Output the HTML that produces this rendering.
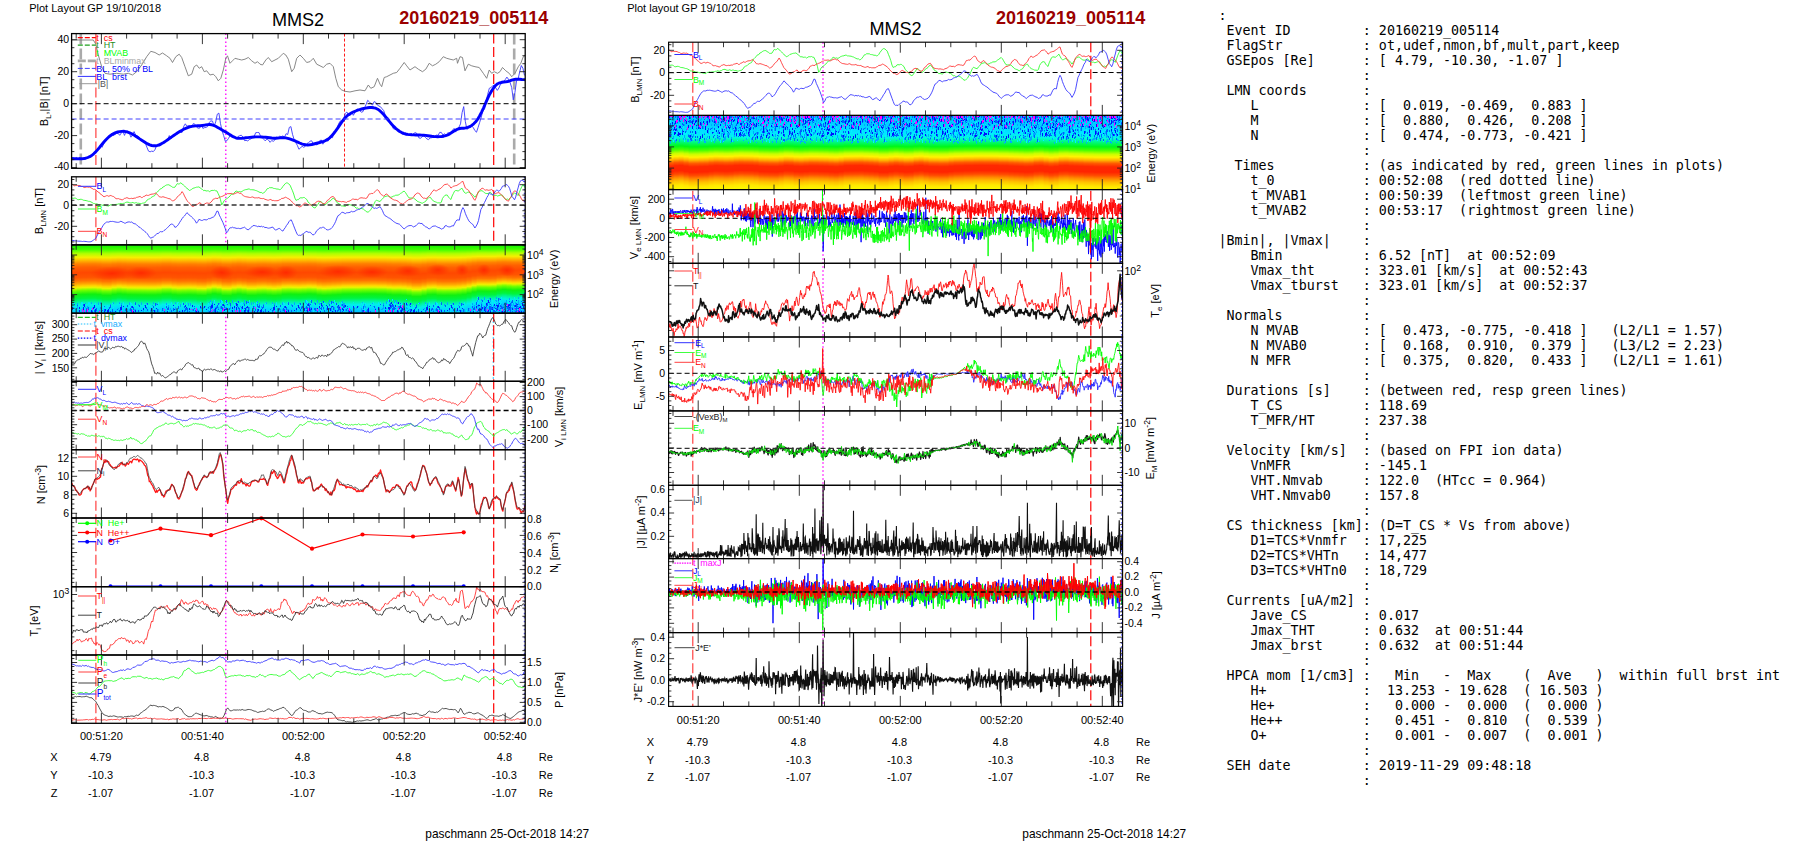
<!DOCTYPE html>
<html lang="en"><head><meta charset="utf-8"><title>MMS2 20160219_005114</title>
<style>
html,body{margin:0;padding:0;background:#fff}
body{width:1804px;height:841px;position:relative;overflow:hidden}
pre{position:absolute;left:1218.4px;top:8px;margin:0;font-family:"DejaVu Sans Mono","Liberation Mono",monospace;font-size:13.333px;line-height:15px;color:#000;white-space:pre}
</style></head><body>
<svg width="1804" height="841" viewBox="0 0 1804 841" font-family="'Liberation Sans', Arial, sans-serif" style="position:absolute;left:0;top:0">
<rect width="1804" height="841" fill="#fff"/>
<defs>
<clipPath id="cl0"><rect x="71.6" y="33.6" width="453.6" height="134.7"/></clipPath>
<clipPath id="cl1"><rect x="71.6" y="176.8" width="453.6" height="68.1"/></clipPath>
<clipPath id="cl2"><rect x="71.6" y="244.8" width="453.6" height="68.4"/></clipPath>
<clipPath id="cl3"><rect x="71.6" y="313.2" width="453.6" height="68.1"/></clipPath>
<clipPath id="cl4"><rect x="71.6" y="381.3" width="453.6" height="68.4"/></clipPath>
<clipPath id="cl5"><rect x="71.6" y="449.7" width="453.6" height="68.3"/></clipPath>
<clipPath id="cl6"><rect x="71.6" y="518" width="453.6" height="68.7"/></clipPath>
<clipPath id="cl7"><rect x="71.6" y="586.7" width="453.6" height="68.3"/></clipPath>
<clipPath id="cl8"><rect x="71.6" y="655" width="453.6" height="68.3"/></clipPath>
<clipPath id="cr0"><rect x="668.6" y="42.2" width="454" height="73.2"/></clipPath>
<clipPath id="cr1"><rect x="668.6" y="115.4" width="454" height="74.2"/></clipPath>
<clipPath id="cr2"><rect x="668.6" y="189.6" width="454" height="73.7"/></clipPath>
<clipPath id="cr3"><rect x="668.6" y="263.3" width="454" height="73.7"/></clipPath>
<clipPath id="cr4"><rect x="668.6" y="337" width="454" height="73.9"/></clipPath>
<clipPath id="cr5"><rect x="668.6" y="410.9" width="454" height="74.4"/></clipPath>
<clipPath id="cr6"><rect x="668.6" y="485.3" width="454" height="73.3"/></clipPath>
<clipPath id="cr7"><rect x="668.6" y="558.6" width="454" height="74"/></clipPath>
<clipPath id="cr8"><rect x="668.6" y="632.6" width="454" height="73.8"/></clipPath>
</defs>
<text x="29.2" y="12" font-size="11">Plot Layout GP 19/10/2018</text>
<text x="271.9" y="26" font-size="18.1">MMS2</text>
<text x="399.2" y="24" font-size="18.0" font-weight="bold" fill="#9b0000">20160219_005114</text>
<text x="627.2" y="12" font-size="11">Plot layout GP 19/10/2018</text>
<text x="869.4" y="34.5" font-size="18.1">MMS2</text>
<text x="996" y="24.2" font-size="18.0" font-weight="bold" fill="#9b0000">20160219_005114</text>
<text x="425.3" y="838" font-size="11.9">paschmann 25-Oct-2018 14:27</text>
<text x="1022.3" y="838" font-size="11.9">paschmann 25-Oct-2018 14:27</text>
<line x1="80.8" y1="33.6" x2="80.8" y2="168.2" stroke="#aaa" stroke-width="2.6" stroke-dasharray="11 4"/>
<line x1="514.2" y1="33.6" x2="514.2" y2="168.2" stroke="#aaa" stroke-width="2.6" stroke-dasharray="11 4"/>
<line x1="344.5" y1="33.6" x2="344.5" y2="168.2" stroke="#ff0000" stroke-width="0.9" stroke-dasharray="3 2"/>
<line x1="493.3" y1="313.2" x2="493.3" y2="381.3" stroke="#00c0ff" stroke-width="1.2" stroke-dasharray="1.5 2.5"/>
<line x1="95.9" y1="33.6" x2="95.9" y2="168.2" stroke="#ff3030" stroke-width="1.1" stroke-dasharray="10 3.5"/>
<line x1="493.7" y1="33.6" x2="493.7" y2="168.2" stroke="#ff0000" stroke-width="1.2" stroke-dasharray="10 3.5"/>
<line x1="225.8" y1="33.6" x2="225.8" y2="168.2" stroke="#ff00ff" stroke-width="1.3" stroke-dasharray="1.5 2.5"/>
<line x1="95.9" y1="176.8" x2="95.9" y2="723.3" stroke="#ff3030" stroke-width="1.1" stroke-dasharray="10 3.5"/>
<line x1="493.7" y1="176.8" x2="493.7" y2="723.3" stroke="#ff0000" stroke-width="1.2" stroke-dasharray="10 3.5"/>
<line x1="225.8" y1="176.8" x2="225.8" y2="723.3" stroke="#ff00ff" stroke-width="1.3" stroke-dasharray="1.5 2.5"/>
<line x1="692.8" y1="42.2" x2="692.8" y2="706.4" stroke="#ff3030" stroke-width="1.1" stroke-dasharray="10 3.5"/>
<line x1="1090.8" y1="42.2" x2="1090.8" y2="706.4" stroke="#ff0000" stroke-width="1.2" stroke-dasharray="10 3.5"/>
<line x1="823" y1="42.2" x2="823" y2="706.4" stroke="#ff00ff" stroke-width="1.3" stroke-dasharray="1.5 2.5"/>
<linearGradient id="sgl" x1="0" y1="0" x2="0" y2="1">
<stop offset="0.0" stop-color="#10ee00"/>
<stop offset="0.07" stop-color="#40ff00"/>
<stop offset="0.13" stop-color="#b0ff00"/>
<stop offset="0.185" stop-color="#f4f000"/>
<stop offset="0.235" stop-color="#ffb400"/>
<stop offset="0.28" stop-color="#ff8000"/>
<stop offset="0.33" stop-color="#ff6000"/>
<stop offset="0.41" stop-color="#ff4800"/>
<stop offset="0.48" stop-color="#ff5400"/>
<stop offset="0.53" stop-color="#ff7400"/>
<stop offset="0.575" stop-color="#ffa800"/>
<stop offset="0.605" stop-color="#ffd400"/>
<stop offset="0.63" stop-color="#e8f400"/>
<stop offset="0.67" stop-color="#70ff00"/>
<stop offset="0.73" stop-color="#10f010"/>
<stop offset="0.79" stop-color="#00f440"/>
<stop offset="0.84" stop-color="#00f4a0"/>
<stop offset="0.885" stop-color="#00f0e8"/>
<stop offset="0.94" stop-color="#00d8ff"/>
<stop offset="1.0" stop-color="#00c0ff"/>
</linearGradient>
<rect x="71.6" y="244.8" width="453.6" height="68.4" fill="#00c0ff"/>
<g clip-path="url(#cl2)">
<rect x="71.6" y="244.8" width="5.6" height="69.1" fill="url(#sgl)"/>
<rect x="76.6" y="244.8" width="5.6" height="68.2" fill="url(#sgl)"/>
<rect x="81.6" y="244.8" width="5.6" height="67.9" fill="url(#sgl)"/>
<rect x="86.6" y="244.8" width="5.6" height="67.7" fill="url(#sgl)"/>
<rect x="91.6" y="244.8" width="5.6" height="67.6" fill="url(#sgl)"/>
<rect x="96.6" y="244.8" width="5.6" height="68.1" fill="url(#sgl)"/>
<rect x="101.6" y="244.8" width="5.6" height="69.1" fill="url(#sgl)"/>
<rect x="106.6" y="244.8" width="5.6" height="69.2" fill="url(#sgl)"/>
<rect x="111.6" y="244.8" width="5.6" height="68" fill="url(#sgl)"/>
<rect x="116.6" y="244.8" width="5.6" height="67.2" fill="url(#sgl)"/>
<rect x="121.6" y="244.8" width="5.6" height="67.7" fill="url(#sgl)"/>
<rect x="126.6" y="244.8" width="5.6" height="68.3" fill="url(#sgl)"/>
<rect x="131.6" y="244.8" width="5.6" height="68.4" fill="url(#sgl)"/>
<rect x="136.6" y="244.8" width="5.6" height="68.5" fill="url(#sgl)"/>
<rect x="141.6" y="244.8" width="5.6" height="68.6" fill="url(#sgl)"/>
<rect x="146.6" y="244.8" width="5.6" height="68.7" fill="url(#sgl)"/>
<rect x="151.6" y="244.8" width="5.6" height="68.7" fill="url(#sgl)"/>
<rect x="156.6" y="244.8" width="5.6" height="68.4" fill="url(#sgl)"/>
<rect x="161.6" y="244.8" width="5.6" height="67.5" fill="url(#sgl)"/>
<rect x="166.6" y="244.8" width="5.6" height="67.4" fill="url(#sgl)"/>
<rect x="171.6" y="244.8" width="5.6" height="68.3" fill="url(#sgl)"/>
<rect x="176.6" y="244.8" width="5.6" height="68.8" fill="url(#sgl)"/>
<rect x="181.6" y="244.8" width="5.6" height="68.6" fill="url(#sgl)"/>
<rect x="186.6" y="244.8" width="5.6" height="68.4" fill="url(#sgl)"/>
<rect x="191.6" y="244.8" width="5.6" height="68.6" fill="url(#sgl)"/>
<rect x="196.6" y="244.8" width="5.6" height="69.2" fill="url(#sgl)"/>
<rect x="201.6" y="244.8" width="5.6" height="69.4" fill="url(#sgl)"/>
<rect x="206.6" y="244.8" width="5.6" height="68.2" fill="url(#sgl)"/>
<rect x="211.6" y="244.8" width="5.6" height="67" fill="url(#sgl)"/>
<rect x="216.6" y="244.8" width="5.6" height="67.7" fill="url(#sgl)"/>
<rect x="221.6" y="244.8" width="5.6" height="69.4" fill="url(#sgl)"/>
<rect x="226.6" y="244.8" width="5.6" height="69.6" fill="url(#sgl)"/>
<rect x="231.6" y="244.8" width="5.6" height="68.3" fill="url(#sgl)"/>
<rect x="236.6" y="244.8" width="5.6" height="67.4" fill="url(#sgl)"/>
<rect x="241.6" y="244.8" width="5.6" height="68.2" fill="url(#sgl)"/>
<rect x="246.6" y="244.8" width="5.6" height="69.2" fill="url(#sgl)"/>
<rect x="251.6" y="244.8" width="5.6" height="69.2" fill="url(#sgl)"/>
<rect x="256.6" y="244.8" width="5.6" height="68.6" fill="url(#sgl)"/>
<rect x="261.6" y="244.8" width="5.6" height="68.4" fill="url(#sgl)"/>
<rect x="266.6" y="244.8" width="5.6" height="68.9" fill="url(#sgl)"/>
<rect x="271.6" y="244.8" width="5.6" height="69.4" fill="url(#sgl)"/>
<rect x="276.6" y="244.8" width="5.6" height="68.9" fill="url(#sgl)"/>
<rect x="281.6" y="244.8" width="5.6" height="67.7" fill="url(#sgl)"/>
<rect x="286.6" y="244.8" width="5.6" height="67.5" fill="url(#sgl)"/>
<rect x="291.6" y="244.8" width="5.6" height="67.7" fill="url(#sgl)"/>
<rect x="296.6" y="244.8" width="5.6" height="67.9" fill="url(#sgl)"/>
<rect x="301.6" y="244.8" width="5.6" height="67.6" fill="url(#sgl)"/>
<rect x="306.6" y="244.8" width="5.6" height="67.2" fill="url(#sgl)"/>
<rect x="311.6" y="244.8" width="5.6" height="67.5" fill="url(#sgl)"/>
<rect x="316.6" y="244.8" width="5.6" height="68.7" fill="url(#sgl)"/>
<rect x="321.6" y="244.8" width="5.6" height="69.2" fill="url(#sgl)"/>
<rect x="326.6" y="244.8" width="5.6" height="68.9" fill="url(#sgl)"/>
<rect x="331.6" y="244.8" width="5.6" height="68.5" fill="url(#sgl)"/>
<rect x="336.6" y="244.8" width="5.6" height="68.2" fill="url(#sgl)"/>
<rect x="341.6" y="244.8" width="5.6" height="67.6" fill="url(#sgl)"/>
<rect x="346.6" y="244.8" width="5.6" height="67.5" fill="url(#sgl)"/>
<rect x="351.6" y="244.8" width="5.6" height="67.5" fill="url(#sgl)"/>
<rect x="356.6" y="244.8" width="5.6" height="67.5" fill="url(#sgl)"/>
<rect x="361.6" y="244.8" width="5.6" height="67.3" fill="url(#sgl)"/>
<rect x="366.6" y="244.8" width="5.6" height="67.2" fill="url(#sgl)"/>
<rect x="371.6" y="244.8" width="5.6" height="67.2" fill="url(#sgl)"/>
<rect x="376.6" y="244.8" width="5.6" height="67.4" fill="url(#sgl)"/>
<rect x="381.6" y="244.8" width="5.6" height="67.5" fill="url(#sgl)"/>
<rect x="386.6" y="244.8" width="5.6" height="68.1" fill="url(#sgl)"/>
<rect x="391.6" y="244.8" width="5.6" height="68.6" fill="url(#sgl)"/>
<rect x="396.6" y="244.8" width="5.6" height="68.5" fill="url(#sgl)"/>
<rect x="401.6" y="244.8" width="5.6" height="68.9" fill="url(#sgl)"/>
<rect x="406.6" y="244.8" width="5.6" height="69.7" fill="url(#sgl)"/>
<rect x="411.6" y="244.8" width="5.6" height="71" fill="url(#sgl)"/>
<rect x="416.6" y="244.8" width="5.6" height="71" fill="url(#sgl)"/>
<rect x="421.6" y="244.8" width="5.6" height="69.8" fill="url(#sgl)"/>
<rect x="426.6" y="244.8" width="5.6" height="68.3" fill="url(#sgl)"/>
<rect x="431.6" y="244.8" width="5.6" height="68" fill="url(#sgl)"/>
<rect x="436.6" y="244.8" width="5.6" height="69" fill="url(#sgl)"/>
<rect x="441.6" y="244.8" width="5.6" height="69.2" fill="url(#sgl)"/>
<rect x="446.6" y="244.8" width="5.6" height="69.1" fill="url(#sgl)"/>
<rect x="451.6" y="244.8" width="5.6" height="69.1" fill="url(#sgl)"/>
<rect x="456.6" y="244.8" width="5.6" height="68.6" fill="url(#sgl)"/>
<rect x="461.6" y="244.8" width="5.6" height="67.9" fill="url(#sgl)"/>
<rect x="466.6" y="244.8" width="5.6" height="66.4" fill="url(#sgl)"/>
<rect x="471.6" y="244.8" width="5.6" height="64.6" fill="url(#sgl)"/>
<rect x="476.6" y="244.8" width="5.6" height="63.3" fill="url(#sgl)"/>
<rect x="481.6" y="244.8" width="5.6" height="63.4" fill="url(#sgl)"/>
<rect x="486.6" y="244.8" width="5.6" height="63.5" fill="url(#sgl)"/>
<rect x="491.6" y="244.8" width="5.6" height="63.2" fill="url(#sgl)"/>
<rect x="496.6" y="244.8" width="5.6" height="61.8" fill="url(#sgl)"/>
<rect x="501.6" y="244.8" width="5.6" height="61.2" fill="url(#sgl)"/>
<rect x="506.6" y="244.8" width="5.6" height="61.7" fill="url(#sgl)"/>
<rect x="511.6" y="244.8" width="5.6" height="62.2" fill="url(#sgl)"/>
<rect x="516.6" y="244.8" width="5.6" height="61.9" fill="url(#sgl)"/>
<rect x="521.6" y="244.8" width="3.6" height="61.1" fill="url(#sgl)"/>
</g>
<pattern id="sgln" x="71" y="302" width="153" height="12" patternUnits="userSpaceOnUse">
<path d="M85.5 3v3M130.5 4v2M78.5 7v2M46.5 9v1M136.5 4v1M60.5 1v3M94.5 2v2M127.5 3v1M29.5 9v2M119.5 2v2M128.5 4v2M76.5 3v1M42.5 5v1M48.5 1v2M4.5 4v1M129.5 4v3M2.5 10v1M141.5 8v1M149.5 3v3M86.5 4v2M41.5 1v1M2.5 5v3M18.5 0v2M1.5 0v3M27.5 0v2M29.5 4v2M58.5 3v3M32.5 4v2M149.5 0v2M3.5 0v2M130.5 6v1M22.5 8v3M118.5 6v2M59.5 1v1M89.5 8v2M56.5 8v3M89.5 8v2M27.5 0v2M34.5 6v2M24.5 1v2M59.5 0v3M64.5 3v1M78.5 8v2M107.5 7v2M138.5 3v3M26.5 7v1M73.5 9v1M140.5 6v2M10.5 0v3M9.5 4v2M81.5 6v2M21.5 7v3M100.5 0v2M141.5 1v3M107.5 0v1M97.5 8v3M47.5 9v2M11.5 0v2M137.5 1v2M139.5 0v2M72.5 9v1M63.5 0v1M87.5 0v3M1.5 6v1M97.5 9v2M111.5 0v3M106.5 0v3M128.5 5v1M78.5 3v2M73.5 2v2M17.5 0v3M1.5 6v2M93.5 8v2M52.5 0v3M36.5 3v3M30.5 1v3M115.5 0v2M58.5 0v2M20.5 7v2M129.5 0v1" stroke="#00e8ff" stroke-width="1" fill="none"/>
<path d="M42.5 0v2M72.5 9v2M58.5 0v3M109.5 2v3M126.5 7v2M6.5 1v2M47.5 6v1M61.5 4v2M126.5 9v2M121.5 3v1M96.5 6v2M104.5 0v2M39.5 2v1M81.5 3v1M41.5 9v2M144.5 5v2M121.5 7v2M142.5 8v3M69.5 10v1M87.5 7v2M99.5 6v2M132.5 10v1M137.5 9v1M82.5 0v2M109.5 9v1M12.5 6v3M64.5 7v2M4.5 7v1M5.5 6v2M140.5 2v3M79.5 8v3M75.5 1v1M67.5 2v2M85.5 1v2M129.5 5v2M58.5 7v2M21.5 7v2M30.5 6v1M92.5 6v1M6.5 4v3M151.5 6v1M105.5 7v1M70.5 0v3M72.5 8v2M137.5 6v3M16.5 4v3M141.5 4v2M149.5 4v1M34.5 8v2M54.5 6v3M111.5 10v1M95.5 1v2M134.5 4v1M63.5 7v2M132.5 5v2M130.5 5v2M113.5 8v2M48.5 0v2M29.5 0v2M20.5 0v2M13.5 8v3M127.5 8v3M107.5 5v2M104.5 7v1M87.5 9v2M148.5 1v1M97.5 3v2M104.5 5v2M73.5 3v1M84.5 8v3M28.5 9v2M24.5 9v2M14.5 1v1M104.5 10v1M50.5 1v3M54.5 6v2M2.5 5v1M27.5 0v3M56.5 7v2M14.5 5v1M12.5 6v3M29.5 5v2M39.5 3v1M119.5 1v3M50.5 9v2M117.5 1v3M28.5 8v2M15.5 7v2M138.5 0v1M144.5 8v2" stroke="#00a8ff" stroke-width="1" fill="none"/>
<path d="M100.5 8v2M59.5 6v3M107.5 4v3M3.5 2v1M39.5 3v3M116.5 6v3M39.5 9v2M84.5 1v3M86.5 2v1M123.5 6v1M102.5 7v1M143.5 7v3M25.5 6v3M91.5 6v3M64.5 0v3M55.5 6v2M41.5 7v2M114.5 6v1M37.5 10v1M62.5 5v3M48.5 8v3M151.5 9v2M138.5 8v3M38.5 5v2M15.5 8v3M146.5 9v2M17.5 5v3M31.5 8v1M23.5 8v2M102.5 6v3M97.5 5v3M113.5 8v2M112.5 1v2M76.5 7v2M95.5 4v2M93.5 9v2M115.5 6v2M76.5 1v2M6.5 3v1M39.5 10v1M15.5 6v2M13.5 9v2M96.5 6v2M54.5 7v2M113.5 9v1M68.5 3v2M114.5 6v3M56.5 3v2M116.5 9v2M56.5 9v1M49.5 8v1M86.5 7v3M118.5 9v1M139.5 9v1M75.5 5v2M21.5 9v2M50.5 6v1M67.5 8v2M122.5 7v2M33.5 7v2M126.5 10v1M60.5 7v3M113.5 4v2M82.5 4v2M116.5 9v2M33.5 4v1M86.5 7v1M123.5 6v1M46.5 7v1M41.5 9v1M12.5 2v2M124.5 8v3M33.5 9v2M60.5 4v2M50.5 3v2M82.5 8v1M139.5 4v3M150.5 4v2M123.5 4v1M146.5 3v1" stroke="#0060ff" stroke-width="1" fill="none"/>
<path d="M108.5 9v1M64.5 8v2M24.5 8v3M49.5 5v3M44.5 9v1M111.5 8v2M118.5 6v2M115.5 5v1M139.5 8v1M30.5 9v2M36.5 8v3M34.5 7v2M61.5 4v2M144.5 6v3M74.5 3v3M52.5 4v1M33.5 9v1M20.5 8v3M121.5 3v2M8.5 5v2M133.5 4v2M37.5 7v3M24.5 7v2M22.5 5v2M151.5 7v2M8.5 8v2M125.5 9v2M12.5 5v2M80.5 6v3M12.5 6v2M28.5 9v2M13.5 2v3M83.5 8v3M127.5 9v2M62.5 9v2M102.5 3v1M105.5 10v1M103.5 7v1M1.5 5v3M72.5 6v2M70.5 8v1M129.5 4v2M23.5 3v3M114.5 3v2M85.5 6v1M30.5 10v1M144.5 8v3M50.5 5v3M21.5 10v1M96.5 9v2" stroke="#0020ff" stroke-width="1" fill="none"/>
<path d="M61.5 8v3M13.5 8v2M151.5 8v3M11.5 7v3M21.5 6v2M125.5 6v3M140.5 9v1M93.5 7v2M120.5 7v1M28.5 9v2M16.5 7v3M50.5 9v2" stroke="#ff00ff" stroke-width="1" fill="none"/>
</pattern>
<rect x="71.6" y="302.3" width="453.6" height="10.9" fill="url(#sgln)"/>
<radialGradient id="rb"><stop offset="0" stop-color="#ff2000" stop-opacity="0.75"/><stop offset="0.55" stop-color="#ff2800" stop-opacity="0.4"/><stop offset="1" stop-color="#ff3000" stop-opacity="0"/></radialGradient>
<ellipse cx="112" cy="273.5" rx="22" ry="7" fill="url(#rb)" clip-path="url(#cl2)"/>
<ellipse cx="141" cy="273" rx="16" ry="6.5" fill="url(#rb)" clip-path="url(#cl2)"/>
<ellipse cx="222" cy="272.5" rx="12" ry="7" fill="url(#rb)" clip-path="url(#cl2)"/>
<ellipse cx="262" cy="272" rx="18" ry="6" fill="url(#rb)" clip-path="url(#cl2)"/>
<ellipse cx="286" cy="272.5" rx="12" ry="7" fill="url(#rb)" clip-path="url(#cl2)"/>
<ellipse cx="338" cy="271.5" rx="20" ry="6.5" fill="url(#rb)" clip-path="url(#cl2)"/>
<ellipse cx="372" cy="272" rx="16" ry="6" fill="url(#rb)" clip-path="url(#cl2)"/>
<ellipse cx="408" cy="271" rx="14" ry="6" fill="url(#rb)" clip-path="url(#cl2)"/>
<ellipse cx="438" cy="270" rx="12" ry="6" fill="url(#rb)" clip-path="url(#cl2)"/>
<ellipse cx="462" cy="270" rx="7" ry="6" fill="url(#rb)" clip-path="url(#cl2)"/>
<ellipse cx="484" cy="270" rx="7" ry="6" fill="url(#rb)" clip-path="url(#cl2)"/>
<ellipse cx="507" cy="270.5" rx="9" ry="6" fill="url(#rb)" clip-path="url(#cl2)"/>
<g clip-path="url(#cl2)"><g transform="translate(37 -5)"><rect x="439" y="302" width="49.2" height="12" fill="url(#sgln)"/></g></g>
<g clip-path="url(#cl2)"><g transform="translate(71 -2)"><rect x="405" y="302" width="49.2" height="12" fill="url(#sgln)"/></g></g>
<g clip-path="url(#cl2)"><g transform="translate(17 0)"><rect x="467" y="302" width="41.2" height="12" fill="url(#sgln)"/></g></g>
<g clip-path="url(#cl2)"><g transform="translate(53 -3)"><rect x="333" y="302" width="26" height="12" fill="url(#sgln)"/></g></g>
<g clip-path="url(#cl2)"><g transform="translate(23 -2)"><rect x="277" y="302" width="45" height="12" fill="url(#sgln)"/></g></g>
<g clip-path="url(#cl2)"><g transform="translate(91 -2)"><rect x="114" y="302" width="57" height="12" fill="url(#sgln)"/></g></g>
<linearGradient id="sgr" x1="0" y1="0" x2="0" y2="1">
<stop offset="0.0" stop-color="#00c0ff"/>
<stop offset="0.12" stop-color="#00d0ff"/>
<stop offset="0.24" stop-color="#00e8ff"/>
<stop offset="0.3" stop-color="#00f8d8"/>
<stop offset="0.35" stop-color="#00f880"/>
<stop offset="0.41" stop-color="#00f818"/>
<stop offset="0.46" stop-color="#50ff00"/>
<stop offset="0.505" stop-color="#c8ff00"/>
<stop offset="0.545" stop-color="#fff400"/>
<stop offset="0.585" stop-color="#ffb400"/>
<stop offset="0.625" stop-color="#ff5c00"/>
<stop offset="0.67" stop-color="#ff2800"/>
<stop offset="0.74" stop-color="#ff2400"/>
<stop offset="0.785" stop-color="#ff4c00"/>
<stop offset="0.83" stop-color="#ff8c00"/>
<stop offset="0.875" stop-color="#ffc000"/>
<stop offset="0.93" stop-color="#ffe800"/>
<stop offset="1.0" stop-color="#f8ff00"/>
</linearGradient>
<rect x="668.6" y="115.4" width="454" height="74.2" fill="#f8ff00"/>
<g clip-path="url(#cr1)">
<rect x="668.6" y="115.4" width="5.6" height="76.2" fill="url(#sgr)"/>
<rect x="673.6" y="115.4" width="5.6" height="75.1" fill="url(#sgr)"/>
<rect x="678.6" y="115.4" width="5.6" height="74.7" fill="url(#sgr)"/>
<rect x="683.6" y="115.4" width="5.6" height="75.7" fill="url(#sgr)"/>
<rect x="688.6" y="115.4" width="5.6" height="76.8" fill="url(#sgr)"/>
<rect x="693.6" y="115.4" width="5.6" height="76.7" fill="url(#sgr)"/>
<rect x="698.6" y="115.4" width="5.6" height="76.4" fill="url(#sgr)"/>
<rect x="703.6" y="115.4" width="5.6" height="76.2" fill="url(#sgr)"/>
<rect x="708.6" y="115.4" width="5.6" height="75.5" fill="url(#sgr)"/>
<rect x="713.6" y="115.4" width="5.6" height="75" fill="url(#sgr)"/>
<rect x="718.6" y="115.4" width="5.6" height="75.2" fill="url(#sgr)"/>
<rect x="723.6" y="115.4" width="5.6" height="75.5" fill="url(#sgr)"/>
<rect x="728.6" y="115.4" width="5.6" height="75.3" fill="url(#sgr)"/>
<rect x="733.6" y="115.4" width="5.6" height="74.7" fill="url(#sgr)"/>
<rect x="738.6" y="115.4" width="5.6" height="74.4" fill="url(#sgr)"/>
<rect x="743.6" y="115.4" width="5.6" height="74.6" fill="url(#sgr)"/>
<rect x="748.6" y="115.4" width="5.6" height="74.7" fill="url(#sgr)"/>
<rect x="753.6" y="115.4" width="5.6" height="75.1" fill="url(#sgr)"/>
<rect x="758.6" y="115.4" width="5.6" height="75.9" fill="url(#sgr)"/>
<rect x="763.6" y="115.4" width="5.6" height="76.1" fill="url(#sgr)"/>
<rect x="768.6" y="115.4" width="5.6" height="76.3" fill="url(#sgr)"/>
<rect x="773.6" y="115.4" width="5.6" height="76.4" fill="url(#sgr)"/>
<rect x="778.6" y="115.4" width="5.6" height="75.8" fill="url(#sgr)"/>
<rect x="783.6" y="115.4" width="5.6" height="74.9" fill="url(#sgr)"/>
<rect x="788.6" y="115.4" width="5.6" height="75.1" fill="url(#sgr)"/>
<rect x="793.6" y="115.4" width="5.6" height="75.9" fill="url(#sgr)"/>
<rect x="798.6" y="115.4" width="5.6" height="76.2" fill="url(#sgr)"/>
<rect x="803.6" y="115.4" width="5.6" height="75.8" fill="url(#sgr)"/>
<rect x="808.6" y="115.4" width="5.6" height="75.4" fill="url(#sgr)"/>
<rect x="813.6" y="115.4" width="5.6" height="75.5" fill="url(#sgr)"/>
<rect x="818.6" y="115.4" width="5.6" height="75.7" fill="url(#sgr)"/>
<rect x="823.6" y="115.4" width="5.6" height="75.9" fill="url(#sgr)"/>
<rect x="828.6" y="115.4" width="5.6" height="76.3" fill="url(#sgr)"/>
<rect x="833.6" y="115.4" width="5.6" height="76.6" fill="url(#sgr)"/>
<rect x="838.6" y="115.4" width="5.6" height="76" fill="url(#sgr)"/>
<rect x="843.6" y="115.4" width="5.6" height="75.1" fill="url(#sgr)"/>
<rect x="848.6" y="115.4" width="5.6" height="75" fill="url(#sgr)"/>
<rect x="853.6" y="115.4" width="5.6" height="74.9" fill="url(#sgr)"/>
<rect x="858.6" y="115.4" width="5.6" height="74.8" fill="url(#sgr)"/>
<rect x="863.6" y="115.4" width="5.6" height="75.2" fill="url(#sgr)"/>
<rect x="868.6" y="115.4" width="5.6" height="75.5" fill="url(#sgr)"/>
<rect x="873.6" y="115.4" width="5.6" height="75.9" fill="url(#sgr)"/>
<rect x="878.6" y="115.4" width="5.6" height="76.8" fill="url(#sgr)"/>
<rect x="883.6" y="115.4" width="5.6" height="76.8" fill="url(#sgr)"/>
<rect x="888.6" y="115.4" width="5.6" height="76" fill="url(#sgr)"/>
<rect x="893.6" y="115.4" width="5.6" height="75.4" fill="url(#sgr)"/>
<rect x="898.6" y="115.4" width="5.6" height="75.9" fill="url(#sgr)"/>
<rect x="903.6" y="115.4" width="5.6" height="76.5" fill="url(#sgr)"/>
<rect x="908.6" y="115.4" width="5.6" height="76.3" fill="url(#sgr)"/>
<rect x="913.6" y="115.4" width="5.6" height="75.2" fill="url(#sgr)"/>
<rect x="918.6" y="115.4" width="5.6" height="74.8" fill="url(#sgr)"/>
<rect x="923.6" y="115.4" width="5.6" height="75.6" fill="url(#sgr)"/>
<rect x="928.6" y="115.4" width="5.6" height="76.3" fill="url(#sgr)"/>
<rect x="933.6" y="115.4" width="5.6" height="76.4" fill="url(#sgr)"/>
<rect x="938.6" y="115.4" width="5.6" height="76.6" fill="url(#sgr)"/>
<rect x="943.6" y="115.4" width="5.6" height="76.5" fill="url(#sgr)"/>
<rect x="948.6" y="115.4" width="5.6" height="75.8" fill="url(#sgr)"/>
<rect x="953.6" y="115.4" width="5.6" height="75.3" fill="url(#sgr)"/>
<rect x="958.6" y="115.4" width="5.6" height="75.2" fill="url(#sgr)"/>
<rect x="963.6" y="115.4" width="5.6" height="74.9" fill="url(#sgr)"/>
<rect x="968.6" y="115.4" width="5.6" height="74.9" fill="url(#sgr)"/>
<rect x="973.6" y="115.4" width="5.6" height="74.7" fill="url(#sgr)"/>
<rect x="978.6" y="115.4" width="5.6" height="74.6" fill="url(#sgr)"/>
<rect x="983.6" y="115.4" width="5.6" height="74.7" fill="url(#sgr)"/>
<rect x="988.6" y="115.4" width="5.6" height="74.7" fill="url(#sgr)"/>
<rect x="993.6" y="115.4" width="5.6" height="74.8" fill="url(#sgr)"/>
<rect x="998.6" y="115.4" width="5.6" height="75.1" fill="url(#sgr)"/>
<rect x="1003.6" y="115.4" width="5.6" height="75.2" fill="url(#sgr)"/>
<rect x="1008.6" y="115.4" width="5.6" height="75.6" fill="url(#sgr)"/>
<rect x="1013.6" y="115.4" width="5.6" height="75.9" fill="url(#sgr)"/>
<rect x="1018.6" y="115.4" width="5.6" height="76.2" fill="url(#sgr)"/>
<rect x="1023.6" y="115.4" width="5.6" height="76.6" fill="url(#sgr)"/>
<rect x="1028.6" y="115.4" width="5.6" height="76.4" fill="url(#sgr)"/>
<rect x="1033.6" y="115.4" width="5.6" height="75.4" fill="url(#sgr)"/>
<rect x="1038.6" y="115.4" width="5.6" height="75.1" fill="url(#sgr)"/>
<rect x="1043.6" y="115.4" width="5.6" height="76" fill="url(#sgr)"/>
<rect x="1048.6" y="115.4" width="5.6" height="76.8" fill="url(#sgr)"/>
<rect x="1053.6" y="115.4" width="5.6" height="76.3" fill="url(#sgr)"/>
<rect x="1058.6" y="115.4" width="5.6" height="75.1" fill="url(#sgr)"/>
<rect x="1063.6" y="115.4" width="5.6" height="74.9" fill="url(#sgr)"/>
<rect x="1068.6" y="115.4" width="5.6" height="75.4" fill="url(#sgr)"/>
<rect x="1073.6" y="115.4" width="5.6" height="75.7" fill="url(#sgr)"/>
<rect x="1078.6" y="115.4" width="5.6" height="75.9" fill="url(#sgr)"/>
<rect x="1083.6" y="115.4" width="5.6" height="76.3" fill="url(#sgr)"/>
<rect x="1088.6" y="115.4" width="5.6" height="76.4" fill="url(#sgr)"/>
<rect x="1093.6" y="115.4" width="5.6" height="76.7" fill="url(#sgr)"/>
<rect x="1098.6" y="115.4" width="5.6" height="76.8" fill="url(#sgr)"/>
<rect x="1103.6" y="115.4" width="5.6" height="76.8" fill="url(#sgr)"/>
<rect x="1108.6" y="115.4" width="5.6" height="76.8" fill="url(#sgr)"/>
<rect x="1113.6" y="115.4" width="5.6" height="76.8" fill="url(#sgr)"/>
<rect x="1118.6" y="115.4" width="4" height="76.9" fill="url(#sgr)"/>
</g>
<pattern id="sgrn" x="668" y="115" width="153" height="29" patternUnits="userSpaceOnUse">
<path d="M145.5 24v1M46.5 1v3M19.5 15v2M2.5 9v3M16.5 24v3M78.5 13v3M8.5 11v1M100.5 17v2M55.5 25v2M43.5 25v2M124.5 16v2M90.5 20v3M25.5 19v2M103.5 15v2M12.5 16v3M42.5 1v2M50.5 22v2M82.5 23v3M39.5 16v1M18.5 17v3M83.5 8v1M25.5 24v1M63.5 2v1M34.5 6v1M123.5 25v1M151.5 15v1M149.5 11v3M5.5 14v2M30.5 14v3M33.5 25v1M99.5 16v2M64.5 8v1M52.5 13v3M136.5 22v3M146.5 3v2M65.5 16v2M85.5 21v1M16.5 22v2M85.5 10v3M145.5 8v1M105.5 10v1M85.5 8v3M151.5 21v2M57.5 0v2M61.5 20v1M68.5 6v3M64.5 25v2M105.5 14v2M45.5 15v1M9.5 7v3M2.5 11v3M44.5 17v2M123.5 12v2M52.5 25v3M135.5 2v3M135.5 20v2M58.5 19v2M22.5 25v2M70.5 4v1M117.5 9v1M39.5 23v1M150.5 8v3M123.5 2v2M86.5 7v1M77.5 6v2M11.5 9v2M18.5 2v2M20.5 25v2M45.5 24v2M117.5 16v1M90.5 17v2M53.5 1v2M31.5 23v3M115.5 25v2M131.5 15v3M81.5 18v2M141.5 20v2M100.5 13v2M150.5 11v2M6.5 22v3M32.5 11v2M62.5 7v1M112.5 2v3M90.5 22v3M146.5 11v1M68.5 18v2M56.5 12v3M82.5 25v3M27.5 22v3M101.5 25v3M69.5 25v1M58.5 12v1M64.5 20v2M113.5 25v2M21.5 20v1M124.5 20v3M18.5 16v1M105.5 13v2M2.5 4v2M30.5 15v2M47.5 21v2M139.5 13v2M113.5 10v2M87.5 21v2M119.5 2v2M17.5 18v2M16.5 25v1M147.5 22v1M146.5 20v1M41.5 15v3M98.5 25v2M100.5 24v1M20.5 18v2M112.5 14v2M141.5 8v3M87.5 20v3M97.5 21v2M2.5 5v3M75.5 0v3M102.5 10v1M31.5 22v1M21.5 5v1M65.5 17v2M79.5 22v2M40.5 22v1M109.5 22v2M65.5 4v1M76.5 7v2M15.5 21v2M96.5 5v3M24.5 14v2M86.5 10v1M112.5 21v2M57.5 3v1M68.5 20v1M136.5 6v2M71.5 20v2M122.5 9v3M15.5 21v3M112.5 11v2M99.5 16v1M131.5 1v2M16.5 19v2M96.5 24v2M19.5 12v2M145.5 15v3M27.5 19v2M51.5 12v2M136.5 22v2M134.5 16v3M141.5 11v3M129.5 18v2M2.5 6v2M55.5 24v2M124.5 17v2M141.5 8v2M150.5 19v2M49.5 14v3M83.5 10v3M7.5 22v3M90.5 23v1M19.5 2v2M66.5 4v2M15.5 11v2M87.5 10v3M152.5 24v2M116.5 22v2M5.5 25v2M128.5 20v3M97.5 15v1M2.5 4v2M129.5 24v3M83.5 21v2M29.5 18v1M122.5 9v2M151.5 4v1M39.5 21v3M93.5 6v3M30.5 13v2M148.5 24v3M112.5 4v2M127.5 6v2M1.5 7v2M63.5 15v2M30.5 12v1M137.5 21v1M0.5 20v2M87.5 1v3M88.5 19v1M34.5 23v1M20.5 21v1M16.5 2v2M129.5 24v3M75.5 15v1M84.5 23v2M77.5 0v3M0.5 22v3M93.5 8v1M142.5 10v2M13.5 14v2" stroke="#00f0ff" stroke-width="1" fill="none"/>
<path d="M107.5 23v2M101.5 17v2M115.5 8v3M138.5 6v1M50.5 2v3M138.5 19v2M137.5 15v2M64.5 6v1M68.5 14v1M11.5 13v1M132.5 14v2M123.5 0v2M58.5 14v2M31.5 26v2M119.5 23v2M57.5 22v3M111.5 4v1M136.5 1v3M33.5 6v2M141.5 4v1M85.5 16v3M122.5 5v3M68.5 21v1M98.5 12v3M115.5 9v2M104.5 26v2M29.5 24v2M70.5 15v2M25.5 5v1M7.5 26v2M10.5 2v1M80.5 5v2M92.5 6v1M50.5 6v2M22.5 25v2M16.5 20v3M36.5 25v3M40.5 14v2M27.5 16v3M60.5 17v3M132.5 8v3M18.5 0v1M124.5 16v1M95.5 8v1M19.5 24v3M59.5 20v2M39.5 21v2M105.5 20v2M145.5 17v3M17.5 6v3M54.5 3v1M62.5 10v1M108.5 26v2M3.5 19v2M86.5 2v2M90.5 17v2M87.5 3v3M17.5 7v2M63.5 22v3M132.5 20v3M147.5 9v1M105.5 6v2M54.5 18v1M110.5 20v2M108.5 26v1M78.5 23v2M54.5 25v3M49.5 17v2M33.5 3v2M1.5 23v2M67.5 10v2M99.5 4v3M81.5 18v2M61.5 13v3M103.5 8v1M89.5 9v1M18.5 14v3M21.5 5v2M44.5 12v2M150.5 7v1M126.5 2v2M96.5 24v2M93.5 10v2M128.5 22v1M115.5 18v3M105.5 12v1M94.5 25v3M12.5 1v3M86.5 8v2M71.5 19v1M45.5 0v1M54.5 13v1M0.5 20v2M119.5 24v1M142.5 1v2M100.5 6v2M130.5 18v3M69.5 7v1M143.5 1v1M50.5 21v2M130.5 9v2M136.5 8v1M20.5 24v3M110.5 16v2M62.5 3v2M120.5 22v3M46.5 2v3M42.5 13v1M49.5 9v3M43.5 9v2M142.5 7v1M133.5 24v3M5.5 21v3M105.5 3v2M141.5 0v3M56.5 23v3M116.5 11v3M47.5 23v3M8.5 1v1M57.5 9v1M23.5 19v3M111.5 12v2M144.5 7v2M115.5 19v2M43.5 4v2M90.5 4v2M138.5 23v3M112.5 10v2M83.5 23v2M124.5 1v1M147.5 1v2M70.5 4v1M99.5 14v1M132.5 4v2M2.5 3v1M78.5 16v2M88.5 27v1M75.5 25v1M134.5 26v1M17.5 23v2M89.5 5v2M53.5 15v2M1.5 2v2M40.5 16v3M37.5 0v2M51.5 23v3M95.5 17v2M50.5 8v2M20.5 19v2M29.5 14v1M31.5 11v1M95.5 4v2M98.5 14v3M16.5 9v2M131.5 8v1M25.5 19v3M98.5 9v1M22.5 22v3M82.5 0v2M104.5 11v2M70.5 13v1M66.5 2v2M142.5 12v3M138.5 6v2M94.5 7v1M108.5 2v2M131.5 16v3M142.5 18v2M93.5 22v2M36.5 6v1M129.5 1v2M104.5 15v3M147.5 16v2M27.5 18v1M10.5 12v1M30.5 0v1M21.5 1v2M123.5 20v3M138.5 24v2M4.5 7v2M50.5 21v2M72.5 13v1M32.5 9v3M132.5 26v3M22.5 21v3M50.5 17v2M89.5 9v1M109.5 22v3M116.5 24v3M64.5 11v2M0.5 0v1M106.5 23v1M113.5 0v3M56.5 16v2M83.5 12v2M0.5 13v2M15.5 2v2M4.5 2v2M2.5 26v3M80.5 8v2M38.5 10v1M6.5 3v2M152.5 23v2M127.5 21v3M96.5 13v2M15.5 23v2M74.5 6v3M101.5 21v1M143.5 24v2M30.5 3v2M61.5 18v2M106.5 13v3M66.5 20v2M148.5 22v3M53.5 19v3M146.5 5v2M51.5 3v3M70.5 0v3M106.5 9v3M144.5 25v1M110.5 16v3M80.5 11v3M55.5 16v3M68.5 12v3M9.5 8v1M97.5 12v2M148.5 10v3M11.5 24v3M146.5 17v2M0.5 2v2M79.5 6v2M80.5 27v2M4.5 13v1M14.5 11v1M129.5 10v2M64.5 12v3M30.5 27v2M73.5 10v1M16.5 4v1M9.5 15v2M38.5 6v2M125.5 21v3M117.5 9v2M1.5 23v3M136.5 19v3M121.5 23v1M134.5 5v2M49.5 22v2M76.5 0v2M146.5 6v1M146.5 0v2M62.5 27v1M96.5 15v2M103.5 8v1M142.5 20v2M139.5 6v2M22.5 0v2M75.5 10v3M137.5 27v3M1.5 14v3M94.5 3v2M64.5 9v3M89.5 6v2M14.5 14v3M118.5 7v2M142.5 27v1M77.5 14v2M146.5 12v1M36.5 18v2M147.5 8v2M88.5 20v3M136.5 11v1M130.5 7v1M11.5 11v2M64.5 0v1M11.5 11v3M136.5 26v2M127.5 13v1M117.5 12v1M89.5 5v3M104.5 14v1M38.5 23v2M35.5 11v3M116.5 13v2M50.5 15v3M80.5 14v3M116.5 19v2M24.5 25v1M141.5 8v1M52.5 1v2M57.5 21v2M59.5 18v3M97.5 12v1M114.5 5v2M103.5 2v1M56.5 7v2M147.5 9v2M97.5 2v3M11.5 10v1M124.5 7v2M69.5 8v1M23.5 4v1M56.5 14v2M85.5 3v2M28.5 12v2M104.5 4v1M73.5 6v2M68.5 8v3M48.5 9v2M46.5 26v2M66.5 11v2M85.5 14v1M79.5 7v1M150.5 17v2M115.5 11v3M56.5 4v2M100.5 0v3M70.5 7v2M88.5 17v2M55.5 24v2M135.5 11v2M7.5 25v3M42.5 4v3M56.5 22v1M104.5 6v2M87.5 11v2M16.5 5v3M137.5 16v3M93.5 13v2M28.5 17v2M85.5 21v2M36.5 0v2M11.5 24v1M78.5 16v3M45.5 6v2M64.5 0v3M145.5 2v3M111.5 11v3M91.5 0v3M1.5 0v1M53.5 13v3M28.5 10v3M39.5 4v2M49.5 20v1M32.5 4v2M69.5 5v1M110.5 6v1M108.5 24v3M118.5 24v2M148.5 24v2M107.5 19v3M99.5 1v1M50.5 22v2M112.5 27v2M97.5 3v2M123.5 7v2M52.5 23v1M65.5 26v1M65.5 15v1M30.5 1v2M124.5 7v1M93.5 9v1M148.5 4v3M49.5 21v3M86.5 0v1M87.5 22v2M134.5 3v2M25.5 14v1M83.5 6v2M37.5 26v2M53.5 18v2M92.5 14v2M62.5 16v2M26.5 0v2M85.5 25v2M55.5 11v2M138.5 21v2M113.5 10v3M133.5 20v2M9.5 3v1" stroke="#00a8ff" stroke-width="1" fill="none"/>
<path d="M85.5 12v1M22.5 2v2M46.5 4v2M82.5 5v2M41.5 5v3M138.5 0v2M133.5 14v3M28.5 13v1M78.5 0v1M111.5 16v2M120.5 6v1M108.5 3v2M40.5 1v3M105.5 0v3M24.5 5v1M75.5 6v2M21.5 0v1M56.5 14v1M116.5 20v2M107.5 11v2M83.5 2v2M51.5 21v1M23.5 23v3M99.5 18v3M56.5 18v2M115.5 15v3M119.5 5v2M107.5 13v3M55.5 22v1M127.5 13v1M79.5 8v1M50.5 7v1M79.5 5v1M77.5 20v1M0.5 9v3M151.5 11v2M25.5 4v3M3.5 0v2M89.5 22v2M122.5 16v2M103.5 14v2M104.5 8v1M4.5 9v3M143.5 14v3M118.5 11v1M146.5 0v2M151.5 18v3M87.5 22v3M27.5 5v3M11.5 21v1M27.5 24v2M49.5 2v1M129.5 24v2M46.5 1v2M81.5 9v3M49.5 20v1M136.5 8v2M112.5 1v3M135.5 7v3M84.5 22v3M58.5 0v3M67.5 14v3M145.5 2v2M66.5 4v1M13.5 13v1M107.5 6v2M25.5 1v2M33.5 1v2M47.5 3v1M69.5 3v2M140.5 19v2M51.5 2v1M15.5 9v2M93.5 8v1M107.5 2v2M105.5 1v1M75.5 16v1M101.5 1v3M131.5 1v2M131.5 1v2M62.5 1v2M38.5 6v1M4.5 23v1M149.5 0v1M110.5 0v2M79.5 1v3M95.5 1v3M116.5 19v3M147.5 8v2M22.5 16v2M0.5 3v2M24.5 16v2M63.5 0v3M73.5 19v2M101.5 18v2M44.5 18v1M127.5 19v3M27.5 1v2M6.5 8v2M76.5 18v3M86.5 20v1M100.5 17v2M138.5 6v2M90.5 10v1M36.5 8v1M126.5 4v1M121.5 14v2M132.5 18v2M8.5 10v2M81.5 0v2M1.5 13v1M2.5 8v2M60.5 20v3M14.5 9v1M21.5 0v3M1.5 18v2M45.5 21v2M28.5 2v2M4.5 4v1M151.5 2v2M108.5 1v3M36.5 4v1M96.5 0v2M86.5 10v2M13.5 2v2M74.5 0v3M85.5 12v2M9.5 0v2M113.5 17v2M71.5 12v1M61.5 4v3M81.5 0v2M5.5 14v2M107.5 8v1M145.5 0v3M34.5 19v2M150.5 3v1M35.5 0v3M84.5 1v2M95.5 19v2M74.5 20v1M72.5 12v2M47.5 6v3M54.5 4v3M144.5 3v2M152.5 16v3M141.5 7v3M33.5 8v3M103.5 15v1M107.5 5v2M46.5 20v1M78.5 0v2M50.5 15v2M127.5 7v2M87.5 18v1M122.5 10v1M152.5 0v3M152.5 3v2M60.5 17v1M116.5 24v2M66.5 18v2M116.5 3v1M31.5 11v3M9.5 6v2M68.5 13v3M80.5 18v3M57.5 7v2M22.5 6v2M66.5 17v3M87.5 19v1M36.5 19v1M134.5 21v2M112.5 4v2M94.5 16v2M94.5 0v2M135.5 23v2M70.5 5v1M99.5 3v3M125.5 20v2M86.5 9v2M115.5 2v2M7.5 17v2M40.5 1v3M127.5 5v2M139.5 5v3M70.5 21v1M89.5 17v3M7.5 1v2M2.5 10v2M98.5 9v3M106.5 1v1M73.5 10v2M100.5 7v2M61.5 10v1M27.5 21v2M96.5 6v2M92.5 9v2M63.5 5v2M135.5 15v2M85.5 1v1M0.5 20v3M45.5 17v1M2.5 16v3M46.5 9v2M81.5 6v2M8.5 24v2M22.5 22v3M76.5 2v1M76.5 11v2M132.5 15v3M38.5 7v1M30.5 10v1M137.5 1v2M33.5 0v2M9.5 2v1M53.5 3v2M135.5 4v3M65.5 2v1M114.5 11v2M145.5 7v1M72.5 19v3M30.5 10v2M109.5 23v1M35.5 7v1M36.5 23v2M113.5 3v3M115.5 24v2M30.5 10v1M96.5 16v2M21.5 20v3M122.5 17v2M119.5 12v3M12.5 0v2M62.5 0v1M61.5 4v3M15.5 0v2M98.5 14v1M47.5 6v1M41.5 22v2M78.5 14v2M149.5 18v2M69.5 4v3M67.5 1v2M41.5 21v2M115.5 14v3M31.5 23v3M87.5 10v2M31.5 10v2M129.5 10v3M9.5 2v2M126.5 2v2M0.5 13v2M134.5 9v2M65.5 13v1M105.5 2v1M112.5 3v2M120.5 20v2M149.5 0v1M126.5 23v3M124.5 14v1M12.5 6v1M44.5 5v1M78.5 3v1M142.5 23v2M23.5 6v2M44.5 5v2M101.5 14v2M93.5 19v2M24.5 21v2M68.5 9v2M88.5 0v2M78.5 7v1M122.5 22v3M58.5 5v1M29.5 21v2M85.5 10v1M27.5 16v2M56.5 2v3M26.5 0v1M21.5 5v3M47.5 5v2M66.5 16v3M115.5 0v1M140.5 13v3M16.5 4v1M20.5 20v2M69.5 1v2M66.5 15v2M62.5 10v3M9.5 19v2M66.5 5v1M109.5 6v1M79.5 0v1M51.5 0v2M132.5 5v1M43.5 13v1M136.5 22v1M109.5 20v1M114.5 3v2M152.5 3v2M34.5 11v3M123.5 4v3M123.5 18v3M141.5 3v3M91.5 0v3M63.5 24v3M149.5 1v1M8.5 13v3M142.5 18v2M2.5 21v1M151.5 19v2M125.5 20v1M30.5 9v2M81.5 19v3M103.5 0v1M72.5 14v2M70.5 15v1M27.5 0v2M79.5 1v3M92.5 22v3M137.5 15v2M2.5 17v2M52.5 2v3M76.5 0v2M14.5 15v3M3.5 11v2M70.5 6v2M85.5 8v2M25.5 0v1M75.5 19v3M139.5 0v1M59.5 10v1M15.5 4v2M144.5 5v2M135.5 7v2M100.5 22v2M126.5 6v2M88.5 2v3M68.5 18v1M63.5 4v3M11.5 5v2M140.5 8v2M81.5 15v3M133.5 2v2M21.5 1v3M86.5 19v2M152.5 24v2M10.5 1v2M40.5 13v2M149.5 1v2M90.5 4v2M92.5 21v2M49.5 22v1M77.5 4v2M22.5 5v2M147.5 15v2M85.5 7v2M101.5 21v2M114.5 0v2M57.5 8v3M63.5 7v3M138.5 17v3M74.5 17v2M58.5 12v2M150.5 3v2M111.5 4v2M14.5 8v2M152.5 8v3M84.5 2v2M10.5 0v3M94.5 22v2M40.5 3v1M76.5 8v3M100.5 1v2M46.5 13v2M18.5 0v1M17.5 16v2M117.5 0v2M113.5 22v3M42.5 14v1" stroke="#0060ff" stroke-width="1" fill="none"/>
<path d="M48.5 15v2M39.5 6v3M7.5 14v2M11.5 11v2M50.5 11v2M143.5 1v2M80.5 17v2M28.5 5v2M43.5 0v2M139.5 19v2M24.5 0v2M14.5 18v2M151.5 10v2M21.5 2v2M113.5 2v3M32.5 7v3M101.5 1v1M96.5 5v2M115.5 15v3M25.5 0v2M93.5 21v1M101.5 18v1M150.5 0v1M16.5 0v1M143.5 4v1M141.5 13v1M129.5 18v1M129.5 12v1M116.5 8v2M115.5 19v2M25.5 10v1M4.5 0v3M77.5 3v3M110.5 1v2M117.5 12v2M37.5 13v2M115.5 11v2M51.5 17v2M137.5 8v1M55.5 19v3M122.5 0v3M138.5 2v2M81.5 13v3M141.5 15v1M71.5 18v3M46.5 6v1M135.5 4v3M130.5 11v1M109.5 11v1M30.5 0v3M11.5 18v2M73.5 1v1M82.5 8v1M46.5 7v1M27.5 16v3M8.5 14v1M10.5 19v2M86.5 9v1M41.5 4v3M11.5 3v3M7.5 17v2M95.5 11v3M82.5 4v3M44.5 2v2M28.5 10v1M6.5 17v3M17.5 5v1M98.5 20v3M121.5 0v1M12.5 11v2M56.5 3v3M12.5 0v2M7.5 6v3M108.5 9v3M118.5 3v3M23.5 0v1M60.5 5v2M55.5 6v1M124.5 17v2M137.5 5v3M80.5 0v2M0.5 4v2M74.5 12v2M3.5 0v1M95.5 0v1M122.5 9v2M76.5 12v2M119.5 12v1M78.5 11v2M126.5 15v3M16.5 0v2M120.5 4v3M2.5 20v1M50.5 2v2M6.5 12v3M52.5 9v2M117.5 13v2M34.5 20v2M27.5 6v2M55.5 0v3M140.5 1v3M39.5 7v3M127.5 6v3M109.5 4v2M59.5 1v1M20.5 6v1M130.5 0v2M73.5 8v2M54.5 14v3M72.5 17v3M93.5 1v2M95.5 11v2M86.5 3v1M1.5 0v3M19.5 0v1M111.5 1v3M93.5 0v2M20.5 10v2M70.5 2v3M88.5 8v2M79.5 1v1M10.5 17v3M121.5 16v2M137.5 2v2M128.5 0v2M19.5 0v2M95.5 14v3M22.5 20v2M66.5 4v2M95.5 15v3M110.5 17v2M12.5 18v2M145.5 4v2M34.5 21v2M140.5 5v2M89.5 21v2M13.5 1v3M149.5 18v2M95.5 3v2M3.5 14v1M39.5 15v3M1.5 20v2M21.5 0v2M100.5 4v1M79.5 8v3M26.5 8v2M59.5 16v1M111.5 1v3M9.5 4v2M68.5 18v3M60.5 11v2M67.5 12v2M121.5 18v2M18.5 6v3M141.5 16v1M39.5 1v2M30.5 4v3M144.5 0v1M73.5 15v1M6.5 17v3M103.5 10v1M103.5 10v2M137.5 14v2M4.5 7v2M44.5 17v1M60.5 0v3M82.5 12v3M65.5 5v2M83.5 9v1M111.5 0v1M120.5 0v1M64.5 4v1M40.5 0v2M124.5 19v1M110.5 16v1M99.5 15v2M37.5 11v3M146.5 11v2M119.5 0v3M35.5 6v2M61.5 12v2M72.5 8v2M88.5 10v2M85.5 2v2M141.5 7v2M20.5 11v2M90.5 8v1M142.5 4v2M141.5 17v1M6.5 12v1M128.5 10v2M5.5 0v2M53.5 6v2M124.5 13v2M61.5 1v3M24.5 6v3M139.5 1v2M48.5 1v2M79.5 12v1M151.5 1v1M69.5 6v3M143.5 19v2M114.5 4v2M137.5 11v2M71.5 0v2M124.5 1v1M88.5 9v3M30.5 12v2M32.5 21v3M61.5 1v3M24.5 11v3M122.5 10v2M12.5 0v2M110.5 0v3M100.5 5v1M15.5 16v1M32.5 12v2M131.5 9v2M63.5 5v1M104.5 19v2" stroke="#0010ff" stroke-width="1" fill="none"/>
<path d="M100.5 1v2M48.5 5v3M131.5 10v2M15.5 0v3M31.5 0v2M134.5 7v1M32.5 11v2M29.5 0v1M100.5 6v1M9.5 5v2M116.5 7v2M108.5 0v1M95.5 7v2M90.5 5v2M150.5 9v2M116.5 0v3M115.5 9v2M122.5 0v1M2.5 0v2M100.5 0v2M74.5 11v2M113.5 0v2M83.5 10v2M29.5 0v1M57.5 11v2M108.5 0v2M52.5 0v3M38.5 0v2M4.5 0v2M17.5 0v2M116.5 0v1M44.5 2v2M95.5 6v3M70.5 4v3M107.5 5v2M38.5 9v2M84.5 8v2M133.5 5v2M31.5 10v2M52.5 0v2M135.5 0v2M59.5 2v3M105.5 2v3M82.5 0v1M101.5 0v3M84.5 0v2M12.5 3v2M45.5 0v2M114.5 0v2M121.5 0v2M135.5 0v3M126.5 7v2M133.5 0v3M52.5 4v2M146.5 0v2M135.5 0v2M112.5 5v3M77.5 8v1M140.5 9v2M57.5 2v2M127.5 1v3M36.5 3v1M45.5 1v2M37.5 0v3M55.5 8v1M31.5 0v3M52.5 0v2M125.5 2v2M15.5 4v3M33.5 0v3M24.5 1v2M14.5 0v1M16.5 1v2M136.5 2v2M142.5 3v2M52.5 0v2M123.5 9v3M60.5 0v2M64.5 2v2M60.5 7v2M7.5 10v3M49.5 1v1M59.5 4v1M95.5 0v3M30.5 0v1M88.5 0v2M51.5 0v1M57.5 4v3M106.5 9v2M22.5 10v2M136.5 0v2M140.5 6v1M152.5 2v3M77.5 3v3M62.5 5v1M97.5 3v3M59.5 1v3M47.5 3v3M63.5 0v1M48.5 5v2M41.5 1v3M151.5 1v2M72.5 5v2M122.5 5v2M25.5 9v2M70.5 5v2M60.5 1v3M50.5 0v1M49.5 0v2M94.5 7v2M140.5 1v2M116.5 0v2M98.5 1v2M35.5 0v2M19.5 12v3M88.5 0v1M18.5 3v3M130.5 0v1M140.5 8v2M109.5 8v2M35.5 8v2M127.5 6v2M121.5 3v3M8.5 5v3M72.5 1v2M12.5 1v1M80.5 0v2M99.5 9v2M130.5 9v2M55.5 0v2M3.5 0v2M142.5 11v2M128.5 4v2M96.5 10v2M122.5 1v3M13.5 2v2M11.5 1v2M112.5 11v1M86.5 0v2M110.5 1v2M138.5 0v3M126.5 0v2M125.5 5v2M80.5 0v2M90.5 0v1M79.5 0v2M100.5 2v1M141.5 1v2M119.5 4v2M68.5 1v1" stroke="#ff00ff" stroke-width="1" fill="none"/>
</pattern>
<rect x="668.6" y="115.4" width="454" height="28.2" fill="url(#sgrn)"/>
<path d="M71.7 40l21.6 0 2.5 4.2 2.5 10.8 3.4 11.7 3.3 6.6 5 .9 6.7-.9 6.6 .9 5-.9 4.2 1.7 4.2-3.3 5-6.7 5-8.3 4.1-5.4 4.2 1.2 4.2 2.5 3.3-2 4.2 2.8 3.3 2.5 2.5 4.2 3.3-5.8 3.4-2.5 2.5 3.3 3.3 9.2 3.3 9.1 3.4-1.6 2.5-7.5 2.5-1.7 2.5 3.3 2.5-1.6 2.5 5 2.5-.9 3.3 4.2 3.3-.8 2.5 2.5 2.5 4.1 2.5-2.5 2.5-8.3 2.5-11.7 1.7-2.5 2.5 7.5 2.5-2.5 2.5-2.5 3.3 .9 3.4 .8 3.3-.8 3.3-1.7 3.4 3.3 3.3 2.5 2.5-1.6 2.5 2.5 2.5 .8 3.3-5 2.5-2.5 3.4 4.2 3.3-1.7 3.3-1.7 2.5-2.5 2.5-2.5 2.5 1.7 2.5 4.2 3.4 12.5 2.5-3.4 2.5-10 2.5-2.5 .8-.8 3.3 3.3 3.4 4.2 3.3-.8 3.3-3.4 3.4 5.9 3.3 1.6 3.3 1.7 3.4-3.3 3.3-.9 3.3 3.4 2.5 11.6 2.5 8.4 3.4 3.3 3.3 1.3 5 .7 5-1.2 5-.8 5 .8 3.3-5.8 2.5 3.3 3.4-1.6 3.3-8.4 2.5 5.9 1.7 2.5 2.5-9.2 2.5-.8 3.3-1.7 3.3-1.7 3.4-.8 3.3-4.2 4.2-5.8 2.5 3.3 3.3 4.2 5-3.3 3.3 2.5 4.2 2.5 3.3-2.5 3.4-5.9 3.3 2.5 3.3-1.6 3.4-2.5 4.1-5 3.4 1.6 3.3 .9 3.3 .8 3.4-1.7 .8 5 2.5-6.6 2.5 .8 2.5 13.3 3.3-6.6 3.4 1.6 3.3 .9 4.2 .8 4.1 5.8 3.4 5 2.5-8.3 2.5 3.3 2.5-1.6 3.3 1.6 2.5-1.6 2.5-4.2 3.3 3.3 3.4 2.5 2.5 3.4 3.3-3.4 3.3-6.6 2.5-3.4 2.5-6.6 2.5-1.7" fill="none" stroke="#7a7a7a" stroke-width="0.9" stroke-linejoin="round" clip-path="url(#cl0)"/>
<path d="M71.7 157.9l1.6-.1 1.6 1.2 1.6-1.6 1.6 1.1 1.6-1 1.6 1.7 1.6-.3 1.6 .5 1.6-1.2 1.6 .1 1.6-1.1 1.6-1.5 1.6-.6 1.6-1.9 1.6-1.2 1.6-1.3 1.6-2.4 1.6-2.8 1.6 1.8 1.6-3.4 1.6-3.7 1.6-1.7 1.6-2.2 1.6-1.5 1.6-1.3 1.6 2.5 1.6-1.7 1.6-1 1.6 .1 1.6 1.9 1.6-2.3 1.6-1.7 1.6 4.1 1.6-4.1 1.6-.4 1.6 2 1.6 4.3 1.6-2.4 1.6-3.2 1.6 3.6 1.6 .6 1.6 1.1 1.6 2.5 1.6 1.5 1.6 1.6 1.6 .6 1.6 4.1 1.6 3.9 1.6 .7 1.6-.7 1.6 .5 1.6-1.8 1.6-4 1.6-1.3 1.6 1.7 1.6-1.6 1.6-1.9 1.6-.6 1.6-1.2 1.6-1.1 1.6-4.2 1.6 3 1.6-1.3 1.6-3 1.6 .8 1.6-1 1.6-1.5 1.6-.1 1.6-.1 1.6-6 1.6-2.6 1.6 2.5 1.6-.8 1.6 .4 1.6 1.4 1.6-3.7 1.6 .6 1.6 2.8 1.6 1.2 1.6-.1 1.6-3.9 1.6 4.2 1.6-.8 1.6-.3 1.6-.8 1.6-4.2 1.6-1.4 1.6 .2 1.6 5.1 1.6-4.3 1.6-7.7 1.6-1.1 1.6 10.6 1.6 7.1 1.6 4.9 1.6 5.6 1.6-.6 1.6-2.3 1.6-2.9 1.6 1.8 1.6 .1 1.6-.2 1.6 2 1.6-2.7 1.6-.8 1.6-.5 1.6 1.7 1.6 3.7 1.6-.2 1.6 .5 1.6-1.3 1.6-.7 1.6-1.6 1.6-.7 1.6-3.9 1.6-.2 1.6 0 1.6 3.4 1.6 1.6 1.6 1.7 1.6 1.7 1.6-2 1.6 1.2 1.6 2.2 1.6-1.8 1.6 .8 1.6-1.4 1.6-3 1.6 .6 1.6-1.3 1.6 .5 1.6-.8 1.6 1.3 1.6-3.5 1.6 .8 1.6-7.1 1.6-.8 1.6 7.7 1.6 5.1 1.6 3.1 1.6 2.8 1.6 3.9 1.6-1.2 1.6-1.8 1.6 1.1 1.6-1 1.6-2.7 1.6-.9 1.6-1.5 1.6-.4 1.6 3.2 1.6-.7 1.6 1.7 1.6-.9 1.6-3.4 1.6-.7 1.6 4.2 1.6-2.9 1.6-2.3 1.6 2.3 1.6-1.7 1.6-2.2 1.6 .3 1.6-6 1.6-.6 1.6-3.8 1.6-4.1 1.6-2.4 1.6 .7 1.6-2.8 1.6-5.3 1.6-1.4 1.6 3.2 1.6 .4 1.6-3.6 1.6 3.3 1.6-2.8 1.6-3.1 1.6-.2 1.6 1.4 1.6 1.6 1.6-.5 1.6-3.6 1.6-3.7 1.6-4.1 1.6 1.5 1.6 1.7 1.6 1.7 1.6-3.6 1.6 .7 1.6 2.7 1.6 1 1.6 .8 1.6 2 1.6 1.8 1.6 4.7 1.6 2.7 1.6 0 1.6 3.9 1.6 2.6 1.6 4.2 1.6 .5 1.6 .4 1.6-.2 1.6 1.8 1.6 2 1.6 1.1 1.6-.3 1.6 1.2 1.6-.1 1.6 .2 1.6-1.7 1.6 1 1.6-1.4 1.6-.6 1.6 1.4 1.6 3.9 1.6 .3 1.6-1.4 1.6-1.1 1.6 1.6 1.6 1.6 1.6 .8 1.6-1.8 1.6-.2 1.6-.9 1.6-.5 1.6-1.2 1.6 .3 1.6-3 1.6 0 1.6 2.6 1.6-1.2 1.6 1.5 1.6-2.5 1.6-.1 1.6 .5 1.6-3 1.6-1.8 1.6 3.7 1.6-3.3 1.6-1.5 1.6-3.4 1.6-11.3 1.6-6 1.6 14.7 1.6 8.1 1.6-1.4 1.6-1 1.6-1.1 1.6 1.8 1.6 2.9 1.6 1.6 1.6-4.8 1.6-5.1 1.6-5.3 1.6-6.3 1.6-1.4 1.6-7.6 1.6-7.3 1.6-6.1 1.6-.8 1.6-1.4 1.6-1 1.6 2.6 1.6 2.7 1.6-2.4 1.6-3.9 1.6-.7 1.6-1.9 1.6-2 1.6-2.4 1.6 2.2 1.6 3.3 1.6 4.9 1.6 12.3 1.6-7.1 1.6-11.7 1.6-1.9 1.6-7.3 1.6-6.3 1.6 2.7 1.6 7.2" fill="none" stroke="#3838ff" stroke-width="0.9" stroke-linejoin="round" clip-path="url(#cl0)"/>
<path d="M71.7 158.7l2 .1 2 0 2 .1 2-.1 2-.1 2-.2 2-.3 2-.7 2-.8 2-1.2 2-1.7 2-1.9 2-2.3 2-2.4 2-2.6 2-2.4 2-2.2 2-2 2-1.8 2-1.4 2-1.2 2-1 2-.6 2-.4 2-.2 2-.1 2 .3 2 .5 2 .7 2 .9 2 1.2 2 1.3 2 1.3 2 1.4 2 1.3 2 1.3 2 1.3 2 1.1 2 1 2 .6 2 .3 2 0 2-.4 2-.8 2-1 2-1.1 2-1.4 2-1.4 2-1.4 2-1.4 2-1.4 2-1.4 2-1.3 2-1.2 2-1.2 2-1.1 2-.9 2-.8 2-.7 2-.5 2-.3 2-.2 2-.1 2 0 2-.2 2-.3 2-.4 2-.3 2-.1 2 .3 2 .6 2 .9 2 1.1 2 1.1 2 1.2 2 1.2 2 1.2 2 1.2 2 1.3 2 1.2 2 1.1 2 .9 2 .5 2 .1 2-.1 2-.2 2-.3 2-.2 2-.2 2-.2 2-.2 2-.1 2 0 2 0 2 .1 2 .1 2 .2 2 .2 2 .2 2 .3 2 .2 2 0 2-.1 2-.2 2-.2 2 0 2 .2 2 .4 2 .6 2 .7 2 .8 2 .8 2 .9 2 .9 2 .8 2 .7 2 .3 2 .2 2-.2 2-.3 2-.5 2-.5 2-.5 2-.5 2-.6 2-.6 2-.8 2-1.2 2-1.5 2-1.9 2-2.4 2-2.6 2-2.8 2-3 2-3 2-2.6 2-2.3 2-1.9 2-1.4 2-1.1 2-1 2-.8 2-.8 2-.6 2-.6 2-.5 2-.4 2-.3 2-.3 2 0 2 .3 2 .4 2 1 2 1.5 2 1.8 2 2.1 2 2.4 2 2.5 2 2.4 2 2.4 2 2.1 2 1.9 2 1.7 2 1.5 2 1.1 2 .8 2 .6 2 .4 2 .2 2 .2 2 .1 2 .1 2 0 2 0 2 .1 2 .1 2 .2 2 .3 2 .3 2 .3 2 .2 2 .1 2 .1 2-.1 2-.1 2-.3 2-.5 2-.7 2-1.1 2-1.4 2-1.3 2-1.2 2-.9 2-.6 2-.2 2-.1 2-.3 2-.5 2-.7 2-1.3 2-1.6 2-2 2-2.6 2-3.5 2-3.9 2-4.3 2-4.6 2-4.5 2-4.2 2-3.5 2-3 2-2.4 2-1.6 2-.9 2-.5 2-.3 2-.2 2-.3 2-.6 2-.7 2-.6 2-.3 2-.2 2 .1 2 .3 2 .1 2 .1" fill="none" stroke="#0000ff" stroke-width="2.9" stroke-linejoin="round" clip-path="url(#cl0)"/>
<path d="M71.7 197.8l1.2 .6 1.2-.3 1.2 0 1.2 .6 1.2 .9 1.2 .1 1.2-.4 1.2 0 1.2 .4 1.2 .6 1.2 .1 1.2 .2 1.2 .3 1.2 .4 1.2 .1 1.2 .5 1.2 .6 1.2 .9 1.2 .1 1.2 .6 1.2-.3 1.2 .6 1.2 .2 1.2 0 1.2 .4 1.2 .3 1.2-.2 1.2 .3 1.2 .3 1.2 .2 1.2 .1 1.2-1.1 1.2 0 1.2-.4 1.2 .2 1.2-.2 1.2-.1 1.2-.1 1.2-.4 1.2-.1 1.2-.4 1.2 .6 1.2-.6 1.2-.2 1.2-.8 1.2-.3 1.2 .1 1.2 .5 1.2 .2 1.2-.1 1.2-.4 1.2 .8 1.2-.4 1.2-.1 1.2 .6 1.2-.1 1.2 .4 1.2 .1 1.2-.5 1.2-.2 1.2-.3 1.2-1.1 1.2-1.8 1.2-.6 1.2-.3 1.2-1.2 1.2-.8 1.2-.6 1.2-.5 1.2-2 1.2-1.5 1.2-1.2 1.2-.9 1.2-1.5 1.2-.2 1.2-1.5 1.2-.4 1.2-1 1.2-.6 1.2-.2 1.2 0 1.2 .8 1.2 .7 1.2 .9 1.2 .2 1.2-.2 1.2-1.9 1.2-1.7 1.2 .4 1.2-.3 1.2-1 1.2 1.4 1.2 .7 1.2 1.1 1.2 1.4 1.2 1 1.2 .8 1.2 1.4 1.2-.5 1.2-.7 1.2-1 1.2-.3 1.2-.4 1.2-.4 1.2-.1 1.2-.2 1.2 .9 1.2 1 1.2 .6 1.2 1.3 1.2-.4 1.2 .7 1.2-.2 1.2 .1 1.2 .8 1.2-1 1.2-.3 1.2 .1 1.2-.3 1.2 .6 1.2 .1 1.2 2.5 1.2 2.7 1.2 3.6 1.2 5.2 1.2-1.8 1.2-2.3 1.2-1.2 1.2-.7 1.2-.8 1.2-1 1.2-1.2 1.2-1.6 1.2 0 1.2-.8 1.2-1.5 1.2-1 1.2 .4 1.2 .4 1.2-.3 1.2 .5 1.2-.6 1.2-.9 1.2-.5 1.2-.4 1.2-.1 1.2-.5 1.2 0 1.2 .7 1.2 0 1.2 .1 1.2 .1 1.2 .5 1.2 .3 1.2 .6 1.2 .6 1.2 .6 1.2-.1 1.2 .9 1.2-.3 1.2-1.2 1.2-1.4 1.2-1.8 1.2-.1 1.2-1 1.2 .3 1.2-.2 1.2 .7 1.2 .2 1.2 .2 1.2 .4 1.2-.1 1.2 .6 1.2-.2 1.2-1.1 1.2-1.9 1.2-1.4 1.2-1.4 1.2-.7 1.2 .2 1.2 1 1.2 1.1 1.2 2.9 1.2 2.7 1.2 3.2 1.2 4.1 1.2 2.3 1.2-.7 1.2-.1 1.2-1.5 1.2-.4 1.2 .3 1.2-.5 1.2 .1 1.2 1.1 1.2 .9 1.2 2.6 1.2 .9 1.2 1.1 1.2 1.6 1.2 1.1 1.2 .9 1.2 0 1.2-1.6 1.2-1.5 1.2-1.8 1.2-1.6 1.2 .6 1.2 1.1 1.2 .7 1.2 1.2 1.2-.6 1.2-1.3 1.2-1.3 1.2-.5 1.2-.8 1.2-1.5 1.2-.9 1.2 1.5 1.2 1.2 1.2 1.8 1.2 .8 1.2 .4 1.2 1.4 1.2 .9 1.2-.1 1.2 .3 1.2 .2 1.2-1 1.2-.7 1.2-.2 1.2 .4 1.2 .1 1.2 .7 1.2 .3 1.2 .8 1.2 1.4 1.2-.3 1.2 .7 1.2 .5 1.2-.9 1.2 .5 1.2 .3 1.2 .9 1.2 1.3 1.2 .7 1.2 .3 1.2-1.1 1.2-.9 1.2-2.2 1.2-1.4 1.2-2.8 1.2-2.5 1.2-1.2 1.2 .6 1.2 .5 1.2 .3 1.2-1.7 1.2-.9 1.2-1.5 1.2-.9 1.2-.2 1.2-.4 1.2 .3 1.2 .9 1.2 .2 1.2-.4 1.2-.7 1.2-.3 1.2-.7 1.2 0 1.2-.1 1.2-.6 1.2-1.1 1.2-.6 1.2-1 1.2-.7 1.2 1.2 1.2 1.9 1.2 1.9 1.2 1.7 1.2 .3 1.2-.2 1.2 .3 1.2-.2 1.2 1.2 1.2 .8 1.2 1.3 1.2 .5 1.2 .5 1.2 .4 1.2 .7 1.2-.8 1.2-.6 1.2-.7 1.2-2 1.2-.8 1.2-1.3 1.2 .2 1.2 2 1.2 1 1.2 1 1.2 .4 1.2 .5 1.2 .6 1.2-.1 1.2 .2 1.2-.7 1.2-3.9 1.2-1.6 1.2-1.4 1.2-.4 1.2 .1 1.2 2 1.2 1.4 1.2 1 1.2-3.5 1.2-2.3 1.2-2.5 1.2-.7 1.2 .1 1.2 .5 1.2-.9 1.2-.8 1.2-1.4 1.2 1.9 1.2 2.2 1.2 1.1 1.2-.2 1.2-.7 1.2-.3 1.2 1 1.2 .5 1.2 .9 1.2 1.3 1.2 1.5 1.2-1.5 1.2-1.7 1.2-2 1.2-.7 1.2-.6 1.2 .1 1.2 .7 1.2 1.3 1.2 .6 1.2 .2 1.2-.1 1.2-.7 1.2-.5 1.2 1.6 1.2 .8 1.2 .5 1.2 .3 1.2-.1 1.2 .7 1.2-.6 1.2-.3 1.2-.3 1.2 .4 1.2 1.8 1.2 1.7 1.2 .7 1.2-.5 1.2 .6 1.2-1.3 1.2-.9 1.2-1.9 1.2-1.6 1.2-.8 1.2 .5 1.2 .6 1.2 1.4 1.2-3 1.2-3.2 1.2-2.5 1.2-2.3 1.2 1.5 1.2 2.2" fill="none" stroke="#30ff30" stroke-width="0.9" stroke-linejoin="round" clip-path="url(#cl1)"/>
<path d="M71.7 184.4l1.2 0 1.2 1.5 1.2-.3 1.2-.1 1.2 .1 1.2-.1 1.2 .1 1.2 .8 1.2 .1 1.2 .8 1.2 .2 1.2-.5 1.2 0 1.2 .3 1.2-.2 1.2 .7 1.2 .6 1.2 .9 1.2 0 1.2 .4 1.2 1.2 1.2 1.2 1.2 .4 1.2 1.7 1.2 .5 1.2 1.4 1.2 .6 1.2-.4 1.2-.6 1.2 0 1.2 .7 1.2-.9 1.2 .2 1.2 .6 1.2 .3 1.2 1.1 1.2 1 1.2 0 1.2-.1 1.2 .6 1.2 .2 1.2 .6 1.2-.6 1.2-1 1.2-.2 1.2-.6 1.2 .6 1.2 .4 1.2-.1 1.2-.2 1.2 .3 1.2-.5 1.2 .1 1.2-.8 1.2-.2 1.2-.4 1.2-.4 1.2 1.1 1.2-.1 1.2-1 1.2-.2 1.2-1.2 1.2 .4 1.2 0 1.2-.6 1.2-.5 1.2-.2 1.2-.1 1.2-.4 1.2-.6 1.2 1.1 1.2 1.2 1.2 1.5 1.2 .2 1.2 .2 1.2-.5 1.2 .4 1.2 .4 1.2 .3 1.2 .5 1.2 .4 1.2 .1 1.2 1.2 1.2 .8 1.2-.2 1.2-.7 1.2-1.3 1.2-1.6 1.2-1.3 1.2-.7 1.2-1.5 1.2-1.9 1.2 1.7 1.2 2.7 1.2 2.2 1.2 2.4 1.2 1.1 1.2 1.2 1.2 1.5 1.2 1.6 1.2 .5 1.2-.6 1.2-1 1.2-.5 1.2-.2 1.2-1.1 1.2-.4 1.2 1.6 1.2 .5 1.2-.1 1.2-.8 1.2-.8 1.2-.1 1.2 .3 1.2-.1 1.2-1 1.2-1.3 1.2-1.8 1.2-.3 1.2-.6 1.2 .3 1.2-.1 1.2-1.3 1.2-.2 1.2-.4 1.2-.4 1.2-.7 1.2-.7 1.2-.2 1.2-1 1.2 .2 1.2-.1 1.2-.2 1.2 .4 1.2 .4 1.2-.7 1.2-.5 1.2-.4 1.2 .1 1.2 .7 1.2-.2 1.2 1.4 1.2 1 1.2 .7 1.2 .4 1.2 .2 1.2 .2 1.2 .3 1.2 .1 1.2-.4 1.2-.2 1.2 .9 1.2 .1 1.2-.1 1.2 .1 1.2-.3 1.2 .7 1.2 .2 1.2 .1 1.2-.1 1.2 .8 1.2 .3 1.2 .5 1.2 .1 1.2-.5 1.2-.2 1.2 1 1.2-.1 1.2 .3 1.2 0 1.2 0 1.2-.1 1.2-.7 1.2-.4 1.2-1.1 1.2 0 1.2-.4 1.2-.8 1.2 .4 1.2 .8 1.2 .5 1.2 1 1.2 1 1.2 1.5 1.2 1.3 1.2 .8 1.2 1.2 1.2-.1 1.2 .7 1.2 .7 1.2-.6 1.2-.8 1.2-1.5 1.2-.9 1.2 0 1.2 .9 1.2 .5 1.2 .3 1.2 .1 1.2 .1 1.2-.7 1.2-.4 1.2-.7 1.2-1.6 1.2-.4 1.2-.2 1.2 .5 1.2 .8 1.2 1.1 1.2 .3 1.2-.2 1.2-1.1 1.2-2.1 1.2-.5 1.2-1.6 1.2-1 1.2-.6 1.2-.2 1.2 1.4 1.2 1.9 1.2 1.1 1.2 .4 1.2 .1 1.2 .1 1.2 .3 1.2-.3 1.2 .3 1.2 .3 1.2 .3 1.2-.9 1.2-.2 1.2-.5 1.2-.8 1.2-.9 1.2 0 1.2 .4 1.2-.3 1.2 .6 1.2-.6 1.2-1 1.2-.4 1.2 0 1.2 .3 1.2 0 1.2 .4 1.2-.5 1.2-2.1 1.2-2 1.2-.1 1.2-.4 1.2 .2 1.2-1.2 1.2-1.1 1.2-1.1 1.2-.4 1.2 1.1 1.2 2.3 1.2 1.4 1.2 .7 1.2 .9 1.2-1 1.2-1.3 1.2 .6 1.2 1.1 1.2 1.5 1.2 1 1.2 .8 1.2 .7 1.2 .5 1.2 .1 1.2 .5 1.2 .5 1.2 1.4 1.2 .7 1.2 .3 1.2 .8 1.2-1 1.2-1.3 1.2-.9 1.2-.8 1.2-1 1.2-.1 1.2-.3 1.2-1.1 1.2-1 1.2-2.1 1.2-.7 1.2-1.2 1.2 .4 1.2 .5 1.2 2 1.2 1.3 1.2 1.1 1.2-.1 1.2 .4 1.2-.2 1.2-1.4 1.2-1.2 1.2-1.1 1.2-2.3 1.2-1.2 1.2-1.4 1.2 1.2 1.2-.1 1.2-.7 1.2-.8 1.2-.5 1.2-.9 1.2-1.3 1.2-1.4 1.2-.7 1.2-.1 1.2-.4 1.2 1 1.2 1.2 1.2 1.8 1.2-.6 1.2-1.2 1.2-.2 1.2-.4 1.2-.2 1.2-.9 1.2-.7 1.2-.9 1.2-1 1.2-.6 1.2 3.5 1.2 3.2 1.2 1 1.2 .5 1.2 1.3 1.2 2.2 1.2 1.8 1.2 1.8 1.2 2.4 1.2 1.3 1.2-2.4 1.2-3.5 1.2-3.1 1.2-1.1 1.2-1 1.2-1 1.2 .4 1.2 1.1 1.2 .5 1.2-.5 1.2 .6 1.2-.1 1.2-.3 1.2-.6 1.2 1.8 1.2 1.3 1.2 1.5 1.2-.7 1.2-.4 1.2-.2 1.2 1.1 1.2 .9 1.2 1.5 1.2 1.4 1.2 .9 1.2 1.6 1.2 .6 1.2 .6 1.2-2.4 1.2-1.5 1.2-2.8 1.2-2.2 1.2-1.5 1.2 .3 1.2 1.2 1.2 1.2 1.2 1.4 1.2 2 1.2 2.7 1.2 .8 1.2 .6 1.2 .9" fill="none" stroke="#ff3838" stroke-width="0.9" stroke-linejoin="round" clip-path="url(#cl1)"/>
<path d="M71.7 240.8l1.2-.5 1.2 .4 1.2 .2 1.2 0 1.2 .2 1.2 .1 1.2 0 1.2 .1 1.2 .2 1.2-.2 1.2 .1 1.2 .1 1.2 .2 1.2 .1 1.2 0 1.2-.1 1.2-.6 1.2-.9 1.2-.8 1.2-.9 1.2-2.4 1.2-2.3 1.2-2.3 1.2-1.5 1.2-2.1 1.2-2.1 1.2-1.7 1.2-1.2 1.2-.8 1.2-.1 1.2 .1 1.2-.7 1.2 .1 1.2-.1 1.2 .2 1.2 .3 1.2 .2 1.2 .2 1.2 0 1.2-.4 1.2-.7 1.2 .7 1.2 .5 1.2 .7 1.2 0 1.2-.8 1.2-.3 1.2-.1 1.2 .4 1.2-.3 1.2 1 1.2 .7 1.2 .1 1.2 .9 1.2 1.2 1.2 1.1 1.2 .4 1.2 1.3 1.2 1 1.2 .6 1.2 1.4 1.2 .8 1.2 1.2 1.2 1.9 1.2 1.8 1.2 .8 1.2-.8 1.2-.3 1.2-1 1.2-1.2 1.2-1.4 1.2 .1 1.2-1.1 1.2-.9 1.2 .2 1.2-.2 1.2-1.2 1.2-.6 1.2-1.3 1.2-1.1 1.2-1.1 1.2-1.5 1.2-.7 1.2 0 1.2 1.2 1.2 2 1.2-.3 1.2-1.1 1.2-1.5 1.2-2.1 1.2-1.8 1.2-1.9 1.2-1.6 1.2-1 1.2-1.7 1.2-1.6 1.2 .9 1.2 1.6 1.2 .6 1.2 1.3 1.2 1.1 1.2 1.2 1.2 1.6 1.2 2.2 1.2-1.5 1.2-2.3 1.2 .4 1.2 .6 1.2 0 1.2-.7 1.2-.1 1.2 .4 1.2-.4 1.2-1 1.2 0 1.2-.4 1.2-.7 1.2-.4 1.2-.9 1.2-2.3 1.2-2.8 1.2 .3 1.2 3.7 1.2 2.3 1.2 2.6 1.2 2.4 1.2 3.1 1.2 3.2 1.2 4.2 1.2-1.4 1.2-2.5 1.2-1.2 1.2 0 1.2-.6 1.2 .6 1.2 0 1.2 .5 1.2 .1 1.2-.1 1.2 .3 1.2 0 1.2-.6 1.2-.3 1.2-.5 1.2 1.1 1.2 1 1.2 .5 1.2-.6 1.2-1.4 1.2-.8 1.2-1.3 1.2-.2 1.2 .3 1.2 .3 1.2 .6 1.2-.6 1.2 .7 1.2-.6 1.2 .7 1.2-.3 1.2 1 1.2-.2 1.2 .5 1.2 .3 1.2-.2 1.2-.3 1.2-.6 1.2 .4 1.2 1.9 1.2 .6 1.2-.4 1.2-.8 1.2-.4 1.2 .9 1.2 1.2 1.2 .6 1.2-2 1.2-1.5 1.2-2.2 1.2-1.4 1.2-2.2 1.2-1.5 1.2-.4 1.2 2.7 1.2 3.2 1.2 3.1 1.2 2.9 1.2 2.7 1.2 .9 1.2-.2 1.2 .3 1.2-1.1 1.2-.8 1.2-.6 1.2-1.4 1.2-.2 1.2 .9 1.2-.1 1.2 .2 1.2 1.5 1.2 1 1.2-.3 1.2-1.3 1.2-2.4 1.2-.8 1.2-1.5 1.2-.8 1.2 .2 1.2-.7 1.2 0 1.2 .9 1.2 1.2 1.2 .5 1.2-.1 1.2-.5 1.2-.5 1.2-1.2 1.2-1.8 1.2-2 1.2-2.5 1.2-3.3 1.2-2.4 1.2-.5 1.2-1.4 1.2-1.3 1.2-.1 1.2 .7 1.2 .6 1.2-.8 1.2-.1 1.2-.1 1.2-.3 1.2-1 1.2 .5 1.2-.2 1.2-.3 1.2-1 1.2-.5 1.2-.3 1.2-.4 1.2-.7 1.2-1.1 1.2-.5 1.2-.9 1.2-1.4 1.2-1 1.2 .2 1.2 .7 1.2 1.5 1.2 .5 1.2 1 1.2 1.1 1.2-.6 1.2 .5 1.2-.4 1.2-.8 1.2-.5 1.2 1.9 1.2 2.1 1.2 3 1.2 1.9 1.2 .6 1.2 .8 1.2 .8 1.2 .5 1.2 .9 1.2 1 1.2 1.1 1.2 .6 1.2 1.2 1.2 .3 1.2 .4 1.2 .3 1.2 1.1 1.2 1.5 1.2 1.1 1.2 1.2 1.2-1.1 1.2-.9 1.2-.8 1.2-.5 1.2-.1 1.2-.1 1.2 .8 1.2 .7 1.2-.8 1.2-.5 1.2-1.3 1.2-1.4 1.2 .2 1.2 .4 1.2-.2 1.2 1.8 1.2 .6 1.2 1.1 1.2 .3 1.2 1 1.2 .9 1.2-1.2 1.2-.8 1.2-.9 1.2-.1 1.2-.2 1.2 .7 1.2 .6 1.2 .5 1.2 .3 1.2 1.2 1.2-.6 1.2-.4 1.2-2.2 1.2-.5 1.2 .9 1.2 .4 1.2 .1 1.2-.3 1.2-.9 1.2 .4 1.2-2.2 1.2-2.4 1.2-1.5 1.2-.1 1.2 .3 1.2-6 1.2-4.1 1.2-2.5 1.2 1.9 1.2 3.8 1.2 2.9 1.2 2.5 1.2 2.2 1.2 1.4 1.2 1 1.2 .8 1.2 1.8 1.2 2.1 1.2-1.8 1.2-2.2 1.2-3.4 1.2-5.8 1.2-5.4 1.2-2 1.2-2.8 1.2-2.1 1.2-2.4 1.2-2.7 1.2-1.8 1.2-2.8 1.2 1.2 1.2 .4 1.2 .8 1.2-1.9 1.2-2 1.2-1.1 1.2 .2 1.2 1 1.2-1.3 1.2-1.5 1.2-2.4 1.2-.3 1.2-.3 1.2-1.2 1.2 .8 1.2 1.1 1.2 2.4 1.2 4.1 1.2 3.9 1.2 1.3 1.2 1.8 1.2-2.7 1.2-5.2 1.2-4 1.2-4.5 1.2-2.6 1.2-.5 1.2 0 1.2 1.7" fill="none" stroke="#3838ff" stroke-width="0.9" stroke-linejoin="round" clip-path="url(#cl1)"/>
<path d="M71.7 363l1 .1 1 .2 1 .4 1-2.3 1-.7 1-.8 1-.3 1-.3 1-1.3 1 .2 1-1.1 1 .7 1-.8 1 .3 1 0 1-1 1-1.1 1-1 1-1.1 1 1 1-.3 1 .7 1-.9 1-.4 1-.9 1-.4 1-1.2 1 1.1 1 .2 1 .1 1-.2 1-2.1 1-2 1 1.2 1-.2 1-1 1-.4 1 .8 1 .9 1-.8 1-1.1 1 .5 1 .2 1-1.5 1 .6 1-1 1 .3 1 .4 1 .2 1-.6 1 1.5 1-.4 1 1.7 1-.9 1 .9 1 .6 1 .4 1 1 1 .6 1 .8 1-1.2 1-.3 1-2 1-.2 1-1.3 1-1.1 1-1.1 1-2.2 1-1.6 1-.2 1 .8 1 2 1-1.2 1 2.4 1 3.2 1 1.8 1 1.6 1 3.5 1 4.5 1 4 1 2.5 1 3.2 1 3.8 1-.2 1 .9 1-2 1 1.5 1-.6 1 2.4 1 .7 1-.7 1 1.2 1 1 1 .2 1-.6 1-.7 1-.8 1-.9 1-.3 1-1.4 1-.4 1-.8 1 .2 1 .8 1 .2 1-2.3 1-.6 1-.7 1-.4 1 .9 1-1.8 1-.9 1-1 1-2.1 1-.8 1-.5 1-.3 1 1 1 .6 1 .8 1-.3 1 2.3 1 1 1 0 1 .7 1-.1 1-.6 1 1.8 1 0 1 1.2 1 .5 1-1.8 1-.5 1 .9 1-.5 1-.3 1 0 1 .5 1-1.1 1 .5 1 1.1 1-.8 1 0 1 .6 1 .6 1 .4 1-.1 1 .9 1-1.2 1 1.3 1-.1 1-.5 1-.8 1 1.1 1-1.3 1-.9 1-.2 1-2.4 1-1 1-1.3 1-.6 1-.4 1 1.2 1-1.8 1-.9 1-1.2 1-1 1 1.5 1-.6 1-.6 1-.2 1-.1 1-1 1 .4 1 .9 1-.8 1 .6 1 .4 1 0 1 0 1 0 1 .3 1 .1 1-1.7 1 .3 1-.3 1-2.4 1-1.2 1 .4 1-.4 1-1.1 1-.4 1-1.5 1-.9 1-2 1-.9 1-1.3 1-.2 1 0 1 .2 1 1.3 1 .6 1-.1 1 .8 1 .7 1 .3 1-1.9 1-.5 1-1.8 1-.8 1-1.3 1 .8 1-2.7 1 .2 1-1.8 1 2 1-.9 1 1.5 1 .3 1 1.7 1-.1 1 1.4 1 1.8 1 1.4 1-.2 1-.5 1 1.3 1 .7 1 .3 1 .4 1 .1 1 1 1 2.1 1 .9 1 .2 1 1.4 1-.6 1 .8 1 1 1-.3 1-.8 1-.1 1 .9 1-1.2 1-.2 1 .7 1-2.8 1 .3 1 .9 1-1.5 1 .1 1 1.1 1-.6 1-.2 1 1.2 1-2.5 1 1.2 1-1.4 1-.2 1-.9 1-1.5 1-1.7 1-.4 1-.8 1-.6 1-.5 1-.9 1 .5 1-1.5 1-1.7 1-.7 1 1 1 .1 1 1.1 1 1.1 1 1.7 1-1.4 1 .8 1-.8 1 1.3 1-1.5 1 2.2 1-.5 1 1.7 1-.7 1-1 1 .1 1 .1 1 .8 1 1.1 1-.1 1-.3 1-.5 1 .7 1-2.1 1-.1 1-1.2 1 .1 1 1.4 1-.9 1 3.3 1 2 1-.2 1 .7 1 2 1 1.7 1 1.3 1 2.7 1 2.7 1-.2 1 1.2 1 .4 1-.3 1-2.1 1-1.5 1-1.5 1-1.8 1-.8 1-1.7 1-.6 1-2.4 1 .1 1-.7 1-.2 1-.8 1-.7 1-.2 1-.7 1-.1 1-1.7 1 .4 1 2.3 1 .7 1 3.7 1 1.3 1-1 1 2.6 1 .3 1 .3 1 .9 1-.8 1 .9 1 2.1 1 .6 1 1.6 1 1.5 1 1.7 1 .1 1 .9 1 .3 1 1.2 1-2.1 1-.8 1-1.7 1-2 1-.2 1-.9 1-1.6 1-.3 1-.4 1-1.3 1 1.9 1-.7 1 1.6 1 1.4 1 .6 1 .5 1-.5 1-.5 1-1.9 1 .9 1-2.4 1 1.3 1 0 1 1.4 1 .4 1 .2 1 1.9 1-1.5 1-1.8 1-1.2 1-.9 1-2 1-2.6 1-1.8 1-1.5 1 .5 1 .2 1-.9 1-3.4 1-.6 1 .1 1-1 1-.7 1-1.5 1 .7 1 2.4 1 0 1 3.8 1 2.8 1 3.5 1-5 1-4.3 1-4.4 1-3.4 1-3.3 1-.2 1-2.4 1 1 1 1.5 1 2.3 1-1.8 1-.7 1-.3 1-3.4 1-3.5 1-2.1 1-2.7 1-2.6 1-2.4 1-.8 1 1.4 1 2.1 1 2.8 1 .8 1 .9 1-.3 1 .5 1-.6 1-1.1 1 0 1-2.2 1-1.3 1-1.4 1 1.2 1 1.5 1 .8 1 1.8 1 1 1 .2 1 3.4 1 1.6 1 1.5 1-1.3 1-3.3 1-3 1-2.4 1-.1 1-1.8 1-.9 1 1.1 1 .7 1 .2 1 .3" fill="none" stroke="#3c3c3c" stroke-width="0.9" stroke-linejoin="round" clip-path="url(#cl3)"/>
<path d="M71.7 432l1 .8 1 .3 1 .5 1-.3 1 .5 1 .2 1-.5 1 1 1-.4 1-.5 1 .4 1 .1 1 .4 1 .9 1-.1 1 1.1 1-.6 1 .4 1-.1 1-1.1 1 .5 1 .3 1 .3 1-1 1 .8 1 .6 1-.8 1 .4 1 .8 1-1 1 1 1-.8 1 1.1 1 1.3 1-.2 1 .6 1-.8 1 .5 1 .3 1 1 1-.2 1 .7 1-.1 1-.3 1 .4 1 .1 1-.2 1 .4 1-.7 1 .2 1 .3 1-.6 1-.2 1-.2 1-1 1 1 1-.7 1 0 1-1.7 1 1.7 1 0 1-.2 1 .6 1 1.1 1-.5 1 1.6 1-.2 1 1.6 1 .6 1 .2 1-.4 1-1.3 1-.5 1-.5 1-1.5 1-1.1 1-1.7 1-.6 1-.1 1-1.7 1-1.8 1-2.3 1-.9 1-.2 1-1.4 1-.1 1-.8 1-.5 1-.1 1-.6 1-.6 1-.1 1-.6 1-1.4 1 .6 1 1 1-.2 1-.5 1-.4 1 0 1 .2 1 .5 1-.4 1-.3 1-.7 1-.5 1-1.1 1 2.4 1 .9 1 .3 1 1.3 1 .9 1-.2 1-1 1 .9 1-.6 1 .3 1-.9 1-.2 1-.3 1-.7 1-.6 1 .6 1-.7 1 .4 1 .2 1 0 1 .4 1-.2 1 .2 1 .4 1 .3 1-.1 1 .9 1 .3 1 .9 1-.5 1 1.5 1-.5 1 .3 1 0 1-1 1 .4 1 .9 1 .7 1-1 1 .3 1-.3 1-1.1 1 .3 1-.9 1-1.3 1 .3 1-.4 1 .3 1 .2 1 .9 1 1.6 1 .3 1-.1 1 .3 1 1.4 1 1.2 1-.7 1 .2 1 .7 1 .5 1-.5 1 .3 1 .9 1-1.1 1-.4 1-.1 1 .1 1-.4 1-.9 1 .3 1 .6 1-.7 1-.1 1 .1 1 1.4 1-.2 1-.3 1 1.3 1 .6 1-.3 1 .4 1 .5 1 .9 1 .4 1 .7 1 .3 1 .6 1 .6 1 .3 1 0 1-.4 1 .5 1-.5 1-.4 1 .4 1-.9 1-.8 1-.2 1-1.4 1 .2 1 .7 1 .9 1 .7 1 .8 1 .1 1 0 1 .5 1-.3 1-.5 1-.3 1 .4 1-.6 1-1.3 1-.9 1-1.5 1-1.7 1-1.2 1-1.3 1-.6 1-1.1 1-1.6 1 .1 1 .2 1 .7 1-1.1 1-.2 1-1.2 1-.5 1-1.2 1 .3 1 0 1-.5 1 1.3 1 .5 1 .2 1 .7 1-.6 1 .4 1 .1 1-.9 1 .5 1-.1 1 .2 1 .3 1 .6 1 .2 1 .4 1 .3 1-.8 1-.7 1 0 1-.9 1 .3 1 0 1 .9 1 .2 1-.2 1-1.5 1 .3 1 0 1-1 1 1.5 1 .2 1 1.1 1-.3 1-1 1 1.4 1-.2 1 .2 1 .6 1-.8 1 .6 1-.8 1 .6 1-.1 1-.4 1-.1 1 .3 1-.1 1-1 1 1.1 1 .2 1-.1 1-.4 1 .1 1 0 1 .2 1-1 1 .6 1 1 1 .2 1 .5 1-.5 1 .5 1-1.4 1 .1 1 .7 1-1.4 1 .1 1 .9 1-.5 1-.5 1-.4 1-.9 1-.6 1 .4 1 .3 1 .1 1 .8 1 .5 1 1.7 1 .7 1 .8 1 .9 1-.1 1 1.4 1 .1 1 .2 1-.7 1-.1 1-.7 1-.3 1-.6 1 .6 1-1 1-.9 1-.2 1-.2 1-.7 1 0 1-.2 1-1.3 1 .6 1 .7 1 .4 1 1.1 1-.1 1-1.1 1 1.1 1 .1 1 .2 1-.1 1 1 1 .7 1-.4 1 .8 1-.2 1 .3 1 1.2 1 0 1 .2 1-.7 1 .6 1 .9 1-.2 1 .1 1 .3 1-.6 1-.6 1 .4 1 .6 1 .4 1-.6 1 .8 1 1.6 1-.5 1 .4 1 .2 1-.3 1 .1 1-.2 1 .5 1 .7 1-.1 1 1.6 1 .2 1 .8 1-.3 1 1.1 1 .6 1-1.4 1-.6 1-.9 1 1.8 1 1.2 1 .9 1 .8 1-.2 1-.4 1-.2 1-2.6 1-.3 1-1 1-2.3 1-3.3 1-2.8 1-.8 1-2.8 1-.3 1-.5 1-.4 1-.5 1 1 1 2.3 1 2.4 1 .9 1 1.7 1 .3 1 .8 1 .4 1 1.5 1 .8 1 1 1 .5 1 1.6 1-1.7 1-1.4 1-.4 1-.5 1-.6 1-.8 1-.5 1-.4 1-.5 1-.1 1 0 1 .9 1-1 1 1.5 1 .5 1 .6 1 1.5 1 .6 1-1 1-.4 1-.5 1 .8 1 .8 1-.1 1-1.4 1-.7 1 .5 1-1.1 1-1.5 1-.7 1-2 1-1.4" fill="none" stroke="#30ff30" stroke-width="0.9" stroke-linejoin="round" clip-path="url(#cl4)"/>
<path d="M71.7 402.7l1-.1 1 0 1-.4 1 .8 1-.2 1 .4 1-.3 1 .5 1-.3 1 0 1 .2 1-.5 1-.2 1-.1 1-.1 1 .1 1-.2 1-.6 1-.5 1-1.1 1-1.4 1 .5 1-1.4 1 .9 1-.9 1-.1 1 .4 1 1.2 1-.2 1 .9 1 .6 1-.3 1 .3 1 .7 1 .3 1-.1 1-.3 1 .5 1 .2 1 .5 1 .2 1-.2 1-.2 1 .2 1 .5 1 .4 1 .2 1 .4 1 .2 1-.5 1 .6 1-.9 1 .4 1-.1 1-.9 1 1.1 1 .7 1-.2 1-1.1 1-.8 1 1.3 1 .4 1-.1 1 0 1-.4 1 .8 1-.7 1 .1 1 .7 1 1.1 1 .1 1 .4 1 .4 1 0 1-.5 1 .3 1 .3 1 0 1 .4 1 .4 1 .4 1 .7 1 1.6 1 1.6 1 .6 1 .4 1-.1 1-.1 1-.3 1-.3 1-.9 1 1 1 1 1 .1 1 1.1 1 .7 1 .3 1-.1 1 1.1 1 .7 1-.7 1 .9 1 1.1 1-.2 1 1.5 1-.3 1 .4 1-.2 1 .4 1 .4 1 .7 1-.6 1 .2 1 .2 1-.3 1-.1 1-1 1-.6 1 .1 1-.7 1 .3 1 .5 1 0 1 .1 1 0 1 .3 1-.3 1-1.4 1 .9 1 .5 1-.4 1 0 1-1.1 1 .5 1-.4 1-.6 1 .2 1-.5 1-.8 1-.1 1 .1 1-.3 1 .1 1-.5 1-.8 1 .8 1-.2 1-.2 1-1.3 1 0 1 .5 1-.5 1 .3 1 2.1 1 .3 1 .1 1-.2 1 .7 1-.2 1-.5 1-.3 1-.1 1 .6 1-.7 1-.5 1 .1 1-.1 1-1 1-.3 1 0 1-.6 1 .2 1-.3 1-1 1 .5 1-.4 1-.4 1-1 1 .8 1-.9 1 .7 1 .9 1-.6 1 .3 1 .3 1 .8 1 .1 1 .2 1 1 1-.7 1 .6 1-.4 1 .8 1 .9 1-.2 1 .6 1 1 1-1.8 1-.3 1-.7 1 .3 1-1.1 1-1.1 1 .1 1-1.1 1-.8 1 .8 1-.3 1 1.4 1 .7 1 .7 1 .9 1 1.5 1 1 1-.2 1-1.2 1-.7 1-.6 1 .3 1 .2 1-.1 1 1 1 .9 1-.8 1 1.3 1-.2 1-.1 1 .2 1-.6 1-.4 1 .3 1 1.6 1-.6 1-1 1 .5 1 1.8 1-.9 1 .6 1 .4 1 .3 1 .2 1-1 1 1.8 1-.8 1 .6 1 .4 1-.9 1-.7 1 .7 1 .6 1 .4 1-.6 1-.3 1-.5 1 1.2 1 .5 1 0 1-.5 1 .3 1 .6 1 1.3 1 1.8 1 .6 1 .3 1 .4 1 .1 1 .5 1 .1 1 1.3 1 0 1 0 1 .7 1 .2 1 .4 1-.8 1-.3 1 .9 1 0 1-.2 1 .6 1 0 1-.2 1-.4 1 .3 1 .5 1 .3 1 .3 1-.3 1 .5 1-.2 1 .3 1 .2 1 1.3 1-.4 1 .8 1-.9 1 .7 1 .8 1-.8 1 .2 1-1 1-1.3 1-.3 1-.2 1-.4 1-.2 1-.5 1 .1 1-.2 1-.5 1-.9 1 .2 1 .3 1 0 1 0 1-1.1 1 .8 1 .1 1-.5 1 .1 1-1.8 1 .5 1-.5 1-.8 1 .2 1 .8 1 1.1 1-1 1-.5 1 .7 1-.5 1-.1 1 0 1 .1 1-.7 1-.2 1-.4 1 .1 1-.3 1 1.3 1 .7 1 .5 1 .6 1-.6 1 .2 1-1.4 1-1.1 1-.7 1-.4 1-.6 1-.7 1-1.2 1-1.5 1 .1 1 .7 1-.4 1 1.3 1 .8 1 0 1-.9 1-.1 1 .1 1 0 1-.5 1-1.2 1 .4 1-1.4 1-.8 1-.9 1-1.3 1-.2 1 .5 1-.5 1 .2 1 .3 1-.9 1 .9 1-.4 1 .9 1 .4 1 .7 1 .1 1 .5 1 .5 1 .9 1-.4 1 .3 1 1.2 1 2.4 1 1.5 1 .7 1-1.9 1-1.5 1-1.2 1-1.8 1-1 1-.2 1-.9 1-1.6 1 .1 1 1.6 1 1.2 1 2.8 1 4.1 1 3.4 1 2.6 1-.6 1 3.1 1 1.9 1 .2 1 .5 1 1 1 1.5 1 1.2 1 .5 1 1.5 1 2.2 1 1.7 1 1.1 1 1 1 .9 1-.4 1-1.2 1 .4 1-1.2 1-.2 1-.1 1-.5 1 .1 1-.6 1 .7 1 1.7 1 .5 1 1.4 1-.1 1 .4 1-.9 1-.5 1-1.9 1-.9 1-2.3 1-1.4 1-1.6 1-.5 1 1.1 1 1.3 1 1.4 1 1 1 .7 1-.3 1 0 1 .6 1 .4 1 1.1" fill="none" stroke="#3838ff" stroke-width="0.9" stroke-linejoin="round" clip-path="url(#cl4)"/>
<path d="M71.7 404.6l1-.2 1-.2 1 .9 1 .7 1-.5 1-.1 1-.7 1 .5 1 0 1 .9 1 .9 1-1.1 1-.8 1 .1 1-.1 1 0 1 .8 1 .1 1 .3 1-1.3 1-.1 1-.7 1 .4 1-.6 1 0 1 .3 1 .6 1 0 1 .1 1 .3 1 .9 1 .6 1-.6 1-.3 1 1.2 1 .3 1 .5 1 .3 1-.3 1 0 1 .1 1-.4 1-.5 1 1.2 1 .1 1-.5 1 .3 1-.1 1 .4 1 .3 1 .2 1-.6 1 .2 1-.9 1-.4 1-.1 1 .6 1 .5 1-.1 1 .3 1 .4 1-.3 1-.8 1-.2 1 .1 1 .2 1 0 1-.6 1 .1 1-.7 1 0 1-.2 1 .4 1-1.4 1-.7 1 .3 1 .9 1-.9 1-.2 1 .4 1 .6 1-1.3 1 0 1 .2 1-.3 1-.9 1 0 1-1 1-1.1 1-.3 1 .2 1-.6 1-.6 1-1 1-.5 1 1.1 1-.8 1-.4 1-.1 1 .4 1-1.4 1 .3 1 .2 1-.6 1 0 1 .8 1-.8 1-.1 1 .9 1-.6 1 .6 1-.3 1-.6 1 .2 1 .6 1-.5 1-.7 1-.7 1 0 1-.1 1 .2 1 .4 1 .6 1-.3 1 1 1 .8 1-.1 1 .4 1-.4 1-.9 1 .4 1 .1 1 .2 1 .2 1 1 1 .3 1 .7 1 .4 1-.6 1 1.3 1-.1 1 .4 1-.2 1 .3 1-.7 1-1 1-.7 1-.3 1 .2 1 0 1-.1 1-1 1 .1 1-1 1-.1 1 .2 1 .5 1-.2 1-.3 1 .6 1 .7 1-.3 1-.1 1 .7 1-.7 1-.5 1 .3 1-.9 1-.3 1-.6 1 .2 1-.6 1 .9 1-.5 1 .1 1-.2 1-.2 1 0 1 .9 1 .2 1-.6 1-.4 1 .9 1 .5 1-1 1 .5 1 0 1-.3 1 .2 1-.1 1 .6 1-.8 1-.3 1 0 1-.1 1-1 1 .6 1-.5 1 .2 1-.8 1 .4 1-.6 1-.1 1-.2 1-.6 1-.5 1-.5 1-.4 1 .1 1-.1 1-1.5 1 .4 1-.2 1-.2 1 .1 1-1.6 1 .6 1-.6 1 .4 1-1.7 1 .1 1-.8 1 .3 1-.2 1-.2 1 .1 1-.4 1-.7 1 .3 1-.2 1 .9 1 0 1 1.7 1 .3 1 .2 1 1.4 1-.7 1-.1 1 .3 1-.2 1 .7 1-.4 1 .6 1-.9 1 .8 1 .3 1-.6 1-1.6 1 1.4 1 .7 1-1.1 1-.6 1 .7 1 .6 1 .1 1-.3 1-.2 1 .1 1-.8 1-.4 1 .4 1-.9 1-1.5 1-.1 1 .2 1 .2 1 0 1 0 1-.6 1 .5 1 .8 1 .7 1-.5 1 0 1 .8 1 .6 1 .3 1 .2 1 .1 1 .3 1-.2 1 .3 1 0 1 1 1 .3 1 .3 1-.6 1 .7 1-.7 1 .7 1-.5 1 .9 1-.6 1-.1 1 .8 1 .4 1 .2 1 .2 1 .6 1 .8 1-.2 1 1 1 0 1 .2 1 1.1 1 .3 1 .5 1 1.2 1 .4 1 .8 1-.1 1 0 1 0 1-1.2 1-.7 1-.4 1-1.2 1 .1 1-.9 1-.9 1-.2 1-.5 1-.8 1-.5 1-.2 1 .3 1 .8 1-1.5 1 .5 1-1.3 1-.6 1-.2 1 1.1 1 .8 1 .6 1 .6 1 .1 1-.2 1 .7 1 .4 1 .5 1 .4 1 0 1 .6 1 .8 1 1.5 1 .1 1 .4 1 .3 1 .1 1 1.2 1 .9 1-1.2 1 0 1-1 1 0 1-1.1 1 .5 1-.1 1 .1 1-1.2 1 .9 1-.4 1 1.2 1 .1 1 .8 1-.1 1-1.2 1-.4 1 1 1 .2 1 .8 1-.4 1 .6 1 .4 1 .5 1 0 1 0 1 .3 1 1.3 1-.7 1 .2 1 .7 1-.1 1 1.1 1 .6 1-.8 1-1.3 1-.8 1-1.4 1 .9 1 .4 1-.3 1-.9 1-1.9 1-1.3 1-1.7 1-.9 1-1 1-2.7 1-.9 1-.8 1-1 1-2.6 1-3.5 1 .9 1 1.2 1-.6 1-.1 1 2.2 1 2.1 1 2.2 1 .5 1 1.8 1-.4 1 1.5 1 1.2 1 1.1 1 1.5 1 .8 1 .7 1 .3 1 .5 1 .8 1 1.4 1-.1 1-1.2 1-2 1-2.1 1-2.3 1-1.5 1 .3 1 .6 1 .9 1 .4 1 1 1 1.2 1 .8 1 .7 1 1.3 1 1.2 1-.6 1-1.4 1-2 1-1 1-1 1-1.5 1-1.4 1-.5 1-.3 1-.1 1-.5 1 .3 1-1" fill="none" stroke="#ff3838" stroke-width="0.9" stroke-linejoin="round" clip-path="url(#cl4)"/>
<path d="M72 404.8l18 0 6-2.3" fill="none" stroke="#30ff30" stroke-width="0.9" stroke-linejoin="round" clip-path="url(#cl4)"/>
<path d="M71.7 483l.8 1.8 .8 1.5 .8 .2 .8 .8 .8 3.1 .8-.2 .8 1.7 .8 .6 .8 2.2 .8 .4 .8-.3 .8-.7 .8-2.9 .8-1.3 .8-1 .8-.4 .8 .2 .8-.6 .8-1.3 .8-.6 .8 2.8 .8-1.7 .8 3.6 .8-1.4 .8-2.7 .8-1.5 .8-1.8 .8-1.7 .8-2.3 .8-.6 .8 .1 .8 .3 .8-.7 .8-.1 .8-1.1 .8-.3 .8-6.9 .8-2 .8-2 .8-3 .8-1.5 .8-.4 .8 .5 .8-1.2 .8 .9 .8 .2 .8 1.9 .8 1 .8 1.4 .8 .4 .8 1.2 .8 .2 .8-.1 .8-.1 .8-.5 .8 1 .8-1.3 .8-.5 .8-.1 .8-.9 .8-1.6 .8 .2 .8-1.7 .8 2.6 .8-.1 .8-.5 .8 2 .8-1.1 .8-2.1 .8 .9 .8 .4 .8-1.5 .8-1.4 .8 .3 .8 1.1 .8-2.5 .8-.7 .8-.6 .8 .5 .8 0 .8 .3 .8-.9 .8 .8 .8 2.2 .8-2.1 .8 .6 .8 .6 .8 .6 .8 1 .8 1 .8 1.6 .8 .5 .8 1.9 .8 3.6 .8 4.3 .8 1.2 .8 4.9 .8-.1 .8 1.4 .8 1.9 .8 .5 .8 2.3 .8 1.5 .8 1.9 .8 1.5 .8-2.1 .8 1.7 .8-1.4 .8-.6 .8-.5 .8 1 .8 3.2 .8 1.6 .8-.3 .8 2 .8-.8 .8-3.2 .8-2.1 .8 .1 .8-.9 .8-.3 .8 .1 .8-.5 .8-3 .8-2.2 .8 .8 .8 1 .8 1.3 .8 3.4 .8 1.9 .8 1.4 .8 3 .8 1.3 .8 .7 .8-1.3 .8-1.8 .8-2.8 .8-2 .8-1.3 .8-3 .8-3.4 .8-4.6 .8-1 .8-3.5 .8-1.9 .8-1 .8 2.7 .8-.4 .8 1.6 .8 0 .8 2.6 .8 4.3 .8 2.8 .8 3.1 .8 1.2 .8 .8 .8-.7 .8-2.9 .8-1.6 .8-1.9 .8-1.2 .8-1.7 .8-.8 .8-2.1 .8 .1 .8-1.5 .8 .7 .8 .3 .8 .3 .8-.6 .8-1.3 .8-2 .8-1 .8 .8 .8-1.1 .8-.4 .8 1.6 .8-2 .8-1.2 .8-1.2 .8-1.8 .8-2 .8-3.5 .8-2.9 .8-3 .8-1.1 .8 2.3 .8 4 .8 4.6 .8 10.3 .8 5.5 .8 5.5 .8 5.7 .8 7.6 .8 3.4 .8-4.8 .8-2.5 .8-2.3 .8-4 .8-.5 .8-.8 .8-.7 .8-1.5 .8-.8 .8-.8 .8 .5 .8-3.6 .8-.3 .8 1.9 .8-.2 .8-1.3 .8-3 .8 3.1 .8 2 .8-.5 .8 .4 .8 .5 .8 1.8 .8-2 .8 1 .8 .8 .8 .4 .8-.5 .8-2.2 .8-2.2 .8 .3 .8-.6 .8 0 .8-.8 .8 .1 .8 .7 .8 .3 .8 .9 .8-.5 .8-2.4 .8-.1 .8 .1 .8-.1 .8 .1 .8-1 .8 1.4 .8-.3 .8 2.2 .8 2.7 .8 1.1 .8-3.6 .8-2.9 .8-.8 .8-3.8 .8-2.7 .8 1.9 .8-1.5 .8-1.6 .8 2 .8 3.5 .8 .4 .8 2.3 .8-.7 .8-1.5 .8-1.7 .8-.4 .8 1.6 .8 1.7 .8 2.4 .8 2.9 .8-.3 .8-3.8 .8-3.7 .8-2.3 .8-4.6 .8-2.2 .8-1.4 .8-3.8 .8-.8 .8-4.5 .8 3.2 .8 2.5 .8 3.6 .8 2.2 .8 3.7 .8 4.7 .8 2.4 .8 4.5 .8 .7 .8-3.4 .8 2 .8 1.8 .8-1.3 .8 1 .8-.5 .8-2.5 .8-.4 .8-1.6 .8 .8 .8-.2 .8-1 .8 .2 .8-.3 .8 3.4 .8 1.1 .8 5.8 .8 3 .8-.6 .8 .2 .8-1.2 .8-.9 .8-.8 .8 1.6 .8-2.2 .8-.2 .8-1.6 .8-1.2 .8 1.3 .8 1.9 .8-.4 .8 1 .8 2.8 .8-1.8 .8 1.9 .8 1.9 .8-.8 .8 2 .8 1.2 .8-3.2 .8 3.3 .8-2.7 .8-1.7 .8-.1 .8-1.7 .8-4.3 .8-2.8 .8-2.7 .8 1.9 .8 1.5 .8 2.4 .8-.2 .8-.3 .8 .3 .8 .7 .8 0 .8 .3 .8 .6 .8 1.8 .8-1.6 .8 .8 .8-.3 .8 .1 .8 .7 .8-.4 .8 .1 .8 .7 .8 .5 .8 .9 .8-.8 .8 1.3 .8 1.4 .8 .2 .8-1.6 .8 1.5 .8-.5 .8 .1 .8 .2 .8-1.2 .8 1.4 .8-1.7 .8-1.3 .8-.6 .8-1.2 .8-1.1 .8 1.3 .8-2 .8-1.6 .8-1.6 .8-1.4 .8 1.3 .8-1.7 .8-2.4 .8-1.2 .8-.2 .8-1.2 .8 .8 .8 1.3 .8-3.1 .8-1.1 .8 .2 .8-3.1 .8 2.8 .8 2.1 .8 2.6 .8 3.1 .8 4.5 .8 3.2 .8 3.5 .8-1.9 .8 .5 .8 .5 .8 1.6 .8-1.1 .8-1.1 .8-1.2 .8-1.4 .8-.5 .8 .6 .8-.5 .8-1.5 .8-1.2 .8 .4 .8 .1 .8 1.3 .8 .2 .8 1.6 .8 1.7 .8 1.2 .8 1.3 .8 .7 .8 .9 .8-2.4 .8-2.9 .8-2.9 .8 .2 .8-2.1 .8-.4 .8-1.1 .8-.7 .8 .8 .8 3.8 .8 1.5 .8 .9 .8 1.6 .8-.5 .8-2.6 .8-3.2 .8-1.5 .8-2.9 .8-2.2 .8-2.8 .8-3.8 .8-3 .8-2.5 .8 .6 .8 .4 .8 3.2 .8 2.1 .8 2.3 .8 4.9 .8 2.9 .8 1.5 .8 2.3 .8-2.2 .8 0 .8-2.9 .8-.2 .8-1.9 .8-.3 .8-.3 .8 .7 .8 2.7 .8 2.2 .8 1.2 .8 1.2 .8 1.6 .8 1.5 .8 2.9 .8-.1 .8 1.7 .8-2.7 .8-3.2 .8-1.2 .8-.2 .8-.5 .8-1 .8 1.4 .8 .3 .8 0 .8-1.5 .8-3 .8 2.7 .8 1.6 .8 2.8 .8 2.3 .8-4.2 .8-3.7 .8-5.8 .8 2.8 .8 5.4 .8 5.7 .8 4.9 .8-1.7 .8-7.3 .8-9.2 .8-5.6 .8-4 .8 5 .8 3.2 .8 3.7 .8 1.5 .8 2.5 .8 4.2 .8-2 .8-2.9 .8 .5 .8 8.4 .8 8.2 .8 6.3 .8 4.3 .8 2.8 .8-2.1 .8 1.8 .8 0 .8-.9 .8-4.7 .8-3.8 .8-1.7 .8-2.8 .8-2.5 .8 .5 .8-.5 .8 .4 .8 1.7 .8 2.7 .8 4.7 .8 1.8 .8-2 .8-1.4 .8-1.8 .8-3.5 .8-.1 .8-1.8 .8-.6 .8 1 .8-2.3 .8 1.3 .8 1 .8 .9 .8-.1 .8 1.5 .8 5.8 .8 3 .8 1.5 .8-5.5 .8-2.2 .8-3.8 .8-5.2 .8-1.8 .8-.3 .8-1.5 .8-.4 .8-3.7 .8-1.1 .8-2.6 .8 4.3 .8 2.5 .8 3.5 .8 5.8 .8 3.9 .8 4.4 .8 1.8 .8-.4 .8-1.1 .8 1.5 .8 2.2 .8 1.7 .8-1.5 .8-.2 .8 .4 .8-4.3 .8-3.3" fill="none" stroke="#ff1818" stroke-width="1.3" stroke-linejoin="round" clip-path="url(#cl5)"/>
<path d="M71.7 484.2l.9 1.4 .9 .3 .9 1 .9 2.3 .9 .8 .9 2.1 .9 .2 .9 1.6 .9-.2 .9-.6 .9-2.1 .9-.6 .9-.9 .9-.7 .9-.2 .9-1.4 .9 .6 .9-2 .9 .9 .9 1.8 .9 1.3 .9-.7 .9-3.2 .9-1.8 .9-2.9 .9-2.1 .9-.8 .9-.1 .9-.9 .9-.9 .9-.8 .9-2.1 .9-3.2 .9-2.3 .9-3.3 .9-2.6 .9-1.7 .9-.3 .9 0 .9 2 .9 1.6 .9 1.7 .9 .9 .9 .3 .9 1.4 .9 .5 .9 1.3 .9-.8 .9-1.2 .9-.4 .9-1.9 .9-1.3 .9-.5 .9-1.1 .9-.2 .9 .6 .9 1 .9 .3 .9 0 .9 0 .9-1.7 .9 0 .9-1.3 .9-1.8 .9-1.3 .9-.1 .9-.1 .9-1 .9-.5 .9 .1 .9 .7 .9-1 .9-.8 .9 .2 .9 1 .9 1 .9 .3 .9 .3 .9 1.1 .9 1.1 .9 .8 .9 2 .9 .3 .9 4.6 .9 4.5 .9 4.7 .9 1 .9 2.2 .9 1.6 .9 .8 .9 1.9 .9 2.3 .9 1.7 .9 .6 .9-.8 .9-1.1 .9-.1 .9 1.8 .9 2.9 .9 .4 .9 2.6 .9 .3 .9-.7 .9-.6 .9-.9 .9-2.5 .9 0 .9-.6 .9-2.5 .9-.5 .9-1.7 .9-.8 .9 1.4 .9 1.6 .9 2.6 .9 3.2 .9 1.3 .9 2.8 .9-.1 .9-.8 .9-2.2 .9-1.3 .9-2.9 .9-3.7 .9-2.4 .9-3.5 .9-2.4 .9-2.3 .9-3.4 .9-.9 .9 1.7 .9 1 .9 1.5 .9 3.3 .9 2.1 .9 2.5 .9 3.6 .9 .2 .9 1.4 .9-1.3 .9-2.2 .9-.3 .9-3.3 .9-1.8 .9-2.1 .9-1.1 .9-2 .9 .5 .9 1.1 .9 1.6 .9-1.3 .9-1.8 .9-2.7 .9-.9 .9 1.2 .9 .9 .9-2 .9-.3 .9-1.7 .9-2 .9-2.5 .9-2.5 .9-4.6 .9-4.2 .9-1.2 .9 2.5 .9 3.7 .9 5.1 .9 10.2 .9 8.3 .9 6.3 .9 5.6 .9 5.5 .9-1.9 .9-2.5 .9-3.5 .9-3.3 .9-1.4 .9-.7 .9-.8 .9-.9 .9-.1 .9-1.8 .9-1.2 .9-.7 .9-.1 .9-.4 .9-.1 .9 1.7 .9-.4 .9 1.2 .9-.7 .9 .6 .9 .5 .9 .1 .9 .8 .9-1.3 .9-.2 .9-.5 .9-.9 .9-.7 .9-.1 .9-.2 .9 .2 .9 .1 .9-.1 .9 1.3 .9-1.2 .9-1.8 .9-1.1 .9-2.7 .9 .3 .9-.5 .9 2.5 .9 1.6 .9 2 .9 3 .9-1.2 .9-2.6 .9-2.4 .9-4.6 .9-2.8 .9-.6 .9 .3 .9 .7 .9 .8 .9 .4 .9 2.2 .9 1.6 .9-2.4 .9-2.1 .9 .7 .9 1.6 .9 2.6 .9 3 .9 2.5 .9-3.5 .9-4.5 .9-3.9 .9-2.8 .9-3.6 .9-3.4 .9-2.5 .9-2.1 .9 .5 .9 3.6 .9 2.7 .9 3.1 .9 4.9 .9 4.5 .9 4.2 .9 2.7 .9-1.9 .9-.9 .9 1.4 .9 0 .9 1.5 .9 .2 .9-2 .9-1.2 .9-.9 .9-.4 .9-.6 .9-.3 .9-.1 .9 3.7 .9 4.8 .9 3.9 .9 1.7 .9 .6 .9-.9 .9-.6 .9-.8 .9-.9 .9 .3 .9-1 .9-1.4 .9 .4 .9 .1 .9 1.2 .9 .9 .9 .5 .9 1.1 .9 .9 .9 1.4 .9 1.5 .9 .5 .9 .4 .9 .1 .9-3.8 .9-1.6 .9-2.8 .9-2.8 .9-2.5 .9-1.5 .9 .4 .9 .8 .9 .9 .9 .4 .9 1.7 .9 1 .9-1.1 .9 1.6 .9-.2 .9 .3 .9-1 .9 .1 .9 0 .9 1.3 .9-.3 .9 0 .9 1.2 .9 1 .9-.4 .9-.4 .9 1.2 .9 .1 .9 .8 .9 .5 .9 .9 .9-.8 .9 .5 .9-.8 .9 .4 .9-1.7 .9-.6 .9 .5 .9-1.9 .9-.2 .9-1.7 .9-1.1 .9-1.1 .9-1.7 .9-.4 .9-2.4 .9-1.1 .9 .4 .9 1 .9 1.2 .9-1 .9-2.4 .9-1 .9-1.6 .9 1.7 .9 2.1 .9 1.1 .9 4.4 .9 3.8 .9 3.6 .9 1.1 .9 .9 .9-.4 .9 .8 .9-.5 .9-.7 .9-.7 .9-.4 .9-.2 .9-1.1 .9-2 .9-.9 .9 .5 .9 .1 .9 2.4 .9-.2 .9 .6 .9 2.3 .9 2 .9 2.1 .9-1.6 .9-2.6 .9-3.5 .9-1.3 .9-1.4 .9-1.5 .9 .5 .9 1.8 .9 .9 .9 2.1 .9 1.6 .9 1.1 .9-1.1 .9-1.8 .9-2.6 .9-3.2 .9-2.6 .9-4.8 .9-3.9 .9-2.8 .9-2.9 .9 1.3 .9-.1 .9 3 .9 2.9 .9 2.8 .9 3 .9 4.3 .9 1.6 .9-.2 .9-1.9 .9-2 .9-1.2 .9-1.3 .9-1.3 .9 .1 .9 2.1 .9 2.4 .9 1.7 .9 1.9 .9 2.7 .9 .9 .9 3.7 .9 3 .9-2.4 .9-3.9 .9-3.1 .9-1.6 .9-.2 .9 2.4 .9-.7 .9-.6 .9-1.9 .9-2.4 .9 1.5 .9 4.2 .9 1.7 .9 2 .9-6.2 .9-3.2 .9-1.2 .9 4.5 .9 5.5 .9 6.4 .9-5 .9-8.7 .9-6.6 .9-9.2 .9 3.1 .9 5.2 .9 3.7 .9 3 .9 1.6 .9 2.2 .9-1.5 .9-.4 .9 6.4 .9 8.9 .9 9 .9 1.1 .9 2.4 .9 .2 .9 2.8 .9 .2 .9-3.1 .9-4.2 .9-2 .9-4.5 .9-1.6 .9-.8 .9-.8 .9 1.3 .9 3.6 .9 2.7 .9 4.1 .9-2.8 .9-4.2 .9-1.8 .9-1.8 .9-.5 .9-.3 .9-.7 .9-.8 .9 .8 .9 1 .9 .4 .9 .6 .9 5.9 .9 2.7 .9 2.4 .9-4.5 .9-4 .9-2.8 .9-5.4 .9-1.9 .9-1.1 .9-2.2 .9-2.7 .9-.3 .9-3.1 .9 3.4 .9 4.4 .9 4.9 .9 5.5 .9 4.4 .9 2.6 .9 .8 .9-.3 .9 .5 .9 1.8 .9-.2 .9 1.3 .9 .6 .9-3.4 .9-2.9" fill="none" stroke="#3a3a3a" stroke-width="0.75" stroke-linejoin="round" clip-path="url(#cl5)"/>
<polyline points="110.5,586.6 160.5,586.6 211,586.6 261.3,586.6 312,586.6 362.5,586.6 413,586.6 463.7,586.6" fill="none" stroke="#00ff00" stroke-width="1.1"/>
<polyline points="110.5,586.2 160.5,586.2 211,586.2 261.3,586.2 312,586.2 362.5,586.2 413,586.2 463.7,586.2" fill="none" stroke="#0000ff" stroke-width="1.2"/>
<path d="M110.5 540.5l50-11.8 50.5 6.5 50.3-16.9 50.7 30.4 50.5-14.2 50.5 2 50.7-4.2" fill="none" stroke="#ff0000" stroke-width="1.2" stroke-linejoin="round"/>
<circle cx="110.5" cy="540.5" r="2.1" fill="#ff0000"/>
<circle cx="110.5" cy="586.2" r="2" fill="#0000ff" clip-path="url(#cl6)"/>
<circle cx="160.5" cy="528.7" r="2.1" fill="#ff0000"/>
<circle cx="160.5" cy="586.2" r="2" fill="#0000ff" clip-path="url(#cl6)"/>
<circle cx="211" cy="535.2" r="2.1" fill="#ff0000"/>
<circle cx="211" cy="586.2" r="2" fill="#0000ff" clip-path="url(#cl6)"/>
<circle cx="261.3" cy="518.3" r="2.1" fill="#ff0000"/>
<circle cx="261.3" cy="586.2" r="2" fill="#0000ff" clip-path="url(#cl6)"/>
<circle cx="312" cy="548.7" r="2.1" fill="#ff0000"/>
<circle cx="312" cy="586.2" r="2" fill="#0000ff" clip-path="url(#cl6)"/>
<circle cx="362.5" cy="534.5" r="2.1" fill="#ff0000"/>
<circle cx="362.5" cy="586.2" r="2" fill="#0000ff" clip-path="url(#cl6)"/>
<circle cx="413" cy="536.5" r="2.1" fill="#ff0000"/>
<circle cx="413" cy="586.2" r="2" fill="#0000ff" clip-path="url(#cl6)"/>
<circle cx="463.7" cy="532.3" r="2.1" fill="#ff0000"/>
<circle cx="463.7" cy="586.2" r="2" fill="#0000ff" clip-path="url(#cl6)"/>
<path d="M71.7 643.9l.9-.1 .9-1.3 .9-.5 .9 0 .9-1.2 .9-1.6 .9 1.7 .9-1.4 .9-.1 .9 1.2 .9 1.6 .9-1.1 .9-.2 .9 0 .9-.9 .9-1.4 .9 .8 .9 1.8 .9-2.9 .9 .5 .9-.4 .9-.4 .9 3.3 .9 .4 .9 2.3 .9-.6 .9 1.4 .9-2.5 .9 1.1 .9 1.5 .9-.7 .9 1.9 .9 2.8 .9 1.9 .9-.3 .9 1.6 .9-.9 .9 .4 .9-1 .9-1.6 .9-.2 .9-.5 .9-3.6 .9 .2 .9-.1 .9-.9 .9-.4 .9-1.4 .9-1.7 .9 0 .9-.7 .9-1.1 .9-.1 .9 .5 .9-1.4 .9 .2 .9 1.1 .9-.6 .9 0 .9 .6 .9 2.4 .9-1.4 .9 .5 .9 2.3 .9-2 .9 0 .9 1.2 .9 2 .9-.6 .9-.5 .9-2.1 .9 .5 .9-.5 .9 .3 .9 1.9 .9-.1 .9-1.2 .9-.2 .9 1 .9 1.7 .9-3.7 .9-1.6 .9 .7 .9-3.5 .9-4.4 .9-2.3 .9-1.1 .9-4.8 .9-2.4 .9 1 .9-4.8 .9-3.8 .9-3.3 .9 .1 .9-.4 .9-.8 .9-1.5 .9-.3 .9-.8 .9 .6 .9 1.1 .9-.9 .9-.3 .9 .4 .9-1 .9-1.1 .9 2.6 .9 .4 .9 1.9 .9-.5 .9 1.5 .9-.6 .9-.4 .9-.9 .9 .8 .9-3 .9-.9 .9-.7 .9-1.3 .9 1.6 .9-3.7 .9-2.4 .9 .9 .9 2.5 .9 1.3 .9-2.1 .9-.2 .9 1.9 .9 .1 .9 .2 .9-1.4 .9-.1 .9 .2 .9-1.1 .9-1 .9 .6 .9 .4 .9-1.9 .9 .6 .9 .1 .9 2.6 .9 0 .9-.2 .9-.8 .9-1.1 .9 .5 .9 2.9 .9-.4 .9-.5 .9 1.9 .9-1 .9 2.1 .9 2.2 .9-1.5 .9 .7 .9 1.7 .9-1.1 .9-.7 .9 1.3 .9-.9 .9 1 .9 1.7 .9 1.5 .9 .5 .9 1.3 .9-2.5 .9-.6 .9-1.2 .9-2 .9-2.7 .9-1.8 .9-3.1 .9 .8 .9 .4 .9 1.9 .9 1.1 .9 3.1 .9 .2 .9 .9 .9 2.6 .9 1.4 .9-.1 .9 1.5 .9 .1 .9 .9 .9-.3 .9 .3 .9-1.2 .9 2.1 .9-.8 .9-.6 .9 .4 .9 .4 .9-1.4 .9 1.7 .9-.8 .9-1.5 .9-.9 .9 2 .9 1.1 .9 0 .9-1.4 .9 1.9 .9-1.4 .9-.8 .9 .1 .9-.7 .9 .6 .9-.4 .9 1.4 .9 .1 .9-2.6 .9 1.2 .9 .2 .9-2.7 .9-1.2 .9-.8 .9 .1 .9 .8 .9 1.9 .9-3.4 .9 2.9 .9 .1 .9 1.1 .9-2.9 .9 .3 .9 .7 .9-1.1 .9-.5 .9-.5 .9 1.2 .9-2.5 .9-5.2 .9 0 .9-.8 .9-2.5 .9 1.4 .9-.7 .9 2 .9 2.9 .9 1.2 .9 .7 .9 2.8 .9 1.6 .9 2.6 .9-.2 .9-2.1 .9 1 .9 1.1 .9-1.3 .9 1 .9 1 .9 1 .9-3.8 .9 .2 .9 .3 .9-1.7 .9 .6 .9-2 .9-.1 .9-3.1 .9-1 .9-1.4 .9 1.6 .9-.8 .9 .4 .9-1.1 .9-3.8 .9 1 .9 .1 .9-1.1 .9-.3 .9-2.4 .9 1.7 .9-.6 .9-.5 .9 3.6 .9-1.6 .9 2.1 .9-1.3 .9-2.2 .9 .6 .9 .8 .9 2.8 .9 .5 .9 .6 .9-.1 .9 .2 .9-.4 .9 .5 .9 2 .9-.1 .9-.3 .9 .9 .9 .9 .9-.7 .9-.6 .9 .5 .9 .3 .9 .8 .9-.1 .9-1.8 .9 1.1 .9 .2 .9-1.8 .9-1.4 .9 1 .9 1.1 .9 .9 .9-1.1 .9-1.3 .9-.8 .9 1.9 .9-.1 .9-.5 .9-1.5 .9 .7 .9-1.1 .9 3.2 .9-1 .9-1.4 .9 .2 .9 0 .9 .2 .9-1.1 .9 1 .9 1.8 .9-1.9 .9 .7 .9 1.9 .9 0 .9 1.5 .9-.1 .9-.9 .9 2 .9 1 .9 .2 .9-.8 .9 1.8 .9-.6 .9 .3 .9 .3 .9-.4 .9-.7 .9-2.2 .9-.1 .9-1.5 .9-2.2 .9-.1 .9 .9 .9-.5 .9-.1 .9-2.1 .9-.4 .9-1 .9-.3 .9-1.8 .9-.1 .9 0 .9 1 .9-1.8 .9-2 .9-.2 .9 1.8 .9-4.3 .9 .5 .9-.7 .9-.6 .9 .3 .9-.7 .9 2.4 .9 .4 .9 1.1 .9 .3 .9-.4 .9 1 .9-2.1 .9-2.2 .9-.7 .9 1.4 .9 .7 .9 2.2 .9 1.2 .9-.7 .9 .9 .9 1.4 .9 4.3 .9-.8 .9 .9 .9 2.3 .9 1.2 .9-3 .9-.4 .9-2.8 .9 .4 .9-1.4 .9-2.3 .9-1.5 .9 1.5 .9-.7 .9-1.7 .9 .3 .9 2.1 .9 .9 .9 .5 .9 .7 .9 0 .9 .9 .9-.5 .9 .6 .9-1.4 .9-1.3 .9-.1 .9 .8 .9 .2 .9 3 .9 .8 .9 1.1 .9 1.9 .9 0 .9-.2 .9 1 .9-.6 .9-2.1 .9-2.3 .9 .2 .9-2.4 .9 3.6 .9-.2 .9 1.3 .9-6.1 .9-5.7 .9-.6 .9-.4 .9 4.9 .9 6.8 .9 6.6 .9-.4 .9-1.5 .9-.5 .9 1.5 .9-2.7 .9-1.3 .9-2.2 .9 .1 .9-1.7 .9-.8 .9-3.2 .9-3.9 .9-5.1 .9 2.5 .9-.3 .9 1.7 .9-1.4 .9 1.2 .9 1.4 .9-.5 .9 .5 .9 .1 .9 2.4 .9 2 .9-.7 .9 2.4 .9 1.6 .9-.1 .9-.6 .9 2 .9 2.4 .9 .9 .9 3 .9 3.4 .9 .5 .9 3.1 .9-2.9 .9-2.5 .9-.4 .9 .1 .9 .1 .9-.8 .9 .6 .9 .8 .9-1.1 .9 1.1 .9-.4 .9 1.5 .9 1.5 .9-.7 .9-.7 .9-1.9 .9 .7 .9-4.5 .9-.6 .9-2.2 .9-1.5 .9 .1 .9 1.9 .9-2.2 .9 .5 .9-2.7 .9-.9 .9 0 .9-.8 .9 .9 .9-.4" fill="none" stroke="#ff3030" stroke-width="0.9" stroke-linejoin="round" clip-path="url(#cl7)"/>
<path d="M71.7 633.1l.9 .1 .9-3.2 .9 .9 .9 .7 .9-1.9 .9 .4 .9-.2 .9 1.1 .9-1 .9-.3 .9 0 .9 0 .9 2.4 .9-.1 .9 .2 .9-.2 .9 .9 .9-2 .9 0 .9-.5 .9-.5 .9-1 .9 .6 .9-1.5 .9 .2 .9 0 .9-.8 .9-.5 .9 .7 .9-.1 .9-2.3 .9 .2 .9-.5 .9 1.6 .9-2.3 .9-.6 .9 .3 .9-.4 .9-.8 .9 1.5 .9-.8 .9-.9 .9-1.4 .9 1.7 .9-1 .9-1.9 .9-.7 .9 .5 .9 2.4 .9-.3 .9-1.6 .9 0 .9-.4 .9-1.1 .9 1.7 .9 .5 .9-.3 .9-1.2 .9 1.3 .9 .1 .9-.2 .9-.4 .9 1.3 .9-.5 .9 1.8 .9-.3 .9-.6 .9 0 .9 .2 .9 1.3 .9-1.5 .9-1 .9-.7 .9-1.2 .9 1.2 .9-.4 .9 .2 .9-1.5 .9-.3 .9 .4 .9-2.7 .9 .1 .9 .3 .9-1.3 .9-.1 .9-1.9 .9-.5 .9-1.3 .9-1.4 .9-1.1 .9-1.4 .9-.1 .9 0 .9 .7 .9 .8 .9 .2 .9-.9 .9 1.1 .9-1.9 .9-.8 .9 .8 .9-.4 .9 1.5 .9 .6 .9 .4 .9 1.6 .9 2.8 .9-1.4 .9 1.7 .9-2 .9-1.3 .9 .6 .9-2.4 .9-.4 .9 .2 .9 .6 .9-2.3 .9-1.9 .9-.4 .9-1.3 .9 2.4 .9 .3 .9 .8 .9 .9 .9 .8 .9 .7 .9 0 .9 1.5 .9 .2 .9 .6 .9-3.3 .9 1.7 .9-2.3 .9 .8 .9-3.2 .9-1.6 .9 .9 .9 1.2 .9 .3 .9 .9 .9-.6 .9-.8 .9 1.3 .9 .6 .9 1 .9 .8 .9-.6 .9 .9 .9-1.2 .9-2.4 .9 1.1 .9 0 .9 2.6 .9 .5 .9 1.7 .9-.9 .9 2.1 .9-2.1 .9 1.7 .9 .8 .9-.1 .9-.5 .9 3.8 .9-.8 .9-1.9 .9-1.9 .9-.9 .9-3.5 .9-1.1 .9-2.5 .9-2.4 .9-1.2 .9 1 .9 2.3 .9 1.3 .9 1 .9-.6 .9 .6 .9 3.3 .9 .5 .9-1.7 .9 2 .9-.3 .9 2.1 .9-.6 .9-.1 .9-.4 .9-.5 .9 1 .9-.8 .9-.2 .9 .1 .9 1 .9-.8 .9 .4 .9-.6 .9-.6 .9 2.1 .9-1.7 .9 1.6 .9 .5 .9 1.2 .9-.1 .9-.1 .9 .5 .9 1.1 .9-1.1 .9-1.1 .9 .2 .9 .8 .9 .1 .9 1 .9-2.2 .9-.4 .9-1.8 .9 1.5 .9-.3 .9 1 .9-.6 .9 1.7 .9-.9 .9 .1 .9-.3 .9 1.4 .9 1.2 .9 0 .9 .6 .9-.8 .9 2.1 .9-.7 .9 .7 .9-.7 .9-1.3 .9-.2 .9 2.6 .9-1.1 .9-1.5 .9 1.8 .9 .7 .9 .4 .9 1.1 .9 .3 .9-.4 .9 1.6 .9-.4 .9-2.2 .9-2 .9-1 .9-2.9 .9 .9 .9-.9 .9 1 .9 .8 .9-1.1 .9 1.3 .9-.1 .9 .3 .9-.4 .9-1.9 .9-1.2 .9-.5 .9-1.6 .9-1.3 .9-.2 .9-.9 .9 1.8 .9-.6 .9 .8 .9-.8 .9-2.6 .9-1.3 .9 .9 .9 2 .9-.3 .9-1.5 .9 1.9 .9-1.3 .9 .4 .9 .9 .9 0 .9-.7 .9 .8 .9-.4 .9-1.7 .9-.3 .9 .2 .9-.2 .9-1.1 .9-1.2 .9-.4 .9 1.1 .9 .7 .9 0 .9 .4 .9-.4 .9 0 .9 1.2 .9-.8 .9-.8 .9-2.6 .9 .7 .9 2.4 .9-1.8 .9-1.6 .9 .7 .9-.4 .9 .5 .9-.3 .9 .3 .9 .1 .9 .1 .9-1.2 .9 1.3 .9-.9 .9-.4 .9 0 .9-.4 .9-1.1 .9 1.7 .9 .8 .9-.4 .9 .3 .9-.2 .9 2.2 .9 1 .9-1.1 .9-.4 .9 .7 .9 .5 .9 2.5 .9-.4 .9 .7 .9 .4 .9 1.7 .9 2 .9 .4 .9 .1 .9 3 .9 .2 .9 .2 .9 .6 .9-.5 .9-.2 .9 1.1 .9-.1 .9-1.9 .9-2.3 .9-.2 .9-2 .9 0 .9-.1 .9-.4 .9-.2 .9-.2 .9-.1 .9 .1 .9 .4 .9 .8 .9-1.9 .9-.3 .9 1.7 .9 1.2 .9-.7 .9 1.1 .9-2.3 .9-.2 .9-.7 .9-.7 .9-1 .9 .4 .9 3.7 .9 1.2 .9 1.3 .9-.8 .9 1.1 .9 1.1 .9-1.5 .9-.7 .9 .2 .9-.3 .9 .3 .9 .3 .9 .8 .9 .7 .9 2.3 .9 2.9 .9 2.1 .9-.2 .9 2 .9-1 .9 1.7 .9-3.7 .9 1.2 .9-2.4 .9-.7 .9-.6 .9-2.1 .9-.3 .9 .1 .9 3.3 .9 1.1 .9-.4 .9 1.7 .9-.1 .9 .2 .9-.6 .9 .2 .9-.2 .9-.5 .9-1.3 .9-1.7 .9 1.5 .9 1.4 .9 .8 .9 2 .9 1.9 .9 .7 .9 .6 .9-.5 .9-.6 .9 .4 .9-.3 .9 0 .9-.9 .9-.6 .9-.8 .9 1 .9 1.9 .9 .7 .9 .2 .9-2.1 .9-4.1 .9-3 .9-1 .9 2.4 .9 1.3 .9 1.5 .9 .3 .9-.7 .9-1.8 .9 1.1 .9-.3 .9 .4 .9-1.2 .9-2.9 .9-2.3 .9-5.1 .9-3.5 .9-3.6 .9-3.5 .9 0 .9-.2 .9-.9 .9-.8 .9 2.9 .9 3.6 .9 1.9 .9 .8 .9 .1 .9 2 .9-.4 .9-1.6 .9-4.6 .9-1.6 .9 .8 .9 1.1 .9 1 .9 0 .9 2.9 .9 .2 .9 .4 .9 .4 .9 1.8 .9-2.5 .9-2.7 .9-2.6 .9 0 .9-1.8 .9-1.4 .9 4.1 .9 4.7 .9 1.8 .9 .9 .9 0 .9 3.3 .9 1.4 .9 1.7 .9 1.6 .9 .3 .9-2 .9-.4 .9-3.5 .9-1.6 .9 .7 .9-1.8 .9-1.2 .9 1.3 .9-2.1 .9 .3 .9 .3 .9-1.7 .9-.5 .9 1.7 .9-1.5" fill="none" stroke="#303030" stroke-width="0.9" stroke-linejoin="round" clip-path="url(#cl7)"/>
<path d="M71.7 697.7l1.2-.3 1.2-.4 1.2-.5 1.2 .4 1.2-.4 1.2 .1 1.2-.1 1.2 .4 1.2-.1 1.2-.1 1.2 0 1.2-.6 1.2 .5 1.2 .5 1.2 .6 1.2 0 1.2 .2 1.2 1.5 1.2 1 1.2 .9 1.2 2.3 1.2 1.7 1.2 2.6 1.2 2.1 1.2 2.2 1.2 1.6 1.2 .9 1.2 .6 1.2 .3 1.2 .5 1.2 .5 1.2-.6 1.2 .4 1.2-.2 1.2-.4 1.2 .3 1.2 .4 1.2 .4 1.2 .1 1.2-.2 1.2 .1 1.2 .1 1.2 .5 1.2-.9 1.2 .1 1.2 0 1.2-.5 1.2 .3 1.2-.4 1.2-.1 1.2 .1 1.2 .4 1.2-.7 1.2-.7 1.2 .4 1.2-.4 1.2-1.7 1.2-.7 1.2-.9 1.2-1 1.2-.6 1.2-1 1.2-.9 1.2-1.3 1.2-1.4 1.2-.5 1.2 .7 1.2-.4 1.2 .1 1.2 .3 1.2 .4 1.2 .8 1.2-.4 1.2 .1 1.2 .1 1.2-.4 1.2 .5 1.2 .5 1.2 .6 1.2 .7 1.2 .9 1.2 1 1.2 .2 1.2-.3 1.2-.6 1.2-2 1.2 0 1.2-.5 1.2-.1 1.2 1.2 1.2 .3 1.2 1.4 1.2 2.3 1.2 1.3 1.2 1.3 1.2 .6 1.2 .9 1.2 .1 1.2-.1 1.2-.1 1.2-1 1.2-.9 1.2-1.3 1.2-.1 1.2 .5 1.2 .4 1.2 .6 1.2 .3 1.2 .8 1.2 0 1.2 .1 1.2-.4 1.2 .2 1.2 .6 1.2 .2 1.2 .5 1.2-.2 1.2 .7 1.2-.4 1.2-.7 1.2 .9 1.2 .5 1.2 .8 1.2 0 1.2-.4 1.2-.7 1.2-2.1 1.2-2.9 1.2-3.1 1.2-1.5 1.2 1.5 1.2 1.4 1.2 0 1.2-.4 1.2-.5 1.2 .1 1.2 .1 1.2-.2 1.2 .2 1.2-.3 1.2 .4 1.2-.8 1.2 .6 1.2 .2 1.2 0 1.2-.4 1.2-.3 1.2 0 1.2 .2 1.2 .3 1.2 .6 1.2 .5 1.2 .1 1.2 .6 1.2 .7 1.2-.3 1.2-.5 1.2-.1 1.2-.4 1.2 .3 1.2-.4 1.2-.6 1.2-1.3 1.2-.3 1.2 .3 1.2 .9 1.2 .1 1.2 1.2 1.2-.7 1.2-.3 1.2-.7 1.2-.2 1.2-.7 1.2-.4 1.2-.3 1.2-.8 1.2 .2 1.2 1.3 1.2 1.1 1.2 1.4 1.2 1 1.2 1.8 1.2 1.3 1.2-.1 1.2-1.7 1.2-2.1 1.2-1.1 1.2-.6 1.2-.9 1.2-1.3 1.2 .3 1.2 1.1 1.2 1.2 1.2 .2 1.2 .2 1.2 .6 1.2 .8 1.2 0 1.2-.1 1.2-.9 1.2-.4 1.2 .7 1.2 .3 1.2 1 1.2 .4 1.2 .7 1.2-.2 1.2 .4 1.2 0 1.2-.4 1.2-.6 1.2-.4 1.2-.4 1.2 .3 1.2 0 1.2 .1 1.2 .3 1.2 1.1 1.2 1.3 1.2 1.9 1.2 1.9 1.2 .8 1.2 .2 1.2 .2 1.2 .3 1.2 .3 1.2-.4 1.2 1.1 1.2 .4 1.2-.3 1.2 .4 1.2-.1 1.2 .2 1.2 .2 1.2-.8 1.2 .3 1.2-.5 1.2-.4 1.2 .2 1.2-.4 1.2 .4 1.2-.3 1.2-.1 1.2-.3 1.2-.3 1.2-.3 1.2 .1 1.2 .5 1.2 .2 1.2-.4 1.2-.6 1.2-.1 1.2-.7 1.2-.1 1.2 1 1.2 .4 1.2-.7 1.2-.4 1.2-.1 1.2-.5 1.2 .1 1.2-.9 1.2-.4 1.2-.1 1.2-.5 1.2-.8 1.2 0 1.2-.2 1.2-.2 1.2-.1 1.2 .4 1.2-.4 1.2-.1 1.2-1 1.2-.5 1.2-.7 1.2-.5 1.2 0 1.2 1.3 1.2 .4 1.2 .2 1.2 .1 1.2-.2 1.2-.6 1.2 .3 1.2-.4 1.2-.5 1.2 .6 1.2 .3 1.2 1.1 1.2 .1 1.2 .5 1.2-.6 1.2-.3 1.2-.4 1.2-1.4 1.2-1.1 1.2-.9 1.2 .8 1.2 .3 1.2-.2 1.2 .5 1.2 .2 1.2-.6 1.2 .3 1.2-1.1 1.2-.9 1.2-1.1 1.2-.9 1.2 .5 1.2-.2 1.2-.1 1.2 .4 1.2 .4 1.2 .3 1.2-.2 1.2 .1 1.2 .3 1.2-.3 1.2 .3 1.2 1.4 1.2 1.7 1.2-2 1.2-2.7 1.2 1.8 1.2 2.7 1.2 1.6 1.2-.4 1.2-.8 1.2-.2 1.2-.7 1.2 .3 1.2 0 1.2 1 1.2 .3 1.2 0 1.2-.5 1.2-.5 1.2 .2 1.2 .8 1.2 .7 1.2 .6 1.2 .5 1.2 1.4 1.2 .8 1.2 .8 1.2-1.3 1.2-1.7 1.2-.1 1.2-.3 1.2 .1 1.2 .6 1.2 .1 1.2 0 1.2 .1 1.2 .3 1.2-.7 1.2 0 1.2-1 1.2 .3 1.2 .7 1.2 .9 1.2 .5 1.2 .7 1.2 .5 1.2 .1 1.2-.9 1.2-.9 1.2-1 1.2-1.1 1.2-1 1.2-1.1 1.2-.7 1.2-.3 1.2-.5 1.2-.6 1.2 .4 1.2 1.9" fill="none" stroke="#3c3c3c" stroke-width="0.9" stroke-linejoin="round" clip-path="url(#cl8)"/>
<path d="M71.7 691.5l1.2 1 1.2 .1 1.2 .5 1.2 1.1 1.2-1.1 1.2-.1 1.2-.4 1.2-.1 1.2 .2 1.2 1.1 1.2-1.2 1.2 0 1.2 .3 1.2 1 1.2 0 1.2-.7 1.2-1.4 1.2-.4 1.2-.5 1.2-1.4 1.2-1.2 1.2-1.5 1.2-.3 1.2-.9 1.2-1.7 1.2-1.2 1.2-1.5 1.2-.2 1.2-.2 1.2-.1 1.2-.1 1.2 .2 1.2-.2 1.2 .5 1.2 .3 1.2-.5 1.2-.1 1.2-.9 1.2-.6 1.2-.6 1.2-.5 1.2-.4 1.2 1.4 1.2 .1 1.2-1 1.2 .4 1.2-.5 1.2 .3 1.2-.2 1.2-1.1 1.2-.5 1.2 .1 1.2-.1 1.2 .3 1.2-.8 1.2 .1 1.2-.1 1.2 .4 1.2 .8 1.2 .5 1.2 .4 1.2-.9 1.2 .3 1.2 1 1.2-.3 1.2 .1 1.2 .8 1.2-.6 1.2-.2 1.2-.2 1.2-.3 1.2 1 1.2 0 1.2 .5 1.2-.7 1.2 1.3 1.2-.6 1.2-.9 1.2-.1 1.2-.1 1.2-.4 1.2-.7 1.2-.3 1.2-.1 1.2-.4 1.2 .9 1.2 .4 1.2 .2 1.2 .8 1.2-1.6 1.2-.8 1.2-1.3 1.2-3 1.2-1.8 1.2 0 1.2-1.2 1.2-.8 1.2 0 1.2 1.6 1.2 1.1 1.2 .6 1.2 1.1 1.2 .8 1.2 .2 1.2-.7 1.2 .2 1.2-.3 1.2-.3 1.2-.3 1.2 .2 1.2-1 1.2-.1 1.2-.7 1.2-.3 1.2 .3 1.2 .3 1.2-.5 1.2-.8 1.2-.2 1.2-1.2 1.2-.5 1.2-1.1 1.2-.3 1.2 .1 1.2 1.1 1.2 .9 1.2 3.3 1.2 3.9 1.2 1.7 1.2-.1 1.2-.7 1.2-.3 1.2-.4 1.2-.1 1.2 .1 1.2-.8 1.2 .7 1.2-.4 1.2-.3 1.2 0 1.2 0 1.2 .9 1.2-.2 1.2 .7 1.2-.4 1.2-.7 1.2 .4 1.2-.4 1.2 .4 1.2 .7 1.2 .3 1.2-.1 1.2 .8 1.2-.9 1.2 0 1.2-1.3 1.2-1.1 1.2 1.3 1.2-.2 1.2 .8 1.2 .9 1.2-.4 1.2-1.2 1.2-.3 1.2-.5 1.2-.1 1.2 0 1.2 .3 1.2 .1 1.2 0 1.2 .1 1.2 1 1.2 .2 1.2-.1 1.2-.8 1.2-.6 1.2-.1 1.2-.7 1.2-1.7 1.2-.4 1.2-.9 1.2-.8 1.2 1.8 1.2 1.2 1.2 .7 1.2 1.3 1.2 1.1 1.2 1.5 1.2 1.3 1.2 .7 1.2-1 1.2-.8 1.2-.7 1.2-.7 1.2 0 1.2-1.1 1.2-.9 1.2-.5 1.2 1.7 1.2 1.3 1.2 1.6 1.2-1.6 1.2-1.4 1.2-1.3 1.2-.1 1.2-.5 1.2-.6 1.2-.6 1.2 .2 1.2 1.3 1.2 .1 1.2 1 1.2-.1 1.2 1 1.2-.4 1.2 1.3 1.2-1.2 1.2-1.4 1.2-1 1.2-1.5 1.2-.4 1.2 .2 1.2 0 1.2 1.3 1.2-.5 1.2-.3 1.2-.2 1.2-.4 1.2 .7 1.2 .6 1.2 .1 1.2-.3 1.2 1.1 1.2-.1 1.2 .4 1.2 .3 1.2 .4 1.2-1 1.2 .4 1.2 1.3 1.2-1.2 1.2-.2 1.2 .4 1.2-.1 1.2-.5 1.2-1 1.2 .4 1.2-1.2 1.2-.6 1.2 .6 1.2 .9 1.2-.4 1.2 .6 1.2 1.1 1.2-.1 1.2-.4 1.2 .7 1.2 .6 1.2 .4 1.2 .9 1.2 1.2 1.2-.8 1.2 0 1.2 0 1.2-.8 1.2-.1 1.2-.5 1.2-.2 1.2 .7 1.2-.4 1.2-.8 1.2-.5 1.2 .4 1.2-.3 1.2-.3 1.2 .7 1.2 .3 1.2-.6 1.2 .1 1.2-.4 1.2 .5 1.2-.7 1.2 .3 1.2 .6 1.2 1.3 1.2 .5 1.2-.3 1.2-.8 1.2-1.2 1.2-1.1 1.2-.4 1.2-1.5 1.2-.4 1.2-.1 1.2 .7 1.2 1 1.2-.1 1.2 .5 1.2 0 1.2 1 1.2 .3 1.2 .3 1.2 1.4 1.2 .3 1.2 .9 1.2 .9 1.2 .5 1.2 .4 1.2 1.2 1.2 .7 1.2 .2 1.2-.2 1.2-.2 1.2-.4 1.2 .1 1.2-.3 1.2-.2 1.2 .3 1.2-.3 1.2-.6 1.2-1 1.2-.1 1.2 .9 1.2 .2 1.2 1.4 1.2-2.9 1.2-2.6 1.2 .7 1.2 1.4 1.2 0 1.2 .8 1.2-.1 1.2 .6 1.2 .6 1.2 .7 1.2 .2 1.2 1 1.2 .5 1.2 .8 1.2-.8 1.2-2 1.2-1.1 1.2-.2 1.2-1.2 1.2-.3 1.2 .4 1.2 1.3 1.2 1.5 1.2-.3 1.2-.8 1.2-.4 1.2 .1 1.2 1.4 1.2 1 1.2 .7 1.2 1.3 1.2 .6 1.2 0 1.2 1.3 1.2-1.5 1.2-1.1 1.2-1.3 1.2-.5 1.2 .2 1.2-.8 1.2-.6 1.2 .3 1.2 1 1.2 2.3 1.2 2 1.2 .9 1.2 1.1 1.2 .1 1.2 .2 1.2 .6 1.2 0 1.2-.9 1.2-3.2" fill="none" stroke="#30ff30" stroke-width="0.9" stroke-linejoin="round" clip-path="url(#cl8)"/>
<path d="M71.7 720.3l1.2-.3 1.2-.3 1.2 0 1.2 .3 1.2 .2 1.2-.1 1.2 0 1.2-.1 1.2 0 1.2-.2 1.2 0 1.2-.2 1.2-.1 1.2 .5 1.2-.4 1.2 .2 1.2-.5 1.2 .2 1.2-.6 1.2 .6 1.2 .1 1.2 0 1.2 .2 1.2 .1 1.2 .3 1.2-.2 1.2-.3 1.2 .2 1.2 .4 1.2-.4 1.2-.2 1.2 0 1.2-.3 1.2 .3 1.2-.2 1.2 0 1.2 .1 1.2-.5 1.2 .5 1.2 .4 1.2-.7 1.2-.9 1.2 .3 1.2-.1 1.2-.2 1.2 0 1.2-.2 1.2 .5 1.2-.1 1.2 .5 1.2-.5 1.2-.3 1.2-.2 1.2-.1 1.2 .9 1.2-.5 1.2-.1 1.2 .3 1.2-.3 1.2-.2 1.2 0 1.2-.6 1.2 .8 1.2 .1 1.2 0 1.2-.3 1.2 1 1.2-.4 1.2-.4 1.2 .5 1.2 .3 1.2-.1 1.2 0 1.2-.1 1.2-.1 1.2 .3 1.2 0 1.2 .3 1.2 0 1.2-.2 1.2 .7 1.2-.7 1.2 .1 1.2-.4 1.2 0 1.2 .2 1.2-.1 1.2-.2 1.2-.2 1.2 1.1 1.2-.4 1.2-.5 1.2 0 1.2-.3 1.2 .8 1.2-.2 1.2-.1 1.2 .2 1.2-.5 1.2 .2 1.2-.2 1.2 .1 1.2 0 1.2-.1 1.2 .2 1.2-.6 1.2 .4 1.2-.4 1.2 .2 1.2-.1 1.2 0 1.2 .2 1.2 0 1.2-.5 1.2 .4 1.2 0 1.2-.1 1.2-.3 1.2 .2 1.2-.1 1.2 .2 1.2-.1 1.2-.3 1.2-.2 1.2 .6 1.2-.3 1.2 .2 1.2-.4 1.2 .5 1.2 0 1.2 .1 1.2-.1 1.2 .3 1.2 .4 1.2-.1 1.2-.3 1.2 0 1.2-.1 1.2 .1 1.2 0 1.2 0 1.2 .1 1.2-.1 1.2 .7 1.2-.6 1.2 .8 1.2 .2 1.2 .2 1.2 .3 1.2-.4 1.2-.4 1.2-.3 1.2-.2 1.2 .3 1.2-.1 1.2-.3 1.2-.2 1.2 .1 1.2 .2 1.2 .1 1.2 .5 1.2-.4 1.2 0 1.2-.2 1.2-1 1.2 .1 1.2 .3 1.2 .1 1.2-.2 1.2-.1 1.2 .5 1.2-.7 1.2 .8 1.2-.4 1.2 .3 1.2-.2 1.2 .5 1.2-.2 1.2 0 1.2-.5 1.2-.9 1.2 .1 1.2-.1 1.2 .7 1.2-.7 1.2 .8 1.2 .4 1.2-.3 1.2 .2 1.2 .7 1.2-.4 1.2-.4 1.2 0 1.2 0 1.2 .1 1.2-.2 1.2 .3 1.2-.1 1.2 .3 1.2-.1 1.2 0 1.2 .3 1.2-.1 1.2 .2 1.2-.2 1.2-.1 1.2-.6 1.2 .4 1.2-.3 1.2 0 1.2 .3 1.2 .2 1.2-.1 1.2-.3 1.2 0 1.2 0 1.2-.1 1.2 0 1.2-.2 1.2-.2 1.2 .1 1.2 .2 1.2-.4 1.2-.1 1.2 .2 1.2-.5 1.2 .3 1.2 .1 1.2-.3 1.2 0 1.2 .1 1.2 .7 1.2-.6 1.2 .2 1.2-.1 1.2-.1 1.2-.1 1.2-.3 1.2 .4 1.2-.5 1.2-.3 1.2 .2 1.2 .4 1.2 .3 1.2-.1 1.2-.5 1.2 .3 1.2-.1 1.2 0 1.2-.1 1.2-.5 1.2 0 1.2 .3 1.2 .5 1.2-.3 1.2-.7 1.2 .5 1.2 .3 1.2 .6 1.2 .3 1.2-.2 1.2 .5 1.2-.5 1.2-.3 1.2-.4 1.2 0 1.2 0 1.2 .2 1.2 .3 1.2 .4 1.2-.6 1.2 .4 1.2-.4 1.2-.1 1.2 .4 1.2 .3 1.2-.1 1.2 .1 1.2 .2 1.2-.2 1.2 0 1.2-.1 1.2-.1 1.2 .1 1.2 .1 1.2 0 1.2 .3 1.2 .1 1.2-.2 1.2-.2 1.2-.6 1.2-.2 1.2-1 1.2 .2 1.2 .7 1.2 0 1.2-.3 1.2 .5 1.2 .6 1.2 .2 1.2 .2 1.2 0 1.2-.1 1.2 .5 1.2-.3 1.2-.1 1.2 .6 1.2-.9 1.2 .2 1.2 .7 1.2-.8 1.2 .1 1.2 .4 1.2-.6 1.2 0 1.2 .1 1.2-.1 1.2-.4 1.2 0 1.2 .2 1.2 .4 1.2 0 1.2-.2 1.2-.2 1.2-.3 1.2-.2 1.2-.1 1.2 .2 1.2 .2 1.2 .6 1.2 0 1.2 .3 1.2 .4 1.2-.2 1.2 .3 1.2-.4 1.2 1 1.2 0 1.2-.4 1.2-.1 1.2 0 1.2-.4 1.2 .4 1.2 .2 1.2 .4 1.2 0 1.2-.5 1.2 .3 1.2 .5 1.2-.3 1.2 0 1.2-.4 1.2 .1 1.2 .2 1.2 .5 1.2-.1 1.2-.3 1.2 .4 1.2-.4 1.2 .2 1.2 .1 1.2-.3 1.2-.6 1.2 .5 1.2-.2 1.2 .4 1.2 .1 1.2-.5 1.2 .3 1.2-.7 1.2-.4 1.2-.2 1.2 .6 1.2 .1 1.2-.3 1.2 0 1.2-.6 1.2 .2" fill="none" stroke="#ff3838" stroke-width="0.9" stroke-linejoin="round" clip-path="url(#cl8)"/>
<path d="M71.7 664l1.2 .3 1.2 .3 1.2 .7 1.2 .6 1.2-.1 1.2 .3 1.2-.3 1.2 .6 1.2-1.1 1.2 .5 1.2 .2 1.2-.7 1.2 1.1 1.2-.4 1.2 .9 1.2 .3 1.2 .3 1.2-.1 1.2 .8 1.2 .6 1.2 .6 1.2 0 1.2 .1 1.2 .3 1.2 .2 1.2 .8 1.2 .2 1.2-.3 1.2-.6 1.2-.8 1.2 .3 1.2 .7 1.2 1.4 1.2 .7 1.2 0 1.2-.5 1.2-.2 1.2-.2 1.2-.7 1.2-.2 1.2-.7 1.2 .7 1.2-.9 1.2 .8 1.2-.5 1.2-1 1.2-.2 1.2 .5 1.2 .1 1.2-.7 1.2-1.3 1.2-.1 1.2-.5 1.2-.9 1.2-.9 1.2 .2 1.2 0 1.2-.2 1.2-.8 1.2-1.5 1.2-1.2 1.2-.1 1.2-.3 1.2-.8 1.2-.9 1.2-.1 1.2-.6 1.2 .1 1.2 .3 1.2 1 1.2 .2 1.2-.3 1.2 .6 1.2 .8 1.2-.5 1.2 .1 1.2 .3 1.2 0 1.2 .2 1.2 .5 1.2 .7 1.2 .7 1.2-.9 1.2 .3 1.2 0 1.2-.4 1.2-.1 1.2-.5 1.2-.1 1.2 .5 1.2 0 1.2-.3 1.2-.6 1.2 .3 1.2-.1 1.2-.5 1.2-.2 1.2-.6 1.2 .1 1.2 .5 1.2-.1 1.2 .3 1.2-.1 1.2 .4 1.2 .2 1.2 .4 1.2-.8 1.2 .2 1.2-.2 1.2 .7 1.2-.3 1.2 .5 1.2 .5 1.2-.9 1.2-.4 1.2-.5 1.2-.5 1.2 .6 1.2-.3 1.2-.9 1.2-1 1.2-.4 1.2-1.5 1.2 .1 1.2 .9 1.2-.2 1.2 .8 1.2 1.9 1.2 .6 1.2 1.2 1.2-.1 1.2-.2 1.2 .6 1.2-1.5 1.2 .2 1.2 .1 1.2-.8 1.2-.2 1.2 .2 1.2 .6 1.2-.4 1.2-.2 1.2-.1 1.2 .6 1.2 .1 1.2 .9 1.2-.2 1.2-.2 1.2 .3 1.2 .5 1.2-.2 1.2 .5 1.2 .1 1.2 .6 1.2-.6 1.2-.1 1.2 .7 1.2-1 1.2 .1 1.2-.9 1.2-.4 1.2-.5 1.2-.3 1.2-1.3 1.2 0 1.2-.5 1.2-.5 1.2 1 1.2 .7 1.2-.4 1.2 .9 1.2-.1 1.2 .1 1.2-.1 1.2-.9 1.2 .1 1.2 0 1.2-.9 1.2 0 1.2 .4 1.2 .4 1.2 .9 1.2-.5 1.2 .3 1.2 .3 1.2 .1 1.2 1.2 1.2 .3 1.2 .6 1.2 .9 1.2-2.7 1.2 .3 1.2-.9 1.2 .6 1.2-.5 1.2-.1 1.2-.4 1.2 .7 1.2 .6 1.2 1.2 1.2 .1 1.2 .3 1.2-.4 1.2-.4 1.2-.6 1.2 0 1.2 .1 1.2-.6 1.2 .3 1.2 .3 1.2 .8 1.2 1.2 1.2-.1 1.2 .7 1.2 .9 1.2-.2 1.2-.4 1.2-.2 1.2-.2 1.2-.5 1.2 1.3 1.2 .4 1.2 1.4 1.2 .4 1.2-.4 1.2-.1 1.2-.2 1.2-.2 1.2 .6 1.2 .5 1.2 1.2 1.2 .2 1.2 0 1.2 .7 1.2 .1 1.2 .7 1.2 0 1.2-.1 1.2 .2 1.2-.1 1.2 .5 1.2 .2 1.2-.1 1.2-1.1 1.2 .1 1.2-1.1 1.2 .3 1.2-.2 1.2-.7 1.2 1.2 1.2-1.6 1.2-1 1.2 0 1.2 1.1 1.2-.5 1.2 .7 1.2 .3 1.2-.2 1.2 .3 1.2 .9 1.2 .4 1.2-.1 1.2-.4 1.2-.2 1.2-.2 1.2 .1 1.2-.3 1.2-.7 1.2-.3 1.2-1.6 1.2-.6 1.2 .4 1.2-.8 1.2-.2 1.2-.9 1.2 0 1.2-.7 1.2-.7 1.2 .3 1.2 .1 1.2 1.3 1.2 .3 1.2-.3 1.2 .6 1.2 .5 1.2-1.3 1.2-.6 1.2-.1 1.2-.9 1.2-.1 1.2-.6 1.2-.8 1.2-.4 1.2 .1 1.2-.7 1.2 .8 1.2 .2 1.2 .2 1.2 1.1 1.2 .3 1.2 .1 1.2 .2 1.2 .2 1.2 .6 1.2 .6 1.2-.3 1.2 0 1.2 1 1.2-.2 1.2 .3 1.2 .9 1.2-.5 1.2-.8 1.2-.3 1.2 .6 1.2 .3 1.2 0 1.2 0 1.2 .4 1.2-1 1.2 .5 1.2-.4 1.2-.6 1.2 .2 1.2 .1 1.2-.5 1.2 0 1.2 .3 1.2 1.8 1.2 1 1.2-.2 1.2 .6 1.2 .9 1.2 .5 1.2 1 1.2 .9 1.2 1 1.2 1.1 1.2 .6 1.2-1.6 1.2-1 1.2-.9 1.2 1 1.2-.4 1.2 .2 1.2 .5 1.2-.1 1.2 1.2 1.2-1 1.2-.7 1.2-.1 1.2-.7 1.2 1.3 1.2 1.3 1.2 .6 1.2 .2 1.2 .6 1.2 .9 1.2-.5 1.2-.5 1.2 .1 1.2-.8 1.2-.3 1.2-1.3 1.2-.2 1.2 0 1.2 1.3 1.2 1.5 1.2 .5 1.2 .1 1.2 .9 1.2 1.1 1.2-.6 1.2-.8 1.2 .3 1.2-.4 1.2-2.5 1.2-1.2" fill="none" stroke="#3838ff" stroke-width="0.9" stroke-linejoin="round" clip-path="url(#cl8)"/>
<path d="M668.7 64.7l1.2 .7 1.2-.3 1.2 0 1.2 .6 1.2 1 1.2 .1 1.2-.5 1.2 .1 1.2 .4 1.2 .7 1.2 .1 1.2 .1 1.2 .4 1.2 .4 1.2 .1 1.2 .6 1.2 .6 1.2 1 1.2 .1 1.2 .6 1.2-.3 1.2 .7 1.2 .2 1.2 0 1.2 .4 1.2 .3 1.2-.2 1.2 .3 1.2 .4 1.2 .2 1.2 .1 1.2-1.2 1.2 0 1.2-.5 1.2 .3 1.2-.2 1.2-.1 1.2-.1 1.2-.5 1.2-.1 1.2-.5 1.2 .7 1.2-.6 1.2-.3 1.2-.8 1.2-.3 1.2 0 1.2 .6 1.2 .3 1.2-.1 1.2-.5 1.2 .9 1.2-.5 1.2 0 1.2 .5 1.2-.1 1.2 .5 1.2 .1 1.2-.5 1.2-.2 1.2-.4 1.2-1.1 1.2-2 1.2-.7 1.2-.3 1.2-1.3 1.2-.8 1.2-.7 1.2-.5 1.2-2.3 1.2-1.6 1.2-1.2 1.2-1 1.2-1.7 1.2-.1 1.2-1.7 1.2-.4 1.2-1 1.2-.7 1.2-.3 1.2 0 1.2 1 1.2 .6 1.2 1.1 1.2 .1 1.2-.2 1.2-2 1.2-1.8 1.2 .4 1.2-.4 1.2-1.1 1.2 1.6 1.2 .8 1.2 1.1 1.2 1.5 1.2 1.2 1.2 .8 1.2 1.5 1.2-.5 1.2-.7 1.2-1.2 1.2-.3 1.2-.5 1.2-.3 1.2-.1 1.2-.3 1.2 1 1.2 1 1.2 .8 1.2 1.4 1.2-.5 1.2 .7 1.2-.1 1.2 0 1.2 1 1.2-1.2 1.2-.3 1.2 .1 1.2-.3 1.2 .7 1.2 .1 1.2 2.6 1.2 3 1.2 3.8 1.2 5.7 1.2-1.9 1.2-2.5 1.2-1.3 1.2-.8 1.2-.9 1.2-1 1.2-1.4 1.2-1.6 1.2 0 1.2-1 1.2-1.5 1.2-1.2 1.2 .4 1.2 .5 1.2-.3 1.2 .5 1.2-.6 1.2-1 1.2-.5 1.2-.4 1.2-.1 1.2-.6 1.2 0 1.2 .7 1.2 0 1.2 .2 1.2 .1 1.2 .5 1.2 .3 1.2 .7 1.2 .6 1.2 .6 1.3-.1 1.2 1 1.2-.3 1.2-1.3 1.2-1.5 1.2-1.9 1.2-.2 1.2-1 1.2 .3 1.2-.2 1.2 .8 1.2 .1 1.2 .2 1.2 .5 1.2-.1 1.2 .6 1.2-.2 1.2-1.2 1.2-2.1 1.2-1.4 1.2-1.6 1.2-.7 1.2 .3 1.2 1 1.2 1.2 1.2 3.2 1.2 2.9 1.2 3.4 1.2 4.5 1.2 2.4 1.2-.7 1.2-.1 1.2-1.7 1.2-.4 1.2 .3 1.2-.5 1.2 .1 1.2 1.2 1.2 .9 1.2 2.9 1.2 1 1.2 1.1 1.2 1.7 1.2 1.2 1.2 1 1.2 0 1.2-1.7 1.2-1.7 1.2-1.9 1.2-1.7 1.2 .7 1.2 1.1 1.2 .8 1.2 1.3 1.2-.7 1.2-1.3 1.2-1.5 1.2-.6 1.2-.8 1.2-1.7 1.2-.9 1.2 1.7 1.2 1.2 1.2 2 1.2 .9 1.2 .4 1.2 1.5 1.2 1 1.2-.1 1.2 .3 1.2 .2 1.2-1 1.2-.8 1.2-.2 1.2 .4 1.2 .1 1.2 .8 1.2 .2 1.2 .9 1.2 1.5 1.2-.3 1.2 .8 1.2 .5 1.2-.9 1.2 .5 1.2 .4 1.2 .9 1.2 1.4 1.2 .8 1.2 .3 1.2-1.2 1.2-1 1.2-2.3 1.2-1.6 1.2-3 1.2-2.7 1.2-1.3 1.2 .7 1.2 .5 1.2 .3 1.2-1.8 1.2-1 1.2-1.7 1.2-.9 1.2-.2 1.2-.4 1.2 .3 1.2 1 1.2 .2 1.2-.4 1.2-.8 1.2-.3 1.2-.8 1.2 0 1.2-.1 1.2-.7 1.2-1.1 1.2-.7 1.2-1 1.2-.8 1.2 1.2 1.2 2.1 1.2 2.1 1.2 1.8 1.2 .3 1.2-.2 1.2 .4 1.2-.3 1.2 1.4 1.2 .8 1.2 1.4 1.2 .6 1.2 .4 1.2 .5 1.2 .8 1.2-.9 1.2-.6 1.2-.8 1.2-2.2 1.2-.8 1.2-1.4 1.2 .2 1.2 2.1 1.2 1.2 1.2 1 1.2 .5 1.2 .5 1.2 .6 1.2-.1 1.2 .3 1.2-.8 1.2-4.2 1.2-1.8 1.2-1.5 1.2-.4 1.2 .1 1.2 2.2 1.2 1.5 1.2 1 1.2-3.7 1.2-2.6 1.2-2.6 1.2-.7 1.2 0 1.2 .5 1.2-.9 1.2-.9 1.2-1.5 1.2 2.1 1.2 2.4 1.2 1.1 1.2-.1 1.2-.8 1.2-.3 1.2 1 1.2 .6 1.2 1 1.2 1.3 1.2 1.7 1.2-1.7 1.2-1.8 1.2-2.2 1.2-.7 1.2-.7 1.2 .1 1.2 .8 1.2 1.4 1.2 .6 1.2 .3 1.3-.1 1.2-.7 1.2-.6 1.2 1.7 1.2 .9 1.2 .5 1.2 .3 1.2 0 1.2 .6 1.2-.5 1.2-.4 1.2-.3 1.2 .4 1.2 2 1.2 1.8 1.2 .7 1.2-.4 1.2 .5 1.2-1.4 1.2-.9 1.2-2.1 1.2-1.7 1.2-.8 1.2 .5 1.2 .6 1.2 1.5 1.2-3.2 1.2-3.5 1.2-2.7 1.2-2.4 1.2 1.6 1.2 2.4" fill="none" stroke="#30ff30" stroke-width="0.9" stroke-linejoin="round" clip-path="url(#cr0)"/>
<path d="M668.7 50.2l1.2 0 1.2 1.6 1.2-.3 1.2-.1 1.2 .1 1.2-.1 1.2 .2 1.2 .7 1.2 .2 1.2 .9 1.2 .2 1.2-.6 1.2 .1 1.2 .2 1.2-.2 1.2 .8 1.2 .6 1.2 1 1.2 0 1.2 .5 1.2 1.3 1.2 1.3 1.2 .4 1.2 1.8 1.2 .5 1.2 1.5 1.2 .7 1.2-.4 1.2-.7 1.2 0 1.2 .8 1.2-.9 1.2 .2 1.2 .6 1.2 .3 1.2 1.2 1.2 1.1 1.2 0 1.2-.1 1.2 .6 1.2 .2 1.2 .7 1.2-.6 1.2-1.1 1.2-.3 1.2-.6 1.2 .7 1.2 .4 1.2-.1 1.2-.2 1.2 .2 1.2-.5 1.2 .2 1.2-.9 1.2-.3 1.2-.3 1.2-.5 1.2 1.2 1.2-.1 1.2-1.1 1.2-.2 1.2-1.3 1.2 .5 1.2 0 1.2-.8 1.2-.5 1.2-.1 1.2-.1 1.2-.6 1.2-.5 1.2 1.1 1.2 1.3 1.2 1.7 1.2 .1 1.2 .3 1.2-.5 1.2 .3 1.2 .4 1.2 .4 1.2 .5 1.2 .5 1.2 0 1.2 1.3 1.2 1 1.2-.3 1.2-.7 1.2-1.5 1.2-1.6 1.2-1.4 1.2-.8 1.2-1.7 1.2-2 1.2 1.9 1.2 2.8 1.2 2.5 1.2 2.5 1.2 1.2 1.2 1.3 1.2 1.6 1.2 1.8 1.2 .5 1.2-.6 1.2-1.1 1.2-.6 1.2-.2 1.2-1.2 1.2-.4 1.2 1.7 1.2 .6 1.2-.1 1.2-.9 1.2-.9 1.2-.1 1.2 .3 1.2 0 1.2-1.1 1.2-1.4 1.2-2 1.2-.3 1.2-.6 1.2 .3 1.2-.2 1.2-1.3 1.2-.2 1.2-.5 1.2-.4 1.2-.8 1.2-.8 1.2-.2 1.2-1 1.2 .2 1.2-.2 1.2-.1 1.2 .4 1.2 .4 1.2-.8 1.2-.5 1.2-.4 1.2 .1 1.2 .7 1.2-.2 1.2 1.6 1.2 1 1.2 .8 1.2 .5 1.2 .1 1.2 .3 1.2 .2 1.2 .2 1.2-.5 1.2-.2 1.2 1 1.2 .1 1.2 0 1.2 0 1.2-.3 1.2 .8 1.3 .1 1.2 .2 1.2-.1 1.2 .8 1.2 .4 1.2 .5 1.2 .1 1.2-.5 1.2-.3 1.2 1.1 1.2-.1 1.2 .3 1.2 0 1.2 0 1.2 0 1.2-.8 1.2-.5 1.2-1.1 1.2 0 1.2-.4 1.2-.9 1.2 .4 1.2 .8 1.2 .7 1.2 1 1.2 1.1 1.2 1.5 1.2 1.5 1.2 .9 1.2 1.2 1.2 0 1.2 .7 1.2 .7 1.2-.6 1.2-.8 1.2-1.7 1.2-.9 1.2-.1 1.2 1 1.2 .6 1.2 .3 1.2 .1 1.2 .1 1.2-.8 1.2-.4 1.2-.7 1.2-1.8 1.2-.4 1.2-.2 1.2 .5 1.2 .9 1.2 1.2 1.2 .3 1.2-.2 1.2-1.3 1.2-2.1 1.2-.6 1.2-1.7 1.2-1.2 1.2-.5 1.2-.3 1.2 1.6 1.2 2 1.2 1.2 1.2 .4 1.2 .1 1.2 .1 1.2 .4 1.2-.3 1.2 .3 1.2 .2 1.2 .4 1.2-.9 1.2-.3 1.2-.5 1.2-.9 1.2-1 1.2 0 1.2 .5 1.2-.4 1.2 .6 1.2-.6 1.2-1 1.2-.5 1.2 0 1.2 .3 1.2 .1 1.2 .4 1.2-.6 1.2-2.2 1.2-2.2 1.2-.1 1.2-.5 1.2 .3 1.2-1.4 1.2-1.1 1.2-1.2 1.2-.5 1.2 1.2 1.2 2.6 1.2 1.5 1.2 .7 1.2 .9 1.2-1 1.2-1.4 1.2 .6 1.2 1.3 1.2 1.5 1.2 1.2 1.2 .8 1.2 .8 1.2 .5 1.2 .1 1.2 .6 1.2 .5 1.2 1.5 1.2 .8 1.2 .3 1.2 .8 1.2-1 1.2-1.4 1.2-1 1.2-.9 1.2-1 1.2-.1 1.2-.3 1.2-1.2 1.2-1.2 1.2-2.2 1.2-.7 1.2-1.4 1.2 .4 1.2 .6 1.2 2.1 1.2 1.4 1.2 1.2 1.2-.1 1.2 .5 1.2-.2 1.2-1.6 1.2-1.3 1.2-1.1 1.2-2.6 1.2-1.3 1.2-1.5 1.2 1.4 1.2-.2 1.2-.7 1.2-.9 1.2-.5 1.2-1 1.2-1.4 1.2-1.5 1.2-.8 1.2-.1 1.2-.4 1.2 1.1 1.2 1.3 1.2 1.9 1.2-.6 1.2-1.4 1.2-.2 1.2-.4 1.2-.2 1.2-1 1.2-.7 1.2-1 1.2-1.1 1.2-.6 1.2 3.8 1.2 3.4 1.2 1.1 1.2 .5 1.2 1.5 1.2 2.3 1.2 2 1.2 1.9 1.2 2.6 1.2 1.4 1.2-2.6 1.2-3.8 1.2-3.3 1.2-1.2 1.2-1.1 1.2-1 1.2 .4 1.2 1.1 1.2 .5 1.2-.5 1.3 .7 1.2-.1 1.2-.4 1.2-.6 1.2 1.9 1.2 1.5 1.2 1.6 1.2-.8 1.2-.4 1.2-.2 1.2 1.1 1.2 1 1.2 1.6 1.2 1.6 1.2 1 1.2 1.6 1.2 .7 1.2 .7 1.2-2.6 1.2-1.7 1.2-2.9 1.2-2.4 1.2-1.7 1.2 .3 1.2 1.4 1.2 1.3 1.2 1.5 1.2 2.2 1.2 2.8 1.2 .9 1.2 .7 1.2 1" fill="none" stroke="#ff3838" stroke-width="0.9" stroke-linejoin="round" clip-path="url(#cr0)"/>
<path d="M668.7 111.2l1.2-.5 1.2 .4 1.2 .2 1.2 0 1.2 .3 1.2 .1 1.2 0 1.2 .1 1.2 .2 1.2-.3 1.2 .1 1.2 .2 1.2 .2 1.2 .2 1.2-.1 1.2-.1 1.2-.7 1.2-.9 1.2-.9 1.2-.9 1.2-2.7 1.2-2.4 1.2-2.5 1.2-1.6 1.2-2.4 1.2-2.2 1.2-1.8 1.2-1.3 1.2-.9 1.2-.1 1.2 .1 1.2-.8 1.2 .2 1.2-.2 1.2 .2 1.2 .3 1.2 .2 1.2 .3 1.2 0 1.2-.4 1.2-.7 1.2 .7 1.2 .6 1.2 .7 1.2 0 1.2-.9 1.2-.3 1.2-.1 1.2 .4 1.2-.3 1.2 1.1 1.2 .7 1.2 .2 1.2 .9 1.2 1.3 1.2 1.2 1.2 .4 1.2 1.5 1.2 1 1.2 .6 1.2 1.6 1.2 .9 1.2 1.2 1.2 2.1 1.2 1.9 1.2 .9 1.2-.9 1.2-.3 1.2-1 1.2-1.4 1.2-1.5 1.2 .2 1.2-1.2 1.2-1 1.2 .1 1.2-.1 1.2-1.4 1.2-.6 1.2-1.4 1.2-1.2 1.2-1.2 1.2-1.6 1.2-.7 1.2 0 1.2 1.3 1.2 2.2 1.2-.4 1.2-1.2 1.2-1.6 1.2-2.3 1.2-2 1.2-2 1.2-1.7 1.2-1.1 1.2-1.8 1.2-1.7 1.2 .9 1.2 1.7 1.2 .7 1.2 1.4 1.2 1.2 1.2 1.3 1.2 1.7 1.2 2.4 1.2-1.7 1.2-2.4 1.2 .4 1.2 .6 1.2 .1 1.2-.8 1.2-.1 1.2 .4 1.2-.4 1.2-1 1.2-.1 1.2-.4 1.2-.7 1.2-.5 1.2-1 1.2-2.5 1.2-3 1.2 .3 1.2 4 1.2 2.5 1.2 2.8 1.2 2.6 1.2 3.4 1.2 3.4 1.2 4.6 1.2-1.5 1.2-2.7 1.2-1.3 1.2-.1 1.2-.5 1.2 .5 1.2 .1 1.2 .5 1.2 .1 1.2-.1 1.2 .3 1.2 0 1.2-.6 1.2-.3 1.2-.5 1.2 1.1 1.2 1.1 1.2 .6 1.2-.7 1.2-1.6 1.2-.8 1.2-1.4 1.2-.2 1.2 .3 1.2 .3 1.2 .7 1.2-.7 1.2 .7 1.3-.6 1.2 .8 1.2-.3 1.2 1 1.2-.2 1.2 .6 1.2 .3 1.2-.2 1.2-.4 1.2-.6 1.2 .5 1.2 1.9 1.2 .8 1.2-.5 1.2-.9 1.2-.4 1.2 1 1.2 1.3 1.2 .7 1.2-2.2 1.2-1.7 1.2-2.3 1.2-1.5 1.2-2.5 1.2-1.6 1.2-.4 1.2 3 1.2 3.4 1.2 3.3 1.2 3.2 1.2 3 1.2 .9 1.2-.2 1.2 .3 1.2-1.2 1.2-.9 1.2-.6 1.2-1.5 1.2-.3 1.2 1 1.2-.1 1.2 .2 1.2 1.7 1.2 1 1.2-.3 1.2-1.4 1.2-2.6 1.2-.9 1.2-1.5 1.2-.9 1.2 .1 1.2-.7 1.2 0 1.2 1 1.2 1.3 1.2 .6 1.2-.2 1.2-.5 1.2-.6 1.2-1.3 1.2-1.9 1.2-2.2 1.2-2.7 1.2-3.6 1.2-2.5 1.2-.6 1.2-1.4 1.2-1.5 1.2-.1 1.2 .8 1.2 .6 1.2-.8 1.2-.2 1.2-.1 1.2-.3 1.2-1 1.2 .4 1.2-.1 1.2-.4 1.2-1.1 1.2-.5 1.2-.3 1.2-.5 1.2-.7 1.2-1.2 1.2-.6 1.2-.9 1.2-1.6 1.2-1.1 1.2 .3 1.2 .8 1.2 1.6 1.2 .6 1.2 1 1.2 1.2 1.2-.6 1.2 .5 1.2-.5 1.2-.8 1.2-.5 1.2 2 1.2 2.3 1.2 3.2 1.2 2 1.2 .8 1.2 .7 1.2 .9 1.2 .6 1.2 1 1.2 1.1 1.2 1.1 1.2 .7 1.2 1.3 1.2 .3 1.2 .5 1.2 .2 1.2 1.2 1.2 1.7 1.2 1.2 1.2 1.2 1.2-1.1 1.2-1 1.2-.9 1.2-.5 1.2-.1 1.2-.1 1.2 .8 1.2 .8 1.2-.8 1.2-.6 1.2-1.4 1.2-1.5 1.2 .2 1.2 .4 1.2-.2 1.2 1.9 1.2 .7 1.2 1.2 1.2 .3 1.2 1.1 1.2 1 1.2-1.4 1.2-.8 1.2-1 1.2-.1 1.2-.2 1.2 .7 1.2 .7 1.2 .6 1.2 .2 1.2 1.3 1.2-.6 1.2-.4 1.2-2.4 1.2-.5 1.2 .9 1.2 .4 1.2 .1 1.2-.2 1.2-1 1.2 .5 1.2-2.5 1.2-2.6 1.2-1.6 1.2-.1 1.2 .3 1.2-6.4 1.2-4.5 1.2-2.7 1.2 2 1.2 4.2 1.2 3.1 1.2 2.8 1.2 2.3 1.2 1.5 1.2 1.1 1.2 .8 1.2 2 1.2 2.3 1.2-2 1.2-2.4 1.2-3.6 1.2-6.3 1.2-5.8 1.2-2.2 1.2-3 1.2-2.3 1.2-2.6 1.2-3 1.3-1.8 1.2-3.1 1.2 1.3 1.2 .5 1.2 .8 1.2-2 1.2-2.2 1.2-1.2 1.2 .3 1.2 1 1.2-1.5 1.2-1.5 1.2-2.7 1.2-.2 1.2-.4 1.2-1.3 1.2 .9 1.2 1.1 1.2 2.7 1.2 4.4 1.2 4.2 1.2 1.4 1.2 1.9 1.2-2.9 1.2-5.6 1.2-4.3 1.2-4.9 1.2-2.8 1.2-.6 1.2 .1 1.2 1.8" fill="none" stroke="#3838ff" stroke-width="0.9" stroke-linejoin="round" clip-path="url(#cr0)"/>
<path d="M668.7 210.6l.3 3.3 .4-1.3 .3 1.8 .3-1.8 .4 3.2 .3-6.5 .3 2 .3-.7 .4-.2 .3 3.2 .3-4.5 .4 0 .3 5 .3 .5 .4-3.2 .3 2.5 .3 1 .3-2.3 .4-1.5 .3 2.3 .3-.5 .4-1.8 .3 1.4 .3 2.2 .4-.5 .3-3.1 .3 .4 .3 1.6 .4 .3 .3-2.2 .3 1.4 .4-1.4 .3 .2 .3 2.3 .4-2.5 .3-.8 .3 .5 .3 .6 .4 1 .3-.3 .3 .2 .4 .7 .3-2.9 .3 3.9 .4-1.5 .3 0 .3-2.4 .3 1.7 .4-1.7 .3 .1 .3 1.5 .4 1.4 .3-2.2 .3-.8 .4 1 .3 1.3 .3-.8 .3-1.6 .4 1.7 .3-.9 .3 1.2 .4-1.2 .3 1.7 .3-.9 .4-.4 .3-.3 .3 3.1 .3-4.4 .4 1.8 .3 .6 .3 .6 .4-1 .3 2.4 .3 1 .4-5 .3 .2 .3-.8 .3 2.9 .4-.2 .3-.8 .3-1.5 .4 .4 .3 .2 .3-1 .4 4.5 .3-6.9 .3 3.2 .3 4.6 .4-4 .3 .7 .3 .7 .4-3.5 .3 .2 .3 .9 .4 .9 .3-3.6 .3 4.7 .3 .9 .4-3.7 .3 2.5 .3-1.4 .4 .6 .3 1 .3-4.1 .4 3.3 .3 .7 .3-.4 .3-.3 .4-1.5 .3 3.9 .3-1.4 .4-.5 .3-.7 .3 1.8 .4 1.9 .3-4.9 .3 3.1 .3-1.4 .4 1 .3-1.8 .3 .2 .4 0 .3 .3 .3 1.1 .4-1.5 .3 .9 .3-.5 .3 .1 .4 .7 .3-.3 .3 .6 .4-3.3 .3-2.5 .3 5.5 .4-1.1 .3-1.5 .3-.1 .3 5.2 .4-3.9 .3 2 .3-3.6 .4 3.2 .3 0 .3-2.2 .4 .3 .3 4.5 .3-4.5 .3 .7 .4 .5 .3-1.5 .3 3.1 .4-3.3 .3-.4 .3 4.9 .4-1.8 .3-.8 .3 3.6 .3-.2 .4-2.3 .3-3.8 .3 4.4 .4-3.5 .3 1.8 .3 0 .4 .6 .3-3.7 .3 4.6 .3-2.4 .4 .1 .3 .2 .3 2.8 .4-4.4 .3 1.8 .3-.6 .4 2.5 .3-4.7 .3 3.6 .3 .9 .4-.7 .3-2.6 .3 2 .4 3.4 .3-.9 .3-2.3 .4-.1 .3-1.2 .3 1.3 .3 .6 .4 1.2 .3-1.2 .3-.4 .4-.3 .3-7.9 .3 8.8 .4-2.1 .3 2 .3 1.7 .3-1.6 .4 .5 .3 1.9 .3-1.6 .4-.6 .3-.7 .3 .9 .4 .2 .3-2 .3 .2 .3-1.4 .4 1.5 .3 3.9 .3-2.2 .4 2 .3-7.6 .3 4.8 .4-3.3 .3 4.7 .3-8.3 .3 2.3 .4 10.5 .3 2.1 .3-5.7 .4-3.2 .3 .7 .3 2.4 .4-.1 .3 1.5 .3-.3 .3 4.6 .4-11.9 .3 10.3 .3-6 .4 .4 .3 7.8 .3-4.3 .4 5.1 .3-5.8 .3 1.8 .3-6.3 .4 3 .3 5.8 .3-2.5 .4-3.9 .3 3.8 .3-1.9 .4-2.3 .3 6.8 .3-9.4 .3 13 .4 3.4 .3-13.7 .3 7.1 .4-.1 .3-7.6 .3 4.8 .4 9.8 .3-1.1 .3-8.4 .3 1.3 .4-2.3 .3-4.4 .3 11.2 .4-3.5 .3 1.6 .3-2.7 .4-5.9 .3 5 .3-.4 .3-6.6 .4 12.1 .3-8.4 .3 8.5 .4-4.2 .3-1.7 .3 2 .4 .5 .3 2.2 .3-13.9 .3 16.3 .4-5.2 .3 .7 .3-1 .4 1.7 .3 4 .3-5.8 .4 1.3 .3 1.8 .3 2.5 .3-4.1 .4-6.1 .3 4.6 .3 .5 .4-.9 .3 7.7 .3-6.5 .4-3.4 .3 12.5 .3-11.5 .3 2.4 .4 2.8 .3 6.1 .3-12.5 .4 3 .3 2.2 .3-.4 .4-2.2 .3 1.3 .3 .2 .3 5.4 .4 .5 .3-7.4 .3 .8 .4 3.4 .3-8.4 .3 22 .4-18.3 .3 6.5 .3-5.3 .3 .3 .4 .7 .3-3.4 .3 2.4 .4 5 .3-.9 .3-1.6 .4-1.6 .3 0 .3-2.6 .3-1.6 .4-4.9 .3 6.7 .3 3.7 .4-3.3 .3 3 .3-8 .4 2.8 .3 1.5 .3 2 .3 .1 .4 1.7 .3-4.2 .3-2.3 .4 .9 .3 5.2 .3-10.2 .4 16.3 .3-2.1 .3-1.2 .3-10.2 .4 3.2 .3 2.6 .3 5.1 .4-.7 .3-6.6 .3-5.7 .4 9.1 .3 1.9 .3-7.1 .3 3.1 .4 2.3 .3-3.5 .3 3.2 .4-.7 .3-1.4 .3-3 .4 4 .3 1 .3 6.5 .3-7.6 .4 6.6 .3-9.3 .3-1.4 .4 5.3 .3-1.4 .3-1.4 .4 .3 .3 5.5 .3-6.4 .3 6.3 .4-3.7 .3-3.8 .3 3.1 .4-1.9 .3 1.9 .3 1.4 .4-1.3 .3-4.2 .3-.7 .3 6.3 .4 8.3 .3-16.8 .3 9.3 .4-.5 .3 2 .3 3.9 .4-9.2 .3 2.9 .3-.8 .3 1 .4-8.2 .3 4.4 .3 3.3 .4-6.4 .3 6.7 .3 1 .4-4.7 .3 3.9 .3-1.7 .3-.7 .4-1.7 .3 7 .3-1.1 .4-1.6 .3-3.5 .3 8.8 .4-8.5 .3 .8 .3 1 .3-6.6 .4 7.1 .3-.4 .3 4.9 .4 1.7 .3-11.1 .3 4.2 .4 1.5 .3 1.7 .3-1.8 .3 2.7 .4-3.6 .3-.3 .3-1.6 .4 1 .3-3.3 .3 10.9 .4-10.6 .3 1.8 .3 4.5 .3 7.5 .4-1.5 .3-8.2 .3-10.9 .4 11.5 .3 .6 .3-5.2 .4 3 .3 .1 .3 .8 .3 .3 .4-2.4 .3-3.2 .3 3.3 .4 8.1 .3-3.7 .3 3.7 .4-.8 .3-7.5 .3-3.9 .3 9.9 .4-4.9 .3 .3 .3 2.8 .4 .6 .3 1 .3-6.5 .4 3.3 .3 4.4 .3-7.5 .3 34.1 .4-7.2 .3-28.9 .3 6.6 .4 .2 .3-1.2 .3-3 .4 7.3 .3-5 .3-.1 .3-4.4 .4-3.2 .3 5.2 .3 1.9 .4-2.7 .3-.8 .3 3.2 .4 7.6 .3-10.2 .3 5.5 .3 2.9 .4-2.4 .3-.3 .3 4.2 .4-5.2 .3-4 .3-4.7 .4 2.7 .3 7.5 .3-1.8 .3-.8 .4-3.3 .3 1.6 .3-.7 .4-7.4 .3 9.5 .3 2.9 .4-5.9 .3 .7 .3 5.1 .3-5.2 .4-2.8 .3 .3 .3 7.2 .4-2.8 .3 6.9 .3-13.6 .4 6.5 .3-4.5 .3 4 .3 6.9 .4-21 .3 19 .3-3.3 .4 2.1 .3 2 .3-9.5 .4 9.8 .3-9.1 .3 6.8 .3-1.9 .4 6.5 .3-8.7 .3 4.9 .4-1.9 .3-8.3 .3 5.8 .4 5.9 .3-6.2 .3-2.2 .3 9.5 .4-9.6 .3 5.9 .3 1.6 .4-6.8 .3 2.7 .3 4 .4 2.2 .3-7.7 .3 9.4 .3-11.6 .4 8.3 .3-10.1 .3 8.6 .4-2.8 .3-.7 .3 .6 .4-.4 .3 5.2 .3-1.3 .3 1.2 .4-8.7 .3 5.7 .3-.1 .4 .2 .3 3.9 .3-2.2 .4-11.5 .3 9.6 .3 .4 .3 7.6 .4-16 .3 6.6 .3 4.8 .4-.8 .3-4.5 .3 10 .4-9.7 .3-2.3 .3 5.9 .3-7.3 .4 4 .3 2.6 .3-6.3 .4 11.2 .3 14.6 .3-27.1 .4-.9 .3 12.1 .3-7 .3-6.4 .4 13.4 .3-4.6 .3-4.4 .4 6.2 .3-2.1 .3 5.8 .4-3.7 .3 3.1 .3-7.6 .3-1.6 .4 .2 .3-7.1 .3 12.9 .4-7.8 .3 17.1 .3-19.3 .4 8 .3-2.7 .3-.8 .3 2.1 .4 4.6 .3-.4 .3-4.5 .4 7.5 .3-4 .3 .1 .4-10.1 .3 6.1 .3 1.2 .3 1.6 .4-.3 .3-2.1 .3-3.5 .4-.8 .3 7.7 .3 .7 .4-5.4 .3-.2 .3 8.3 .3-6.7 .4-1.7 .3 1.6 .3-.9 .4 2.6 .3 2.2 .3-1.7 .4 .4 .3-2 .3-2.8 .3 7.8 .4-14.8 .3 10.8 .3-2.6 .4 3.6 .3-.2 .3-1.1 .4 .8 .3-8 .3-2.4 .3 5.9 .4 1.6 .3-5.7 .3 5.1 .4-1.7 .3 6.1 .3-8.6 .4 2.2 .3 3.4 .3 4.2 .3 3 .4-8.2 .3-7.3 .3 4.9 .4-.5 .3 5.8 .3 .5 .4-4.1 .3 2.1 .3-2.1 .3 15.5 .4-15.2 .3-4 .3 4.8 .4 4 .3-1.5 .3 2.5 .4-7 .3-.5 .3 3.9 .3 1.4 .4 3.9 .3-8.1 .3 4.9 .4-3.1 .3-5.2 .3 2.1 .4 4.6 .3-10.3 .3 3.8 .3 8.2 .4-3.2 .3-3.3 .3 4 .4-6.2 .3 6.8 .3 .5 .4 4.2 .3-2.2 .3-10.2 .3 5.4 .4-4.9 .3 6.4 .3-1.8 .4 2.7 .3-5.9 .3 3.1 .4-2.9 .3 .9 .3 11 .3-12.2 .4 4.4 .3 3.7 .3-1 .4-4.6 .3 .3 .3-5.5 .4 7.5 .3 .7 .3 2.4 .3-10.1 .4 .9 .3 7 .3-5.1 .4 4.6 .3-3.1 .3-1.1 .4-.2 .3 6.8 .3-3.1 .3-3.4 .4 5.7 .3 6.2 .3-7.8 .4-1.2 .3-4.9 .3 10.7 .4-14.4 .3 9.4 .3 1.9 .3-8.5 .4 5 .3-.3 .3-4.4 .4 9.6 .3 1.1 .3-3.4 .4-.8 .3-2.3 .3-4.1 .3 6.7 .4-4.2 .3 1.9 .3-4 .4 6.4 .3-.3 .3-16.1 .4 18.1 .3-3.2 .3-3 .3 2 .4 2.8 .3-.8 .3-7 .4 .4 .3-3.2 .3 5.5 .4-2.4 .3 2.2 .3 1.8 .3 3.3 .4 3 .3-1.8 .3 2.8 .4-6.5 .3-6.1 .3 6 .4 .7 .3 3 .3 1.9 .3 2.3 .4-28 .3 27.4 .3-4.3 .4 1.4 .3-5.2 .3 5.3 .4 1.6 .3 9.8 .3-8.9 .3-3.8 .4 5.3 .3-1.4 .3 4.9 .4-1 .3 1 .3-7.2 .4 0 .3-2.7 .3 6.2 .3-.5 .4 2.8 .3-7.4 .3 8.6 .4-2.1 .3-1.2 .3 1.4 .4-4 .3-2.2 .3 8.8 .3-.7 .4-3.7 .3 5.7 .3-8.2 .4 3.2 .3-6.8 .3 9.4 .4 .7 .3-4.1 .3 1.9 .3 .2 .4-.4 .3 .6 .3 0 .4 1.6 .3-1.5 .3-8.8 .4 5.1 .3 8.6 .3-.1 .3-6.9 .4-.2 .3 11.3 .3-4 .4-9.8 .3 3.8 .3 1.1 .4-7.2 .3 11.6 .3-2.5 .3-1.4 .4-3.3 .3 1.5 .3 5.8 .4 3 .3-6.8 .3 4.1 .4-5.2 .3-.2 .3 5.4 .3-7.7 .4 5.1 .3-1.9 .3 8 .4-5.3 .3 .7 .3-1.4 .4 2.3 .3-5.5 .3-4.2 .3 12.2 .4-7 .3-3.5 .3 10.5 .4-1.7 .3-2.2 .3 3.5 .4-7.6 .3-3.2 .3 .8 .3 3.5 .4 8.2 .3-3.8 .3-3.3 .4 10.2 .3-14.2 .3-6 .4 9.7 .3-1.4 .3 3.3 .3 5.9 .4 3.3 .3-28.2 .3 23.5 .4-7.2 .3 6.1 .3-2.6 .4 .7 .3 0 .3-3.5 .3 1 .4 8.7 .3-5.1 .3 2 .4-6.5 .3-.1 .3 2.6 .4 12 .3-14.3 .3 1.7 .3 4.6 .4 3.4 .3-4.8 .3 4.2 .4-5.8 .3-1 .3 .8 .4 2.6 .3-10.5 .3-5.3 .3 13.6 .4 7 .3-7.8 .3-7.8 .4 10.1 .3 .5 .3-3 .4-3.2 .3-.4 .3-.9 .3 8.5 .4-4.1 .3 4.9 .3-2.3 .4-6.9 .3 9.8 .3 1.9 .4-10.4 .3 8.4 .3-6.3 .3-.9 .4 3.2 .3-4.8 .3 4.3 .4-1.7 .3-6.1 .3 4.8 .4-5.6 .3 4.2 .3 9.8 .3 1.9 .4-18.6 .3 8.5 .3-1.5 .4 1.3 .3 5 .3 4.8 .4-13.3 .3 4.9 .3 7.2 .3-14.1 .4-1.4 .3 9.9 .3 3.1 .4-11.5 .3 4.7 .3-6.3 .4 8.2 .3-5.3 .3 8.4 .3-4.2 .4-12.8 .3 12.9 .3 .9 .4 5.4 .3-7.2 .3-1.6 .4 1.8 .3-2.2 .3 1.9 .3-4.9 .4 6.4 .3 4.2 .3-2 .4-10.5 .3 10.7 .3 1.3 .4-9.7 .3 3.7 .3-.7 .3-1.2 .4-2.9 .3 5.5 .3 1.7 .4 .3 .3 1.8 .3-15 .4 9.4 .3 4.6 .3-5.3 .3-5.9 .4 7.2 .3 1.5 .3 .1 .4-6.1 .3 4.9 .3-6.1 .4-.2 .3 1.4 .3-2.6 .3 4.6 .4-1.5 .3-2.2 .3 7.1 .4-11.1 .3 2.2 .3 3.7 .4 4.1 .3-13.5 .3 13.9 .3-.2 .4-7.3 .3 10 .3-8.4 .4-2.6 .3 7.1 .3 .2 .4-4.9 .3 .7 .3-.5 .3 1.3 .4-4.2 .3 6.9 .3-2.9 .4 5 .3-9.1 .3 4.6 .4 1 .3-9.8 .3 12 .3-10.7 .4 12.3 .3-4.9 .3-1.5 .4 4.8 .3-6 .3 1.9 .4 .8 .3-3.5 .3 5.4 .3 5.6 .4-13 .3-7.1 .3 16.3 .4-4.2 .3-1.7 .3 2.4 .4 9 .3-8.6 .3-4.6 .3-1.6 .4 2.6 .3 8.2 .3-5 .4-2.1 .3 .2 .3-3.5 .4 5.2 .3-4.6 .3-.7 .3 2.9 .4 2.8 .3-2 .3-3.7 .4-1.4 .3 5.1 .3 11.3 .4-2.6 .3-9.3 .3 .5 .3 0 .4 10.4 .3-12.5 .3-3.4 .4 5 .3-.2 .3-5.4 .4-.8 .3 12.2 .3-8.1 .3 3 .4 .1 .3-2 .3-1.8 .4-1.8 .3 10.3 .3-6.1 .4-14.6 .3 16.4 .3 23.3 .3-24.3 .4 6 .3 .8 .3-10.5 .4 7.3 .3-4.5 .3-3.4 .4 8.5 .3-6 .3-2 .3 .6 .4 6.8 .3-.1 .3 2.1 .4 1.4 .3-2.4 .3-7.1 .4 5.7 .3-1.2 .3-14 .3 13.9 .4 .3 .3 0 .3 2.4 .4-9.5 .3 1.8 .3 .3 .4 3.2 .3 6.2 .3-.6 .3 1.1 .4-6.9 .3-5.6 .3-1.2 .4 5 .3 1.3 .3-9.4 .4 6.2 .3 1.3 .3-5.8 .3 13.8 .4-9.2 .3-4.5 .3 6.6 .4 1.3 .3-4.9 .3-3 .4 16.9 .3-4.7 .3-6.1 .3 2.7 .4 0 .3-3 .3 7.1 .4-5.4 .3 3.7 .3 2.6 .4 1.1 .3-9.7 .3 4.2 .3-7.2 .4 8.4 .3 .1 .3 1.2 .4-.4 .3-3.6 .3 4.1 .4-5.3 .3 6.2 .3 3.3 .3-10.3 .4 12.3 .3-15.6 .3 7.1 .4-1.9 .3 6.4 .3-6.4 .4 1.5 .3 10.9 .3-10.5 .3 1.9 .4 .3 .3-1.4 .3 1.6 .4-7.6 .3 7.6 .3-5.7 .4 7.6 .3-8.8 .3 7.4 .3-9.1 .4 1.5 .3-6.1 .3 10.4 .4-2.9 .3-3.2 .3 4.2 .4-1.9 .3 10.3 .3-.7 .3-4.3 .4-3.3 .3 2.4 .3-7.9 .4 7.8 .3 4.9 .3-4.9 .4 1.2 .3-5.2 .3 8.9 .3-5.1 .4-.4 .3 2.4 .3-10.6 .4 12.9 .3-3.7 .3 5.2 .4-2.1 .3 3.3 .3-1 .3-15.7 .4 12.9 .3 1.2 .3-5.2 .4-2.6 .3 12.7 .3-3 .4-10.3 .3 6.9 .3 3.7 .3-6.5 .4-3.3 .3 13.9 .3-5.1 .4 3.6 .3-9 .3 .3 .4 5 .3-10.4 .3 8.1 .3 .2 .4 4.2 .3 5.4 .3-12.9 .4 .2 .3-3.5 .3 4.2 .4 2.6 .3 1.8 .3-2.9 .3 7 .4 .5 .3 .3 .3 2.6 .4-10.7 .3 11.3 .3-14.6 .4 19 .3-19.7 .3 13.6 .3-.5 .4 3.8 .3-5.3 .3 .4 .4-8.8 .3 17.7 .3-13.1 .4 2.9 .3 6.7 .3-16.5 .3 15.1 .4-2.2 .3-3.1 .3-12.6 .4 14.1 .3 3.4 .3-7.2 .4 16.9 .3-16.3 .3 10.3 .3-6.4 .4 7.3 .3-4.5 .3-3.1 .4 20.1 .3-15 .3 6.4 .4-1.9 .3-8.2 .3 3.3 .3-3.4 .4 12.3 .3 8.2 .3 3.4 .4-16.2 .3 7.1 .3-12 .4 .5 .3 18.3 .3-19.1 .3 6.2 .4 .8 .3-.1 .3 0 .4 2.4 .3 .1 .3-8.8 .4 10.4 .3-6 .3-2.2 .3 6.4 .4 5.2 .3 8.8 .3-19 .4 8.2 .3-6.1 .3-7 .4 16.5 .3-3.2 .3 5.1 .3-8 .4-5.7 .3 15.5 .3-6.5 .4-10.8 .3 6.5 .3 1.4 .4 5.8 .3-14.6 .3 2.6 .3 4.6 .4-8.8 .3 14.1 .3-17.8 .4 6 .3-5.2 .3 4.2 .4 3 .3-.7 .3 1.4 .3-10.2 .4-1.1 .3 3.1 .3 2.6 .4 10 .3-.7 .3-11.8 .4 7.5 .3 8.9 .3-14.9 .3-.5 .4 9.4 .3-1.1 .3 6.1 .4-2 .3-13.1 .3 5 .4 5.7 .3-12.9 .3-6.9 .3 21.5 .4 0 .3-1.9 .3 1.7 .4-4 .3 10.7 .3-7.4 .4-3.6 .3-4.7 .3 8 .3-7.5 .4 6.9 .3 11.3 .3 1 .4-15.3 .3 .7 .3 0 .4 12.1 .3-4.2 .3-3.5 .3 20.5 .4-11.1 .3-8.3 .3-4.6 .4 5.7 .3-.5 .3 2.7 .4 2.1 .3 5.6" fill="none" stroke="#0000ff" stroke-width="0.9" stroke-linejoin="round" clip-path="url(#cr2)"/>
<path d="M668.7 232.4l.3-1.8 .4 .5 .3 .3 .3 0 .4-1.3 .3 1.1 .3 0 .3 2.3 .4-2.2 .3 1.6 .3-1.5 .4-.3 .3-1.6 .3 2.4 .4-.4 .3 .4 .3 1.3 .3-3.3 .4 3.6 .3 .5 .3-1.3 .4-.2 .3-.6 .3 2.9 .4-2.5 .3 .6 .3 1.1 .3-2.5 .4 1.9 .3 2.8 .3-1.7 .4-1.7 .3 1.2 .3-1.6 .4 2.2 .3-1.7 .3 2.9 .3-4.1 .4 2.9 .3-1.8 .3 2.5 .4-2.3 .3-.8 .3 3 .4-1.7 .3 .6 .3 .6 .3-1.2 .4-1.8 .3 1.2 .3 .1 .4-6.3 .3 6.6 .3-.3 .4 1.4 .3-2.7 .3 2.9 .3-.8 .4 1 .3-.8 .3 2.7 .4 .4 .3-2.2 .3 2.3 .4-2 .3 1.5 .3-4 .3 2.2 .4-2 .3 3 .3 .6 .4-1 .3 2.9 .3-4.8 .4-1.7 .3 2.9 .3 2 .3-3.8 .4 3.4 .3-1.8 .3-.5 .4 1.6 .3 .7 .3-2.8 .4 4.9 .3-3.9 .3 2.1 .3-1.3 .4-1.3 .3 1.5 .3 .2 .4 1.1 .3-3.2 .3 .5 .4 1.7 .3 .9 .3 .2 .3-1.5 .4-.5 .3 2.6 .3-2.9 .4 1.3 .3 .2 .3 1 .4-3 .3 .4 .3-.7 .3 2.6 .4-1 .3 2.2 .3-.7 .4-2.7 .3 2.9 .3-.2 .4 .9 .3-3.3 .3 2.5 .3-2.5 .4 1.7 .3 2 .3-2.8 .4 .4 .3-.2 .3 3 .4-3.5 .3 2.7 .3-2.5 .3 3.7 .4-.3 .3-.6 .3 .6 .4-2.8 .3 1 .3-1.4 .4 2 .3 .5 .3-1.4 .3-1 .4-1.1 .3-.5 .3 3.7 .4-1 .3 1.1 .3-1.8 .4 2.3 .3-2.3 .3 4.9 .3-3.5 .4-.6 .3-2.4 .3 0 .4 1.7 .3-1.8 .3 1.4 .4 2.7 .3 2.1 .3-4.7 .3 1.2 .4-1.6 .3 1.9 .3-2.3 .4 3.9 .3-1 .3-2.3 .4 2.6 .3-1.4 .3-1.4 .3-.1 .4 1.6 .3 2.8 .3-5.6 .4 3.7 .3-1.1 .3-1 .4-.3 .3 3 .3-1.3 .3 1.7 .4-.4 .3-.7 .3-.9 .4-.4 .3-.2 .3 3.1 .4-.9 .3-1.4 .3-.9 .3-1.7 .4 2.5 .3-.3 .3-1.3 .4 3.3 .3-4.7 .3 4 .4 .4 .3-1.1 .3-1 .3-.9 .4 .5 .3-1.6 .3 .5 .4 1.4 .3 2.1 .3-1.7 .4-1.3 .3-3.8 .3 3.3 .3 .7 .4-.2 .3-1.3 .3 .1 .4 3.5 .3 .1 .3-2.5 .4 1.4 .3-7.6 .3-1 .3 8.2 .4-4.3 .3 1.7 .3 .4 .4-1.1 .3 8.5 .3-10.8 .4 4.4 .3-2.2 .3 1.3 .3-5 .4 3.1 .3 7.2 .3-9.2 .4-.9 .3 5.7 .3-3.4 .4 1.3 .3-5 .3 5.4 .3 4.2 .4-3 .3 4.1 .3-3.3 .4-8.4 .3 2.3 .3 6.5 .4 .9 .3 4.8 .3-3.7 .3 3.7 .4-6.6 .3-.3 .3 3.1 .4-8.5 .3 8.3 .3-9.4 .4 9.3 .3 8.1 .3-15.2 .3-1.4 .4 2.4 .3 10 .3-38.7 .4 27.9 .3-3.8 .3 .3 .4 18.2 .3-8.9 .3-.8 .3-1 .4-4.2 .3 1.2 .3-4.4 .4 6.3 .3 3.4 .3-6.2 .4-7.1 .3 7.1 .3 10.6 .3-11.2 .4 2.5 .3-.4 .3-6.9 .4 5.8 .3-1.8 .3 1.4 .4-.4 .3 2.5 .3-2.8 .3-4.6 .4 5.8 .3 1.2 .3-4.9 .4 5.2 .3-2.6 .3-6.5 .4 9.1 .3-7.4 .3 14.6 .3-8.5 .4 .9 .3 .8 .3-.3 .4-4.7 .3-6.4 .3 13.3 .4-8.5 .3-2.1 .3-6.1 .3 12.2 .4-4.3 .3 3.6 .3-1.9 .4-5.2 .3 11.6 .3-4.4 .4-.9 .3 1.8 .3-3.7 .3-.8 .4 7.4 .3-8.1 .3-1.6 .4 3.1 .3-9.6 .3 12.6 .4-6 .3 10.4 .3-9.2 .3 6.5 .4-4.5 .3-1 .3 2.8 .4-5.9 .3 8.1 .3 5.8 .4-11.7 .3 6.6 .3-3.6 .3 6.1 .4 1.8 .3-14.2 .3-6.8 .4 15 .3-7.5 .3 9.2 .4-4.8 .3 9.8 .3-4.2 .3-3.3 .4 3.2 .3-11.8 .3 6.1 .4 6.9 .3-10.8 .3-6.3 .4 14.9 .3-4.5 .3 1.9 .3 0 .4 1.4 .3 9.1 .3-8.7 .4-2 .3-5.9 .3-.1 .4 7.8 .3-3 .3 1.7 .3-1.8 .4 10.4 .3-10.5 .3 .5 .4 .6 .3-12.3 .3 8.4 .4 8.9 .3-10.7 .3 7.1 .3 7.4 .4-5.9 .3-1.2 .3-.2 .4-2 .3-11.5 .3 13.7 .4 2.4 .3 2.2 .3-7.2 .3-2 .4-.1 .3 1.9 .3 5.6 .4-3.5 .3 5.4 .3-12.7 .4 7 .3-3.9 .3 12.5 .3-4.7 .4-14.2 .3 10.1 .3-4.1 .4 5.9 .3 2.7 .3 7.7 .4-12 .3-4.8 .3 5.4 .3 10 .4-10.5 .3-1 .3-.3 .4-7 .3 12.1 .3-.6 .4-2.6 .3-3.3 .3 11.4 .3-8.3 .4-6.7 .3 5.5 .3-1.5 .4 2.6 .3 7.6 .3-4 .4 6.8 .3-11.5 .3 2.5 .3-10.6 .4 8.8 .3 4.1 .3 3.1 .4-7.4 .3-5.1 .3 .9 .4 2 .3 7.9 .3-8 .3 5.8 .4-6.2 .3 3.4 .3-.2 .4-6.4 .3 15.5 .3-3.6 .4-4.3 .3-8.6 .3 3 .3 3.8 .4-1.5 .3 .1 .3-9.8 .4 6 .3 7.3 .3-3.9 .4 .8 .3-1.3 .3-2.9 .3 11.9 .4-4.4 .3-3.9 .3 .7 .4-7.3 .3 4.5 .3 2.6 .4 5.2 .3-43.8 .3 52.4 .3-13.4 .4 .9 .3-4.3 .3 8.8 .4-14.9 .3 12.3 .3-10.5 .4 10.3 .3-3.8 .3 1.7 .3-10.5 .4 4.3 .3 3.4 .3 1.9 .4-1.7 .3 2.8 .3 8 .4-4.5 .3-1 .3-6.4 .3 2.3 .4 2.9 .3 1.1 .3-.7 .4 9 .3-15.3 .3 7.2 .4-.7 .3-.7 .3-4 .3 3.5 .4 15.4 .3-23.1 .3 .5 .4 16.7 .3-14.5 .3 .7 .4-4.9 .3 1.2 .3 12.5 .3 1.1 .4 4.2 .3-16.8 .3 13.4 .4-10.5 .3 2.6 .3 11.1 .4-13 .3 3.5 .3-2.5 .3 4.4 .4-9.3 .3 5.3 .3-5.3 .4 8.2 .3-.5 .3 9.7 .4-4.1 .3-1.9 .3-6.2 .3-4.2 .4 7.6 .3 .7 .3-1.6 .4 4.4 .3-1.6 .3-6.9 .4 9.7 .3-1.5 .3-6.1 .3-3.5 .4 3.2 .3-6.8 .3 12.1 .4 4 .3-4.9 .3-9.7 .4 4.1 .3 9.3 .3-4 .3 4 .4-8.8 .3 4.1 .3 3.5 .4-9 .3-3.5 .3 6.7 .4 3.8 .3 .7 .3 1.5 .3 4 .4-9.3 .3-7.6 .3 10.4 .4-4.8 .3 .2 .3 7 .4-9.7 .3 2.8 .3 7.2 .3-6.3 .4 8.8 .3-8.6 .3-4.4 .4 4.3 .3 .6 .3-2.2 .4-3.8 .3 9 .3-.8 .3 1.9 .4-3.9 .3-.7 .3 6.5 .4-6.9 .3-.7 .3 2 .4-2.3 .3 4.8 .3-3.8 .3 4.3 .4-3.1 .3 4.6 .3 4 .4-14.6 .3 7 .3 2.1 .4-4.5 .3 8.3 .3-2.4 .3 6 .4-8.3 .3-6.1 .3 .9 .4 6.2 .3 1.2 .3-1 .4 4.3 .3-4.8 .3-5.2 .3 2.3 .4-1.5 .3 2.6 .3 1.6 .4-7.4 .3 12.6 .3-.2 .4-.2 .3 .4 .3-6.6 .3 5.8 .4 4.5 .3 1.3 .3-8.5 .4 4.9 .3-5.1 .3 8.9 .4-4.7 .3-3.1 .3 1.4 .3 5.8 .4-1.7 .3-13.3 .3 11.4 .4 .9 .3-12.5 .3 16.2 .4-11.6 .3 8.7 .3-5.2 .3 0 .4-.2 .3 6.3 .3-5.4 .4-1.3 .3 8.4 .3-11.9 .4 3.1 .3 3.5 .3 3.7 .3-11.2 .4 2.8 .3 3.9 .3-4.4 .4 .1 .3 9.1 .3-13.6 .4 7.2 .3 .5 .3-.8 .3 3 .4-.4 .3 2.9 .3-17.8 .4 8.7 .3 4.3 .3 3.8 .4-10.6 .3 .6 .3 3 .3 9.8 .4-1 .3-3.9 .3-3.6 .4 4.2 .3-9.9 .3-3.9 .4 14.2 .3-13.4 .3 8.2 .3 3.2 .4-4.5 .3 1.2 .3 3.8 .4-.9 .3-6.5 .3-6.4 .4 2.6 .3 1.7 .3-5.9 .3 13.5 .4-5.4 .3 11.2 .3-5.8 .4-4.9 .3-6.7 .3 8.9 .4-.6 .3-6 .3 .6 .3 5 .4 4 .3-14.4 .3 15.1 .4-3.8 .3-10.2 .3 6 .4 7.5 .3-5.5 .3-.5 .3 2.9 .4-3 .3-4.6 .3 1 .4 2.7 .3 7.9 .3-1.4 .4 .6 .3-2.7 .3-7.3 .3 7.1 .4-5.5 .3-.4 .3-3.2 .4 10.4 .3-7 .3 4.4 .4-2.9 .3-21.4 .3 20 .3-1.3 .4 25.1 .3-20.6 .3 .7 .4-5.2 .3 .8 .3 .1 .4 1.4 .3-2.3 .3 2.6 .3 .8 .4 2.7 .3-8.2 .3 1.8 .4-.1 .3 3.2 .3-2.6 .4 .5 .3 4.9 .3 3.1 .3-13.9 .4 1.9 .3-13.5 .3 23.7 .4-8 .3 3.1 .3-.9 .4 1.1 .3-2.6 .3-.1 .3 .7 .4 .5 .3-1.9 .3-2.5 .4 3 .3 4.4 .3-3.6 .4 6.4 .3-19.6 .3 5.2 .3 1 .4 6 .3 12.5 .3-2.6 .4-4.5 .3-10.5 .3 10.9 .4-1.5 .3-4.3 .3 6.9 .3-10.9 .4 9.9 .3-9.9 .3 3.3 .4 3.7 .3 3.4 .3-3.2 .4-8.2 .3 13.2 .3-7 .3 2.1 .4 1.4 .3-4 .3 9.4 .4-12.9 .3-1.1 .3 8.3 .4-12.7 .3 15.4 .3 3.5 .3 1.2 .4-8.1 .3-5.5 .3 6.8 .4 1.1 .3-1.8 .3-2.4 .4-7.7 .3 9.1 .3 .6 .3-14.6 .4 16 .3-2.3 .3-.6 .4-6.7 .3-3.9 .3 17.3 .4 2.6 .3-7.6 .3-3.3 .3-1.8 .4-.5 .3-.3 .3-1.6 .4 5.7 .3-5.2 .3 4.1 .4-3.3 .3 .4 .3 6.3 .3-5.6 .4 2.1 .3-8.6 .3 7.5 .4 1.1 .3 11.6 .3-6.5 .4-4.4 .3-5.4 .3 5.3 .3-8.7 .4 11 .3 9.2 .3-13.5 .4 4 .3-4.9 .3-1.4 .4-.5 .3 9.4 .3-12.1 .3 12.6 .4-4.4 .3-2.2 .3-.1 .4 4.3 .3-4.5 .3 2.7 .4 .9 .3 .8 .3 1.6 .3-7.1 .4 5.5 .3 3.5 .3-12.8 .4 3.7 .3 9.1 .3-16.8 .4 7.4 .3 1.9 .3 7.9 .3-5.8 .4 .2 .3-7.3 .3 2.4 .4 10.4 .3-4.5 .3 2 .4 3.3 .3-1.7 .3-2.2 .3 1.9 .4 2.5 .3-7.5 .3 .7 .4 4.7 .3 2.8 .3-10.7 .4-.8 .3-2.4 .3 5 .3-2.2 .4-1.4 .3 13.8 .3-10.9 .4 7.4 .3-2.1 .3-7.3 .4 8.4 .3-8.3 .3-2.7 .3 10.2 .4-2.2 .3 .5 .3 9.1 .4-14.9 .3 4.3 .3-2.4 .4 2.4 .3 3.3 .3 1.8 .3-2.9 .4 .6 .3-7.4 .3 9.1 .4-1.3 .3-.9 .3-8.7 .4 6.9 .3 3.3 .3-1.1 .3-5 .4 3.6 .3 1.2 .3-9 .4 5.7 .3-2.7 .3 5.2 .4 4.6 .3-14 .3 10.2 .3-2.8 .4-1.8 .3 3.6 .3 5.1 .4-13.4 .3 7.7 .3 10.5 .4-15.1 .3 5.4 .3 1.2 .3-5.9 .4 7.4 .3-4 .3-1.2 .4 6.3 .3-4.1 .3-3.2 .4 4.6 .3 1.7 .3-3.1 .3 .2 .4-7.1 .3 6.9 .3-4.4 .4 1.3 .3 6.9 .3 .2 .4-6.5 .3 12.9 .3-13.9 .3 1.1 .4 3.3 .3-9.3 .3 5.6 .4 11 .3-4.1 .3-6.6 .4-1.2 .3 3.3 .3-8 .3 35.5 .4-29.5 .3 2.3 .3-.1 .4 .7 .3 6.6 .3-9.4 .4-6.2 .3 7.9 .3 6.5 .3-14.7 .4 3.7 .3 2.9 .3 1 .4 4.2 .3-4.9 .3 7.4 .4-10.4 .3 5.1 .3-4.2 .3 .1 .4-2.6 .3 12.6 .3-8.4 .4 6.3 .3-5.7 .3-3.2 .4 .2 .3 2.5 .3-6.3 .3-1.3 .4 10 .3 .1 .3 5.9 .4-8 .3-5.4 .3 .9 .4 10.9 .3-6.1 .3-2.5 .3 5.2 .4-3 .3-2.5 .3 1.7 .4-15.3 .3 19.6 .3 .9 .4-5.2 .3-.1 .3-3.5 .3 7.9 .4-10.5 .3 .4 .3 12 .4-3.4 .3-1.5 .3-.6 .4 6.7 .3-9.6 .3 11.3 .3-14 .4 15.5 .3-4.7 .3-12.8 .4 8.6 .3 2.1 .3-10.6 .4 2.2 .3 9.9 .3-6 .3-1 .4 11.8 .3-8.6 .3 4.1 .4-5.2 .3 .5 .3-1.7 .4-7.9 .3 9.3 .3-4.7 .3 10 .4 2.3 .3-3.3 .3-.5 .4 6.1 .3-9.5 .3 4.1 .4-9 .3 3.4 .3 .5 .3 1.6 .4 .3 .3 1.6 .3-2.1 .4 2.2 .3 2.9 .3 2.9 .4-3.4 .3 4 .3-12.1 .3 6.4 .4 .4 .3-.5 .3-6.8 .4 3.3 .3 .7 .3-.1 .4-6.9 .3-.8 .3 11.4 .3-8.9 .4 5.1 .3-2.8 .3-1.2 .4 2 .3 12.1 .3-12.8 .4-2.6 .3 14.1 .3-9.6 .3 10.4 .4-1.6 .3-6.2 .3-8.2 .4 3.1 .3 9.4 .3-8.2 .4-2.6 .3 .3 .3 3 .3 1.9 .4-.9 .3-3.8 .3 6.1 .4 12 .3-3.1 .3 13.2 .4-27.1 .3 6.6 .3-.9 .3-1.3 .4-1 .3 1.4 .3-1.4 .4 7.1 .3-1.3 .3-2.8 .4-7.6 .3 7.7 .3 .8 .3-2.4 .4 .7 .3 7.4 .3 1.8 .4-14.8 .3-7.8 .3 9.1 .4-1.2 .3 9.2 .3-.9 .3-1.3 .4-4 .3 6.8 .3 .5 .4-1.9 .3 1.1 .3-5.1 .4 7.4 .3-2.1 .3-6.4 .3 6.5 .4 2.9 .3-4.1 .3-8.3 .4 10.2 .3-1.2 .3 8.7 .4-15.6 .3 12.4 .3-3.8 .3 7.6 .4-13.7 .3 .8 .3 2.5 .4 4.3 .3-3.9 .3-1 .4 1.1 .3-2.9 .3 .5 .3 1.6 .4-7.6 .3 7.2 .3-4.4 .4 .4 .3 5.7 .3 2.8 .4-3.3 .3 8.3 .3-6.5 .3-6.4 .4 11.5 .3-6.9 .3 5.2 .4-11.3 .3 10 .3-2.9 .4-12.7 .3 10.1 .3-1.1 .3-5.6 .4 4.3 .3 15.1 .3-13.2 .4 7 .3 .3 .3-12.4 .4 3.3 .3 4.9 .3-.8 .3 .5 .4 1.3 .3-1.2 .3 3.5 .4 7 .3-15.6 .3 6.8 .4-8.4 .3 2.4 .3 2.2 .3 1.2 .4-6.5 .3 16.3 .3-11 .4-3.4 .3 8.4 .3-4.9 .4 3.4 .3 4.9 .3-4.5 .3 3 .4-11 .3 2.7 .3 7.7 .4-12.9 .3 8.5 .3-9.1 .4 9.3 .3-4.4 .3-2.5 .3 1 .4-5.7 .3 5.2 .3-.3 .4 7.4 .3 2.8 .3-7.4 .4 5 .3-3.6 .3 7 .3-3.3 .4 0 .3-4.5 .3 4.5 .4 1.6 .3-3.1 .3-1 .4-4.7 .3 3.4 .3-6.4 .3 3 .4-.3 .3 17.5 .3-15.1 .4 9.3 .3 .2 .3 .3 .4-.5 .3 2.3 .3-6.3 .3 2.3 .4-4.5 .3 8.6 .3-5.8 .4-5.3 .3 2.1 .3 4 .4 5.3 .3-8.5 .3 2.3 .3-6.2 .4 2.9 .3 4 .3 1.3 .4-.8 .3-9.9 .3 5.7 .4 7.9 .3-4.4 .3 4.6 .3-8.6 .4 5.7 .3-.1 .3 3 .4-6.8 .3 5.8 .3-7.3 .4 2.9 .3-7.7 .3 13.5 .3-.3 .4-7 .3 4 .3-7.5 .4 1 .3 .3 .3-2 .4 15.1 .3-4.3 .3-2.3 .3-9.6 .4 1.9 .3 4.6 .3 6.3 .4-5.2 .3-13.4 .3 11.8 .4 5.3 .3 5.1 .3-7.7 .3-8.3 .4 .6 .3 13.5 .3-19.4 .4 16.5 .3-10.9 .3 4.3 .4-2.9 .3 4.9 .3-11.3 .3 15 .4 3.8 .3-10.4 .3-3.4 .4 10.8 .3-19.9 .3-.2 .4-3.2 .3 8 .3 8.4 .3 3.7 .4-16.6 .3 16.5 .3-7.7 .4-2.6 .3 6 .3-8.9 .4 12 .3-6.1 .3-4.6 .3 13.6 .4-3 .3 7 .3-9.6 .4-7.9 .3 6.2 .3 3.2 .4-13.9 .3 7.5 .3 1.5 .3 4.6 .4-14.7 .3 2.6 .3 13.3 .4-17.4 .3 25.5 .3-10.9 .4-9.6 .3 1.8 .3 4.4 .3-1.3 .4-1.3 .3-7.9 .3 8.2 .4-4.4 .3 18.2 .3-.8 .4-21 .3 13.8 .3 9.3 .3-16.5 .4-1.6 .3 9.2 .3-5 .4-5 .3 .8 .3 5.1 .4-.1 .3-3.4 .3 7.2 .3-7.3 .4-5.6 .3 14.3 .3-3.1 .4-6.1 .3 9.6 .3-13.6 .4 20.1 .3-11.4" fill="none" stroke="#00ff00" stroke-width="0.9" stroke-linejoin="round" clip-path="url(#cr2)"/>
<path d="M668.7 219.7l.3-2.7 .4 .3 .3-1.4 .3-1.6 .4 3.2 .3-3.2 .3 1.4 .3-.7 .4 2.1 .3-1.4 .3-.5 .4 .5 .3 1.1 .3-1.5 .4-1.6 .3 2.3 .3 3.4 .3-.6 .4-2.9 .3 .9 .3-2.7 .4 .7 .3 2.7 .3-1.8 .4 1.9 .3 1.2 .3-3.1 .3 1.4 .4 1.6 .3-3.5 .3-.2 .4 2.1 .3-.7 .3-.7 .4 2 .3-2.7 .3-.1 .3 .7 .4 1.7 .3 1.7 .3-2.5 .4-1.4 .3 .2 .3-1 .4 1.6 .3-2.4 .3 2.3 .3-.7 .4 1.7 .3-2.2 .3 .8 .4-2 .3 2.2 .3 1.7 .4 .6 .3-4.3 .3 4.7 .3-1.4 .4-1.7 .3 .5 .3-1.4 .4-.9 .3 1.7 .3 .4 .4-.5 .3 1.1 .3-.4 .3-3.5 .4 5.4 .3 .6 .3-3.3 .4-.2 .3 1.1 .3-1.4 .4 4.2 .3-6.1 .3 3.8 .3-.9 .4-.7 .3 1.4 .3-1.8 .4-.9 .3 1 .3 .5 .4-.8 .3-.1 .3 .8 .3 .3 .4-2.1 .3 1.7 .3-.6 .4-1.2 .3 3 .3-.2 .4-.5 .3-2.5 .3 3.5 .3-1.6 .4 2.1 .3-2.2 .3-.4 .4 2 .3-.2 .3-1.1 .4 .5 .3-2.1 .3 0 .3 1.7 .4-1.2 .3 1 .3-2.3 .4 1.4 .3 .1 .3-2.4 .4 3.8 .3-2.4 .3-1.6 .3 4.6 .4-1.1 .3-1 .3 1.2 .4-3.7 .3 3.6 .3-2.8 .4 2.2 .3 1.2 .3-4.7 .3 2.1 .4-1.4 .3 0 .3 .6 .4 .8 .3 3.6 .3-4.2 .4 2.3 .3-1.8 .3 .8 .3 2 .4-.7 .3-.7 .3 3.6 .4-5.8 .3 1.4 .3 2.5 .4-.8 .3-.1 .3-.3 .3-.4 .4 .6 .3-3.9 .3 4.3 .4-1.9 .3 .2 .3-.7 .4 3.1 .3-2.6 .3 .1 .3 2.3 .4-1.4 .3 .3 .3-4.4 .4 3.7 .3 2.7 .3-.4 .4-.8 .3-1.7 .3-.5 .3 .7 .4 2.3 .3-3.5 .3 0 .4 1.2 .3 .1 .3-1.3 .4-.7 .3 2.3 .3-.8 .3 0 .4 4.9 .3-2.4 .3-1 .4-.9 .3-1.1 .3 2.8 .4-.7 .3 .1 .3-1.9 .3-1.4 .4 2.6 .3 .8 .3-1.7 .4-.5 .3 1 .3 .8 .4 2.4 .3-5.5 .3 2 .3-.8 .4-1.4 .3-1 .3 2.7 .4 .2 .3-2 .3 2.8 .4-3.3 .3 .5 .3 5.3 .3-1.6 .4 1.8 .3-6 .3 3.9 .4-2.4 .3 .1 .3 1.8 .4-2.3 .3 1.4 .3 2.3 .3-6.6 .4 4.8 .3-1.2 .3-1.3 .4-.5 .3 4.4 .3 1.1 .4-2.7 .3 2 .3 1 .3-7.5 .4 1.4 .3 3.7 .3 1.6 .4-.2 .3-6 .3-5.8 .4 9.1 .3 2.3 .3-4.4 .3 .9 .4 1.3 .3-3.9 .3-2.6 .4 5 .3-3.8 .3 8.4 .4-3.3 .3-2.5 .3 6.1 .3-9.3 .4-3.5 .3 16.3 .3-3 .4-.5 .3-4.8 .3 5.8 .4-6.3 .3 2.1 .3 4 .3-5.2 .4-2.1 .3 4.1 .3 0 .4-2.4 .3-2.5 .3-5.7 .4 14 .3-9.4 .3 .7 .3-6.5 .4 15.6 .3 .2 .3-1.8 .4 7.7 .3-3.5 .3-11.5 .4 .5 .3 6.5 .3-10.3 .3 1.6 .4 7.2 .3-.4 .3 .2 .4-3.4 .3 1.3 .3-1.5 .4 5.3 .3-10.5 .3 9.6 .3-6.4 .4-3 .3-6.1 .3 14.4 .4 .3 .3-9.5 .3 5.7 .4-3.4 .3-3.8 .3 1.1 .3 7.6 .4-3.8 .3 5.3 .3-8.1 .4 4.5 .3-1.4 .3 6 .4-3.4 .3 10.2 .3-9.3 .3 4.9 .4 4.3 .3-9.7 .3-5.7 .4 7.7 .3-4.9 .3 5.3 .4-2.8 .3-3.4 .3 2.2 .3 0 .4 6.3 .3-9.4 .3-8.6 .4 8.9 .3-1 .3 6.3 .4-1.2 .3 3.3 .3 4.8 .3-14.3 .4 5.5 .3 3.4 .3-6.2 .4 1.8 .3-3.3 .3-.5 .4 10.6 .3-2.8 .3-3.5 .3-2 .4-3.1 .3 10.6 .3-10.8 .4 4.7 .3-1.6 .3 .8 .4 2.4 .3-5.1 .3-4.7 .3 7.1 .4-.7 .3 5.8 .3 1.9 .4-2.4 .3-3.5 .3 5.5 .4-10.2 .3 4.4 .3-3.7 .3 4.2 .4-4.2 .3 2.9 .3-5 .4 7.7 .3 5.5 .3-11.4 .4 5.2 .3-2.9 .3 4 .3 9.7 .4-11.3 .3 1.6 .3-10.2 .4 9.8 .3-2 .3-3.8 .4-1.5 .3-.5 .3-.3 .3 9.7 .4 .3 .3-1.8 .3-6.5 .4 10.9 .3-15.9 .3 13.9 .4-6.6 .3 6.2 .3 .5 .3-7.4 .4 1.6 .3-4 .3 8.4 .4-3.1 .3-1.8 .3-2.2 .4 3.7 .3-5.6 .3 4.4 .3-4.1 .4-.3 .3 3.2 .3 6.8 .4 2.3 .3-2.2 .3-9.7 .4 5 .3 .2 .3-2.7 .3 .9 .4-.8 .3-2.4 .3 1.9 .4 4.7 .3-1.7 .3-6.2 .4 5.9 .3-.5 .3-.9 .3-1.1 .4-1.8 .3 11.2 .3-2.9 .4 4.1 .3-6.4 .3 1.8 .4-.4 .3-1.2 .3-3.6 .3 2.6 .4-2.4 .3 .3 .3 .4 .4 4 .3-.6 .3 3.1 .4-9.6 .3-3.6 .3 10.6 .3 5.7 .4-10 .3-6.6 .3 5.9 .4 2.3 .3-6.6 .3 9.3 .4-1.2 .3-1.2 .3 4.5 .3-10.1 .4 4.1 .3-1.9 .3 8.3 .4-9.9 .3 14.3 .3-10.8 .4-4.5 .3 6.2 .3 4 .3-5.4 .4 3 .3 .3 .3-8.2 .4 10.8 .3 2 .3-6 .4-6.1 .3-2.7 .3 4.4 .3-.2 .4-1.5 .3-.3 .3 2.9 .4-1.8 .3 5.3 .3-1.5 .4 .2 .3 5.3 .3-4.1 .3 9.2 .4-7.1 .3-9.8 .3 8.2 .4-2 .3-.2 .3-5.7 .4 9 .3-1.6 .3 6 .3 .6 .4-14.1 .3 9.7 .3 2.3 .4-6.8 .3 1.8 .3-4.5 .4 9.6 .3-3.2 .3 .1 .3-1.8 .4 .1 .3 3.6 .3-9.5 .4 10.9 .3-3.3 .3-5.1 .4 1.2 .3 5.2 .3-8 .3 5.3 .4-4.8 .3-.4 .3 4.6 .4 1.4 .3 1.9 .3-4.2 .4 3.9 .3-2 .3-2.8 .3 7 .4-7.1 .3 11.1 .3-10 .4 2.8 .3-.4 .3 1.7 .4 1.8 .3-4.9 .3 .9 .3 5.4 .4 1.3 .3-7.5 .3-5.9 .4 8.1 .3-4.4 .3 4.8 .4-4 .3 6.2 .3-6.4 .3 6.2 .4-2.4 .3-2.1 .3-2.3 .4 2 .3 3.1 .3-4 .4 .7 .3 1.9 .3-1.5 .3 .8 .4-3.4 .3 .5 .3 7.6 .4-6.8 .3 1.5 .3 3.9 .4-10.6 .3 5.1 .3 2.4 .3-9 .4 5.3 .3-2.3 .3 2.7 .4 7.7 .3-2 .3 2.7 .4-6.9 .3-1.8 .3-2.2 .3 10.6 .4-4.8 .3-5.2 .3 12.6 .4-8.3 .3 2.7 .3 3.3 .4 2.6 .3-5.6 .3-7.1 .3 5.1 .4 7.4 .3-11.2 .3 5.5 .4 6.5 .3-12.3 .3 9.3 .4-12.9 .3 7.3 .3-2.4 .3 6.5 .4-3.9 .3-2 .3 2 .4 4.6 .3-10.2 .3 4.4 .4-6.4 .3-2.9 .3 8.7 .3 8.3 .4-7.2 .3 1.5 .3-.1 .4-7.4 .3 3.6 .3-1.8 .4 7.6 .3-3 .3-.1 .3 6.6 .4-8.8 .3 .3 .3-7.3 .4 13.3 .3-3.3 .3-6.1 .4 7.5 .3-1.4 .3-.7 .3-2.3 .4-1.1 .3 5.8 .3-4.2 .4-1.4 .3 3.7 .3-2 .4 4.5 .3-12.6 .3 14.6 .3 1.7 .4-11.5 .3 5 .3-3.6 .4 3.4 .3-5.2 .3-1.4 .4 4.1 .3-4 .3 4.3 .3-4.6 .4-1.4 .3 4.2 .3 1.4 .4-10.6 .3 9.5 .3 2.6 .4-6.8 .3 1.5 .3 .1 .3 3.7 .4-5.4 .3-.8 .3 6.3 .4 2.7 .3-9.1 .3 7.3 .4 .6 .3-5.4 .3-3.6 .3 6.3 .4-1.7 .3-1.7 .3-1.7 .4 10.9 .3-5.9 .3-4.1 .4 6.7 .3-7 .3 7.6 .3-5 .4 .1 .3-3.2 .3 12.7 .4-13.5 .3 5.9 .3-10.9 .4 1.1 .3 14.6 .3-3 .3-4.8 .4 4.3 .3-9.4 .3 6.1 .4 .4 .3-3.6 .3 3.8 .4 6.8 .3-4.7 .3-2 .3 1.7 .4-6.1 .3 10 .3-7 .4-1.9 .3 1.4 .3 3.4 .4 .6 .3-5.3 .3-1.6 .3-1.7 .4 7.1 .3-3.1 .3-5.8 .4-1.9 .3 6.1 .3 .2 .4 9.1 .3-8.4 .3-2.2 .3-.7 .4 5.3 .3-4.4 .3 8.4 .4-10.6 .3 .2 .3 1.1 .4-.7 .3-1 .3 9.3 .3-7.4 .4 11 .3-14.1 .3 7.9 .4-1 .3-6.2 .3-.9 .4 11.5 .3-6.4 .3-.1 .3 10.9 .4-9.3 .3 6.3 .3-11.8 .4 6.6 .3-2.6 .3 2.4 .4 5.6 .3-2.7 .3 2.4 .3-6.2 .4-2 .3 10.9 .3-9.4 .4 3.6 .3 3.7 .3-3.8 .4-6.5 .3 7.7 .3-4.7 .3 6.3 .4-4.6 .3 .2 .3 2.1 .4-3.9 .3-9.2 .3 5 .4 7.4 .3-1.1 .3-5.3 .3 1.3 .4-2.4 .3 12.1 .3 2.1 .4-11.7 .3 4.9 .3 1.1 .4 .2 .3-2.3 .3-.7 .3-1.8 .4 2.5 .3-6.9 .3 8.9 .4-7.2 .3 7 .3-2.8 .4 1.9 .3-6.1 .3 10 .3-6.7 .4-2 .3 2.8 .3-1.9 .4 2.5 .3-3.5 .3 8.5 .4-9.2 .3 6.2 .3-3.6 .3-2.6 .4 8 .3 4.5 .3-9.8 .4 4.3 .3-7.3 .3 5.2 .4-.3 .3-4 .3 1.2 .3 6.9 .4 .2 .3-6 .3 5.5 .4-7.5 .3 4.2 .3 2 .4-1.5 .3-3 .3 4.1 .3 8.7 .4-19.1 .3 9.7 .3 .2 .4-4 .3-1.2 .3 8.4 .4-4.6 .3 7.7 .3-5.5 .3-2.3 .4 4.6 .3-2.2 .3 2.6 .4-9.6 .3 7 .3 1 .4-.9 .3-1 .3-2.7 .3 7.2 .4-8.1 .3-.8 .3 .4 .4-2.6 .3 7.9 .3-1.9 .4-2.1 .3-.1 .3 4.1 .3-2.5 .4 3.8 .3-1.3 .3-6.7 .4 7.4 .3 3 .3 .3 .4-1.7 .3-.3 .3-2.9 .3-1.3 .4 .3 .3 .3 .3 5 .4-8.1 .3 5.9 .3-6.6 .4 4.8 .3 .9 .3-2.6 .3 9.7 .4 10.6 .3-19 .3 6 .4-8.3 .3 10.6 .3-6.9 .4 2.1 .3-2.7 .3 3.8 .3-.2 .4-.9 .3-3.5 .3 .8 .4 .2 .3 1.5 .3 1.7 .4 3.1 .3-4.6 .3-2.8 .3 8.5 .4-5.8 .3 .3 .3 5.7 .4-8.4 .3 3.6 .3 2 .4 .3 .3-5.7 .3 1.8 .3 1 .4-5.8 .3 7.4 .3-5.9 .4 6.2 .3-1.8 .3-1.3 .4-.6 .3-2.5 .3 5.8 .3-11.5 .4 5.8 .3 8.3 .3-10.9 .4 3.3 .3 3.2 .3-4.4 .4 11.1 .3 2.4 .3-8.8 .3 .9 .4 1.3 .3 .5 .3-11.8 .4 10.8 .3 6.3 .3-10.1 .4 16.2 .3-17.5 .3 12.5 .3-10.4 .4-8.9 .3 11 .3 2.1 .4-5.5 .3 5.1 .3-1.3 .4 3.8 .3-7 .3 8.1 .3-11.3 .4 9.3 .3-.1 .3-10.9 .4 10.6 .3-1.3 .3-.4 .4 .1 .3-3.6 .3 7.1 .3-12.4 .4 13.1 .3-10.8 .3 8.3 .4-4 .3-.8 .3-4.9 .4 .3 .3 9.6 .3-4.3 .3-8.9 .4 10 .3-5.2 .3 11.3 .4-11.6 .3 11.9 .3-7.4 .4-4.6 .3 3.2 .3 1.3 .3 3.8 .4-3.5 .3 2.1 .3 4.8 .4-6.3 .3 1.5 .3-3.5 .4-7.3 .3 8.6 .3-.5 .3-.8 .4 5.1 .3-4.5 .3 9 .4-10.8 .3-5.4 .3 5.5 .4 3.4 .3-3.5 .3 7.2 .3-10.6 .4-8.6 .3 5.6 .3 6.1 .4 2.1 .3 8 .3-11.3 .4-4.2 .3 6.8 .3-1.6 .3 1.6 .4-.4 .3 3.9 .3-4.7 .4-.9 .3 5.2 .3 1.7 .4-8.7 .3 6.8 .3 .2 .3-2.3 .4-.9 .3 1 .3-1 .4 2.6 .3-4.7 .3-.2 .4-1.4 .3 3.2 .3 .1 .3-4 .4 3.3 .3 6.6 .3-6.4 .4-2.9 .3 9.2 .3-7.1 .4 4.2 .3-9.9 .3 7.3 .3-3.7 .4 7.2 .3-10 .3 12.3 .4-13.6 .3 12.2 .3 .8 .4-6.4 .3 5.1 .3-7.4 .3-2 .4 3.4 .3-.3 .3 3.5 .4-1.6 .3-5.4 .3 6.7 .4 3.2 .3 4.4 .3-12.7 .3 11.2 .4-2.4 .3-3.8 .3 1.2 .4-4.2 .3 2 .3-4.7 .4 10.9 .3-6.9 .3-7.2 .3 10.3 .4-5.5 .3 5.3 .3-4.9 .4 5.3 .3 .6 .3 .8 .4-2.2 .3 3.3 .3-5.9 .3 3.4 .4-1.2 .3 1.7 .3-1.2 .4 6.3 .3-9 .3-6 .4 0 .3 3.7 .3-3.7 .3 10.7 .4-.9 .3 2.8 .3-4.9 .4 5.6 .3-8.9 .3 5.1 .4 2.8 .3-5.2 .3-.7 .3 6.4 .4 .2 .3-9.4 .3 6.8 .4-1.4 .3-2.6 .3 8.3 .4-3.1 .3-3.2 .3-5.6 .3 7.4 .4 2.3 .3-4.6 .3 6.1 .4-7.9 .3 2.9 .3-5.8 .4 6.2 .3 .3 .3 11.3 .3-4 .4-4 .3 2.1 .3-6.8 .4 4.8 .3-3.3 .3-.3 .4-1.3 .3 6.2 .3-9 .3 10.4 .4 3.6 .3-10.3 .3 3.4 .4 1.7 .3 2.2 .3-.9 .4-2.7 .3-3.8 .3-3 .3 2.3 .4 9 .3 .2 .3-9.2 .4 3.8 .3-4.7 .3 3.2 .4 7.4 .3-.9 .3 4.9 .3-19.5 .4 5.1 .3 2.2 .3 3.6 .4 3.5 .3-16.7 .3 19 .4-9.4 .3 8.7 .3-7.2 .3-.1 .4-.1 .3 10.7 .3-4.5 .4-2.8 .3 4 .3-3.9 .4 .7 .3 1.8 .3 2 .3-2.1 .4-2.7 .3 3.6 .3-6.2 .4 2.5 .3-7.5 .3 8.9 .4-1.9 .3 1.4 .3-2.6 .3 .6 .4-3 .3-.8 .3 5 .4-.4 .3 .4 .3 9.8 .4-11.3 .3 5.1 .3-3.4 .3-4.5 .4 1.2 .3 4.9 .3-3.9 .4 10 .3-7.3 .3 3.6 .4-7.6 .3 .3 .3 3.4 .3-9.5 .4-4.2 .3 8.9 .3-2.8 .4 5.5 .3-1.9 .3 2.4 .4 .1 .3-3.4 .3-2.4 .3-1.6 .4 3.1 .3 7.2 .3 .6 .4-9.3 .3 .2 .3-3.6 .4 10.1 .3 .9 .3 1 .3-5.3 .4-7.8 .3 5.5 .3 2.1 .4 1.9 .3-.8 .3-8.2 .4 7 .3-4.1 .3 8.2 .3-2.9 .4-1.5 .3-9.5 .3 13.6 .4-10.1 .3 6.7 .3-10.2 .4 5.9 .3-4.2 .3 4.9 .3 1.7 .4-14 .3 9.7 .3 3.2 .4-5.5 .3 10.9 .3-6.3 .4-.1 .3-1.6 .3 6.4 .3-2.7 .4-6.1 .3 7 .3-6.4 .4-2.9 .3 1.2 .3 8 .4 3.7 .3-17.5 .3 8.9 .3 12.8 .4-10.1 .3 3.4 .3-11.1 .4 6.8 .3 9.3 .3-9.8 .4-6.8 .3 11.5 .3-6.9 .3 8 .4-11.4 .3-6 .3 14.4 .4 4.9 .3-8.8 .3 14.6 .4 3 .3-19.7 .3 7.1 .3 7.4 .4-10.3 .3 6.8 .3-4.2 .4-1.5 .3 7.6 .3-1 .4-10.7 .3 7.1 .3-1 .3 5.6 .4-15 .3 19.5 .3-9.8 .4-4.9 .3 14.2 .3-15.9 .4 2.2 .3 13.6 .3 7.1 .3 25 .4-44.3 .3 4.5 .3 8.1 .4-18.8 .3 12.8 .3-.4 .4 1.2 .3 4.3 .3-8.5 .3 2.4 .4 1.8 .3-2.9 .3-6.2 .4 5.2 .3 9.8 .3 1.7 .4-7.3 .3-8.5 .3 14.5 .3-4.4 .4-4.2 .3 10.6 .3-7.5 .4-7 .3-5.9 .3 .2 .4 10.5 .3-.2 .3-9.6 .3 10.7 .4-12.2 .3 11.5 .3 .5 .4-14.7 .3 7.2 .3 3.5 .4 2.9 .3-2.2 .3-1.4 .3-2.8 .4 10.5 .3-11.5 .3 5.1 .4-6.7 .3-5.2 .3 6.7 .4 2.5 .3-4.4 .3 7.8 .3-7.2 .4 13.7 .3-10.5 .3 2.1 .4 4.1 .3-2 .3 1.6 .4-11.9 .3 5.5 .3 1.9 .3-6.5 .4 8.7 .3-13.4 .3 6.1 .4 7.3 .3 2.5 .3-11.8 .4 16.9 .3-20.7 .3 .9 .3 8.4 .4-5.9 .3-2.1 .3 4 .4 10.3 .3-8.5 .3-2.5 .4 12.9 .3-2.6 .3 2.2 .3-9.3 .4-1.6 .3 1.5 .3 16.7 .4-14.6 .3-4.5 .3 10.1 .4-10.2 .3 7.8 .3-2.1 .3 1.1 .4-6 .3 8.2 .3-3.2 .4 8 .3-10.8 .3-1.5 .4 15.9 .3-10.5" fill="none" stroke="#ff0000" stroke-width="0.9" stroke-linejoin="round" clip-path="url(#cr2)"/>
<path d="M668.6 321.8l.5 2.6 .5 2.9 .5-3.2 .5 3.6 .5-.8 .5 3.7 .5-.2 .5 1 .5-3.1 .5 3.9 .5 3.6 .5-3.6 .5-1.1 .5 .6 .5-3 .5 1.2 .5 .1 .5-3.3 .5-2.8 .5 4.5 .5-1.6 .5-.6 .5-.4 .5 .5 .5 2.2 .5 .4 .5 1.9 .5-.4 .5 3 .5-.5 .5 3.6 .5-1.2 .5-4.4 .5 .2 .5-3.7 .5 1.1 .5-2 .5 0 .5 1.1 .5-4.4 .5 .6 .5 2.8 .5-4.7 .5-.8 .5 1.8 .5-2.6 .5-3.1 .5 3.9 .5-.5 .5 1.9 .5-2.7 .5 .4 .5 .5 .5-2.4 .5 2.8 .5 3.8 .5 3.2 .5-.8 .5 0 .5-3.8 .5-4.4 .5-1.9 .5 2.9 .5 1.3 .5-.6 .5 3.6 .5 .1 .5 1.5 .5 .7 .5-1.3 .5-4.8 .5-1.5 .5-1.8 .5 2 .5-.6 .5 2.1 .5-1.8 .5-1.1 .5-3.2 .5 .5 .5 1.1 .5-2 .5-4.4 .5 2.5 .5 .3 .5 4.4 .5 .7 .5-2.1 .5-.8 .5 1.3 .5-7.7 .5 4.2 .5-1.3 .5 .5 .5-1.2 .5 2.1 .5 .5 .5 5.6 .5-1.3 .5-4 .5 3.6 .5 .1 .5 4.4 .5 .5 .5-.9 .5-.1 .5-1.1 .5-.9 .5-2.4 .5-2 .5-1 .5-.1 .5-2.8 .5-3 .5 2.6 .5-3.6 .5-1.4 .5 1.8 .5 2.2 .5-4 .5-1.6 .5-1.1 .5 2 .5-.3 .5-1.3 .5 .2 .5-1.9 .5 .4 .5 3.5 .5 4.8 .5-3.7 .5 1.5 .5 3.4 .5-3.3 .5 6 .5 1.7 .5 1.2 .5 .5 .5 .8 .5-2.4 .5-.5 .5-.5 .5-8 .5-5.8 .5 5.2 .5 1 .5-6.1 .5-1.4 .5 .6 .5-1.4 .5 .7 .5 5.6 .5 1.2 .5 1.6 .5-2.5 .5 6.7 .5-3 .5 .9 .5-1.6 .5 .5 .5-2.7 .5-.9 .5-3.6 .5 .5 .5 6.1 .5-.2 .5 7.2 .5 .6 .5 1.4 .5-3.5 .5 1.1 .5-4.5 .5 1.8 .5-8.7 .5 4.4 .5 1.8 .5 1.1 .5 4.7 .5-.5 .5-1.7 .5 3.1 .5-2 .5 .7 .5-1.1 .5-3.6 .5 1.5 .5-3.2 .5-.9 .5 .5 .5 1.3 .5-2.2 .5-3.7 .5 .2 .5-3.3 .5 1.8 .5 .7 .5 1.4 .5-.2 .5 2.3 .5 1.3 .5 .2 .5 3.3 .5 6.2 .5 .7 .5 3.3 .5 2.1 .5 .8 .5-2.2 .5-.7 .5 1.3 .5 1.1 .5-2.2 .5-.2 .5 2.8 .5 1.1 .5 .6 .5-5.2 .5-2.4 .5-.4 .5-4.3 .5-3.2 .5-1 .5 .6 .5-.8 .5-3 .5-2.6 .5-.3 .5-.9 .5 .4 .5 2.1 .5-.4 .5-1.6 .5-.1 .5-2.8 .5-.7 .5-.4 .5 3.9 .5-3.3 .5 6.2 .5 5 .5 3.7 .5 6.3 .5-4.8 .5 0 .5-.2 .5-2.3 .5-8.1 .5 5.2 .5-1.1 .5 0 .5-3.8 .5-4.8 .5 4.7 .5-3.3 .5-4 .5-1.7 .5 2 .5 3.2 .5 3.5 .5-.2 .5-2.2 .5-5.7 .5-3.5 .5-3.6 .5 4.6 .5-1.8 .5 3.3 .5 2.1 .5 .3 .5-1.2 .5-3 .5 2.1 .5-3.3 .5 1.3 .5-6.1 .5-2.5 .5 1.2 .5-1 .5 2.5 .5-.7 .5-2.4 .5 4.6 .5-5.8 .5 1.5 .5 0 .5-3.5 .5-1.6 .5-3.6 .5-4.9 .5 .5 .5-1.8 .5 3.1 .5 2.3 .5 .6 .5 .4 .5 0 .5 2.9 .5 4.7 .5-2.6 .5-.4 .5 4.4 .5 1.8 .5 3.5 .5 1.1 .5 1.6 .5 2.3 .5 4.1 .5 3.6 .5 3 .5 2.3 .5-.1 .5 2.8 .5 1 .5-1.5 .5 .4 .5-4.1 .5-3.1 .5 .3 .5 .9 .5 0 .5-2.1 .5 3.6 .5-4.2 .5 4.7 .5 6.1 .5 2.8 .5-4.5 .5-2.9 .5-.7 .5-5 .5 .6 .5-3.5 .5 3.3 .5-2.8 .5 4.1 .5-1.9 .5-4.1 .5 .5 .5 4 .5-.6 .5-2.4 .5 2.9 .5 1.4 .5-3 .5 1 .5 1.4 .5-1.4 .5 4 .5-.3 .5-.6 .5 1.8 .5 .9 .5 .9 .5-1.1 .5 .2 .5-2.3 .5-5.4 .5-3.2 .5 .5 .5 1.4 .5 .8 .5-5.1 .5-1.6 .5 0 .5-1.6 .5-1.7 .5 5.5 .5-2.4 .5-.1 .5 2.6 .5 2.8 .5-2.1 .5 0 .5-.5 .5-.5 .5-1.1 .5 1.1 .5-2.3 .5-3.7 .5-.8 .5-2.4 .5 1 .5 5.4 .5 2.1 .5 1.6 .5 5.9 .5 1.5 .5-3.6 .5 3.4 .5-1.1 .5 2.1 .5 2.5 .5-3 .5-3.4 .5 1.1 .5-2.2 .5-1.9 .5-5.2 .5-.9 .5 .9 .5-1.4 .5 2.6 .5-2.8 .5 1.4 .5 6.1 .5-3.2 .5-1.1 .5-2.1 .5-1.4 .5 3.6 .5 2 .5-3.2 .5 4 .5-.2 .5 3.8 .5 .2 .5 1.4 .5 1.3 .5 2.8 .5 3.6 .5-3 .5 8.9 .5 .4 .5-4.1 .5 1.1 .5-2.7 .5-4.4 .5-5.6 .5 2.7 .5-2.1 .5-2.9 .5 .9 .5-5.7 .5 .1 .5-1.2 .5-2.2 .5-5.9 .5-5.1 .5-5.3 .5 2.7 .5 8.7 .5-.2 .5 7.4 .5-.3 .5-1.4 .5-1.1 .5 1.6 .5 3.9 .5 7.5 .5 4.3 .5 6.2 .5 4.7 .5-1.6 .5 .1 .5-6.7 .5 .2 .5 1.3 .5-2.5 .5 3.8 .5 .8 .5-3.2 .5 1.1 .5-5.1 .5 .1 .5-4.5 .5-1.7 .5-4.1 .5 .5 .5 4.1 .5-3.4 .5-.7 .5 3.1 .5-6.9 .5-2.1 .5-7 .5-4.8 .5 4.3 .5 1.8 .5 4.8 .5 5.2 .5-4.5 .5-3.2 .5 .1 .5-8.6 .5-1.3 .5 .3 .5 6.3 .5 4.1 .5 5 .5-.1 .5-3.2 .5-1 .5 1.2 .5-2.3 .5 0 .5-.8 .5-1.1 .5-.5 .5 .4 .5 1.4 .5 3 .5 .4 .5 4.6 .5 1.4 .5 .3 .5 1 .5-1.6 .5 2 .5-3.3 .5 1.3 .5-2.1 .5-.4 .5-4.3 .5 1.3 .5 3.2 .5-2.8 .5 .4 .5 3.2 .5-5.1 .5 4.5 .5-2 .5-1.7 .5-3.1 .5 4 .5-4.3 .5 .6 .5 3.5 .5-2.7 .5-2.5 .5 .6 .5-2.8 .5 5.6 .5-2.1 .5 3.3 .5-3 .5 4 .5-1.1 .5-.5 .5-.7 .5-4 .5-2.6 .5 3 .5-3 .5-1.8 .5 2.9 .5 4.3 .5 1.9 .5-2.2 .5-1.5 .5-2.6 .5 2.7 .5-.4 .5-1.7 .5-1.7 .5-.7 .5 5.4 .5-4.1 .5 1.6 .5 1.4 .5-5.2 .5 3.2 .5-3.6 .5 .7 .5-1.2 .5 1.8 .5 3.3 .5-2.3 .5-3.5 .5 4.2 .5-3 .5 .3 .5 3.6 .5-.2 .5 2.3 .5 2.8 .5 .6 .5-2.6 .5-2.5 .5 2.7 .5-1 .5-3.4 .5 2.7 .5 .2 .5 1.7 .5-1.4 .5 1.8 .5-2.6 .5 1.5 .5-2 .5-6.9 .5-3.1 .5-2.5 .5 .3 .5-3.8 .5 2 .5 0 .5 3.8 .5 4.1 .5 1 .5-.2 .5-.8 .5 7.8 .5-2.1 .5-1.9 .5-2.9 .5-.5 .5-4.3 .5-2.9 .5-5.4 .5-2.2 .5-1.8 .5 4.4 .5 2.5 .5 5.7 .5 2.2 .5 9.4 .5 3.7 .5-3.2 .5 1.6 .5-3.3 .5 2.5 .5-1.2 .5-5.9 .5 2.2 .5-.6 .5 1.1 .5-.6 .5-6.9 .5-.2 .5-.3 .5-.2 .5 6.4 .5 5.7 .5 2.8 .5 .2 .5 2 .5-3.8 .5 6 .5-1 .5 2.2 .5-.6 .5-2.6 .5-2.4 .5 .5 .5-.9 .5-1.9 .5 2.1 .5-4.3 .5 1.8 .5-.6 .5 2.2 .5 2.5 .5 .3 .5 3.8 .5 .5 .5-.3 .5-.1 .5 4.1 .5 2.6 .5-1.4 .5 .1 .5 1.8 .5 1.7 .5 .8 .5 1.1 .5 2 .5-4.3 .5 0 .5 0 .5-3.2 .5 4.4 .5-1.9 .5 .3 .5-6.5 .5-2.5 .5-1.8 .5 2.3 .5 1.1 .5 1.4 .5-1.5 .5 5 .5 2 .5 1.2 .5 2.9 .5-1.1 .5-2.6 .5-1.1 .5 .2 .5 1.2 .5 1.5 .5-1.7 .5 .8 .5-3.5 .5-6.6 .5-.3 .5-1.9 .5-3.9 .5-.7 .5-6.2 .5 .3 .5-.4 .5-1.7 .5-.8 .5 5.3 .5-.9 .5 3.2 .5-4 .5 3.4 .5 4.5 .5 2 .5 2.3 .5 1 .5 4.2 .5-2.7 .5 4.8 .5 .5 .5 2.1 .5 1.2 .5-3.2 .5-1.4 .5-.5 .5 2.6 .5-1.8 .5 1.1 .5-1.5 .5-2.3 .5-.5 .5 2.6 .5 1.3 .5 1.5 .5-1 .5-.5 .5 0 .5-.6 .5 6.8 .5-4.4 .5 .8 .5-1.2 .5-1.3 .5 4 .5-2.4 .5 1.3 .5 4.4 .5-1.9 .5 1.7 .5-3 .5-5.6 .5 4.7 .5-3.5 .5 4.5 .5 2.2 .5 .4 .5-1.5 .5-5.1 .5 2.8 .5-.8 .5-2.4 .5-2.2 .5-2.1 .5 3.9 .5 1.8 .5 2.1 .5-1.3 .5 3.6 .5-3.3 .5 1.9 .5-4.5 .5 6.7 .5 2.5 .5-1 .5-3.8 .5-6.6 .5-5.3 .5-2.6 .5 4.8 .5 3.3 .5 4.7 .5 1.8 .5-5.4 .5-5.8 .5 .5 .5-1.1 .5-6.4 .5-8.1 .5-4 .5-5.2 .5 6.4 .5 6.5 .5 8.4 .5 3.1 .5-1.5 .5-.6 .5-.7 .5-2 .5 1.1 .5 2.2 .5-5.3 .5-2.5 .5 1.8 .5-2.2 .5 .2 .5 7.7 .5 .5 .5 .5 .5 8.2 .5 5.5 .5 .2 .5 6.5 .5 1.9 .5 .4 .5 1.9 .5-3.5 .5-.6 .5-.2 .5-5.2 .5 1.6 .5-2.5 .5-2.9 .5-2.4 .5 .3 .5-4.5 .5-.8 .5 1.2 .5 3.4 .5 .7 .5 6 .5 2.5 .5 .3 .5 5.5 .5 3.1 .5 4.1 .5 2.1 .5-2.4 .5 .5 .5-5.6 .5 .5 .5 1.6 .5-4.8 .5-2.2 .5-5.9 .5-3.7 .5 8.4 .5 2.8 .5 2.2 .5 4.9 .5-2.8 .5-3.1 .5 .8 .5 .4 .5-3.9 .5-2.4 .5 .5 .5-7.1 .5 1.4 .5-5.6 .5 7.5 .5 2.9 .5 6.7 .5-1.7 .5 3.9 .5 1 .5 5 .5-2.2 .5-.9 .5-.6 .5-1.9 .5-6.8 .5-2.9 .5-2.1 .5-3.6 .5 .4 .5-.9 .5-3.4 .5 3.7 .5-4.6 .5-5 .5-6.5 .5-1.3 .5-7.3 .5 7.1 .5 .7 .5 4.5 .5 3.5 .5 6.2 .5 4.4 .5 2.6 .5 2.1 .5-2.7 .5-3.4 .5-3 .5 2.8 .5 4.7 .5-1.8 .5 2.5 .5 4.7 .5-3.2 .5-2.2 .5-8.5 .5-15.1 .5-4.3 .5-2.3 .5-2.9 .5 .1 .5-1.5 .5 7.4 .5 8.5 .5 7.1" fill="none" stroke="#ff1010" stroke-width="0.9" stroke-linejoin="round" clip-path="url(#cr3)"/>
<path d="M668.6 322.2l.5-.5 .5-.1 .5 .1 .5 .1 .5 1.6 .5-.9 .5 3.7 .5-.1 .5-1.5 .5 1 .5-2.5 .5-.6 .5 3 .5 .4 .5-3 .5-1.9 .5 2.6 .5-.1 .5-2.9 .5 1.7 .5 .1 .5-2 .5 1.8 .5 1.1 .5 .3 .5 1.8 .5-1.3 .5 .8 .5 3 .5-3.2 .5 .8 .5-2.6 .5-1.5 .5 1.8 .5-2.1 .5-1.9 .5 .9 .5 1.8 .5-1.7 .5-.6 .5 1.1 .5 .5 .5-.8 .5-1 .5-2 .5-.6 .5 4.2 .5 .2 .5-6 .5 2.5 .5 .8 .5 .8 .5-.6 .5-.3 .5-5 .5-1.1 .5-1.9 .5 .2 .5-.9 .5-.1 .5-2.6 .5-1.1 .5-1.7 .5-5.7 .5 2.9 .5 .5 .5 4 .5-3 .5-.2 .5-.5 .5 2.5 .5 3.1 .5-2 .5-.3 .5 2.5 .5 1 .5 .3 .5 1.8 .5 2.2 .5 1.7 .5-.4 .5-1.2 .5 2.6 .5-2.9 .5-1.8 .5 1.9 .5 1.4 .5 .8 .5-3 .5 1.6 .5-2.9 .5 1.5 .5-.8 .5 1.7 .5 1.6 .5-.7 .5-2.2 .5-4.9 .5 1.7 .5-3.2 .5-1.8 .5 2 .5 1 .5-.9 .5 2 .5 .7 .5 1.6 .5 2.2 .5 2.8 .5 2.4 .5-1.3 .5 1.8 .5 2.6 .5 0 .5-1.6 .5 .5 .5 1 .5-.8 .5 2.4 .5-6.6 .5 6.1 .5-2.7 .5-1 .5-.6 .5-.3 .5 1.7 .5 .5 .5-7 .5-1 .5 .9 .5 2.8 .5 2.3 .5-2.1 .5-2.1 .5 2.9 .5-1.8 .5-1.8 .5-.9 .5-1.9 .5-4.3 .5 .6 .5-2.6 .5 8.3 .5-.6 .5 .6 .5-2.9 .5 3.2 .5 .7 .5 1 .5-1.3 .5 2.4 .5-2.4 .5-.5 .5-1.8 .5-.8 .5 2 .5-1.4 .5 1.2 .5 2.2 .5-.1 .5-2.6 .5-2 .5 2.6 .5-.1 .5 2.2 .5-4.1 .5 2.6 .5-.7 .5 .1 .5 4.4 .5-2.3 .5-1 .5 1.1 .5 .5 .5 2.4 .5 .3 .5 1.1 .5-3.3 .5 .2 .5-2.8 .5 3.9 .5 .6 .5 2.1 .5 1.6 .5-1 .5-1.5 .5 .8 .5-2.6 .5 3.3 .5-4.6 .5 4.1 .5 .2 .5-1.4 .5-.3 .5-2.9 .5-.5 .5-2.4 .5 2 .5 1.1 .5 1.4 .5-1.9 .5-3.7 .5 .8 .5-1.5 .5 4.2 .5-1 .5 6.3 .5-1.1 .5-1.2 .5 .8 .5-2.4 .5 3.7 .5-1.1 .5 4.1 .5-1.7 .5 2.1 .5-2.7 .5 .1 .5-4.2 .5 1.4 .5-4.3 .5 2.7 .5-.5 .5 1.5 .5-3.2 .5 0 .5-.5 .5-3.8 .5-.6 .5 1.6 .5-.2 .5 .5 .5 .9 .5-5 .5-.2 .5 4.9 .5-.7 .5 1.1 .5-1.5 .5 .9 .5 .2 .5-1.5 .5 1.2 .5-1.8 .5 4.5 .5 1.8 .5-2.8 .5 1.9 .5 1.9 .5-1.1 .5-.9 .5-.9 .5 3.2 .5 3.6 .5-1.5 .5-2.3 .5 1.6 .5-1.1 .5-1.6 .5-1.8 .5 2.6 .5-3.5 .5 .2 .5-3.6 .5 2.2 .5 1 .5-.8 .5-2.2 .5 .9 .5-3.3 .5 6.2 .5-3.3 .5 4.4 .5 .5 .5-2.5 .5-2.9 .5 3.6 .5-.4 .5-.2 .5 3.2 .5-1 .5-3.6 .5 1 .5 4.2 .5 2.2 .5 1.5 .5-1.5 .5-2.7 .5 1.7 .5-1 .5-2.1 .5-.4 .5-.5 .5-2.3 .5-1.9 .5-3.2 .5 3.7 .5 .4 .5 .7 .5-5.7 .5 4.9 .5 4.9 .5-1.9 .5 1.2 .5 2 .5 1 .5-.8 .5 1.1 .5 3.1 .5-1.1 .5-.5 .5-.4 .5 .5 .5 3 .5-4.3 .5-1.6 .5 .5 .5 1.9 .5-1.1 .5-2.4 .5 4.2 .5 .8 .5-1 .5 1.4 .5 .2 .5-1.8 .5 .1 .5-3.3 .5 1.2 .5-.5 .5 2.4 .5 1.6 .5 1 .5-2.7 .5-1.6 .5 2.1 .5 1.7 .5 1.4 .5-1.6 .5-.1 .5 .3 .5 .8 .5-2.1 .5-1.5 .5 .2 .5-.7 .5 2.7 .5-2.5 .5-2.4 .5-1.4 .5 4.7 .5-.7 .5-5.7 .5 .3 .5 1.1 .5 4.2 .5 1.1 .5 .1 .5-3 .5 1.4 .5 3.5 .5-3.5 .5-1.6 .5-.8 .5 2.2 .5-2.3 .5-1.1 .5 .3 .5-.1 .5 4.4 .5 .8 .5-2.9 .5 2.1 .5-1.3 .5-1.6 .5 .1 .5 1.1 .5 1.3 .5-3.9 .5 .8 .5-3.5 .5 .1 .5 1 .5-4 .5-2 .5-2.6 .5 .6 .5 4.8 .5 1.4 .5-1.8 .5 .3 .5 1.1 .5-1 .5 2.8 .5 2.2 .5-2.8 .5 1.5 .5 .2 .5-.9 .5-1.3 .5 3 .5-.8 .5-3.7 .5 1.6 .5 1.3 .5-1.2 .5 2 .5 .6 .5-1.5 .5-1.2 .5-2.3 .5 2 .5 2.9 .5-2.4 .5 3.1 .5-1 .5-.5 .5 0 .5-2.9 .5 4.3 .5-1.2 .5 .8 .5 2.3 .5-.5 .5-3.4 .5 1.7 .5 2.1 .5 .2 .5-.1 .5-1.2 .5 .1 .5 3 .5-1 .5-.9 .5-1 .5-.7 .5 .6 .5 1.3 .5 .4 .5-.2 .5 .3 .5-1.8 .5 .6 .5-1.6 .5-.4 .5-2.4 .5 3.6 .5-1.3 .5-1.1 .5-.5 .5-.2 .5-3.2 .5 3.6 .5 3.6 .5-2.5 .5-.7 .5-3.1 .5 4.1 .5-.3 .5-.4 .5-6.5 .5-.3 .5 2.9 .5-.5 .5-.2 .5-6.3 .5 2.1 .5-.1 .5-2.3 .5-.1 .5-3.4 .5-1.7 .5-.9 .5 3.7 .5-.8 .5 4.1 .5 2.8 .5-3.6 .5-1.7 .5 .4 .5 .3 .5-2.6 .5-2 .5-4.4 .5 .7 .5-1.1 .5-1.1 .5 3 .5 2.6 .5-.6 .5 3.7 .5-.8 .5 .4 .5-1 .5 1.7 .5 1.6 .5-.3 .5-.7 .5-1.8 .5-5 .5 2.7 .5-.7 .5 1.2 .5-.4 .5 2.4 .5 .4 .5 3.3 .5-.3 .5 .5 .5 1.7 .5-2.2 .5-2 .5 1 .5 1.9 .5 1.4 .5-.7 .5-4 .5-3.1 .5 2.7 .5 4.7 .5-.1 .5-2.7 .5 2.2 .5 1.1 .5-4.8 .5-.6 .5 0 .5-3 .5 1.4 .5 .1 .5-3.4 .5-.5 .5-1.9 .5 1.2 .5-1.5 .5-1.5 .5 4.1 .5 .3 .5-2.8 .5 1.7 .5 3.5 .5 1.7 .5-2.6 .5-2.5 .5 .2 .5 3.1 .5-2.3 .5 1.9 .5 .9 .5 .2 .5-2.9 .5-1.4 .5 1.1 .5-1.4 .5 2.3 .5-1.8 .5 .5 .5-.4 .5 1 .5 .2 .5 .7 .5-1.1 .5 .5 .5-2.5 .5-.3 .5 3.5 .5-.9 .5-.2 .5 .3 .5 4.6 .5-2.4 .5-.8 .5 1 .5-4.1 .5 2.9 .5 3.5 .5-5.7 .5-2.3 .5 1.4 .5-.2 .5 1.5 .5-1.2 .5-1.1 .5-2.2 .5-.1 .5 4.1 .5-2.1 .5 .5 .5-6.2 .5 4.5 .5-2.7 .5 2.3 .5 6.1 .5 6.1 .5 3.1 .5-3.9 .5 5.8 .5-2.3 .5 1.7 .5-1.1 .5-2.1 .5 .4 .5-.8 .5 1.4 .5-5.9 .5 4.3 .5-3.3 .5-1.3 .5 3.3 .5-1.7 .5 .8 .5 2 .5 2.2 .5 3.5 .5-.4 .5-3.3 .5-5.4 .5-1.9 .5-5.4 .5-1.7 .5 1.8 .5 1.1 .5 1.5 .5 3.9 .5 .7 .5 3.8 .5-.9 .5 2.5 .5 4.9 .5-.1 .5-.5 .5 3.9 .5 1.7 .5-2.9 .5-2.6 .5 3.9 .5 .1 .5-1.4 .5 3.2 .5 .2 .5 1.9 .5-1 .5-.5 .5-3.2 .5 4 .5-2.8 .5 1.2 .5 1.7 .5-1.2 .5 .7 .5 2.1 .5-4.5 .5-.7 .5-2.4 .5 1.8 .5 1.2 .5-2.7 .5 3.8 .5-1.9 .5-2.9 .5 0 .5 3.9 .5-5.8 .5 2.3 .5-1.6 .5-1.3 .5 1.9 .5 1.6 .5-3.4 .5 .8 .5 2.3 .5 2.2 .5-.5 .5 2.3 .5-3 .5 2.6 .5-1.9 .5-.4 .5 .5 .5-1.6 .5-.7 .5-1.3 .5 2.9 .5-1.9 .5-1.7 .5-1 .5 .5 .5 3.4 .5 .9 .5 0 .5-.6 .5 .4 .5 4.9 .5 1.2 .5-3.3 .5 0 .5 3 .5-2.8 .5-1.7 .5-1.8 .5 2.9 .5-3.3 .5 3.9 .5-3.4 .5-.4 .5 3.2 .5-.4 .5 .3 .5 .7 .5-.6 .5 1.8 .5-3.2 .5 .6 .5-3.6 .5 2.6 .5 1.5 .5-2 .5 .7 .5 4.3 .5 0 .5-2.4 .5 2.8 .5-.1 .5-2.5 .5-1.2 .5-2.8 .5 .7 .5-.2 .5 .7 .5 3.4 .5 .6 .5-1.6 .5-1.1 .5 .5 .5 6.6 .5-5.6 .5-1.5 .5-1 .5-.6 .5 0 .5 .6 .5 2.3 .5 1.4 .5-1.2 .5-.5 .5 2 .5-2 .5 2.1 .5-.8 .5 3.6 .5-2.8 .5 .5 .5-1.2 .5 1.4 .5-.5 .5-.5 .5 .2 .5 .4 .5 .7 .5 2.9 .5-5.3 .5 4 .5-2.9 .5 .7 .5-2 .5 1.3 .5-.7 .5-1.2 .5-1.3 .5-.4 .5 .5 .5-2.4 .5 2.3 .5-1.1 .5-.9 .5-2.3 .5 1.6 .5 2.7 .5-1 .5 .8 .5 2.4 .5 .9 .5 .7 .5 1.7 .5 2.7 .5-2.7 .5-.3 .5-.2 .5 .8 .5 3 .5-1.3 .5-.6 .5-4.2 .5-.1 .5-2.8 .5-1 .5-.4 .5-4.7 .5 1.8 .5-.4 .5 1.8 .5 1.9 .5 .2 .5 3.1 .5-.5 .5 4.9 .5-1.7 .5-.4 .5 .3 .5 3.2 .5 1 .5-1.2 .5 .8 .5 2.5 .5-2.7 .5 .4 .5-1.5 .5 .1 .5 2.4 .5 3.8 .5-1.4 .5-.6 .5-2.6 .5 1.7 .5 .4 .5 .3 .5-.8 .5-4.3 .5 3.1 .5-.9 .5 .8 .5 1.7 .5-1.5 .5-2.1 .5 1.9 .5 .2 .5-1 .5 .8 .5 1.2 .5-1.2 .5-1.5 .5 1.7 .5-4.1 .5 1.2 .5-.2 .5 .9 .5-.8 .5-.3 .5-1.7 .5-1.1 .5 1.9 .5-1.9 .5 2.6 .5-3.6 .5 1 .5 1.3 .5 3.2 .5-1.6 .5 2.6 .5-1.3 .5-.7 .5 .4 .5 .6 .5 1.3 .5 2.2 .5-1.5 .5-.8 .5-3.2 .5 .4 .5-2.1 .5-2.6 .5 1.7 .5-.4 .5 1.6 .5-1.9 .5-1.5 .5 1.7 .5-2.1 .5 1.2 .5 3.4 .5-3.8 .5 2 .5-2.7 .5-.2 .5-2.8 .5 5.1 .5-3.1 .5-.9 .5 .9 .5-.3 .5-2.5 .5-2 .5 4 .5-1.6 .5 2.9 .5-4 .5-2.6 .5-2.2 .5-1.8 .5-7.1 .5-4.6 .5-7.8 .5-7.3 .5 7.8 .5 8.1 .5 4.1 .5 4.2" fill="none" stroke="#101010" stroke-width="1.5" stroke-linejoin="round" clip-path="url(#cr3)"/>
<path d="M668.7 385.1l.5-.2 .5 1.1 .5 1.6 .5-1.5 .5 .9 .5-.6 .5-.6 .5 1.5 .5-.7 .5 .1 .5 .3 .5 0 .5-.5 .5-.6 .5 1.4 .5-1.9 .5 2.2 .5-.6 .5 1.1 .5 0 .5 .1 .5 .8 .5 .2 .5 .1 .5 .1 .5 0 .5 .2 .5 .1 .5-1.2 .5 1.1 .5-2.6 .5-1.3 .5 1.4 .5 .8 .5 .9 .5-.6 .5-1.7 .5 .9 .5-1.3 .5 .6 .5-.9 .5 .3 .5-.3 .5 .7 .5-2.3 .5-.4 .5 1.7 .5 0 .5-1.2 .5-.4 .5 2.3 .5-3.5 .5 1.6 .5-1.4 .5 1.6 .5-1.3 .5-1.2 .5-.9 .5-.2 .5 .4 .5-2.6 .5 .1 .5 1.6 .5-.5 .5 .5 .5-1.2 .5-.8 .5 2.7 .5 .2 .5-.1 .5-1.1 .5 .6 .5-.7 .5-.7 .5 1.6 .5 .2 .5 0 .5-.5 .5 .4 .5-.1 .5-1.3 .5-.1 .5 1.2 .5-.6 .5-.5 .5 .4 .5-1.9 .5 1.1 .5 .4 .5-.3 .5-1.4 .5 1.8 .5-3.5 .5 1.8 .5-1.2 .5 1.8 .5 .9 .5 .3 .5-1.8 .5 0 .5 0 .5 .9 .5 1.7 .5 .5 .5-.9 .5 .4 .5-2.6 .5 2.3 .5-.2 .5-.3 .5-.8 .5 1.7 .5-1.3 .5 .1 .5-.4 .5 .5 .5-.6 .5-.4 .5 .9 .5-.7 .5-.6 .5-1.2 .5 2 .5-.8 .5 .1 .5 0 .5 .3 .5 1.1 .5 0 .5-.4 .5 1 .5-.4 .5 0 .5-.7 .5-1 .5 2.3 .5 .7 .5-.8 .5-1.4 .5 .7 .5 .4 .5 .3 .5 .4 .5 1.1 .5-1.9 .5 2.4 .5-.1 .5-.4 .5 1.9 .5-1.9 .5-.7 .5-.5 .5 1.2 .5-.7 .5 1.1 .5 .3 .5-.4 .5-1.4 .5 3.8 .5-2.3 .5-1.5 .5 4.4 .5-2.1 .5-1.5 .5 2.4 .5-1 .5 .7 .5 .4 .5-1.5 .5 .3 .5-1 .5 1.4 .5-3.2 .5 .8 .5-.1 .5 1.3 .5 1.1 .5-3.7 .5 .6 .5-.6 .5 2.6 .5 .2 .5 2.3 .5 .2 .5-5.2 .5-.2 .5 2.9 .5 .6 .5-2.6 .5 1.8 .5 .7 .5-.1 .5-1 .5 .2 .5-1 .5 .6 .5-.3 .5 3.2 .5-.2 .5-2.6 .5-1.1 .5-.3 .5 4.9 .5-2 .5 .2 .5-.4 .5 1.3 .5 .3 .5 0 .5-1.1 .5 0 .5 .6 .5 .9 .5-1.2 .5 1.7 .5 1.2 .5-4.1 .5 2 .5-.3 .5 .2 .5 1.9 .5-2.4 .5 0 .5 1.2 .5 2.2 .5-4.4 .5-.1 .5-.7 .5 1.3 .5-2.1 .5-1 .5 1.4 .5-.3 .5-.6 .5 2.4 .5-3.3 .5 4.3 .5-3.1 .5 .1 .5-1.7 .5 0 .5 2.1 .5-3.6 .5 1.1 .5 .8 .5-.3 .5-2 .5 2 .5 2.3 .5-3.8 .5 .5 .5 2 .5-.9 .5-.2 .5 1 .5 .2 .5-.7 .5-.3 .5 .8 .5-2.9 .5-1.1 .5 2 .5 0 .5-.7 .5 1.7 .5 .5 .5-1.3 .5 1.1 .5 .8 .5 2.9 .5-2.9 .5-.2 .5 .8 .5-1.4 .5-2.8 .5-.6 .5-.1 .5 3.4 .5-2 .5 2.1 .5 .8 .5-2.4 .5 .7 .5-.6 .5-.7 .5 3 .5-1.3 .5 .3 .5 1.7 .5-3.4 .5-.2 .5-1.1 .5 1.1 .5 .7 .5 0 .5 1 .5-.5 .5-1.3 .5-4.1 .5 1.2 .5-2.4 .5 1.6 .5 1.3 .5-3.2 .5-1 .5 3.2 .5 .8 .5-3.3 .5 5.2 .5-1 .5 2.6 .5 2.7 .5 .8 .5 1.2 .5-.8 .5-1.5 .5 1.9 .5-3.9 .5 2 .5-.7 .5 1.3 .5 1.2 .5 1.4 .5-2 .5-2 .5 2.4 .5-.7 .5 .5 .5 .7 .5-.1 .5-.4 .5-1.3 .5 .1 .5 3.1 .5-1.3 .5-1.1 .5-1.7 .5 3.8 .5-.6 .5-.9 .5 .3 .5 1.5 .5-1.1 .5-.4 .5 2.3 .5-.8 .5-.9 .5-1.8 .5 .2 .5 .7 .5-1.7 .5-.6 .5 5.1 .5-3.2 .5-.7 .5-1.7 .5 2.9 .5 .1 .5-1.6 .5-1 .5 6.6 .5-6.3 .5-2.5 .5 1.2 .5 1.3 .5 2.9 .5-3.5 .5-2.7 .5-1.4 .5 4.9 .5-1.9 .5 1.9 .5 3.6 .5 .4 .5-4.5 .5-.5 .5 1.2 .5-.3 .5 0 .5 1.8 .5-2.2 .5 .2 .5-.2 .5 2.8 .5-2.4 .5 .1 .5 6.8 .5 1.7 .5 .1 .5-1.3 .5-.8 .5-.1 .5 .6 .5-.2 .5 0 .5 3.5 .5-4.9 .5 .5 .5 .3 .5-.3 .5-.9 .5-.1 .5-2.3 .5 1.3 .5-1.1 .5 .4 .5 1.8 .5-2.3 .5-.1 .5-.4 .5 4.4 .5-4.7 .5-.2 .5-.9 .5 2.4 .5 3.4 .5 2.3 .5-1.2 .5-.5 .5 1.2 .5 3.6 .5 1.4 .5-.6 .5-2.7 .5-.4 .5 1.3 .5-.3 .5-6.8 .5 1.8 .5 1.6 .5 2.5 .5-3.3 .5-.9 .5-.3 .5-1.7 .5 1.1 .5-2.1 .5 .4 .5-3.2 .5-2.3 .5 4.4 .5-5.9 .5 .1 .5-.4 .5-1.4 .5 .8 .5-.9 .5 1.1 .5 3.3 .5-1.9 .5-.7 .5 2 .5 .9 .5-3.5 .5 2.2 .5-3.7 .5 4.2 .5-1.9 .5-.4 .5 .9 .5-.9 .5-1.3 .5-.3 .5 2.6 .5-4.5 .5 .2 .5 3.3 .5 1.9 .5-1.8 .5 1.2 .5-.2 .5-3.1 .5 0 .5-.1 .5-1.7 .5 4 .5-3 .5-2.2 .5 5.5 .5-3.5 .5-.7 .5 .7 .5 1.4 .5-2.2 .5-2 .5-1.2 .5 4.7 .5-3.8 .5-1.5 .5 3.2 .5-.1 .5 2.3 .5-.1 .5-2.9 .5 2.3 .5 .1 .5 2.3 .5-.1 .5 1.8 .5-4.1 .5 3.4 .5 .9 .5-3.8 .5-2.7 .5 2.4 .5 1.8 .5-.7 .5-.7 .5 .6 .5-1.2 .5 1.3 .5-1.7 .5 .1 .5 4.6 .5 .6 .5-3 .5 .5 .5 .4 .5 4 .5-1.2 .5 2.3 .5-1.6 .5-2.7 .5 3.8 .5-.9 .5-1.6 .5 1.1 .5-4 .5 1.9 .5-1 .5 .2 .5-1.3 .5 0 .5-.2 .5-.3 .5-.5 .5-.4 .5-.1 .5 .3 .5-.3 .5 .2 .5-.1 .5 .5 .5-.7 .5 .2 .5 .5 .5-.3 .5 .1 .5-.4 .5-.7 .5 .3 .5 .4 .5-.2 .5-.2 .5 .7 .5-.4 .5 .5 .5-.3 .5 .1 .5-.3 .5 .4 .5 0 .5-.7 .5 .4 .5-.9 .5 .8 .5-.1 .5 .1 .5-1 .5 .8 .5-.5 .5 .2 .5-.4 .5 .5 .5-.3 .5 .7 .5-.3 .5-.1 .5 0 .5-.3 .5-.1 .5 .3 .5-.2 .5-.1 .5-.1 .5 .1 .5-.1 .5-.8 .5 .4 .5 .5 .5 0 .5-.5 .5 0 .5 0 .5-.6 .5-.2 .5 2.3 .5-3 .5 1.1 .5 1.9 .5-.7 .5-.4 .5-.6 .5 .7 .5 .9 .5-2.9 .5 6.7 .5-.9 .5 1.2 .5 4.3 .5-2.5 .5-.5 .5-2.7 .5 1.3 .5 .4 .5-4.4 .5-.5 .5 2.8 .5-2.1 .5-.2 .5-1.9 .5 1.2 .5 4.3 .5 .8 .5-3.4 .5 2 .5-.8 .5 1.7 .5-.1 .5 .2 .5 3.7 .5 .9 .5-3 .5 1.5 .5 .7 .5-4.3 .5 2.4 .5 .3 .5-1.6 .5 3.6 .5-1.7 .5-3.1 .5 6.9 .5-4 .5 3.4 .5 .9 .5 .4 .5-3.8 .5 2.5 .5-4.2 .5 .8 .5 1.8 .5-1.6 .5 3.3 .5-4.1 .5-.8 .5-.4 .5 1.9 .5 .7 .5 .8 .5-3.7 .5 2.6 .5-.9 .5-1.9 .5-4.2 .5 4.8 .5-1.8 .5 1.8 .5 .3 .5-1.9 .5 .9 .5 .3 .5-2.5 .5 2.7 .5-1 .5 4.9 .5-2.4 .5-2.6 .5-.5 .5 1.5 .5-2.7 .5 4 .5-.5 .5 2.6 .5 .2 .5 .8 .5-.2 .5-5.9 .5 6.5 .5-6.9 .5 2.1 .5 .5 .5 2.9 .5-1.1 .5 2 .5-1.3 .5 .8 .5-2 .5 .5 .5 .2 .5-4.8 .5 .7 .5 1.1 .5-.2 .5-1.5 .5 .5 .5 0 .5-2.2 .5 1.4 .5 2 .5 1.1 .5-5 .5 4 .5 2.2 .5-.8 .5 .4 .5 2.3 .5 1.6 .5-1.5 .5-1.6 .5 3.6 .5-1.1 .5 .6 .5-4.2 .5 1.5 .5 1.3 .5 .9 .5 .4 .5-1.5 .5-1.8 .5 .9 .5-.1 .5 1.1 .5-1.3 .5 5.4 .5 .5 .5-1.4 .5-2 .5 .7 .5-4.6 .5 1.9 .5 3.6 .5 .8 .5-2 .5 2 .5 1.7 .5-.5 .5 3.6 .5-1 .5-4.5 .5 .7 .5 1.3 .5-1 .5 1.5 .5-.3 .5 .6 .5 1.2 .5-3.1 .5 1.3 .5 0 .5-.7 .5 .8 .5 1.3 .5 .5 .5-.4 .5-4.4 .5 2.9 .5 .3 .5 .5 .5-3.1 .5 .5 .5 3.6 .5 3.1 .5-.7 .5 1 .5 2.2 .5 .6 .5 3.2 .5-.5 .5 2.1 .5-2.6 .5-.6 .5 2.5 .5-3.7 .5-2.3 .5 1 .5-4.4 .5 4.7 .5-3.3 .5 .9 .5-2.4 .5-1.6 .5 0 .5-.2 .5-2.9 .5-2.7 .5 5.4 .5-5 .5 .9 .5-1.5 .5 3.2 .5 .2 .5-2.9 .5 2.8 .5-1 .5-1.9 .5-.2 .5 5.6 .5-.7 .5 .5 .5 2.9 .5-1.1 .5 1 .5 3.8 .5 .8 .5-.2 .5-1.3 .5-3.8 .5-1 .5-.6 .5 3.1 .5 .9 .5-5 .5-4 .5-2.5 .5 2.3 .5-.7 .5 3.4 .5 1.1 .5-.4 .5 3.8 .5-2 .5-2.1 .5 .3 .5 1.2 .5-.5 .5-2.7 .5-.2 .5 5.6 .5-4.3 .5-.1 .5 1.8 .5-2.1 .5 3.9 .5-1.1 .5-4.2 .5 2.1 .5-1.8 .5 2.4 .5-4.1 .5 3.9 .5-1.8 .5-5 .5-.1 .5 4 .5-.3 .5 0 .5 6.9 .5-2.9 .5-.1 .5-1.3 .5 1.5 .5-1.4 .5-3.2 .5 1.7 .5-3.7 .5-1 .5-4.1 .5 .5 .5 2.5 .5 3.2 .5-3.6 .5-1.6 .5 4 .5-3.4 .5 .9 .5 .8 .5-.1 .5 2.5 .5-4.8 .5 6.1 .5-2.5 .5 1 .5 2.1 .5 .2 .5-2.4 .5 5.4 .5-1.1 .5 1 .5 6.4 .5 1.8 .5 .4 .5 2.5 .5-7.6 .5 .7 .5-5.6 .5-1.1 .5-1.1 .5 5.9 .5-4.3 .5 3.3 .5-1.5 .5 4.7 .5-3.8 .5 .8 .5-6 .5-2.1 .5 3.5" fill="none" stroke="#2828ff" stroke-width="0.9" stroke-linejoin="round" clip-path="url(#cr4)"/>
<path d="M668.7 381.3l.5 .6 .5-.9 .5 2.6 .5-1.1 .5-.5 .5 2.2 .5-2.4 .5 2.4 .5-.4 .5-.7 .5 .6 .5-.7 .5 1.9 .5-.1 .5-.1 .5-.9 .5-.5 .5 1.6 .5-1.5 .5 .5 .5 .1 .5 1.6 .5-.3 .5-.1 .5 .6 .5 .1 .5-2 .5-.1 .5 .6 .5 .4 .5 .1 .5 1 .5-2 .5 .2 .5 .2 .5 2.3 .5-2.8 .5-.9 .5 .3 .5-2 .5 1.2 .5 .7 .5 1.9 .5-2.9 .5 .7 .5 .2 .5-.3 .5-.2 .5 .5 .5 .2 .5 .5 .5 .4 .5-2.4 .5-2.2 .5 1.1 .5-1.8 .5-.2 .5-.5 .5 .2 .5-1 .5-.2 .5-1.1 .5-.1 .5-.4 .5-.9 .5 2.2 .5-3.3 .5 .8 .5 2.2 .5-.6 .5-1 .5-.7 .5 .4 .5 2.3 .5-1.9 .5-.2 .5 1.3 .5-.7 .5 1.9 .5-.6 .5-.4 .5-.8 .5-1.2 .5 1.1 .5 .3 .5-.4 .5 2.4 .5-1.8 .5-2.1 .5 3.3 .5-2.2 .5 1.5 .5-.7 .5-.7 .5-1.3 .5 1.1 .5 .8 .5-1.1 .5 0 .5 .8 .5 .6 .5 .3 .5 .4 .5-2.4 .5 1.7 .5 .7 .5 .4 .5-.5 .5 .3 .5 .3 .5 .5 .5-.5 .5-3 .5 4.3 .5-2.8 .5-1 .5 1.3 .5 .4 .5 1.8 .5-.5 .5-1.3 .5 .7 .5 .7 .5-1.7 .5-.2 .5 .4 .5 1.1 .5-.7 .5 .6 .5 .8 .5-2.1 .5 2.4 .5 .5 .5 .2 .5-.9 .5 1.7 .5-2.5 .5 1 .5-.8 .5 1 .5 1.4 .5-.4 .5 .6 .5 1.2 .5 .3 .5-.9 .5 .7 .5 1 .5-1.6 .5-1 .5 1.2 .5 2.7 .5-1.3 .5-1.3 .5 1 .5 .5 .5 .7 .5-3.4 .5 .1 .5-4.2 .5 4.6 .5 1.4 .5-2.2 .5 4.4 .5-1.3 .5-3 .5 3.1 .5 .3 .5-3.2 .5-4.5 .5 3.6 .5 .3 .5 2.2 .5-.4 .5-2 .5 3.3 .5-1.4 .5-1.8 .5-.7 .5-.5 .5 1.3 .5-3.4 .5 3.9 .5-2.9 .5 .4 .5-2.3 .5 2.9 .5 2.2 .5-.6 .5-2.5 .5-1.5 .5-2.6 .5 4.3 .5 .2 .5 1.1 .5 2.5 .5-5.1 .5-1.2 .5-.7 .5 1.2 .5 2.3 .5-.9 .5 2.7 .5-2.4 .5 2.2 .5-.6 .5 1.9 .5-.8 .5-.5 .5-1.8 .5-1.4 .5 2.9 .5-3 .5 3.1 .5 0 .5-3 .5-2.8 .5 .9 .5-4.8 .5 3 .5 2.3 .5-2.9 .5 1 .5-.2 .5-1.1 .5 2.2 .5 1.2 .5-.9 .5 .7 .5 1.3 .5 1.5 .5-6.5 .5 4.1 .5 .7 .5 2.5 .5-3 .5 2.3 .5 1.6 .5-4.1 .5 1 .5 1.5 .5-.1 .5 .3 .5 1.6 .5-.8 .5-2.9 .5 1.5 .5 2.4 .5 1.5 .5-4.6 .5 .1 .5 6.3 .5-3.9 .5 2.7 .5-4.1 .5-.4 .5-.3 .5 2.6 .5-2.4 .5-1 .5-1 .5 3.5 .5-3.7 .5 .4 .5-3.2 .5 2.1 .5 2.9 .5-2.7 .5 1.8 .5 1 .5-1.8 .5 2 .5-3.1 .5-4.3 .5 3.8 .5-2.9 .5 2.2 .5-.6 .5-2.3 .5 6 .5-1 .5-3.4 .5 3 .5 1.2 .5-1.5 .5-1.2 .5 .6 .5-.7 .5-4.4 .5 4.8 .5-3.4 .5 .6 .5-2 .5 1 .5 3.4 .5 3.2 .5-2.9 .5-1.9 .5 .1 .5 1.7 .5-2.6 .5 5.3 .5 3.2 .5-4.9 .5 4.8 .5 1.9 .5 5.1 .5 6.5 .5 3 .5-3.9 .5-5.6 .5-4.6 .5-.5 .5-3.2 .5 .9 .5 2.6 .5-1 .5 1.3 .5-2.7 .5 2.6 .5-1.5 .5 1.2 .5-1.4 .5 3 .5-4.5 .5-1.3 .5 2.9 .5-2.5 .5 1.9 .5 0 .5-1.2 .5 1.6 .5 2 .5-2 .5-2 .5 2.8 .5-7.1 .5 6.7 .5 1.4 .5-2.2 .5 1.4 .5-4.1 .5 1 .5 3.6 .5-.1 .5-1.6 .5 .1 .5-1.4 .5 3.9 .5-4.3 .5-.7 .5 1.6 .5 3.1 .5-1 .5-.5 .5-1.4 .5 2.5 .5-1 .5-3.8 .5 2 .5-1.1 .5-.6 .5 .4 .5 2 .5 5.5 .5-4.8 .5 .3 .5 .3 .5-2.6 .5-1.5 .5-2.7 .5 2.1 .5-.2 .5 .4 .5-1.4 .5 2.4 .5-2.1 .5 1 .5 .3 .5 6.9 .5-5.1 .5 3.1 .5 1.4 .5-4.2 .5 .2 .5 1.7 .5 3.5 .5-2 .5 2.2 .5 2.7 .5 .1 .5 2.2 .5-4.4 .5 2.1 .5-1.3 .5 1.8 .5-3.4 .5 2.2 .5-3.9 .5 1.5 .5-4.2 .5 4.2 .5-2.8 .5 4.3 .5-1.9 .5-.6 .5 1.4 .5-.2 .5-2.2 .5 .7 .5-1.6 .5 2.2 .5-1.4 .5 2.9 .5 2 .5-2.8 .5 4 .5-7.3 .5 3.1 .5 4.5 .5-.8 .5 1.5 .5-2.3 .5 1.6 .5-2.8 .5-1.5 .5-2.6 .5 5.4 .5-2.9 .5-3.5 .5 .8 .5 2.6 .5 3.3 .5-.9 .5-5.1 .5 2.8 .5-4.9 .5 4.7 .5 2.2 .5-3.6 .5 3.3 .5 6.5 .5-1.1 .5-.2 .5-4.5 .5-2.6 .5 12.4 .5-6.9 .5 6.4 .5 .1 .5 5.6 .5-8 .5 4.8 .5 1.7 .5-4.8 .5 12.5 .5-9.4 .5-.8 .5-6.7 .5 3.9 .5-6.8 .5 5 .5-9.3 .5-1.2 .5 10.9 .5 .4 .5-6.3 .5 3.9 .5 .7 .5-3.3 .5 1.5 .5 3.4 .5-10 .5 6.9 .5 7 .5-4.8 .5 2.7 .5 .8 .5-7 .5-5.7 .5 8.3 .5-5 .5 4.8 .5-5.3 .5 2.5 .5 .5 .5 1.2 .5-.9 .5 .7 .5-8 .5 2.8 .5-.6 .5-5 .5 4.5 .5 2.9 .5 2.4 .5 3.5 .5-12.9 .5 5.4 .5-4.6 .5 6 .5-5.3 .5 .7 .5-3.7 .5 4.6 .5 15.7 .5-4.3 .5-5.4 .5 1.3 .5 .3 .5-.5 .5-8.1 .5 4.2 .5 3.2 .5 3.1 .5 1.7 .5-7.9 .5 3 .5-9.4 .5 9.3 .5-2.4 .5-12.1 .5 7 .5 5.9 .5 0 .5-13.1 .5 5.6 .5-2.5 .5-.6 .5 3.1 .5-1.1 .5 0 .5 .1 .5 .1 .5-.6 .5 .3 .5 0 .5 0 .5-.3 .5-.6 .5 1.3 .5-1 .5 .1 .5 .1 .5 .1 .5 .1 .5-.2 .5-.4 .5 .5 .5-.5 .5-.3 .5-.7 .5 .5 .5-.1 .5-.6 .5 .5 .5-.1 .5-.2 .5-.5 .5-.8 .5 .4 .5 0 .5-.1 .5-.2 .5 .1 .5 .3 .5-.2 .5-.2 .5-.4 .5-.5 .5 0 .5-.3 .5 .3 .5 .3 .5-.7 .5-.2 .5-.6 .5 .2 .5-.9 .5-.5 .5-.4 .5 0 .5-.3 .5-.4 .5-.7 .5 .2 .5-.7 .5-.3 .5-.1 .5-1 .5-.2 .5-.7 .5 1.6 .5 0 .5 1.3 .5-3 .5-.8 .5-3 .5 4 .5-2.1 .5 2 .5 4.4 .5-5.8 .5 2.2 .5-.6 .5-2.8 .5 4.1 .5-1.8 .5-.4 .5-1.2 .5-5.4 .5 4.2 .5-3.3 .5 1.3 .5 .1 .5 2.2 .5 8.5 .5-7.5 .5 .1 .5 5.2 .5-.5 .5-2.1 .5-2 .5 6.4 .5-.3 .5-1.8 .5 4.3 .5-.5 .5 1.3 .5-5.8 .5 4.1 .5 .8 .5-5 .5 5.5 .5 0 .5 .2 .5-.3 .5 2.7 .5 1.9 .5 2.2 .5-3.4 .5 .6 .5 2.5 .5 .5 .5 .4 .5-2.6 .5-.1 .5-5.3 .5 1.9 .5 4.6 .5-1.7 .5 1.4 .5-.4 .5 2.4 .5-1.5 .5-1.6 .5 1.1 .5-.8 .5-2.3 .5-3.5 .5 4.9 .5-.5 .5 1.8 .5-2.3 .5 3.3 .5-2.1 .5-1.5 .5 1.7 .5 0 .5 1.6 .5-1.3 .5-1.5 .5-.2 .5 5.4 .5-1.5 .5 0 .5-6.9 .5 .6 .5 3.8 .5-3.8 .5-1.1 .5 3.2 .5-3.6 .5 4.6 .5 1.4 .5-.8 .5-4.1 .5 1.8 .5-3.9 .5 5.2 .5-2.3 .5-.5 .5-.7 .5 4.2 .5-7.5 .5 8.5 .5-2 .5-6.5 .5 1.8 .5 3.8 .5-.2 .5 1.3 .5-1 .5-.8 .5-4.5 .5 5.4 .5 6.8 .5-3 .5 3.9 .5-2.1 .5 2.1 .5-5 .5 6.8 .5-1.3 .5-4.1 .5 1.9 .5 .8 .5 .5 .5 .1 .5-5.6 .5-.8 .5 .8 .5-1.7 .5-3.2 .5 3.6 .5-2.1 .5-3.5 .5 7.4 .5 .7 .5 4.9 .5 .5 .5-5.6 .5 .9 .5 2.8 .5-1.9 .5-3.1 .5 1 .5-.5 .5-.2 .5 .1 .5-.6 .5-1.1 .5 4.8 .5-.8 .5-1.1 .5-4 .5-3.6 .5-1.4 .5 .4 .5 4.9 .5 .4 .5-1.3 .5 4.1 .5-.6 .5-6.5 .5 3.7 .5 1.7 .5 2.6 .5-2.1 .5-1.2 .5-.2 .5 3.2 .5-3.5 .5-1.8 .5-2.8 .5 2.1 .5 2.6 .5-2 .5 .2 .5-2.8 .5 .9 .5 .2 .5 1 .5 1.2 .5-1.1 .5-2 .5-4.7 .5-1.7 .5 3.2 .5-5.2 .5-2.1 .5-2.8 .5 4.1 .5 3.8 .5-.1 .5 .1 .5 2.7 .5 5.8 .5-2.9 .5 .2 .5-2.5 .5 6.3 .5 1 .5-.9 .5-.8 .5 2.1 .5-.2 .5-2.4 .5 2.4 .5-1 .5 5.6 .5-.3 .5-.6 .5 5.8 .5-2.9 .5 1.6 .5 3.4 .5-.4 .5-2.5 .5-1.2 .5-1.2 .5-4 .5-3.5 .5-4.4 .5 1.8 .5-7.2 .5-4.1 .5 0 .5-4.3 .5-3.4 .5 2.1 .5 2.2 .5 1.6 .5 .3 .5-.5 .5-.8 .5-.1 .5-.5 .5 2.4 .5-5.8 .5-1.7 .5 6.7 .5-9.9 .5-4.9 .5 4.1 .5 .3 .5 2.4 .5-.6 .5 4.3 .5-2.5 .5-8.6 .5 8.1 .5 .2 .5 4.6 .5-7.3 .5 5.2 .5-1.9 .5 .6 .5 1.2 .5-3.5 .5 1.4 .5 1.1 .5-1 .5 3.3 .5-7.1 .5 3.6 .5-3.1 .5-2.1 .5-2.1 .5 8.4 .5-3 .5-5.4 .5 1.3 .5 2.9 .5 4.9 .5-4.3 .5 8.7 .5-1.1 .5 .8 .5-1 .5-1 .5-.3 .5 5.1 .5-6 .5 .6 .5-1 .5 6 .5-1.1 .5 2 .5 3.8 .5 1.5 .5-6.4 .5-4.3 .5 .1 .5 .2 .5 4.1 .5-3.1 .5 .8 .5-1.9 .5 1.1 .5-3.6 .5-2.2 .5-1.7 .5-3.8 .5 .3 .5-4.6 .5 3.1 .5-4.6 .5 2.5 .5-.7 .5 4.9 .5 5 .5-1 .5 5.4 .5 .6 .5-3.5 .5 2.2 .5-2.4" fill="none" stroke="#00ff00" stroke-width="0.9" stroke-linejoin="round" clip-path="url(#cr4)"/>
<path d="M668.7 393.2l.5 1 .5-.2 .5 1 .5-.3 .5-.1 .5 1 .5-2 .5 2.5 .5 .4 .5-2.5 .5 1.5 .5-.5 .5 3 .5 1.6 .5-5.1 .5 2.1 .5 .3 .5 1.2 .5-1.5 .5-.7 .5 3 .5-1.5 .5 2.5 .5-1.1 .5-2 .5 4.2 .5 1 .5-1.2 .5-.8 .5 .6 .5 1.6 .5-4 .5 3.4 .5-.3 .5-.1 .5 1.3 .5-2.7 .5 .3 .5 1.4 .5-2.7 .5 1.9 .5 .3 .5-2 .5 1.5 .5-.2 .5-3.7 .5 1.5 .5 .9 .5-3.6 .5 .8 .5-3.6 .5 .9 .5 .1 .5 1.2 .5-2.5 .5 1.2 .5-3.1 .5-1.1 .5 .1 .5 .7 .5 1.7 .5-1.1 .5-.6 .5-1.4 .5-.2 .5-3.3 .5-2.1 .5 2.2 .5-.1 .5 .6 .5 3.3 .5-2.3 .5-2 .5 2.9 .5-.9 .5 1.8 .5-1.2 .5 0 .5 .4 .5-1.8 .5 .4 .5 1.9 .5 1.2 .5-2.6 .5 1.8 .5 .7 .5 1.4 .5 .2 .5 .2 .5-2.3 .5-1 .5 2.5 .5-2.3 .5 2.7 .5-2.6 .5 1.8 .5 1 .5-.4 .5-.7 .5-3.2 .5-.5 .5 .3 .5 2.1 .5-1.6 .5 1.7 .5 1 .5 0 .5 .5 .5-2.3 .5 .5 .5 1.3 .5-.4 .5-.4 .5 0 .5 0 .5-.5 .5-.5 .5 3.7 .5-1.1 .5-.4 .5 .2 .5-.7 .5 3.4 .5-3.6 .5-.7 .5 1.8 .5-.1 .5-.9 .5 .1 .5 .3 .5-.1 .5 0 .5 2.3 .5-.6 .5 2.2 .5 .2 .5 .5 .5-.2 .5-1 .5 1.7 .5 2 .5-1.7 .5-.9 .5-.5 .5-1.9 .5 1.4 .5-.6 .5 1.1 .5 2.8 .5-3.5 .5-.5 .5 1.3 .5 6.6 .5-4.7 .5 4.4 .5 .8 .5-1.6 .5-3.4 .5 3.5 .5-2.2 .5-3.5 .5-5.7 .5-1.4 .5 3.5 .5-8.9 .5 6.7 .5 5.1 .5-2.3 .5 6.4 .5-7.9 .5 3.7 .5-.3 .5-1 .5-2.8 .5-5.6 .5-.1 .5 5.5 .5 15.4 .5-11 .5-.7 .5-2.9 .5-1.1 .5 5.4 .5-3.4 .5-3.8 .5-2.4 .5 6.8 .5 4.7 .5-7.3 .5-2.6 .5 11.7 .5 .2 .5-12.2 .5-2.5 .5 2.2 .5 2.2 .5-.3 .5 4.6 .5-10.3 .5 2.7 .5-2.3 .5 9.6 .5 4.1 .5-8.9 .5-8.8 .5 10.3 .5-4.5 .5-1.6 .5-2.4 .5 3.8 .5-4.6 .5-3.3 .5 .3 .5 5 .5 5.5 .5 5.4 .5-9 .5-1.6 .5 2.9 .5-.4 .5-.4 .5-1.2 .5 1.4 .5 .8 .5-3.5 .5-2.5 .5 7.5 .5-.1 .5-10.3 .5 3.8 .5 .9 .5-1.9 .5-3.6 .5 5.3 .5 .4 .5-2.7 .5 2.1 .5 17.8 .5-10.3 .5-1.1 .5-6.6 .5 8.2 .5-5.8 .5 12.3 .5-6.4 .5-5.9 .5-9.4 .5 13 .5-1.8 .5 2.2 .5 1.7 .5-5.5 .5-2.3 .5 1.5 .5 3 .5 3.5 .5-9.5 .5 4.4 .5 5.3 .5-6 .5 2.1 .5-1.2 .5 7.4 .5-8.7 .5-11.1 .5 9 .5 4.4 .5-10 .5 4.4 .5-1.7 .5 2.8 .5 1.1 .5 11.4 .5-8.6 .5 2 .5-3 .5-2.1 .5 9.2 .5-11.1 .5 5.9 .5 1.7 .5-1.1 .5 7.1 .5-12.7 .5 2.5 .5 4.5 .5-1.1 .5-3.2 .5 12.9 .5-11.6 .5 7.9 .5-13.9 .5 1.1 .5 4 .5-6.6 .5 1.2 .5 6.2 .5 2.2 .5 2 .5-3 .5 2.5 .5-18.9 .5 11.2 .5-2.6 .5 1.3 .5-7.2 .5 5.6 .5-27.6 .5 34.3 .5-14.6 .5 10.1 .5 .6 .5 6.8 .5-9.4 .5 5.7 .5 8.6 .5-10.7 .5 5.6 .5 1.9 .5-7.5 .5 12.3 .5-6.9 .5-1 .5-1 .5 6 .5-2.3 .5 4.1 .5 1.7 .5-4.2 .5-5.1 .5 4.2 .5 .4 .5-1.3 .5 6.2 .5-12.9 .5 7.3 .5-4.3 .5-.9 .5-1.2 .5 8.1 .5 2.5 .5 1.1 .5-13.3 .5 12.4 .5-4.2 .5-2.4 .5 2.2 .5-.3 .5-2.4 .5-4.5 .5 5.2 .5-2.4 .5 4.2 .5-4.5 .5 4.8 .5 .6 .5-1.2 .5-9.8 .5 4.6 .5 .6 .5-1.2 .5 .3 .5 5.5 .5-.2 .5 5.9 .5-6.3 .5 9.6 .5-13.3 .5 2.9 .5 1.8 .5 1.1 .5-10.4 .5 4.2 .5 .2 .5 1.2 .5 4.8 .5-4.8 .5-5.6 .5 14.4 .5-6.6 .5-4.8 .5 5.1 .5 .6 .5 8.7 .5-6.3 .5-1.5 .5 .2 .5 2.9 .5 5 .5 2 .5-2.5 .5 1.4 .5 6.2 .5-12.4 .5 2.1 .5-1.2 .5-2.7 .5 5.8 .5-2.4 .5-6.5 .5 3.1 .5 5.6 .5-6.4 .5-.7 .5 .6 .5-4.3 .5 6.7 .5-11.7 .5 7.2 .5 .4 .5-4.9 .5 5.7 .5 5.7 .5 4.1 .5 1.7 .5-9.3 .5 5.6 .5 1.4 .5-.1 .5-1.2 .5 6.2 .5-9.3 .5 .9 .5 7.2 .5-3.8 .5-11.7 .5 4.4 .5 4.6 .5 7.8 .5-7.3 .5-2.8 .5-3.1 .5 1.6 .5 7.6 .5-13.6 .5 3.8 .5-7.9 .5 11.1 .5-6.8 .5-9.8 .5 3.9 .5 .1 .5-2.2 .5 7.5 .5-.5 .5 7.2 .5-5 .5 3.7 .5-3.6 .5-7.2 .5 10.2 .5 2.2 .5-2.4 .5-4.4 .5 10.5 .5-13 .5-4.1 .5 10.6 .5-11.5 .5 9.2 .5-5.3 .5 4.9 .5 7 .5-10.1 .5-2.8 .5 4.4 .5 1.9 .5-12.3 .5 7.8 .5 4.6 .5 .7 .5 3.4 .5 5.7 .5-7.2 .5-5.2 .5 1.6 .5-.4 .5 2 .5 1 .5-9.1 .5 6.8 .5-8.7 .5 6.5 .5 .2 .5 5.6 .5-7.2 .5 10.2 .5-14.1 .5 1.5 .5 3.2 .5 6 .5-1.2 .5-3.3 .5 5.3 .5 3.5 .5-10.5 .5 5.2 .5-2.4 .5 .8 .5-3.4 .5 6.9 .5-8.5 .5 .8 .5 6.1 .5-3.8 .5-3.3 .5 7.3 .5 5.9 .5-1.1 .5-2.4 .5-13.2 .5 6.2 .5 8.8 .5-8.1 .5 2.6 .5 .8 .5 1 .5-2 .5-2.2 .5 1.6 .5 .7 .5 4.1 .5-.8 .5 4.2 .5-6.5 .5-7 .5 6 .5-7.3 .5 1 .5-4.1 .5 2 .5 .1 .5 0 .5 .1 .5-.1 .5-.5 .5 0 .5 .3 .5 .3 .5 .2 .5-.2 .5-.5 .5 .1 .5 .3 .5-.4 .5 .1 .5-.4 .5 .2 .5-.1 .5 .3 .5-.8 .5-.8 .5 0 .5 .1 .5 .3 .5 0 .5 .1 .5-.2 .5-.5 .5 .1 .5-.3 .5 .3 .5 .1 .5-.6 .5-.3 .5 .1 .5-.1 .5 .3 .5-.5 .5 .1 .5-.2 .5 .3 .5-.1 .5-.3 .5-.3 .5 .4 .5-.6 .5-.3 .5-.4 .5-.6 .5-.3 .5 .4 .5-.8 .5-.9 .5-.3 .5-.1 .5-.5 .5 .6 .5-1 .5-.2 .5 0 .5 .4 .5 .8 .5-1.2 .5 1.4 .5-4.7 .5 5.2 .5-1 .5 1.4 .5-2 .5 1.5 .5-.3 .5-.2 .5 2.8 .5-3.6 .5 5.9 .5-2 .5-.8 .5 2.7 .5-1.7 .5 5.3 .5-.9 .5-8.1 .5 2.7 .5-.4 .5 4.3 .5 .5 .5-2.3 .5 2.7 .5-1.7 .5 1.4 .5 1.6 .5 3.7 .5-2.1 .5-5.1 .5 3.8 .5 3.6 .5 5.4 .5-1.4 .5-6.7 .5-1.9 .5 4 .5-1.3 .5 4.6 .5-3.7 .5 1.6 .5-2.5 .5-1.3 .5 1.8 .5 6.1 .5-11 .5 14.2 .5-8.6 .5 4 .5-8.9 .5 5.3 .5 1.6 .5 1 .5-5.7 .5 5.1 .5-1.9 .5-1.4 .5 6.3 .5 3.5 .5-7.9 .5 4.5 .5-6.8 .5 7.5 .5-9 .5 3.6 .5 5.3 .5-6 .5 5.5 .5-4.9 .5 1.3 .5 .5 .5-.3 .5 1 .5-4.6 .5 9.1 .5 0 .5 2.2 .5-2.8 .5 .1 .5-3.4 .5 2.2 .5 .3 .5 6 .5-1 .5-3.6 .5-1.7 .5 .5 .5-3.5 .5 4.1 .5-.1 .5-1.1 .5-3.2 .5-.2 .5-5.8 .5 1.9 .5 5.2 .5-6.8 .5 5.3 .5 4.3 .5-4.4 .5 1.2 .5-7.6 .5 7.6 .5-2.1 .5 .3 .5 1.5 .5-4.5 .5 5.5 .5 2.2 .5-1.6 .5-5.9 .5 2 .5-1.9 .5 3.2 .5-.6 .5 1.2 .5-1.4 .5 5.2 .5-4.5 .5-1.7 .5 2.2 .5-3.8 .5 2.8 .5 6.5 .5-4 .5-7.1 .5-1.2 .5 4.4 .5 7.9 .5-1.5 .5-4.3 .5-1.3 .5 3.4 .5-1.8 .5 7.8 .5-5.1 .5-.6 .5-2.2 .5 1.7 .5 2.2 .5-.3 .5 4.2 .5-4.4 .5 3.4 .5-1.4 .5-1 .5-1.4 .5-.4 .5 1.9 .5 1.2 .5-.3 .5 1.1 .5-3.1 .5-1.1 .5-.4 .5-2.2 .5 4.6 .5-.6 .5-1.3 .5-.7 .5-1.9 .5-.3 .5-2.9 .5 3.5 .5 4.4 .5-2.3 .5 3.6 .5 .3 .5-2.7 .5 .4 .5-4.4 .5 9.7 .5-6.7 .5 1.4 .5-2.6 .5-2.2 .5 2 .5 5.9 .5-.9 .5-.2 .5 8.3 .5-2.2 .5 1.1 .5-1.4 .5-3 .5-10.7 .5-4.1 .5-2 .5 3.2 .5 .7 .5-2.3 .5 6.9 .5 4.4 .5-4.5 .5-.2 .5 2.2 .5-1 .5-1.8 .5-.3 .5-1.9 .5 1.8 .5-.7 .5 8.6 .5-3.9 .5-10.5 .5 .1 .5 2.5 .5 5.1 .5 2 .5-5.4 .5 1.6 .5 7 .5-3.9 .5 7.2 .5-4.5 .5-3.1 .5 1.1 .5 1.1 .5 1.7 .5 6.9 .5-6.1 .5-5 .5-1.3 .5 2.1 .5-2.2 .5 .9 .5-7.1 .5 1.6 .5-1.5 .5 2.5 .5 2 .5-.6 .5-4 .5-1.4 .5 3.6 .5-2.3 .5-1.5 .5 1.2 .5-2.9 .5-4.8 .5 6.1 .5-5.7 .5 5.7 .5 1.3 .5 0 .5-4.6 .5 1.8 .5 4 .5-7 .5 1.2 .5-5 .5 3.8 .5-2.6 .5 2.1 .5-.3 .5-2.1 .5 .3 .5 1.5 .5-3 .5 6.9 .5-4.8 .5 4.5 .5-2.1 .5-1.9 .5 4.3 .5-11.2 .5 10 .5-5.5 .5 3.4 .5-4.7 .5 2.4 .5 2 .5-13 .5 8.1 .5 3.8 .5 6.8 .5-4.1 .5-7.3 .5 2.9 .5-4 .5 10 .5 2.3 .5-6.6 .5-1.2 .5 .5 .5 1.1 .5 0 .5 2.3 .5 1.4 .5-.5 .5 3.7 .5 .9 .5 8.8 .5-12.1 .5-2.1 .5 2.6 .5-1.3 .5-2.6 .5-2.8 .5 1.2 .5 3.2 .5-.4 .5-3.3 .5-2.8 .5-3.1 .5 7.4 .5 6.4 .5-5.4 .5 1.1 .5 10.7 .5 5.7 .5-.5 .5 3" fill="none" stroke="#ff1010" stroke-width="0.9" stroke-linejoin="round" clip-path="url(#cr4)"/>
<path d="M668.7 452.2l.5 1.2 .4-1.3 .5-.6 .4 .4 .5-1.1 .4 2.9 .5-2.7 .4 .3 .5 2.6 .4-2.1 .5 .2 .4 0 .5-.6 .4 1.7 .5 1.3 .4-2 .5 .4 .4 .2 .5-.5 .4 .8 .5 1.3 .4 .8 .5-1.2 .4-.7 .5-.1 .4-.6 .5-.6 .4 .2 .5 .8 .4-1 .5 .1 .4 2.6 .5-.6 .4 .6 .5-.3 .4-2 .5-.1 .4 1.4 .5 2.2 .4-.5 .5-1.8 .4 0 .5-1.2 .4 1.9 .5-1.3 .4-.4 .5-.1 .4 .4 .5-.4 .4 3.4 .5-3.1 .4 .7 .5 .6 .4-.8 .5-1.9 .4 1.9 .5-2.7 .4 .7 .5 .5 .4 0 .5 .9 .4-2.3 .5 .9 .4-.2 .5 0 .4-.8 .5 .1 .4 .7 .5 1 .4-3.2 .5 1.4 .4-1 .5-2 .4 1.6 .5 .5 .4 .4 .5-.8 .4 1 .5 .9 .4-3.2 .5 1.4 .4 .6 .5-1.4 .4 2.2 .5 .6 .4-1.9 .5 .4 .4 1.8 .5-1 .4 .9 .5-2.5 .4 .4 .5 1 .4 1.5 .5-1.2 .4 0 .5-1.5 .4 .4 .5-1.2 .4 2.7 .5-1 .4-.4 .5-1.9 .4 2.4 .5-.6 .4-.8 .5-.7 .4 .6 .5 .8 .4 .4 .5 1 .4-1.6 .5 .6 .4 0 .5-.4 .4-.6 .5 .2 .4-.1 .5 .1 .4 .9 .5-1 .4 .6 .5-1.1 .4 .4 .5-.7 .4 1.4 .5-2.7 .4 1.9 .5 1.1 .4-.1 .5-.6 .4-1.2 .5 2.8 .4-.7 .5-1.8 .4 .8 .5 0 .4 1.1 .5-.5 .4-.1 .5 1.6 .4-.9 .5 .7 .4-1.2 .5 .9 .4-.2 .5 0 .4-.9 .5 2.8 .4-2.8 .5 2 .4-1.2 .5-.6 .4 .1 .5 1.3 .4-.6 .5 2.2 .4-1.2 .5 .3 .4-.2 .5-.2 .4-.3 .5 1.9 .4-.2 .5-.1 .4 1.5 .5-.9 .4 .4 .5-.1 .4 .3 .5 .3 .4-1 .5-1.1 .4 .7 .5 .2 .4-2.3 .5 5.3 .4 1.2 .5-2.4 .4-1.3 .5-2.1 .4 3.1 .5-3.1 .4 1.5 .5-3.1 .4 1.6 .5-3.5 .4 .7 .5 3.5 .4-5 .5 2.1 .4 2.6 .5-1.2 .4-1.8 .5-.1 .4 2.4 .5 1.2 .4-1.3 .5-2.8 .4 1.3 .5 1.4 .4-1 .5-.5 .4 1.4 .5-2.8 .4 .5 .5-2.1 .4 1.3 .5 2.2 .4 .2 .5 1.3 .4 2.2 .5-3.4 .4 .4 .5 1 .4-1 .5-1.1 .4-.7 .5 2.1 .4 2.9 .5 1.1 .4-4.5 .5 2.4 .4-.2 .5-1.5 .4-2.2 .5 2.3 .4 3.7 .5-5.3 .4 7.6 .5-4.2 .4-4 .5 4.2 .4-2.8 .5-.2 .4 4.7 .5-6.5 .4-.4 .5 3.8 .4 1 .5-7.3 .4 3.9 .5 2.4 .4-5.6 .5 1.5 .4-.5 .5-1.4 .4 3 .5-1.3 .4-4 .5 3.9 .4 .7 .5 2.5 .4-1.3 .5 0 .4 .2 .5-.3 .4 .5 .5-.3 .4-2.1 .5 1 .4 .1 .5-.3 .4 2.6 .5-2.5 .4-.3 .5 1 .4 5.5 .5-1.9 .4-1.3 .5 1.5 .4-.8 .5 .1 .4 .1 .5 1.3 .4-5.7 .5 5.1 .4 4.6 .5-1.2 .4-3.7 .5-.4 .4 2.2 .5-2.3 .4-3.3 .5 5.5 .4-2.3 .5-.5 .4 .9 .5-3.6 .4 3 .5-.5 .4-3.1 .5-.2 .4 .7 .5 5.8 .4-3.3 .5 2 .4 2.1 .5-6.5 .4 1.8 .5-.4 .4 2.5 .5-4.7 .4 3.5 .5-1.2 .4-2.3 .5 2.3 .4-1.2 .5-1.3 .4-.6 .5-2.2 .4 6.8 .5-2.8 .4 .4 .5-.7 .4-5.3 .5 7.1 .4-.9 .5 2.3 .4-3.8 .5-5.4 .4 3.1 .5-.2 .4-.8 .5 .3 .4 4.2 .5-2.6 .4 2.9 .5 .8 .4 .4 .5-4 .4 5 .5 0 .4 .2 .5-2.1 .4 2.1 .5-1.2 .4 2.4 .5-2.1 .4 .1 .5 6.2 .4-2.8 .5 .7 .4-.3 .5-4.5 .4 4.5 .5-2.3 .4 4.1 .5-.8 .4-2.5 .5 2.8 .4-5.5 .5 3.5 .4-2.7 .5-2.1 .4 2.6 .5-4 .4 2.8 .5 1.2 .4 0 .5-.3 .4-.7 .5 .7 .4-1 .5 1.4 .4-3.4 .5 3.4 .4-1.5 .5 3.4 .4 1.2 .5-3.5 .4 1.6 .5-2.4 .4 1.4 .5 .1 .4-1.2 .5 1 .4 .3 .5 1.3 .4-1.5 .5-1.1 .4-1.3 .5 4.9 .4 .2 .5-4.8 .4 1.1 .5 1.9 .4-4.5 .5 .7 .4 5.8 .5-1.3 .4 1 .5 .7 .4-7.8 .5 4 .4 3.5 .5-.8 .4 .7 .5-2.6 .4 1.1 .5-2.3 .4 .5 .5-1.5 .4-.4 .5 1.8 .4-4.4 .5 2.6 .4-2.5 .5 2 .4-2.5 .5 .4 .4 6.7 .5-1.2 .4-4.6 .5 5.1 .4-.8 .5-1.3 .4 .5 .5-2.3 .4-1.5 .5 3 .4 1.7 .5 2.7 .4-.3 .5 .9 .4 1.2 .5-5.7 .4 .7 .5-4.7 .4 8.7 .5-6 .4-3.6 .5 8.7 .4-2.7 .5 0 .4-.9 .5 1.6 .4 1.7 .5 1.5 .4-3.5 .5 2 .4 0 .5-2.2 .4-3.4 .5 4.1 .4-2.2 .5 .6 .4 1.4 .5 1 .4-6.4 .5 .4 .4 4.4 .5-1.2 .4 3.7 .5-4.1 .4 4 .5-2.2 .4 0 .5 1.2 .4-.3 .5-.9 .4 1.5 .5-.4 .4 1.9 .5-1.2 .4 1.4 .5 .6 .4-1.3 .5 .2 .4 3.4 .5-1.4 .4-2.6 .5 2.1 .4 .3 .5-4.4 .4 .6 .5-.4 .4 0 .5 1.9 .4-1.6 .5-.7 .4 1.8 .5-3 .4-1.2 .5 4.7 .4-.1 .5 1.2 .4-7 .5 2.5 .4-.7 .5-.3 .4 1.9 .5 .6 .4 1.7 .5 3.8 .4-1.7 .5 .1 .4-3.6 .5 1.4 .4 2.3 .5 .6 .4 3.8 .5 .6 .4-.2 .5-2.7 .4 1.1 .5 2.4 .4-2.3 .5 .3 .4-.7 .5-1 .4-2.4 .5 1.4 .4-1.3 .5 3.2 .4-2.6 .5 1.3 .4 1.1 .5-1.5 .4 .7 .5-1.1 .4 1.8 .5 1.5 .4-4.3 .5-.3 .4 3.4 .5-3.3 .4-1.3 .5-1.2 .4 2.6 .5-1.7 .4-1.4 .5 1.7 .4 1.7 .5 1.7 .4-1.4 .5 1.6 .4-3.7 .5-2.3 .4 .9 .5 1.6 .4 3.7 .5-4.1 .4 1.6 .5-.8 .4 2.1 .5-1.6 .4-1.3 .5 .7 .4 2.4 .5 1.9 .4-2.7 .5-2 .4-1.5 .5 1.7 .4 .2 .5-3.9 .4 4.4 .5 .5 .4 2.5 .5-3.7 .4-.6 .5 1.8 .4 .1 .5-5.5 .4 6.9 .5-4.1 .4 1.8 .5 .3 .4-1 .5 3.1 .4-3.3 .5-1 .4-2.6 .5 2.7 .4-.9 .5 2.5 .4-1.8 .5 3.9 .4-7.3 .5 5.6 .4-2.8 .5-3.9 .4 1.8 .5 1.2 .4-4.3 .5 3.6 .4-.6 .5-.9 .4 .1 .5 .3 .4 0 .5-.6 .4 .2 .5 0 .4-.2 .5 .3 .4-.2 .5-.2 .4-.1 .5 .1 .4 .4 .5-.7 .4-.1 .5-.3 .4 .7 .5-.2 .4-1.2 .5 .7 .4-.2 .5-.9 .4 .7 .5 .6 .4 0 .5 .4 .4-.9 .5 .4 .4-1.3 .5 .7 .4-.3 .5 .2 .4-.5 .5 0 .4-.3 .5 .9 .4-.3 .5 .1 .4-.6 .5-.6 .4 .8 .5-.6 .4-.6 .5 .7 .4 0 .5-.2 .4-.2 .5 0 .4 .1 .5-.9 .4 0 .5 .9 .4-.7 .5-.2 .4-.3 .5 .8 .4-.2 .5-.9 .4 .3 .5-.8 .4-.1 .5 .7 .4-1.1 .5 1.1 .4-.6 .5-.8 .4 .1 .5 .7 .4-1.2 .5 .8 .4-.8 .5-.2 .4-.3 .5 .2 .4 .3 .5 1 .4-2.2 .5 1.8 .4-.6 .5 .8 .4-1.2 .5-.7 .4-3.3 .5 4.3 .4-1.9 .5 1.3 .4-.3 .5 3.2 .4-1.9 .5-5.1 .4 3.6 .5-1.3 .4 2.9 .5-3.2 .4-2 .5 2.8 .4 .5 .5 3.5 .4-2.5 .5 2.2 .4-2.5 .5-1.4 .4 3.7 .5 .3 .4 0 .5 .3 .4 1.5 .5-1.4 .4-.4 .5 3.4 .4-3.3 .5 1.3 .4-2.4 .5 .4 .4 2.9 .5 .6 .4 3.3 .5 .4 .4-3.2 .5 0 .4 .4 .5 0 .4 2 .5 2.3 .4-2.1 .5-2.2 .4 2.7 .5 .8 .4-4.6 .5 .3 .4 4.3 .5-1.4 .4-.6 .5-1.1 .4-.9 .5-.7 .4 5.7 .5-2.1 .4-1.6 .5 5.3 .4-2.7 .5-.5 .4 4.1 .5 .7 .4-5.4 .5 1.8 .4 .8 .5-.3 .4 1.3 .5 .1 .4-2.1 .5 2.3 .4-4.6 .5 2.4 .4-.9 .5 2.9 .4-2.9 .5 3.9 .4-4.3 .5 .1 .4 3.9 .5-7.9 .4 3.8 .5-1.4 .4 1.5 .5-1.1 .4-2.2 .5 2.5 .4-1.3 .5 .7 .4-1.1 .5 .3 .4-.3 .5-1.4 .4-2.2 .5 .8 .4-.9 .5 .7 .4 1.3 .5-.4 .4-.5 .5 4.9 .4-4.1 .5 .5 .4-3.5 .5-.2 .4 3.8 .5 1.5 .4-.6 .5-2.1 .4 4.9 .5-3.1 .4-.8 .5 3 .4-2.8 .5 4.4 .4 1.8 .5-.5 .4-4.3 .5 4.7 .4-1.1 .5-3.2 .4 3.1 .5-.4 .4-.2 .5-2.1 .4-2.4 .5 1.2 .4 3.1 .5-2.5 .4 .8 .5 2 .4-.2 .5-4.4 .4 .8 .5 .6 .4-.2 .5 1.3 .4 .5 .5 .6 .4 3.7 .5-4.1 .4-.3 .5-.3 .4-.6 .5-3.1 .4-.1 .5 5.8 .4-.9 .5-4.2 .4 2.1 .5-1 .4 .7 .5 .8 .4 1.5 .5-3.5 .4 2 .5-3.2 .4 2 .5 2.5 .4-1.1 .5 1.4 .4-.5 .5-1 .4-.9 .5 .3 .4-2.9 .5-.1 .4-1.4 .5 4.5 .4-.5 .5-.5 .4-1.2 .5 .1 .4 .8 .5 .9 .4-2.6 .5-.8 .4-.9 .5 1.8 .4 3 .5-1.1 .4-2.2 .5-1.6 .4 4.2 .5-5.8 .4 4.2 .5-1 .4 1.7 .5-1.5 .4-3.8 .5 .5 .4 .8 .5-2.9 .4 2.4 .5 .4 .4-2 .5-3 .4 5.4 .5-.4 .4-7.5 .5 6.5 .4 .2 .5-1.2 .4 .4 .5 1.1 .4-.4 .5 .5 .4 2.6 .5 1.3 .4-4.4 .5 4 .4 .4 .5 1.7 .4-.9 .5-1 .4-2.5 .5 3.1 .4 3.1 .5-.2 .4-1.1 .5 1.8 .4 .9 .5 .4 .4-1.1 .5 2.1 .4-.8 .5 1.4 .4 2.4 .5-6.5 .4 1 .5-3.7 .4 2.6 .5-1.8 .4-.8 .5-1 .4-2 .5-1 .4 3.5 .5-3.3 .4-2.9 .5-4.6 .4 3 .5 1.4 .4 1.4 .5 1.5 .4-3.5 .5 .2 .4 1.4 .5 .6 .4-2.1 .5 2.9 .4-4.2 .5-.1 .4 .7 .5 1.1 .4-3.9 .5 1.2 .4-3.1 .5 5 .4-5 .5 .5 .4 3.2 .5 .2 .4-.1 .5-1.8 .4-.7 .5 2.1 .4-1.3 .5 0 .4 .3 .5-.1 .4 .9 .5-2.4 .4 3.4 .5 2.1 .4 1.4 .5 .4 .4-5.6 .5-.6 .4 1 .5-2.7 .4 2.2 .5 1.4 .4-2.8 .5-1.1 .4 1.2 .5-.9 .4-1.8 .5 1.7 .4-.5 .5 3.5 .4 1.2 .5-2 .4-1 .5 .2 .4 .7 .5 .7 .4-1.9 .5-2.9 .4 1.8 .5 2.5 .4 5.6 .5-3.5 .4-.8 .5 5 .4-4.2 .5-1.5 .4 3.4 .5 1.7 .4-2.4 .5 .9 .4-1.6 .5-1.8 .4 3.2 .5-4.4 .4 2.3 .5 .5 .4 1.7 .5-4.1 .4-2.9 .5 1.9 .4-1.1 .5-1.6 .4 .2 .5-1.6 .4-1.4 .5-.9 .4-.4 .5 3.8 .4 .5 .5 .8 .4 6.3 .5-1 .4-.5 .5-.9 .4-4.2 .5 4.9 .4-3.8 .5 .6" fill="none" stroke="#181818" stroke-width="1.25" stroke-linejoin="round" clip-path="url(#cr5)"/>
<path d="M668.7 450.9l.5 1.3 .4-.3 .5-1 .4 .3 .5 .4 .4 1 .5-1.3 .4 2.1 .5-.7 .4-.8 .5 1.2 .4 0 .5-.7 .4 .9 .5 .6 .4-.3 .5 0 .4-.2 .5 .5 .4-.6 .5-.4 .4 .4 .5-.5 .4 .2 .5 .6 .4 0 .5-.4 .4-.3 .5-1 .4 1.8 .5-.1 .4 1.1 .5-1.5 .4-.8 .5 2.2 .4-.1 .5-1.3 .4 1.5 .5-.2 .4 .4 .5-2.4 .4 1.9 .5-.7 .4-1.1 .5-.2 .4 1.8 .5 .7 .4-3.3 .5 1.8 .4 .2 .5-.8 .4-1.4 .5 2.5 .4-1.6 .5-.4 .4 1.4 .5-1.8 .4 .7 .5 .1 .4-.2 .5 1.4 .4-3.3 .5 .9 .4-.3 .5-.4 .4 0 .5 0 .4-.8 .5 2.3 .4-2.2 .5 1.2 .4-.2 .5 1 .4-.9 .5 1.2 .4-.4 .5-2 .4 1.1 .5-.2 .4-1.5 .5-.2 .4 .9 .5 .2 .4 1.4 .5-.1 .4-.2 .5 .2 .4-1.4 .5-.1 .4 .9 .5 .4 .4-1 .5 .2 .4-1.1 .5-1 .4 1.4 .5 .4 .4 1 .5-1 .4 1.4 .5-1.6 .4 .4 .5 1.8 .4-1.5 .5 0 .4 .9 .5 .1 .4-.4 .5-1.2 .4-1.1 .5 .1 .4 .9 .5-1.4 .4-.1 .5 1 .4 .3 .5 .3 .4-.2 .5-1.2 .4 1.4 .5-.7 .4 1.2 .5-2.9 .4 1.1 .5 1.2 .4-.5 .5 .1 .4 .2 .5-.4 .4 1 .5 0 .4-1.5 .5-.4 .4-.2 .5 1.6 .4 1.6 .5-1 .4-.8 .5 1.9 .4-.8 .5-.8 .4 .8 .5-1.1 .4 1 .5-.8 .4-.3 .5 .7 .4 .2 .5 1 .4-.5 .5 0 .4 1 .5-1.2 .4 1.6 .5-1.1 .4 .3 .5-.3 .4 1 .5 1 .4-1 .5 1 .4-.9 .5 .8 .4-.1 .5-.5 .4-.2 .5 .9 .4 1.8 .5-.5 .4-.1 .5 .1 .4-2.1 .5 2.7 .4-.8 .5-2.1 .4 2.4 .5 2.3 .4-2.7 .5-.8 .4-2.9 .5 1.8 .4-.1 .5 1.1 .4-1.2 .5-1.6 .4 3.2 .5-3.5 .4 1.7 .5-1.7 .4-1.7 .5 1.9 .4 1.4 .5-2.5 .4 2.6 .5 2.2 .4-2.3 .5-2.6 .4 4 .5 .3 .4-4.6 .5 .1 .4-1.4 .5 2.4 .4 .2 .5 .5 .4-.7 .5-2 .4-.4 .5 1.7 .4 .9 .5 .9 .4-.8 .5-4.3 .4 2.8 .5 3.1 .4 0 .5 1.2 .4-1.1 .5 1.1 .4-.1 .5 .2 .4-.8 .5 .6 .4-.6 .5 1.3 .4-3.1 .5 4.4 .4-1.7 .5 .9 .4-3.3 .5 1.9 .4 .8 .5 1.4 .4-1.5 .5-4.2 .4 .4 .5 2.7 .4-.9 .5 .1 .4-1.2 .5-1 .4-1.1 .5 .3 .4-1.6 .5 .6 .4-3.8 .5 2.2 .4 1.4 .5 .6 .4-3.9 .5 3 .4 .8 .5 1.7 .4-3.7 .5 1.7 .4 1.8 .5-3 .4 4.6 .5-1.1 .4-1.2 .5 4.1 .4-1.1 .5-1 .4-1.4 .5 .7 .4 2.1 .5-2.3 .4 3.1 .5 1 .4-1 .5-1.1 .4 2.8 .5-5 .4 2.2 .5 1.1 .4 0 .5 .2 .4 1.8 .5-1.6 .4-1 .5 4.4 .4-2.7 .5-4 .4 1.7 .5 .2 .4 1.4 .5-1.4 .4-.3 .5-1.6 .4 3.3 .5-3.5 .4 1.2 .5-2.2 .4-1 .5 4.6 .4 .5 .5-1 .4-.2 .5 1.2 .4-1.5 .5-1.8 .4 4 .5-2.8 .4 2.1 .5-5.1 .4 2.1 .5 1.3 .4-4.6 .5 4.6 .4-3 .5 1 .4 1.7 .5-4 .4 3.9 .5-.6 .4 .1 .5-2.5 .4-.3 .5 4.2 .4-3.8 .5 4.1 .4-5.2 .5 .9 .4 .6 .5 .5 .4-.3 .5-.1 .4 .2 .5-.2 .4 1.7 .5-2.6 .4 1.7 .5 2.5 .4-2.2 .5 2.9 .4-.7 .5-1.5 .4 2 .5 4.9 .4-3.3 .5 1.3 .4-1.7 .5 7.2 .4-4.8 .5-2.3 .4 3.1 .5-5.4 .4 5.2 .5-2.6 .4 .3 .5 .5 .4 1.6 .5-3.9 .4-.1 .5 1.5 .4-4.2 .5 1.5 .4 1.9 .5-3.2 .4 1.2 .5 3.4 .4-3.6 .5 1.9 .4-1.2 .5 0 .4 .4 .5-.7 .4 .5 .5 1 .4-.4 .5 2.3 .4-2.2 .5 .3 .4-1.5 .5 1.1 .4 2.2 .5-2.6 .4-3.4 .5 2.1 .4 1.3 .5-1 .4 .2 .5 .9 .4-5.3 .5 4.4 .4 3.7 .5-2.2 .4-1.3 .5 1 .4 1 .5 1.3 .4-.6 .5 .6 .4-.8 .5-2.1 .4-.1 .5 5.3 .4-3.6 .5 .7 .4-3.6 .5 4.6 .4-5.9 .5 .3 .4 2.8 .5 3.5 .4-2 .5-3.3 .4-3 .5 2.1 .4 .3 .5 3.8 .4-1.3 .5-2.4 .4 2 .5 .6 .4-2.4 .5-2.8 .4 4.2 .5 3.4 .4-4.6 .5-.5 .4 1.9 .5-2.3 .4 3.2 .5-1 .4 .2 .5 3.2 .4-3.4 .5 2.2 .4-.1 .5 .8 .4-1.7 .5 2.6 .4-3.4 .5 1.3 .4 1.2 .5-2.2 .4 .9 .5 .7 .4 1 .5-.5 .4-2.5 .5 1.1 .4-2.3 .5 3.8 .4-6.4 .5 3.2 .4 .6 .5 1.7 .4-.6 .5 2.7 .4-2.4 .5-.9 .4 1.1 .5-3 .4 3.7 .5 2.5 .4 1.5 .5-2 .4-.7 .5-2.7 .4 6 .5-2.5 .4 1.2 .5-.7 .4 .7 .5-.9 .4-2.6 .5 .7 .4 2 .5-.4 .4-2.5 .5 3 .4 1.6 .5-4.6 .4 .3 .5 2.1 .4 0 .5-1.1 .4 0 .5-.3 .4-2.2 .5-1.5 .4 1 .5 .8 .4 2.1 .5-1.2 .4 1.4 .5-2.3 .4 .6 .5 1.6 .4-2.5 .5 3.9 .4 1.9 .5-2.7 .4 .6 .5-1.2 .4-.4 .5 4 .4 1.5 .5-2.9 .4 5.7 .5-2.8 .4-4.3 .5 3.1 .4-4 .5 3.6 .4 .6 .5 2.4 .4 2.1 .5-2.1 .4-.7 .5 0 .4-2.5 .5-1.1 .4 2.4 .5-1.2 .4 .6 .5-.4 .4 .1 .5-1.1 .4 2.3 .5-3.7 .4-2.9 .5 4.3 .4-.7 .5 1.2 .4 2.2 .5 .8 .4-2.3 .5-1.2 .4 1.1 .5-1.2 .4 0 .5 2.5 .4-1.2 .5 3.1 .4-5.8 .5 1.7 .4 .4 .5-1.4 .4 1.6 .5-2.8 .4-.5 .5 1.5 .4 1 .5-2.1 .4 1 .5 1.4 .4-.6 .5-2.1 .4-1.3 .5 2.2 .4 1.8 .5-1.5 .4 1.5 .5-2.8 .4 1.5 .5-2.5 .4-.6 .5 1.6 .4 1.7 .5-.7 .4 1.2 .5 .1 .4-.3 .5-.4 .4-3.6 .5-1.1 .4 .2 .5 1.4 .4 .6 .5-2 .4 3.5 .5 .4 .4-2 .5 .7 .4-1.5 .5-1.6 .4 0 .5 3.4 .4-.9 .5-2.5 .4 .4 .5 .7 .4-.2 .5 .2 .4-1.1 .5-.5 .4 0 .5 .3 .4-.6 .5 .3 .4-.8 .5 .2 .4 .1 .5-.1 .4 0 .5-.2 .4 .3 .5-.3 .4 .2 .5-.2 .4 0 .5-.5 .4-.3 .5 .3 .4-.1 .5-.5 .4 .4 .5-.5 .4 0 .5 .1 .4-1 .5 .5 .4 .5 .5-.2 .4 0 .5-.4 .4 .7 .5-.3 .4-.1 .5-.5 .4-.7 .5 .3 .4-.3 .5 .6 .4-.4 .5 .5 .4-.2 .5 0 .4-.9 .5 .5 .4-.3 .5 .4 .4-.1 .5 0 .4-.3 .5-.4 .4 .2 .5-.2 .4 .2 .5 0 .4-.4 .5-.3 .4 .1 .5-.3 .4-.3 .5-.3 .4 .3 .5-.1 .4-.6 .5-.2 .4-.1 .5 .7 .4-.8 .5 .4 .4-.6 .5-.5 .4 .7 .5-.1 .4-.2 .5-.4 .4-.4 .5-.2 .4 .7 .5-2.4 .4 4 .5 .1 .4-1.4 .5 .2 .4-.7 .5-.7 .4-.3 .5 1.6 .4 .3 .5-1.4 .4 0 .5-2.4 .4 2.3 .5-2.3 .4 5.2 .5-4.1 .4 .2 .5-1.2 .4 .4 .5 .8 .4 .7 .5-.3 .4 2.1 .5 1.1 .4-1.4 .5-.6 .4 5.3 .5-.7 .4-1.1 .5 .2 .4 .4 .5-1.8 .4 1.9 .5 .3 .4 0 .5 .1 .4 .1 .5 .7 .4-1.6 .5 1 .4 .9 .5-2 .4 1.5 .5 1.5 .4-1 .5 .4 .4-.9 .5-1.9 .4 1.5 .5 4 .4-3.5 .5 2.7 .4 .7 .5 0 .4-1.7 .5 1.9 .4 .1 .5 .2 .4-4.3 .5 2 .4 2.4 .5-1.4 .4 2.1 .5-1.5 .4 .6 .5-.6 .4 1.9 .5-.5 .4 2.1 .5-.3 .4-.2 .5 .4 .4 .7 .5-.9 .4-2 .5 .3 .4 1.6 .5-1.4 .4-1.2 .5 3.6 .4-4.6 .5 .7 .4 1.2 .5-2.3 .4 1.1 .5-2.5 .4 2.2 .5 .5 .4-2.1 .5 3.1 .4-4 .5 .3 .4 .9 .5-1.4 .4-.5 .5 .2 .4-.1 .5 2.1 .4-1.3 .5-4.6 .4-2.2 .5 5.4 .4 .7 .5 0 .4-.1 .5 1.2 .4 .7 .5-.6 .4-1.2 .5 .9 .4-1.3 .5 1.5 .4 3.7 .5 .4 .4-2 .5-.5 .4-1.3 .5 1.4 .4 0 .5 2.7 .4-.8 .5-2 .4 2.5 .5-.7 .4-1 .5-1.7 .4 1.3 .5 1.3 .4-3.8 .5 3.2 .4-1.3 .5-1 .4 1 .5-1.1 .4 .2 .5-1.2 .4 .9 .5 2 .4-2.9 .5 1.5 .4-1.9 .5-.2 .4 .3 .5-1 .4 .5 .5-.6 .4 1 .5 2 .4-1.9 .5-1.3 .4 2.5 .5-.3 .4 .7 .5 .2 .4-2.4 .5 2.8 .4-4.7 .5 2.6 .4-.8 .5 .1 .4 .1 .5 1 .4 .8 .5 .5 .4-3 .5 1.1 .4-2.1 .5 1.8 .4-.3 .5-3.2 .4 2.3 .5 1.2 .4 2.6 .5 0 .4-5 .5-.2 .4 3 .5-1.9 .4 1.6 .5 1.1 .4 1 .5-4.3 .4 3.1 .5-4.8 .4-.8 .5 2.5 .4 .7 .5 1.3 .4-3 .5 .6 .4-3.8 .5 3.3 .4 2.7 .5-2.5 .4-3 .5 .7 .4 .4 .5-.5 .4-1.5 .5-1.2 .4-1.2 .5-.3 .4 3.7 .5-2.2 .4 1 .5 3.7 .4 .9 .5-1.7 .4-.1 .5 1.4 .4-1.4 .5 .1 .4 4.6 .5-1.5 .4-1.8 .5 2.9 .4-2.4 .5 1.8 .4-1 .5 1.5 .4 2.1 .5-.5 .4 1.9 .5-2.1 .4-1 .5 2.5 .4 1.2 .5 2.1 .4 .6 .5 6.2 .4-6.6 .5-3.3 .4 1.7 .5-3 .4-.4 .5-.9 .4-2.3 .5-1.3 .4 .2 .5-1.4 .4-.4 .5-.6 .4-2.5 .5-1.2 .4 .1 .5 .2 .4-1.2 .5 1 .4 2.3 .5-2.9 .4-.6 .5 4.8 .4-3.3 .5 1.5 .4 .6 .5-1.6 .4-2.2 .5-1.2 .4 2 .5 .4 .4 .8 .5-2.4 .4-1.4 .5 .7 .4 0 .5-.3 .4-1.4 .5-.1 .4 0 .5 2.3 .4 .5 .5-.1 .4 2.7 .5-1.9 .4 .5 .5-4.7 .4 2.7 .5-3 .4 3.3 .5-.5 .4 2.7 .5-1.4 .4 2.1 .5-4.3 .4 1 .5-3.5 .4 1.6 .5 1.9 .4-.9 .5 .4 .4-1 .5-.1 .4-1.4 .5-1.8 .4 .6 .5 2.3 .4 3.4 .5 1 .4-.8 .5 1.9 .4 1.6 .5-5 .4 2.1 .5-.7 .4 3.1 .5 0 .4-3.6 .5 1 .4 2.6 .5-3.1 .4 0 .5 .1 .4 4.2 .5-2.3 .4-.9 .5 .8 .4-.3 .5 4.2 .4-7 .5-1.9 .4 3.8 .5-.7 .4-.8 .5 .4 .4-.2 .5-2.9 .4-2.9 .5 1.4 .4 .3 .5-6.2 .4-2.7 .5 7.5 .4 3.5 .5-1.5 .4 3.9 .5 11.2 .4-9.9 .5-.9 .4-5.1 .5-.2 .4 5.7 .5-.2" fill="none" stroke="#10e010" stroke-width="1.0" stroke-linejoin="round" clip-path="url(#cr5)"/>
<path d="M668.7 556.1l.3 .9 .4-1.1 .3-1.9 .3 3.9 .4-5.3 .3 2.3 .3 1.1 .3 .3 .4 .8 .3-1.8 .3-.2 .4-.5 .3 1.6 .3-1 .4 2.2 .3-4.1 .3 .5 .3-2.5 .4 1.4 .3 3.6 .3 .6 .4 .6 .3-.6 .3-.1 .4 1.3 .3-3.5 .3 3.2 .3 .2 .4-.6 .3 .5 .3-1.9 .4 .1 .3-3 .3 3.8 .4-3.7 .3 2.9 .3 1.7 .3-1.1 .4-2.8 .3 1.4 .3 .9 .4-1 .3-2.4 .3 2.5 .4-2.3 .3 1.7 .3 3.3 .3-5.2 .4-.5 .3 3.5 .3-.4 .4-2.5 .3 2.6 .3-3.9 .4 4.9 .3-2.7 .3 2.6 .3-1.9 .4 .7 .3 .9 .3 2.1 .4-4.6 .3 2.4 .3 .2 .4-.4 .3 1.7 .3-2.4 .3 .8 .4-.1 .3-2.5 .3 3.7 .4-3.2 .3 2.3 .3-1.1 .4 1.4 .3 1 .3-5.7 .3 4.5 .4-.2 .3 .7 .3-.5 .4-1.8 .3 .6 .3 1.8 .4-.3 .3 .5 .3-3.6 .3 2.4 .4-.8 .3-1.7 .3 3.8 .4-1 .3-.7 .3 1.5 .4-3.3 .3 1.6 .3 .8 .3-1.4 .4 1.2 .3-1.2 .3 .9 .4-1.1 .3 .7 .3-1.7 .4 1.7 .3-1 .3-.3 .3 1 .4-2.9 .3 2.3 .3 2.5 .4-2.4 .3-2 .3 5.1 .4-1.3 .3 .3 .3-.5 .3-4.2 .4-.2 .3 3.7 .3-.4 .4-3.1 .3 5 .3 1 .4-4.5 .3-1.5 .3 2.8 .3-2.7 .4 3.4 .3-2.5 .3 0 .4 1.9 .3 1.1 .3 0 .4-3.3 .3 2 .3-.9 .3 3.9 .4-4.1 .3-.1 .3 .9 .4 1 .3-3.3 .3 3.4 .4 1.9 .3-5.8 .3 3.2 .3 3.5 .4-1.9 .3-.2 .3-1.4 .4-.8 .3 .4 .3-1.4 .4 1 .3 1.6 .3-10.2 .3 8.9 .4 1.6 .3-4.9 .3-5.3 .4 7.9 .3-.4 .3-1.5 .4 1.3 .3 2.5 .3-3.6 .3 1.7 .4 2 .3-2.4 .3 2.1 .4-5.1 .3 3 .3 .5 .4-.9 .3-2.7 .3 6.6 .3-1.6 .4 .9 .3-10.7 .3 7.6 .4 2.5 .3 1.4 .3-3.6 .4 3.1 .3-8.2 .3 3 .3 4.7 .4 1.3 .3-11.5 .3 3.3 .4 1.8 .3-.1 .3 2.2 .4-.8 .3 .9 .3 .3 .3-6.6 .4 7.2 .3 3.5 .3 .8 .4-3.7 .3-.2 .3-1.2 .4-1.4 .3 2.9 .3 .4 .3-3.2 .4 4.5 .3-1.5 .3-7 .4 .5 .3 2.3 .3 .4 .4-1.6 .3-4 .3 7 .3-1.9 .4 7.1 .3-8.4 .3-5 .4 12.5 .3-4.4 .3-8 .4 3.9 .3 .4 .3 1.3 .3-16.5 .4 15.3 .3 6 .3-6.8 .4-6.6 .3 5.2 .3 2 .4 .4 .3 3.5 .3-6.1 .3 .1 .4 10.2 .3-23.2 .3 7.3 .4 4.2 .3-7.1 .3 12.3 .4-6.4 .3 .8 .3 4.5 .3 .3 .4-1.5 .3 3.6 .3 1.2 .4-2.8 .3-21.2 .3 6.3 .4 14.8 .3-6.4 .3 10.9 .3-9.8 .4 8.9 .3 2.5 .3-7.5 .4 2.3 .3-2.3 .3 6.5 .4-40.1 .3 39 .3-18.2 .3 20.7 .4-.9 .3-21.5 .3 4.1 .4-3.3 .3 14 .3 3.8 .4-14.1 .3-.6 .3 7.3 .3 4.8 .4 2.5 .3-11.4 .3 6.7 .4-.6 .3-4.4 .3 11 .4-30.4 .3 26.4 .3-1.7 .3-2.4 .4 6.9 .3 2.2 .3-9.9 .4-2.8 .3-3.6 .3 6 .4-.1 .3 5 .3-1.4 .3 .7 .4-3.4 .3 2.7 .3 .7 .4-9 .3 11.4 .3-7.3 .4 2.8 .3-9.7 .3 15.4 .3-9.9 .4 4.3 .3 7.3 .3-8.8 .4 10.5 .3-.6 .3 1 .4-13 .3-15.4 .3 25.2 .3-10.1 .4-.8 .3 3.4 .3 .8 .4 2.3 .3-.3 .3 7 .4-6.8 .3 4 .3 1.1 .3-3.8 .4-13.8 .3 11.6 .3 8.8 .4-5.1 .3-6.8 .3-15.5 .4 3.2 .3 17.1 .3 .4 .3-.3 .4-2.1 .3 .4 .3 2 .4 4 .3-6 .3-10.4 .4 11.7 .3-18.1 .3 9.2 .3 2.5 .4 8.8 .3-8.6 .3-3.8 .4-4.9 .3-14.5 .3 27.8 .4-6.6 .3 1 .3 9.2 .3-22.2 .4 17.8 .3 2 .3 3.3 .4-11.3 .3 12.2 .3-4.1 .4 3.2 .3 .1 .3-5.8 .3 4.9 .4-1 .3-11.1 .3 18.2 .4-3.3 .3-13.4 .3 4.4 .4 1.2 .3 2.6 .3 8.6 .3-11.9 .4 11.2 .3-6.6 .3-5.8 .4 3.9 .3 2.2 .3-10.9 .4 1.9 .3 9.7 .3-13.8 .3 13.7 .4-19.1 .3 12.8 .3 3.5 .4-4.5 .3-5.9 .3 6.8 .4 8.2 .3-2.7 .3 .1 .3 2.1 .4-9.5 .3 6.5 .3-2.5 .4 5.2 .3-5.3 .3 4.5 .4-6.7 .3 3.2 .3-3.1 .3-20.2 .4 26.1 .3-5.9 .3 5.3 .4 4.6 .3-16.4 .3-.6 .4 6.7 .3 8.5 .3 1.6 .3-4 .4-6.8 .3 5.9 .3 1.9 .4 4.4 .3-9.2 .3-.1 .4 .5 .3-4 .3-3.5 .3 9.1 .4 8.4 .3-12.1 .3-2.4 .4 9.8 .3-4 .3-1.2 .4 7.8 .3-26.9 .3 30.7 .3-14.1 .4 4.5 .3-14.7 .3 17.6 .4 1.2 .3-43.8 .3 32.3 .4-1.8 .3 14.4 .3-12.2 .3 1.2 .4-4.2 .3 7.6 .3 5 .4-2.6 .3-7.6 .3 1.1 .4 9.6 .3-6.9 .3-4.1 .3-20.1 .4 17.8 .3-4.1 .3 20.3 .4-4.6 .3-32.9 .3 29.3 .4-.3 .3-6 .3-.1 .3-55.6 .4 68.3 .3-14.9 .3 5.6 .4-8.3 .3 8.4 .3 .4 .4-4.6 .3 7.2 .3-5.6 .3-2.1 .4 17 .3-14.1 .3 6.1 .4-24.1 .3 7.7 .3 19.6 .4-4.4 .3 8.2 .3-11.3 .3 .8 .4 8.4 .3-2.5 .3-2.7 .4-.9 .3 1 .3-3.5 .4 8.8 .3-3.6 .3-4.5 .3-15.9 .4 15.2 .3-2.6 .3-2.7 .4 15.9 .3-12.2 .3 10.1 .4 5.5 .3-16.2 .3 5.7 .3 2.8 .4-.1 .3-2.2 .3 7.1 .4-6.3 .3 4.5 .3 1.5 .4-15.9 .3 14.2 .3-3.2 .3-12 .4 14.9 .3-13.7 .3 8.8 .4 3.3 .3-.2 .3-8.7 .4 8.2 .3-8.7 .3 14 .3-11.9 .4 5.2 .3 5.5 .3-15.6 .4 11.6 .3-2.1 .3 1.6 .4-.8 .3 6.2 .3 1 .3-19 .4 7.2 .3 5.4 .3 4.7 .4-7.6 .3-5.5 .3 7 .4-2 .3 .2 .3-6.3 .3-4.8 .4 15.9 .3-4 .3 5.6 .4-6.3 .3 4.1 .3-7.6 .4-6.3 .3 2 .3 14.5 .3-11.1 .4 11.2 .3-42.7 .3 43.8 .4-6 .3 5.3 .3-.7 .4-6.3 .3 4.8 .3-6.9 .3 2.4 .4-.4 .3 7 .3-7 .4-7.7 .3 6.2 .3 1.1 .4 .1 .3-5.8 .3 .3 .3 8.9 .4-13.8 .3 4.9 .3 14.7 .4-12.1 .3 3.8 .3 7.1 .4 .4 .3-.7 .3-9 .3 11.7 .4-4 .3-3.2 .3-3.4 .4-3.5 .3-4.8 .3 8.6 .4 2.7 .3-8.6 .3 6.4 .3 .7 .4 .4 .3-24.8 .3 31.9 .4-14.8 .3 6.8 .3-1.9 .4 10.7 .3-9.3 .3-15.9 .3 .9 .4 12.9 .3-.5 .3 .8 .4 6.1 .3-8.4 .3 12.5 .4-8 .3 3.6 .3 .3 .3 2.3 .4-15.7 .3 10.3 .3-2.7 .4 1 .3 7.5 .3-10.9 .4-9.6 .3 16.5 .3 5 .3-23.5 .4 20.1 .3-4.1 .3-5.6 .4 13.9 .3-1.2 .3-20.8 .4 16.6 .3-9.2 .3 8.6 .3-5 .4 7.4 .3-10.6 .3 .1 .4 10.7 .3-6.7 .3 5.9 .4 .6 .3-8.3 .3-4.3 .3 12.8 .4 .2 .3-.6 .3 1 .4-7.8 .3-1.1 .3 6 .4 1.4 .3-1.8 .3-10 .3-19.8 .4 32.2 .3 .7 .3-12.4 .4 15.1 .3-8 .3 2.2 .4-13.4 .3 15.8 .3-5.4 .3 9.4 .4-6 .3 2 .3-4.1 .4-1.5 .3 2.9 .3-4.3 .4-5.2 .3 11.6 .3-8.4 .3 3.2 .4 7.9 .3 2.5 .3-19.3 .4-6.6 .3 18.4 .3 6.1 .4-3.9 .3 1.4 .3-16 .3 2.5 .4 6.9 .3-20.1 .3 23.7 .4-.9 .3-2.4 .3 7.1 .4 3.2 .3-4 .3-1.3 .3 1.7 .4-14.5 .3 7.4 .3 4.6 .4 5.4 .3-8.5 .3-2.1 .4 5.2 .3-9.1 .3-.9 .3 9.7 .4-4.6 .3 3.7 .3-7.3 .4 7.2 .3-2.3 .3-3.3 .4 2.4 .3 9.9 .3-6.7 .3-10.6 .4 15.1 .3-5.7 .3-11.2 .4 4.8 .3 6.4 .3 .8 .4-10.4 .3 1.9 .3 11.5 .3-4.8 .4 1.1 .3 1.7 .3-13.2 .4 13.8 .3-.3 .3-7.6 .4 10 .3-5.2 .3 1.6 .3-5.3 .4-1.7 .3-3.2 .3-16.2 .4 34 .3 .9 .3-13.7 .4-1.1 .3 8.7 .3 2.9 .3-6.8 .4-6 .3 3 .3-4.9 .4-.6 .3 14.9 .3-19.9 .4 2.6 .3 16.7 .3-2.8 .3-9.9 .4-1.1 .3 13.5 .3-6.9 .4-1.3 .3 10.7 .3-7.7 .4-2.3 .3 5.9 .3-13.8 .3 7.2 .4 6.9 .3-3.9 .3-7.2 .4 5.2 .3 5.5 .3-2.1 .4 6.4 .3-9.6 .3 5.1 .3 1.9 .4-6.5 .3 7.2 .3-2.2 .4-.6 .3 2 .3-4 .4 7.5 .3-9.2 .3 .6 .3 1.7 .4-3.1 .3 1.2 .3 2 .4-6.1 .3 6.3 .3 5.5 .4-.3 .3-4.1 .3-7.7 .3 4 .4 2.9 .3-6.4 .3-16.5 .4 11.9 .3-.2 .3 14.3 .4-10.4 .3 .1 .3 2.4 .3 4.5 .4 .9 .3-20 .3 6.8 .4 4.2 .3 1.7 .3 7 .4-8.6 .3 4.8 .3-6.2 .3 11.9 .4-15 .3 13 .3 6.1 .4-14.8 .3 6.6 .3 2.1 .4-12 .3 11.4 .3-4.4 .3 4.3 .4 1.1 .3-9.5 .3 14.6 .4-4.2 .3-1.1 .3-8.6 .4 7.7 .3-9.5 .3 9.7 .3 5.2 .4-23.2 .3 8.1 .3 2.5 .4 7.1 .3 4.4 .3-4 .4-12.3 .3 13.3 .3-.4 .3-3.9 .4-4.3 .3 7.2 .3 1.9 .4 1.4 .3 .6 .3-2.4 .4-10.1 .3 1.4 .3 9.9 .3-12.5 .4 12.5 .3-10.2 .3 5.9 .4 1.7 .3 0 .3 2.9 .4 3 .3-2.2 .3-.9 .3 1.2 .4-23.7 .3 20.2 .3-14.1 .4 15.8 .3-5.1 .3 1 .4-6.7 .3 16.3 .3-5.4 .3 2.5 .4-4.6 .3-4.4 .3 2.7 .4 3.4 .3 3 .3-4.3 .4 3.3 .3-7.6 .3 2.1 .3 4.3 .4-6.5 .3 1.5 .3-9.4 .4 10.6 .3 .6 .3-2.5 .4 1.4 .3 .4 .3-5.3 .3-3.1 .4 15 .3-8.2 .3 2.4 .4-5.5 .3 11.6 .3-6.6 .4-5.2 .3 6.3 .3 .7 .3-7.7 .4 5.2 .3-3.5 .3 5.8 .4-5.5 .3 1.8 .3-1.8 .4 .7 .3-11.7 .3 12.5 .3 8 .4 1.1 .3-9.8 .3-1.3 .4-18.2 .3 26.6 .3-5.5 .4 3.7 .3-7.1 .3-5.1 .3 8.8 .4-10.6 .3 16.3 .3 .7 .4-16.6 .3 6.5 .3-17.7 .4 26.7 .3-2 .3-8 .3 1.4 .4 .1 .3-2.8 .3 .5 .4-1.8 .3 2.6 .3-2.2 .4 11 .3-7.2 .3 2.9 .3 8 .4-4.5 .3-15.1 .3 20.9 .4 0 .3-17.5 .3 16.3 .4-11.7 .3 4.7 .3-3.2 .3 7.6 .4-4.8 .3-3.1 .3 11.3 .4 .4 .3-15.3 .3 3.1 .4 12 .3-2.2 .3-11.7 .3 7.2 .4 6 .3-8.4 .3-1.9 .4 8 .3-4 .3 1.8 .4-11.5 .3 7.6 .3-3.8 .3-2.4 .4 2.9 .3 5.8 .3 4.1 .4-3.9 .3-1.2 .3 1.1 .4-10.8 .3-5.9 .3 19.9 .3-5.4 .4-6.7 .3 10 .3-2.2 .4-7.2 .3 10.8 .3-5.9 .4-4.2 .3 10.8 .3-11.4 .3 8 .4 .9 .3-3.3 .3 .6 .4 .2 .3 2.4 .3-1.9 .4-2.8 .3 1.6 .3-3.4 .3 5.6 .4 2.6 .3-.1 .3-5.3 .4-5.4 .3 7.3 .3 2.6 .4 5.2 .3-4.7 .3-5.4 .3-6.8 .4 6.5 .3-12 .3 5.2 .4 13.5 .3-3 .3-11.6 .4 8.4 .3 1.6 .3-3.6 .3 4.2 .4-1.8 .3-.3 .3 1.8 .4 2 .3-2.2 .3 6.8 .4-1.3 .3-20.1 .3 7.9 .3-4.3 .4 14 .3-1.8 .3 6 .4 .6 .3-14.9 .3 7.9 .4-3.8 .3-7.4 .3 18.8 .3-14.9 .4 10.7 .3-9.2 .3 7.7 .4-18 .3 7.9 .3 6.2 .4-4.5 .3 9.5 .3-20 .3 11.2 .4 2.1 .3-11 .3 2.7 .4-21 .3 16.2 .3 15.8 .4-12.1 .3 18.2 .3-9.6 .3 11.2 .4-20.5 .3-5.7 .3 22 .4-3.5 .3 4.5 .3 1.8 .4-1 .3-4.3 .3-11.3 .3 9.2 .4 1.2 .3-2.5 .3 7.9 .4-14.3 .3 0 .3-2 .4 17.7 .3-6.6 .3-45.6 .3 37.3 .4 6.7 .3 5.9 .3-6.5 .4 4.3 .3-9.7 .3-16.9 .4 31.1 .3 2.7 .3-17.9 .3-6.3 .4 7.3 .3 3.9 .3 .3 .4 3.9 .3 3.9 .3-2 .4-2.3 .3 .9 .3-8.6 .3 11.5 .4-1.7 .3 .2 .3-17.5 .4 14.2 .3 3.5 .3 2.2 .4-8.9 .3-1.8 .3 8.2 .3 2.8 .4-12.2 .3-2 .3-3.1 .4 12.3 .3 3.4 .3-2.9 .4 1 .3-4.3 .3-9.8 .3 10.2 .4 4.6 .3-2.2 .3-8.1 .4 15.2 .3-15.2 .3-2.5 .4 6.4 .3-13 .3 20.7 .3-2.1 .4-4.9 .3 .6 .3 4.3 .4-1.6 .3-4.4 .3 11.6 .4-8.2 .3-4.5 .3 5.8 .3-8.9 .4 3.2 .3 3.7 .3 4.8 .4 1.2 .3 2 .3-3.1 .4 3.5 .3-5.6 .3-.8 .3 3.3 .4-7.3 .3-1.7 .3 14.2 .4-11.3 .3-.7 .3 1.4 .4 10.6 .3-8.8 .3 7 .3-12.3 .4 2.7 .3 3.1 .3-.3 .4-1.9 .3 .7 .3-14 .4-30.5 .3 43.9 .3 6.8 .3-1.9 .4-9.4 .3 4.3 .3 2.5 .4-3.9 .3 4.4 .3 6.7 .4-7.3 .3 4.3 .3-12.3 .3 3.8 .4 5.5 .3-18.4 .3 15.2 .4 5 .3-16.4 .3 13.8 .4-29.1 .3 36.5 .3-9.7 .3 2.1 .4-7.4 .3-3.2 .3 13.3 .4-10.6 .3 6.4 .3 8.7 .4 .9 .3-17 .3 11.7 .3 4.5 .4-2.7 .3-17.8 .3 12.8 .4 .7 .3-3.6 .3 3.4 .4-11.6 .3 11 .3-1.7 .3 6.2 .4-7.2 .3 10.4 .3-9.8 .4-8.2 .3 10.1 .3 3.1 .4-15 .3-2.2 .3 7.6 .3 8.8 .4-25.7 .3 19.4 .3 4.2 .4 4.3 .3-2.9 .3-2.6 .4-25.8 .3 27.2 .3-2.9 .3 6.5 .4-4.8 .3 5.5 .3-8.8 .4-7.2 .3 11 .3 4.8 .4-1.2 .3-9 .3 4.1 .3-3.6 .4 14.4 .3-7.3 .3 .2 .4-13.4 .3 13.2 .3-10.3 .4 11.7 .3-25.2 .3 12.3 .3-11.7 .4 9.2 .3 11.7 .3-.2 .4-21.4 .3 22.4 .3 5.7 .4-8 .3 5.1 .3-12.7 .3 2.7 .4 12.3 .3-5.8 .3-3.2 .4 5.5 .3-6.9 .3 11.3 .4-11.5 .3 6.4 .3 .8 .3-1.2 .4-13.6 .3 19.7 .3-28.3 .4 27.2 .3-1.3 .3-2.4 .4 5.8 .3-8.2 .3 .9 .3-1.3 .4 3.7 .3 5.5 .3-14.1 .4-4.7 .3 14.9 .3-2.9 .4 3.6 .3 .9 .3-4 .3 3.4 .4-6.8 .3 4.2 .3 .5 .4 1.3 .3-.2 .3 1.2 .4-13.8 .3 13.7 .3-10.1 .3 7.3 .4-4.8 .3 3.4 .3 6 .4-3.5 .3-7.1 .3 3.1 .4-5.2 .3 10.3 .3 .9 .3 0 .4-3.9 .3 1.4 .3-7.6 .4 9.4 .3-.8 .3 .9 .4-1.9 .3-1.9 .3-.5 .3-6.1 .4 1.8 .3-8 .3-1.8 .4-20 .3 22.4 .3 6.4 .4 1.4 .3-13.2 .3 12.5 .3 5.4 .4-8.1 .3 5.7 .3 8.3 .4-24.9 .3 12.9 .3 6.7 .4-14.8 .3 14.7 .3-1.8 .3 2.2 .4-5.1 .3 1.7 .3-3.1 .4-8.6 .3 11.5 .3-10 .4 9.1 .3 2.1 .3-11.8 .3 7.1 .4 5.8 .3-7.7 .3 9 .4-16.4 .3 12.6 .3-11.4 .4-15.9 .3 10.7 .3 1.9 .3 9.7 .4 10.6 .3-9.8 .3-2.9 .4 9.7 .3-14.8 .3 9.1 .4-4 .3 7.4" fill="none" stroke="#101010" stroke-width="1.1" clip-path="url(#cr6)"/>
<path d="M668.7 592.9l.3-.3 .4-4.4 .3 3.2 .3 1 .4 2.7 .3-4.2 .3 2.9 .3-3 .4 2 .3-3.8 .3 .7 .4 1.2 .3 2.4 .3-2.1 .4 3.1 .3-1.3 .3-3.4 .3 2.7 .4 2.4 .3 1.4 .3-7.9 .4 .3 .3 2.6 .3 0 .4-1.8 .3 2.5 .3-2.6 .3 5.2 .4-3.7 .3-1.4 .3-.1 .4 1.5 .3 .5 .3 1 .4-2.9 .3 3.6 .3-4.2 .3 4.3 .4-2.4 .3 2.1 .3-1.9 .4-.1 .3 .3 .3-.1 .4 1.8 .3-1.1 .3-.2 .3-.6 .4 1.8 .3-1.2 .3-1.4 .4 1.6 .3-1.8 .3 6.5 .4-3.2 .3-3.7 .3 .3 .3-2.1 .4 3.1 .3-1.9 .3 2.8 .4-3.3 .3 2.7 .3 4 .4-4.5 .3 1.6 .3-2.3 .3 .5 .4 3.9 .3-1.6 .3-6.2 .4 1.4 .3 2.4 .3 .3 .4 .1 .3 5.5 .3 .5 .3-2.3 .4-2.8 .3-.3 .3 3.6 .4-8.2 .3 8.4 .3-3.5 .4 1.3 .3-1.9 .3 1.1 .3-1.4 .4-1.6 .3 3.3 .3 8.6 .4-12.2 .3-3.4 .3 7.9 .4-2.8 .3 4.1 .3-1.3 .3 .6 .4-4.2 .3 .3 .3-.3 .4 4.5 .3-1.9 .3 2.6 .4-5.8 .3 7.9 .3-3 .3-7.5 .4 4.3 .3-.2 .3 4.1 .4-4.6 .3 2.2 .3-.7 .4-.1 .3-1.8 .3-1 .3 .3 .4-2.6 .3 6.8 .3-3.2 .4 .3 .3 .1 .3 2.8 .4-2.4 .3 .1 .3 3.6 .3-.7 .4-8.2 .3 4.3 .3 3.1 .4-4.4 .3 1.1 .3-.7 .4 7.3 .3-2.9 .3-1.7 .3 .1 .4-.8 .3 .1 .3 .1 .4 3 .3-3.4 .3 1.9 .4-2 .3 .5 .3-2.2 .3 4.8 .4-2.2 .3-5.8 .3 5.9 .4 0 .3 0 .3 1.3 .4-5 .3 1.7 .3 4 .3-2.5 .4 4.6 .3-8.3 .3 3.1 .4-.5 .3 4.1 .3-5.5 .4-.2 .3 .3 .3 .8 .3 3.3 .4-2.7 .3 4.6 .3-.1 .4-1 .3-2.8 .3 5.4 .4-3.3 .3-3.8 .3 4 .3-.2 .4-3.9 .3 6.7 .3-3.3 .4-3.4 .3 .3 .3 3.4 .4 .3 .3 1.8 .3-.5 .3-6.2 .4 3.1 .3-1.6 .3-1.8 .4-.9 .3 3.8 .3-6.7 .4 10.5 .3-2.4 .3 3.7 .3-9.7 .4 4.4 .3 .8 .3-1.6 .4-4.1 .3 6.8 .3-8.6 .4 7.3 .3 4.1 .3-2.6 .3-4.4 .4 1.2 .3 2.9 .3-.6 .4 2.9 .3-1.3 .3-4.5 .4-4.1 .3 6.3 .3-4 .3 5.1 .4 .6 .3 .5 .3-5.4 .4 4.5 .3-5.9 .3 3.1 .4 1.6 .3 5.1 .3-16.1 .3 13.7 .4-1.5 .3-3.6 .3-2.4 .4 9.4 .3-1 .3-8.5 .4 10.2 .3-9.2 .3 7.1 .3 .3 .4-5.2 .3 13.7 .3-2.7 .4-7.8 .3-5.1 .3-.3 .4 .7 .3 9.2 .3-6.2 .3 8.1 .4-1.7 .3-6.2 .3-4 .4-5.9 .3 12.5 .3-1.4 .4-.8 .3 4.1 .3-3.2 .3-2.5 .4 3.6 .3-8.9 .3 3.9 .4 3.2 .3 9.7 .3-7.9 .4 12.5 .3-13.6 .3-6.1 .3 2.6 .4-1.9 .3 15.4 .3-13.1 .4 7.9 .3-2.5 .3 4 .4-8.4 .3 7.2 .3-11.6 .3 13.3 .4-7.4 .3 .6 .3 8.5 .4-6.9 .3 4 .3-2.8 .4-3.6 .3-6.2 .3-1 .3 14.2 .4 2.1 .3-3 .3-6 .4-6.4 .3 14.6 .3-5.5 .4-3.3 .3-6 .3 13.8 .3-4.2 .4-11.1 .3 11.4 .3-.2 .4-9.2 .3-.6 .3 12.9 .4 4.8 .3-7.7 .3 4.3 .3-3.9 .4 2.1 .3-7.4 .3-12.1 .4 8.7 .3 2.7 .3 5.4 .4 8.9 .3 19.5 .3-16.6 .3-11.3 .4-11.3 .3 5.1 .3-6 .4-5.3 .3 18.5 .3-13 .4-3 .3 2 .3 7.4 .3 4.8 .4 9.9 .3-21.5 .3 15.4 .4-14.3 .3 2.7 .3-2.7 .4 6.9 .3 3.6 .3-10.6 .3 4.8 .4-8.8 .3 10.2 .3 11.9 .4-14.1 .3-3.1 .3-1.3 .4 12.4 .3-13.2 .3 9.2 .3-2.4 .4 5.8 .3 .6 .3 1.8 .4-16.7 .3 6.3 .3 5.6 .4-2.2 .3 1 .3-14.8 .3 23.5 .4-8.5 .3 4.7 .3-4.5 .4 .7 .3 .1 .3-5.1 .4-7.1 .3 9.1 .3-4.3 .3 17.1 .4-17.3 .3 7.6 .3-10.5 .4 5.6 .3-.6 .3 7.5 .4-7.2 .3-2.5 .3 7.6 .3-.7 .4-4.5 .3 9 .3-8.1 .4-1.9 .3 12.9 .3-3.5 .4-8.9 .3 2.6 .3-2 .3 .4 .4 10.3 .3-7.5 .3 .4 .4 1.3 .3 2.9 .3-5.8 .4-2.5 .3 5.8 .3-7.6 .3 6.8 .4 1.2 .3 .5 .3-1.4 .4 2.1 .3-14 .3 15.6 .4 4.6 .3-18.2 .3 12.9 .3-9.3 .4 8.2 .3-.7 .3-8 .4-9.9 .3 23 .3-2.6 .4 7.7 .3-15.1 .3-6.2 .3 1.3 .4 20.9 .3-18.8 .3 2.9 .4-15.7 .3 26.8 .3-10.1 .4-4.7 .3 5.4 .3-5.1 .3 8.5 .4-4.1 .3 3.5 .3-7.8 .4 14.8 .3-18.3 .3 10.8 .4 2.1 .3-11.6 .3 4.9 .3 4.2 .4 1.8 .3 8.3 .3-16.1 .4-4.6 .3 1.1 .3 12.7 .4-3.3 .3-11.2 .3 5.7 .3 1.1 .4-13.9 .3 7.9 .3 21.1 .4 .7 .3 15.3 .3-18.5 .4-15.9 .3-2.6 .3 13.2 .3 6 .4-13 .3-1.2 .3 8.8 .4 .6 .3-1.4 .3-6.5 .4 8.1 .3-10.6 .3-.8 .3-28.4 .4 25.6 .3-.4 .3 2.4 .4 10.9 .3-2.7 .3-2 .4 10.4 .3-14.8 .3 9.7 .3-3.7 .4 15.7 .3-7.7 .3-13.1 .4 8.4 .3-14.1 .3 15.3 .4-4.8 .3 1.2 .3-4.4 .3 7.1 .4-7.7 .3 8.5 .3-1.2 .4-4.6 .3-3.2 .3 8.3 .4-17.2 .3 16.7 .3-2.4 .3 4.6 .4-1.4 .3-.1 .3-.6 .4-3.7 .3 2.7 .3 5 .4-6.2 .3 1.3 .3 1.6 .3-6.9 .4-1.9 .3 .6 .3 7.1 .4-3 .3-1.7 .3-3.3 .4 2.4 .3-.4 .3 1.5 .3 3.1 .4-5.8 .3 6.2 .3-6.2 .4 5.2 .3-2.8 .3 6.5 .4-3.1 .3 2.8 .3-.7 .3-5.9 .4 3 .3 6.6 .3-19.8 .4 18.1 .3-13.2 .3 6.1 .4 .7 .3-1.2 .3-.8 .3 9.3 .4-11.8 .3 4 .3 1.3 .4-9.2 .3 3.2 .3 1.7 .4 5.7 .3-8.8 .3 14.5 .3-12.3 .4-2.2 .3 13.1 .3-1.3 .4 7.8 .3-17.9 .3 13.6 .4-14 .3 3 .3-.6 .3 2 .4-3.9 .3 22.8 .3-15.2 .4-2.9 .3 6.2 .3-10.8 .4 7.1 .3-.4 .3-5.1 .3 7.7 .4-6.5 .3 .7 .3 2.1 .4-7.1 .3 1.7 .3 3 .4 5.4 .3-8.9 .3 1.7 .3 18.5 .4-13.6 .3 5.3 .3 4.8 .4-4.2 .3-8.8 .3 .7 .4 .8 .3 5.8 .3-6.7 .3 3.9 .4 3.3 .3-9.7 .3 1.3 .4 3.3 .3-.4 .3-2.6 .4 2.3 .3-4 .3 3.1 .3-1.9 .4 3.5 .3-7.4 .3 13.8 .4-13.3 .3 9.3 .3 1.6 .4-6.1 .3 5 .3-11.1 .3 19.1 .4-9.1 .3 2.8 .3-14 .4 13.9 .3 2.7 .3-8.1 .4-11.6 .3 6.1 .3 1.7 .3 1.1 .4-12.9 .3 14.7 .3 2.1 .4 1 .3 4.1 .3-13.2 .4 1.9 .3-.2 .3-.7 .3 2.9 .4 7.2 .3-3.5 .3-1.5 .4 2.3 .3 1 .3-2.4 .4-11.8 .3 6.7 .3 5 .3-.3 .4-4 .3 11.6 .3-.9 .4-10.6 .3 22.1 .3-25.4 .4 15.5 .3-15.3 .3 13.1 .3-5.4 .4 .6 .3 8.4 .3-5 .4-5 .3 1 .3-7.5 .4-1.3 .3 5.1 .3 2.5 .3 1.1 .4 .8 .3 10.3 .3-18 .4 2.5 .3 17.4 .3-17.7 .4 7.1 .3-7.5 .3 1.6 .3 7.2 .4 2.5 .3-1.7 .3-3.3 .4 2.8 .3-7.8 .3 2.6 .4-1.5 .3 5.6 .3-3.7 .3 1.3 .4 .2 .3 2.5 .3-6 .4 13.1 .3-5.9 .3-9.4 .4 8.9 .3-9.5 .3-6.2 .3 4.6 .4 9.3 .3-5.6 .3 3 .4-16 .3 21.3 .3-4.4 .4-.7 .3 .4 .3 3.3 .3-7.1 .4 1.1 .3-12.6 .3 5.1 .4 16.4 .3 2.7 .3-6 .4-1.4 .3-.8 .3 .2 .3 7.4 .4-12.8 .3 5.2 .3 9.5 .4-2 .3-9.7 .3-1.9 .4-6.6 .3 8.6 .3 6.1 .3-4.7 .4-11.1 .3 17 .3-1.5 .4-2.5 .3-9.5 .3 8.9 .4 2.8 .3-15.8 .3 7.7 .3 5.3 .4-5.1 .3-4.9 .3 12.2 .4 1.2 .3-1.5 .3-10.2 .4 7.1 .3-11.9 .3 26.5 .3-15.4 .4 .7 .3 13.7 .3-14.2 .4-1.1 .3 1.8 .3 2.4 .4-7 .3 13.8 .3-21.3 .3 16.3 .4-2.7 .3 6.1 .3-9.1 .4-8.1 .3-2.9 .3 12.6 .4 .5 .3-4.5 .3-.6 .3 .9 .4-5.3 .3 2.2 .3 5.4 .4 6.5 .3-.1 .3-4.3 .4 6.8 .3-6.6 .3-5.7 .3 10.7 .4-16.2 .3 11 .3 .4 .4 7 .3-10 .3 7.2 .4-2.3 .3 9.5 .3 1 .3-9 .4-10.3 .3 5.8 .3 5.5 .4-4 .3-5.9 .3-.8 .4-.6 .3 1.3 .3 9 .3 7.4 .4-9.5 .3 6 .3-7.3 .4-5.6 .3-4.6 .3 6.8 .4 1.6 .3 7.6 .3 3.5 .3-12.8 .4-4.7 .3 5.8 .3 7 .4-8.5 .3 .5 .3-14.3 .4 11.7 .3 5 .3-3.7 .3 4.6 .4-3.4 .3 4.4 .3 1.5 .4-12.1 .3 9.1 .3-.4 .4 2.2 .3 8.6 .3-11.1 .3-12.6 .4 15 .3-5.5 .3 10.3 .4-10 .3 8.3 .3-5.8 .4-4.9 .3 6.3 .3 1.3 .3-.3 .4-8 .3 8.8 .3 2.6 .4 1.5 .3-19.2 .3 5.9 .4 8.6 .3-14.8 .3 21 .3-10 .4 1.4 .3-2.7 .3-1.9 .4 3.7 .3 2.6 .3 8.2 .4-11.8 .3 2.4 .3 2.6 .3-3.4 .4 9.4 .3-9.4 .3-5.2 .4-4 .3 11.8 .3-6.7 .4 4.2 .3-.6 .3 4.1 .3-7.5 .4 3.8 .3 4.8 .3 2.7 .4-14.3 .3 11.3 .3-7.5 .4 5.2 .3 3.3 .3-13.6 .3-5 .4 16.9 .3-9.9 .3 6 .4 1.2 .3 5.5 .3-12.9 .4 10.1 .3-.1 .3-2.6 .3-11 .4 5.2 .3 4 .3-.6 .4-7.7 .3 9.3 .3-10.8 .4 14.6 .3-16.6 .3 21.4 .3-9.7 .4 9 .3-14.3 .3 5.1 .4 2.8 .3-.7 .3-3.3 .4-.2 .3 9.7 .3-2.4 .3-11.7 .4 10.2 .3 7.7 .3-4.6 .4-9.3 .3 4.7 .3-8 .4 3.9 .3-7.8 .3 11 .3-5.2 .4-2.3 .3 1.1 .3-6.1 .4 19.5 .3-9.2 .3-2.1 .4 10.9 .3-.4 .3-6.1 .3-9.2 .4 7.4 .3 3.5 .3-9.1 .4 8.6 .3-4.8 .3 7.5 .4 2.4 .3 4.3 .3-5.3 .3-1 .4 3 .3-15.5 .3 11.5 .4 4.5 .3-4.8 .3-19.1 .4 23.7 .3-16.7 .3 6.2 .3 9.3 .4-10.1 .3-.1 .3-3 .4 8 .3 8.2 .3-8.6 .4-9.7 .3 24.1 .3-19.8 .3 10.6 .4-10.6 .3 3.1 .3-7 .4 9 .3 .7 .3 1.9 .4-2.1 .3-.5 .3-6 .3-1.1 .4-.9 .3-1.7 .3 13.4 .4-5.5 .3 7.6 .3-9.5 .4 3.4 .3 5.1 .3-7.2 .3 8.9 .4-10.9 .3 .4 .3 3.5 .4 6.8 .3 2 .3-16.6 .4 2 .3 4.3 .3-6.3 .3 6.7 .4 6.9 .3-5 .3 4.5 .4 .1 .3 1.6 .3 3.6 .4-9.6 .3 .1 .3-1.2 .3 7.6 .4-.1 .3-13.3 .3 4.8 .4-8.9 .3 3.3 .3-4.6 .4 21.6 .3-13.5 .3 6.5 .3 2.6 .4 1 .3-20.2 .3 12.3 .4-1.8 .3 4.6 .3-5.2 .4 9.9 .3-13.3 .3 8.9 .3-12.5 .4 9.8 .3-.9 .3 3 .4-2.6 .3-14.3 .3 19.3 .4-4.6 .3 .1 .3 3.7 .3-1.9 .4 .8 .3-2.8 .3 4.5 .4-9.8 .3 3.6 .3 10.9 .4-9.7 .3 6.7 .3-10.3 .3-2.8 .4 3.1 .3-9.2 .3 1.6 .4 7 .3 1.2 .3 1.9 .4 6.6 .3-6.2 .3 .6 .3 7.7 .4-5.6 .3 5.8 .3-10.3 .4-5.3 .3 8.1 .3-13.1 .4 5.6 .3 3.5 .3-2.5 .3 1.5 .4 1.5 .3-5.5 .3 15.8 .4-8.8 .3-1.4 .3 3 .4-11.9 .3 11.5 .3 3.5 .3 5 .4-9 .3-5 .3 11.8 .4-5 .3-.1 .3-11.1 .4 11.1 .3 4.7 .3-9.6 .3 5.1 .4 10.7 .3-13.7 .3 7.9 .4-11 .3-1.2 .3-.8 .4 6.2 .3-4.5 .3 .8 .3 4.4 .4 1.9 .3 9.3 .3-15.2 .4 .1 .3 .8 .3 16.7 .4-13.7 .3-1 .3-12.6 .3 12 .4-1 .3 5.3 .3-1.7 .4-1.3 .3 4.4 .3-15.2 .4-1.4 .3 1.2 .3 10.7 .3-5.5 .4 3.3 .3 5.1 .3 3.8 .4-10.6 .3 4.4 .3-2.2 .4 2.6 .3 27.7 .3-28 .3-10 .4 10.1 .3 8.4 .3-17.9 .4 16.5 .3-11.7 .3 1.3 .4 3.7 .3-13.9 .3 6 .3 7.3 .4-4.9 .3 5.7 .3-6 .4 3.2 .3 3.3 .3-2.9 .4 1.8 .3-6.4 .3 2.7 .3 1.5 .4-1.5 .3 3.8 .3 1.6 .4-15.6 .3 2.7 .3 13.1 .4-5.7 .3 2.3 .3 8.5 .3-18.6 .4 10 .3 7.9 .3 .7 .4-4.6 .3-.8 .3 4 .4-18.3 .3 22.8 .3-10.6 .3 6.8 .4 3 .3-4 .3-2.9 .4-5.6 .3 .4 .3-9.2 .4 12 .3-.5 .3-3 .3 1 .4 11.5 .3-14.5 .3 14 .4-11.8 .3-8.8 .3 7.4 .4 5 .3-4.2 .3 4.6 .3-4.5 .4 6.4 .3-3 .3 2.8 .4-7.1 .3 8.3 .3-11.3 .4 5.9 .3 3.8 .3-12 .3-.6 .4 5.4 .3-7.1 .3 7.3 .4 11.5 .3-4.3 .3-4 .4 6.3 .3-3.2 .3-13.5 .3 5.2 .4-7.9 .3 7.9 .3 8.3 .4-2.6 .3 4.6 .3 2.5 .4-8 .3-5.1 .3 7.5 .3-10.1 .4 17.4 .3-12.2 .3-2.3 .4 6.5 .3 4.5 .3-.7 .4-8.2 .3-2.4 .3 3.1 .3 1.6 .4-1.2 .3 1.1 .3 .8 .4 1.6 .3-2.1 .3-1.4 .4 1.9 .3-2.4 .3-5.7 .3 9 .4 3.4 .3 .1 .3 4.4 .4-6 .3-6.9 .3 11.4 .4-5.2 .3-7.2 .3-2 .3 8.6 .4-10 .3 11.8 .3 1.1 .4-11 .3-1.2 .3 12.8 .4-10.3 .3 2.8 .3 5.1 .3 .8 .4-4.4 .3-2.4 .3-.5 .4 .1 .3 10.6 .3-.9 .4 5.4 .3-11.1 .3-4.4 .3 6.1 .4-3.9 .3 .8 .3 .1 .4 7.7 .3-.8 .3-6.2 .4 4.2 .3-4.5 .3 1.3 .3-5.6 .4 9 .3-6.3 .3-1.4 .4-4.6 .3 15.6 .3-3.7 .4-12.3 .3 16.2 .3-12 .3 .5 .4 5.6 .3-.4 .3 4 .4-3.8 .3-5.6 .3 2.8 .4 14.6 .3-8.1 .3 8.9 .3-11.6 .4-5.8 .3 .9 .3 1 .4-4.9 .3 4.4 .3 7.7 .4-5.4 .3-2 .3-2.7 .3 7.4 .4-4.8 .3 6 .3 .2 .4 6.7 .3-10.2 .3 5.7 .4-6.3 .3-.5 .3 13.3 .3-4.2 .4-20.6 .3 5.4 .3 8 .4-5.7 .3 7 .3-.5 .4-7.1 .3 4.8 .3 .5 .3-3 .4 3.3 .3 3.5 .3 2.6 .4-1.4 .3 9.3 .3-19.6 .4-.7 .3 4 .3 .3 .3 10.1 .4-4.1 .3 6.1 .3-10.7 .4 8.7 .3-7 .3 8.1 .4-3.8 .3-12.5 .3 .2 .3-1.3 .4 13.2 .3-4 .3-4.9 .4 6.2 .3 11.4 .3-6.7 .4-2.7 .3 3.7 .3-4.7 .3-5.5 .4 4.3 .3 3.2 .3-19.2 .4 7.4 .3 1.9 .3 17.6 .4-9.3 .3 11.7 .3-7.2 .3-13.8 .4 2.5 .3-5.7 .3 11.2 .4 0 .3-6 .3 9.7 .4-6.3 .3-3.9 .3 13.4 .3 2.6 .4-1.8 .3-6.3 .3 8.6 .4-13.6 .3-.3 .3-.7 .4 29.3 .3-26 .3-.1 .3-6 .4-2.4 .3 5 .3 11.8 .4-20.8 .3 22.6 .3-13.9 .4 8.1 .3 4.8" fill="none" stroke="#0000ff" stroke-width="0.9" clip-path="url(#cr7)"/>
<path d="M668.7 591.1l.3 1.2 .4 2.1 .3 1.9 .3-1.4 .4-2.5 .3 .4 .3-2.5 .3 4.7 .4-2 .3 3.7 .3-2.3 .4 .3 .3-2.6 .3 .3 .4 1.1 .3-2.3 .3 2.6 .3 1.1 .4-1.1 .3 .2 .3-1.3 .4 2.4 .3 .3 .3 .8 .4-5.3 .3 1.6 .3 2.5 .3 0 .4-3.3 .3 .6 .3 2.5 .4-.1 .3 1.8 .3-.2 .4-3.3 .3-.9 .3 2.4 .3-1.8 .4-1.9 .3 2.2 .3 1.3 .4-3.5 .3 2 .3 .5 .4 .5 .3 3 .3-.9 .3 0 .4-2.4 .3-.6 .3 .1 .4 3.7 .3-1 .3-2.2 .4 .6 .3 .9 .3 1 .3-5.5 .4 4.1 .3 .7 .3-1.2 .4-3.9 .3 4 .3-.2 .4-2.4 .3 .3 .3 1.8 .3-.6 .4 .6 .3 .5 .3 2.1 .4-4.4 .3-2.6 .3 5.6 .4-1.6 .3 .3 .3-.1 .3-.7 .4-3.5 .3 5.2 .3-3 .4 3.2 .3-2.3 .3 5.8 .4-2.8 .3-2.4 .3 1.5 .3-2.4 .4 2.5 .3 1 .3-3.6 .4 1.8 .3 0 .3-.7 .4 1.9 .3-2.7 .3 3.7 .3-3 .4-2.2 .3 2.8 .3-.4 .4 2.1 .3-4.3 .3 .8 .4 7.7 .3-5 .3-2.1 .3 .8 .4 2.2 .3-3 .3 1 .4-2.4 .3 2.8 .3-1.2 .4-1.9 .3 4.9 .3-2.4 .3 1.8 .4 .5 .3-1.2 .3 3.5 .4 1.8 .3-6.9 .3 4.9 .4-7.5 .3 9.2 .3-4.7 .3 2 .4-3.1 .3-.2 .3 .7 .4-.6 .3 2.3 .3-.6 .4-3.9 .3 2 .3-.3 .3 .1 .4 3.4 .3-1 .3 .3 .4-1.4 .3 1.9 .3-4.3 .4 1.5 .3 4.8 .3-4.8 .3 2 .4 1 .3 1.9 .3-2.8 .4-.9 .3 1.5 .3 .7 .4 4.1 .3-6.9 .3-.2 .3 .1 .4 3 .3-.2 .3-1.5 .4-1 .3 .5 .3-.2 .4-3 .3 5.4 .3-3.3 .3 3.1 .4-.2 .3 .5 .3-3.3 .4 2.8 .3-2.4 .3-2.7 .4 5.5 .3-2.6 .3-.1 .3-2.1 .4 1.9 .3-1.6 .3 2.3 .4 .2 .3-2.4 .3 0 .4 3.8 .3-1.2 .3-1.7 .3-3.9 .4 6 .3-1.1 .3 2.1 .4-.3 .3-.3 .3-2.6 .4-.9 .3 2.1 .3 .5 .3 6.3 .4-6.4 .3-4.6 .3 9 .4-3 .3-.6 .3-.3 .4 1.4 .3-7.2 .3 3.9 .3 2.2 .4-.3 .3 4.2 .3-4.9 .4 1.2 .3 3.3 .3-5.5 .4 .2 .3-1.8 .3 4.8 .3-6.8 .4 7.2 .3 1 .3-5.3 .4 5.9 .3-2.1 .3-1.1 .4-.2 .3 4.3 .3 .6 .3-8.6 .4-2 .3-1.5 .3 10 .4-3.2 .3-1.5 .3 8.5 .4-2.3 .3-4.6 .3-1.8 .3-3.6 .4 5.6 .3 1.7 .3-7.1 .4 .9 .3 13 .3-9.4 .4 .1 .3-.1 .3-3.1 .3 3.3 .4 2.3 .3-3.6 .3 8.9 .4-6.4 .3-3.9 .3-1 .4 .6 .3-1.6 .3 11.8 .3-5.9 .4 6.5 .3-5 .3-3.4 .4-2.4 .3 1.6 .3-3.4 .4 17.8 .3-22.6 .3 10.8 .3 6.5 .4-5.9 .3-1.2 .3-5.2 .4 4 .3-4.3 .3 1.5 .4 1.2 .3 9.1 .3-16 .3-5.7 .4 9.9 .3 8.2 .3 2.9 .4-3.5 .3 8.9 .3-18.4 .4 2.1 .3-4.1 .3 11.6 .3 4.5 .4-10.6 .3 3 .3-2.7 .4 1.6 .3 3.2 .3 1.3 .4-8 .3 10 .3-3.8 .3 3 .4-4.7 .3-.8 .3 7 .4-9.9 .3-2.9 .3 9.7 .4 1.3 .3-8.5 .3 10.6 .3-6.9 .4 8.4 .3-1.7 .3-11.3 .4 9.2 .3 2.3 .3 1.5 .4-18.7 .3 21.6 .3-18.3 .3 12 .4 1.4 .3 5.1 .3-25.4 .4 13 .3 2.5 .3 1.6 .4 .1 .3-8.5 .3 16.3 .3-1.3 .4 .6 .3-14.6 .3-2.6 .4 14.2 .3-10.6 .3-8 .4 18.5 .3-7.7 .3-1.3 .3-2.6 .4 18.8 .3-13.5 .3-3.8 .4 14.6 .3-12.3 .3 21 .4-16.6 .3-13.4 .3 4.3 .3 5.5 .4 3.9 .3 2.4 .3-5.9 .4 2.2 .3 .5 .3-2.8 .4 5.8 .3-3.7 .3 1.6 .3-4 .4-3.7 .3-3.5 .3 14.8 .4-.8 .3-1.2 .3-3.3 .4-8.4 .3 8.1 .3 .3 .3-11.4 .4 7.1 .3 1.8 .3-.6 .4-10.9 .3 19.2 .3-7.2 .4 .3 .3 4.6 .3-6 .3 5.5 .4-3.5 .3 .9 .3 3.2 .4-10.6 .3-.1 .3 7 .4-5.2 .3 5.8 .3 10.6 .3-7.7 .4-4.6 .3-.9 .3 8.3 .4-13.3 .3 13.8 .3-4.4 .4-8.5 .3 6.2 .3 9.5 .3-12.2 .4-2.1 .3-3.9 .3 9.7 .4 3.8 .3-3 .3-2.7 .4-5.6 .3 9.9 .3-5.1 .3 6.1 .4-8 .3 16.8 .3-13.4 .4-3.5 .3 16.7 .3-9.3 .4 11.9 .3-15.4 .3-7.5 .3 .9 .4 15.9 .3-17.5 .3 13.3 .4-.5 .3-6.8 .3 2.3 .4-4 .3 4 .3 10 .3-3.1 .4-11.5 .3 7 .3-3.4 .4 2.9 .3-5.6 .3 8.7 .4 1.2 .3-19.4 .3 13.7 .3-5.4 .4 7.3 .3-2.4 .3-5.7 .4 5 .3 10.5 .3-6.2 .4-9.5 .3 9.3 .3 2.1 .3-14.7 .4-7.2 .3 23.8 .3 .5 .4-1.5 .3-.2 .3 .7 .4-4.1 .3 13.5 .3-14.2 .3 1.1 .4-1.9 .3 3.4 .3-5.7 .4 18.7 .3-22.7 .3 5.5 .4-7.8 .3 18.8 .3 22.5 .3-45.3 .4 2.9 .3 14.2 .3-3.9 .4 1 .3-1.5 .3 11.7 .4-8.5 .3-2.4 .3-10.7 .3 18.8 .4-19 .3 7.1 .3-4.5 .4 8 .3-4.6 .3-1.6 .4 15 .3-13.7 .3 .6 .3-2.6 .4 2.5 .3 3.2 .3 .3 .4 4.5 .3-6.4 .3-5.6 .4 7.2 .3 .7 .3 2.8 .3 2.1 .4-4.4 .3-9.9 .3 13 .4-10.8 .3 3.3 .3 6.5 .4-.5 .3-8.6 .3 8.7 .3-9.9 .4 14.2 .3-18.8 .3 11.4 .4-1.8 .3-6.3 .3 3.6 .4 7.4 .3 .5 .3-6.3 .3 9.6 .4-6.8 .3-1.5 .3 2 .4 2.2 .3-6.3 .3-5.5 .4 15.7 .3-.4 .3-10.1 .3 .1 .4 4.7 .3-.3 .3-10.8 .4 6 .3 4.7 .3-6.8 .4 1.7 .3 2.9 .3 .5 .3 7.8 .4-7.3 .3-4.5 .3 2.7 .4 5.4 .3-2.1 .3 .8 .4-1.7 .3-5.5 .3 1.7 .3 3.9 .4 3.5 .3-11.2 .3 6.7 .4-1.9 .3 .1 .3 9.7 .4-9.9 .3 6 .3-3 .3-3.6 .4 4 .3-6.3 .3 1.1 .4-1.4 .3 5.2 .3 1.5 .4-3.1 .3 1.7 .3 1.5 .3 1.7 .4-3.7 .3-2.8 .3 5.8 .4-3.7 .3 10.4 .3-12.6 .4-4 .3 13.1 .3-13.2 .3 8.8 .4-.8 .3 10.4 .3-6 .4-1.9 .3 .1 .3 2.7 .4 .7 .3-6.8 .3 2.3 .3-1.9 .4 .3 .3 1.5 .3-8.9 .4 12.1 .3-6.6 .3-5.6 .4-1.3 .3 10.3 .3 6.9 .3-9.5 .4-4 .3 4.2 .3 5.9 .4-8 .3-3.4 .3 .9 .4 2.3 .3 3.2 .3 2.8 .3-1.8 .4 13.8 .3-11.7 .3-5.4 .4-2.6 .3 6.4 .3-4.5 .4-1.5 .3-1.3 .3 2 .3 15.3 .4-15.8 .3 12 .3-.4 .4-5.4 .3-2.9 .3-.3 .4 .7 .3-3.7 .3 5.4 .3-.7 .4 7.8 .3-7.7 .3-1.3 .4-.7 .3 3.1 .3-5.1 .4-6.9 .3-2.7 .3 16.9 .3 4.4 .4-3.9 .3-1.7 .3-2.3 .4 .8 .3-5.2 .3 13.4 .4-12.1 .3-.6 .3 .8 .3-3.3 .4 4 .3 6.8 .3-6.5 .4-1.3 .3 .5 .3 6.6 .4 8.6 .3-3.3 .3-10.4 .3 5.4 .4-13.3 .3 5.3 .3 7 .4-3.7 .3-.2 .3 4.9 .4-8.2 .3-2.6 .3-2.7 .3 9 .4 3.2 .3-10.4 .3 10.5 .4 1 .3-4.8 .3-8.1 .4 2.8 .3 8.8 .3-3.1 .3 .8 .4-1.7 .3-.8 .3 1.6 .4-2.5 .3-4.5 .3-.3 .4 6.1 .3-6.1 .3 6.7 .3 .7 .4-1.8 .3 1.6 .3-3.4 .4-1.3 .3 4.4 .3 3.3 .4 4.9 .3-5.6 .3 2.7 .3-9.4 .4 11.7 .3-5.3 .3 2.8 .4-4.2 .3-1.6 .3 2.6 .4-8.9 .3 2.3 .3-.9 .3 .7 .4 9.1 .3-8.7 .3 .7 .4 1.3 .3-.4 .3 3 .4-.3 .3-4.4 .3 10.7 .3-11.6 .4-1.8 .3 6.1 .3 4.1 .4-6 .3-.7 .3 9.8 .4-4.2 .3 1.5 .3-2.7 .3-7.8 .4 9.4 .3 3.5 .3-2.3 .4 6 .3-9 .3 1.9 .4 2.6 .3-5.1 .3-4 .3 1.5 .4-2.4 .3 6 .3-6.1 .4 15.3 .3-16.7 .3 8.6 .4-3.5 .3-1.9 .3 4.7 .3 1.4 .4-3.3 .3-2 .3 2.4 .4-12.7 .3 16.4 .3-2.1 .4-8.4 .3 6.9 .3 4.8 .3-6.4 .4 0 .3 1 .3 9.3 .4-5.1 .3-9 .3 5.1 .4 3.4 .3 2.1 .3-5.4 .3-1.5 .4 8.5 .3-6.6 .3 .5 .4 6.4 .3-7.3 .3-15 .4 17.6 .3-.2 .3 2.6 .3-3.7 .4 2.4 .3-2.3 .3 11.9 .4-14.9 .3 1.4 .3-.3 .4 6.1 .3-10.3 .3 1.8 .3 4 .4-2.7 .3 3.2 .3 5 .4-5.9 .3 3.9 .3-2.4 .4-8.2 .3 8 .3 3 .3-10.6 .4-.8 .3 4.9 .3 8.7 .4 6.7 .3-14.9 .3-1 .4 .9 .3 2.6 .3-2.3 .3 3 .4-11.2 .3 8.5 .3 .5 .4-13 .3 10.3 .3 7 .4-.7 .3 7.8 .3-6 .3-5.8 .4-.8 .3 .3 .3 9.6 .4-12.8 .3-2 .3 .8 .4 7.6 .3 11.3 .3-12.6 .3 6.4 .4 3 .3-16.4 .3 5.6 .4-6 .3 5.4 .3 1.8 .4 13.1 .3-22.3 .3 10.7 .3-.1 .4-3.8 .3 5.4 .3-6 .4 2.4 .3 4.2 .3-8 .4 7.6 .3-2.5 .3-.5 .3 3.2 .4-4 .3 3.5 .3-9.4 .4 2.3 .3-1 .3 8.1 .4-2.2 .3-14.3 .3 12 .3-5.4 .4 6.6 .3-3.2 .3 4 .4 2.1 .3 4.6 .3-15.5 .4 14.3 .3-15.3 .3 13.8 .3-7.6 .4-8.7 .3 11.9 .3 .1 .4-3.9 .3 4.8 .3-5.9 .4-1.7 .3 2.6 .3 3.9 .3 8.3 .4-7.4 .3 1.3 .3 6.3 .4-12.9 .3 7 .3-8.2 .4-1.4 .3-2.3 .3 6.1 .3 1.1 .4-1.3 .3 7.1 .3-6.2 .4-4.6 .3 12.2 .3-9.2 .4 .5 .3 8.9 .3-12.6 .3 9.8 .4-5.7 .3-9.1 .3 2.9 .4 4.9 .3-4.4 .3 13.3 .4-4.7 .3 1.5 .3 3.1 .3-2.1 .4-7.7 .3 4.2 .3 3.7 .4-4.8 .3 2.7 .3-3 .4 2.1 .3-.3 .3-2.3 .3-7.5 .4 9.8 .3-.8 .3-8.3 .4 13 .3-8.7 .3 2.8 .4 5.2 .3-3.4 .3 3.3 .3-6.8 .4 17.5 .3-11.4 .3-4.6 .4 1.8 .3-2.2 .3 4.1 .4-3.5 .3 6.1 .3-9.8 .3 3.5 .4-.2 .3 11.8 .3-13.7 .4 3 .3-5.2 .3 1 .4-.2 .3 10.3 .3 1.3 .3-3.8 .4 1.5 .3-6.3 .3-8.4 .4 5.9 .3 9.2 .3-1.4 .4-3.4 .3-6.5 .3 3.6 .3 9.9 .4 7.1 .3-7.4 .3-11 .4 1.7 .3-.6 .3 7 .4 6.1 .3-6.7 .3-2.5 .3 1.5 .4-2.2 .3 5.3 .3-11.3 .4 5.7 .3 .8 .3-2.5 .4-6.2 .3 6.3 .3 1.2 .3 .3 .4-5.1 .3 9.5 .3-10.1 .4-1.1 .3 14.4 .3-17.2 .4 6.2 .3 7 .3-.8 .3 4.2 .4-6.4 .3 1.9 .3 2.3 .4-8.7 .3 6.7 .3-9.8 .4 1.5 .3-.6 .3 8.6 .3 .4 .4-2.8 .3-5.8 .3-1.8 .4 6.1 .3 2.4 .3 1.1 .4 4 .3-3.7 .3-6.5 .3-.1 .4 1.8 .3-2.4 .3 3.9 .4-5.5 .3 3.4 .3-6.8 .4 20 .3-16.7 .3 4.7 .3 3.4 .4-1.3 .3-1.2 .3 .7 .4-2.3 .3-2 .3 3.3 .4 1.5 .3 2 .3-.4 .3 2.5 .4 5.8 .3-6.5 .3-10.7 .4 13.9 .3-4.9 .3 5.2 .4-8.6 .3 3.4 .3 1.8 .3-.6 .4-4.1 .3 5.3 .3-4.9 .4 4.6 .3-7.7 .3 3.7 .4-6.4 .3 7.9 .3-3 .3 .3 .4 2.5 .3-6.6 .3 1 .4 5.8 .3-2.1 .3-7.4 .4 5 .3 10.3 .3 3.2 .3-4.5 .4-8.5 .3 1.6 .3-6.2 .4 5.9 .3-4.4 .3-1 .4 7.1 .3 4.9 .3-13.9 .3 11.6 .4-5.5 .3 5.6 .3 .6 .4-1.2 .3 4.8 .3-5.6 .4 2 .3 0 .3-2.4 .3-7.8 .4 6.8 .3 4.3 .3-9.1 .4 4.9 .3-3.2 .3 3.9 .4-4.5 .3-2 .3 10.4 .3 8.6 .4-13.8 .3-.1 .3-3.1 .4-8.8 .3 8.5 .3 8.2 .4-9 .3 10.8 .3-.8 .3-.9 .4 1.1 .3-9.5 .3 7.6 .4 5.4 .3-8.9 .3 4.1 .4 .9 .3-3.1 .3-2.8 .3-.9 .4-4.6 .3-.3 .3 7.1 .4 2.1 .3-5.3 .3-8.2 .4 14.1 .3 .3 .3 4.1 .3-6.4 .4 .3 .3-1 .3 3.2 .4-7.9 .3 6 .3-4.2 .4-11.2 .3 13.2 .3 9.3 .3-18.1 .4 5 .3 5.8 .3 2.1 .4-10.1 .3-2.3 .3 .4 .4 10 .3-1.5 .3-5.2 .3-1.3 .4 3.4 .3-1 .3 1.9 .4 .2 .3-7.2 .3 .3 .4 9 .3-4 .3 .7 .3 9.2 .4-8.9 .3-.7 .3 1.7 .4-6.6 .3 11.4 .3 1.1 .4-7.2 .3 9.1 .3 1.1 .3-8.5 .4 6.4 .3-13.1 .3 7.2 .4-5.8 .3-.7 .3 10.3 .4-4.2 .3 1.1 .3-.7 .3 1 .4 2.8 .3 2.8 .3-3.7 .4-18.8 .3 13.7 .3 4.3 .4 25.2 .3-25.6 .3-4.1 .3-1.3 .4 7.3 .3-5.5 .3 7 .4-10.3 .3-3.5 .3 20.9 .4-12.5 .3-.2 .3-2 .3-6.2 .4 13.4 .3-8.4 .3-1.2 .4 1.8 .3 8.2 .3 7 .4-11.2 .3-.7 .3 8.5 .3-5.9 .4-4 .3 2.5 .3 3.9 .4-.8 .3-1 .3 .5 .4-.2 .3-8.1 .3 5.4 .3-4 .4 1.7 .3-3.4 .3 1.8 .4 22.5 .3-10.7 .3-1.6 .4-10.8 .3 7.2 .3-9.4 .3-6.2 .4 5.6 .3 10.8 .3-6.5 .4 .4 .3 .6 .3-2.3 .4 3.6 .3 .3 .3 6.9 .3-4.1 .4-6.3 .3 2.1 .3-15.2 .4 12.5 .3 9.7 .3 .4 .4-5.9 .3 6.6 .3-3.3 .3 4.9 .4-11.7 .3 .4 .3 2.3 .4-3 .3 3.4 .3-2 .4 8.3 .3-19.4 .3 15 .3 .3 .4-10.9 .3 6.1 .3 8.7 .4-5.3 .3-2 .3-11.5 .4 14 .3-2.7 .3-.3 .3-4.3 .4 9.3 .3 .4 .3-5.2 .4 2.4 .3-2.6 .3-.1 .4-1.6 .3-2.7 .3 9.3 .3-9.4 .4 9.5 .3 1.5 .3-10.9 .4-2.7 .3 3.4 .3 10.9 .4-4.3 .3-7.8 .3 6.2 .3 10.7 .4-10.6 .3 13.2 .3-21.3 .4 10.4 .3-2 .3-10.9 .4 9.8 .3 5.3 .3-3.8 .3-1.3 .4 7.8 .3-3 .3-7.8 .4 1.8 .3 8.3 .3-10 .4 15.8 .3-7.6 .3-10.4 .3 1.1 .4-1.6 .3 .4 .3 12.2 .4-5.2 .3 11.8 .3-12.5 .4-17.2 .3 11.1 .3 .4 .3 3.9 .4 9.3 .3-3.6 .3-.2 .4-.1 .3-6.9 .3 11.9 .4-15.7 .3 10.4 .3-4.2 .3 1.4 .4 11.2 .3-6.8 .3 .3 .4-2.8 .3-10.8 .3 13 .4-4.4 .3 3.9 .3-2.1 .3-4.9 .4 2.8 .3-6.2 .3 9.6 .4-6.3 .3-1.1 .3-.5 .4 4 .3 5.1 .3 1.2 .3-7.3 .4-8.5 .3 9.2 .3-6.1 .4-1.9 .3 7.6 .3 2.4 .4 .3 .3-1.9 .3-.4 .3 1.6 .4-5.8 .3 2.3 .3-3 .4 1.1 .3 9.4 .3-14 .4 24.4 .3-21.6 .3 7.4 .3 2.9 .4-11.1 .3 9.1 .3-11.5 .4 10.5 .3-10.8 .3 10.1 .4-3.3 .3 10.4 .3-9.3 .3-4.6 .4 6.1 .3-1 .3-3.1 .4 1.2 .3 14.5 .3-22.6 .4 12.7 .3-6.2" fill="none" stroke="#00ff00" stroke-width="0.9" clip-path="url(#cr7)"/>
<path d="M668.7 593l.3-.2 .4 0 .3-1.3 .3 .6 .4-.5 .3 3.1 .3-2.5 .3-3 .4 2.8 .3-1.5 .3 1.5 .4-1.9 .3 5.5 .3-2.4 .4-.3 .3-1.3 .3-.7 .3 1.7 .4-2 .3-2.6 .3 2.1 .4 .9 .3 2.1 .3-1.6 .4 1.7 .3-2.4 .3 3.3 .3-3.4 .4-1.1 .3 3.1 .3-5.4 .4 5.6 .3-1.7 .3 1.1 .4 0 .3 2.4 .3-3.8 .3 2.5 .4-1 .3 .4 .3 1.9 .4-3.9 .3 .9 .3-1.2 .4 4.1 .3 2.1 .3-2.3 .3-3.7 .4 .5 .3 4 .3-3.4 .4-1.6 .3 .9 .3-.1 .4 4.5 .3-3.3 .3-1 .3 2 .4 .2 .3-1.5 .3 1.6 .4-.1 .3-3.4 .3 3.6 .4-1.6 .3 1.3 .3-2.1 .3 1.4 .4 2.1 .3-1.1 .3-.8 .4-.8 .3-.2 .3 .2 .4-.2 .3-.9 .3 .3 .3-.6 .4 2 .3-3.8 .3 3.9 .4 1.1 .3 .8 .3-9.8 .4 4.7 .3 3.6 .3-1.6 .3 4.9 .4-4.7 .3 .3 .3-1.2 .4 .4 .3 5.1 .3-2.7 .4-3.1 .3 7.7 .3-8.1 .3-1.7 .4 3.1 .3 4.5 .3-1 .4-5.2 .3 1.8 .3 3.3 .4-6 .3 0 .3 3.3 .3 4.1 .4-4.2 .3-1.9 .3 6.2 .4-4.6 .3-.3 .3-3.1 .4 .1 .3 6 .3-.6 .3-1.9 .4 0 .3 .6 .3 1.1 .4-2.6 .3 4.1 .3-1.3 .4-.1 .3-.9 .3-2.9 .3 1.8 .4 2.2 .3 2.6 .3-1.2 .4-5.2 .3 4.8 .3 1.1 .4-2.4 .3-.3 .3-2.6 .3 2.2 .4-5 .3 2.9 .3 3.5 .4-1.9 .3-.7 .3 .4 .4-.7 .3 2.1 .3-1.1 .3 2.5 .4-5.3 .3 2.3 .3-1.3 .4 1 .3-1 .3 0 .4 3 .3-.9 .3-3 .3 5.6 .4-2 .3-2.7 .3 3.9 .4-.8 .3 .3 .3-1.7 .4 .1 .3-1 .3 .5 .3-3.2 .4 4 .3 .3 .3 1.6 .4 1.1 .3-4 .3-1 .4 1 .3 2.1 .3-3.2 .3 2.3 .4-5.9 .3 9.8 .3-3 .4-1.3 .3 .7 .3 .5 .4-.5 .3-1.6 .3 2.2 .3 .7 .4 2.2 .3-7.8 .3 .8 .4 4.1 .3 .2 .3 .8 .4-4.1 .3 1.7 .3 1.7 .3-2.9 .4 1.6 .3 .2 .3 .4 .4-2.5 .3 1.4 .3-.3 .4 2.1 .3-3 .3 2.3 .3-5.8 .4 4.9 .3-2.2 .3 3.9 .4-1.5 .3-2 .3 3.6 .4-7 .3 7.8 .3-2.5 .3 1.5 .4-3.1 .3-2.2 .3 6.1 .4-.5 .3-5.2 .3 2.3 .4-2.3 .3 3.9 .3 3.9 .3-3.6 .4 2.8 .3-6.3 .3 .7 .4 1.8 .3 2.6 .3 .7 .4-10.1 .3 1.1 .3 10 .3-7.6 .4-1.8 .3 3.6 .3 5.2 .4-3.4 .3 .1 .3 3.2 .4 1.3 .3-2.5 .3-5.3 .3 5.4 .4 2 .3-3.4 .3 5.1 .4-5.1 .3-.3 .3-3.9 .4 3.9 .3-.5 .3 .9 .3 5.1 .4-1.2 .3-6.3 .3-4.7 .4 8.7 .3-.7 .3-9.6 .4 6.3 .3-4.6 .3 10.2 .3-9.1 .4 9.3 .3-7 .3-5.9 .4 7.4 .3-.4 .3 8.8 .4-9.2 .3 1.9 .3 .4 .3-3.4 .4 3.9 .3 2.3 .3-.2 .4-7.4 .3 .8 .3 .6 .4 .1 .3 3 .3-9.6 .3 8.3 .4 2.8 .3-7 .3-.9 .4 .7 .3 6.8 .3-1.2 .4-3.1 .3 4.5 .3-7.8 .3 .7 .4-3 .3 9.1 .3 .5 .4-4.7 .3 .3 .3 2 .4 2 .3 1.9 .3-8.2 .3 8.5 .4-4.1 .3-3.1 .3-.3 .4 3.4 .3 5.8 .3-7.8 .4 6.8 .3-2.5 .3-2.8 .3 10.3 .4-12.5 .3 6.5 .3-10.5 .4 3.5 .3-.4 .3 8.1 .4-5.6 .3-6.7 .3 .6 .3 12.7 .4-10.2 .3 3.8 .3-.5 .4 2.1 .3 .7 .3-4.9 .4 6.7 .3-8.2 .3 7.8 .3-5 .4 3.2 .3-.2 .3-8.9 .4 1.6 .3 4.6 .3 .8 .4 4.9 .3-.6 .3-5.9 .3 6.2 .4-2.4 .3-5 .3 7.5 .4-5.7 .3 0 .3 .5 .4 3.8 .3-.3 .3-5.4 .3-5.5 .4 6.1 .3 6 .3-4.4 .4-2.1 .3-.5 .3-5 .4 8.5 .3 2.1 .3-1.1 .3-.9 .4-.3 .3 1 .3-1 .4-5.5 .3 4.2 .3 2.2 .4 2.2 .3-9.9 .3-3.9 .3 7 .4 2.3 .3 2 .3 2.9 .4-5.1 .3 3.6 .3-1.5 .4-3.3 .3-4.1 .3 8.3 .3 3.7 .4-6.5 .3-5.2 .3 4.5 .4-.3 .3 9.4 .3 3.3 .4-13 .3 4.5 .3-7.2 .3 5.9 .4 2.4 .3-6.4 .3 5 .4 6.4 .3-16.1 .3 9.4 .4 3.7 .3-5.9 .3-3.3 .3 3 .4-9.9 .3 12.3 .3 13.3 .4-12.9 .3-3.1 .3 4.7 .4 5.3 .3-12.5 .3 .9 .3 .4 .4 3.3 .3 4.7 .3-8 .4 5.6 .3 4.4 .3-11.5 .4 4.8 .3 .2 .3-10.3 .3 9.7 .4 0 .3 5.8 .3-6.4 .4 1.2 .3 .9 .3 4.4 .4-10.9 .3 7.3 .3-3.5 .3-5 .4 2.6 .3 8 .3-11.7 .4 14.8 .3-7 .3 1.9 .4 .2 .3 7 .3-5.3 .3-6.6 .4-7.7 .3 10.1 .3 5.4 .4-3.8 .3 6.4 .3-11.5 .4-.2 .3 7.5 .3 1.4 .3 1.6 .4-9.5 .3 .4 .3 10 .4-5.8 .3 0 .3-1.4 .4 2.1 .3 .2 .3-6.4 .3 4.1 .4 1.4 .3-3.5 .3 6.2 .4-7.6 .3-8.1 .3 10.2 .4-.6 .3 1.6 .3-8.4 .3 9 .4-.7 .3-1.3 .3 3.9 .4 2.2 .3 1.7 .3-7.4 .4-4.2 .3-1.6 .3 8.1 .3 5.1 .4-9.5 .3 2.1 .3 1.3 .4-3.5 .3 2.1 .3 1.8 .4-6.7 .3 5.6 .3-.9 .3-1.9 .4 3.8 .3 .3 .3-4.5 .4 4.4 .3-.1 .3 1.4 .4-7.1 .3-4.2 .3 12 .3-1.1 .4-.5 .3 2.4 .3-2.5 .4-.7 .3 1.7 .3-4.9 .4-2 .3 1 .3-.8 .3 6.7 .4-6.2 .3 3.3 .3 4.7 .4-5.3 .3 3.4 .3 2.3 .4-1.7 .3-.2 .3-7.5 .3 1.9 .4-.7 .3 4.1 .3 4 .4-4.4 .3-.3 .3-9.1 .4 9.8 .3-.1 .3 4.3 .3-6.8 .4 2.9 .3-5.5 .3 6.1 .4 1.1 .3-2.8 .3 0 .4-3.4 .3 4.6 .3 2.1 .3-1.2 .4 1.7 .3-.9 .3 2.6 .4-5.4 .3-9 .3 8.6 .4 .7 .3-.6 .3 2.1 .3-11.6 .4 21.6 .3-13.6 .3-5.1 .4 10.3 .3 .2 .3-7 .4 5.2 .3-.6 .3-2.6 .3 2.7 .4 7 .3-13.3 .3 6.8 .4-.3 .3-1.4 .3-.7 .4-.1 .3-1.8 .3-3 .3 4.4 .4 5.7 .3 2.9 .3-7.5 .4 1.4 .3-4.5 .3-5.6 .4 7.7 .3 3 .3-9.9 .3 9.3 .4 5.5 .3-3.6 .3-4.8 .4 1.3 .3 5.4 .3-8.8 .4 3.2 .3 4.1 .3-7.3 .3 4.4 .4 1.3 .3-6.5 .3 6.7 .4-7.7 .3 6.2 .3-4.4 .4 6.6 .3-1.4 .3 1.6 .3 2 .4-4.8 .3 0 .3 1.7 .4-1.4 .3 2.6 .3-1.7 .4 1.1 .3 2.2 .3-9.6 .3 1.8 .4 2.4 .3-1 .3 3.9 .4-2.8 .3 7.9 .3-6.3 .4 2.4 .3-5.7 .3 3 .3 2.1 .4-5.5 .3-.2 .3 4.4 .4-1.5 .3 2.5 .3-.6 .4-5.5 .3 6.6 .3 .3 .3 1.3 .4-1.6 .3-10.4 .3 13.1 .4-4.7 .3 2.1 .3-3.1 .4-6 .3 2.6 .3 1.4 .3 7.6 .4-7.9 .3-.5 .3 .1 .4 6.7 .3-3.9 .3 4.9 .4-5.5 .3-2 .3 1.4 .3 2.8 .4-3 .3-1.1 .3 1.5 .4 4.4 .3-2.1 .3-6.9 .4 10.5 .3-4.7 .3-6.2 .3 13.1 .4-9.3 .3 1.2 .3 1.2 .4-4.8 .3 6.5 .3 .6 .4-7.9 .3 8 .3-4.3 .3-3.2 .4-.1 .3 3.4 .3-5.3 .4 8 .3-4.2 .3 3.6 .4-7.2 .3 4.5 .3 3.2 .3-.7 .4-8.2 .3 11.8 .3-1.5 .4 6.3 .3-11.1 .3-4 .4 6.2 .3-.2 .3 2.9 .3-6.3 .4 .7 .3 1.4 .3 3.1 .4 4.6 .3-.2 .3-9.4 .4-1.5 .3-2.9 .3 4.7 .3 7.7 .4-6.2 .3-.2 .3-.4 .4-3.5 .3 4.1 .3 1.3 .4 1.1 .3 2.3 .3-2.7 .3 .4 .4-1.2 .3 8.6 .3-3.9 .4-7.5 .3 9.4 .3-5.3 .4-.3 .3 4.6 .3-3.8 .3-1.5 .4-6.9 .3 12.1 .3-6.7 .4 1.5 .3-2.2 .3 3.4 .4-3.2 .3 4.5 .3-9.7 .3 11.5 .4-.8 .3-.8 .3-2.3 .4-2 .3 1.8 .3 .1 .4-5.4 .3 3.8 .3-.7 .3-3.7 .4 1.5 .3 2.4 .3 .8 .4 3.7 .3 .2 .3-4.8 .4 .8 .3 .4 .3-10.6 .3 11.9 .4 .4 .3 .8 .3-3.9 .4 3.4 .3-4.4 .3-1.4 .4 2.4 .3-5.2 .3 6.1 .3 .4 .4 1.7 .3-2.1 .3-5.9 .4 .7 .3 2.5 .3-1.5 .4 1.4 .3 1.3 .3 4.2 .3-3.8 .4 .9 .3 7.4 .3-6.9 .4 3.3 .3-11.7 .3 12.7 .4-7.9 .3-2.5 .3 11 .3-8.4 .4 5.4 .3-3.7 .3 3.9 .4 1.1 .3-5.7 .3-.5 .4-.3 .3 2.2 .3-.5 .3 4 .4 .1 .3 5.4 .3-9 .4 1.7 .3-2.2 .3 10.2 .4-12.1 .3 9.8 .3-.3 .3-3.6 .4-4.5 .3-1.9 .3 8 .4 1.8 .3-6.6 .3 5.4 .4-3 .3 1.2 .3-4.2 .3 2 .4 2.4 .3-4.9 .3 1.2 .4-.2 .3 3.3 .3-2.5 .4-1.2 .3-4.7 .3 9.9 .3-2 .4-7 .3 8.3 .3-1.6 .4 3.6 .3-7.2 .3-1.6 .4 3.1 .3 .9 .3 .6 .3-1.7 .4 1.5 .3-6.8 .3-2.1 .4 17 .3-6.6 .3 1.9 .4-2 .3-1.2 .3-5.2 .3-5.5 .4 7.8 .3 6.3 .3-5.9 .4 3.6 .3 2.6 .3-4.8 .4 7.7 .3-6.5 .3 3.2 .3-8.6 .4 9.8 .3-8.8 .3 3.7 .4-.9 .3 2.2 .3-2.2 .4-1.7 .3 1.7 .3 3.7 .3-4.4 .4 .2 .3-3.1 .3 3.6 .4-6.1 .3 5.7 .3 3.1 .4-8.4 .3 4.5 .3 .1 .3 3.7 .4-5.4 .3 4.7 .3 2.2 .4-5.6 .3 1.1 .3-1.4 .4 1.4 .3 2.9 .3 .2 .3-4.2 .4 .4 .3 5.1 .3 .2 .4-2.8 .3-1.1 .3-8.7 .4 6.5 .3 3.9 .3-4.5 .3 .5 .4 5.7 .3-8.7 .3 3.5 .4 .6 .3 4.6 .3-9.7 .4 3 .3 8.9 .3-4.9 .3-6.2 .4 13.1 .3-9.2 .3 .7 .4 5.1 .3 1.7 .3-4.6 .4-2.5 .3 1.9 .3-.1 .3 6.5 .4-3.9 .3 8.4 .3 6.2 .4-23.7 .3 7.6 .3 4.8 .4-11.7 .3 4.9 .3-2.7 .3 1 .4-2.1 .3 4.5 .3 2.4 .4-.6 .3-8.1 .3-1.4 .4 7.6 .3 6 .3-6 .3 1.9 .4-.5 .3-8.8 .3 5.3 .4-4.3 .3 11.3 .3 3.5 .4-9 .3-4.2 .3 7.5 .3 3.8 .4-7.4 .3 8.6 .3-7.9 .4-.6 .3 7.6 .3-4.4 .4-2.1 .3 1.6 .3-3.9 .3-2.2 .4 11.2 .3-6 .3 8 .4-5.6 .3 2.5 .3-2.3 .4 7.1 .3-13.6 .3 11.7 .3-17.1 .4 15.7 .3 4.5 .3-10.8 .4 6.2 .3-4.1 .3-8 .4 7 .3-3.3 .3 5.3 .3 1.3 .4-4.8 .3 5.2 .3-5.7 .4-7 .3-1 .3 3.4 .4 2.9 .3 4.5 .3-4.6 .3 3 .4-9.9 .3 4.7 .3 9.2 .4 5.6 .3 1.5 .3-9.5 .4-1.8 .3-4.9 .3 8.4 .3-11.3 .4 9.9 .3 1.6 .3-1.9 .4 6.7 .3-1.9 .3-3.7 .4-4.1 .3-.1 .3-1.5 .3 7.2 .4-4.2 .3-4.7 .3 8.5 .4 1.1 .3-5.9 .3 13.3 .4-10.5 .3 .1 .3 .2 .3-8.5 .4 10.2 .3 0 .3-4.2 .4-7.4 .3 7.9 .3-4.3 .4 9.7 .3 .2 .3-5 .3-2.6 .4-1.4 .3 11.8 .3-6.1 .4 2 .3-7.1 .3 3 .4-6.2 .3 10.7 .3 2 .3-12.4 .4 6.7 .3-3 .3-8.2 .4 4.2 .3 7 .3-8.6 .4 12 .3-2.7 .3 .4 .3-2 .4-4.9 .3 5.2 .3-.7 .4 .3 .3-.3 .3-7.2 .4 9.8 .3-3.8 .3-7.4 .3 15 .4-4.8 .3-7.8 .3 3 .4 2.6 .3 3.6 .3-1.4 .4-6.7 .3 4.5 .3-3 .3 4.8 .4-3.1 .3 7.1 .3 1.5 .4-5.8 .3-1.9 .3 1.5 .4 5.8 .3-18.5 .3-4.2 .3 11.2 .4 10.6 .3-2.6 .3-4.9 .4-2.4 .3 7.5 .3 8.7 .4-1.1 .3-7.6 .3-5 .3 .8 .4-1.9 .3 5.4 .3-3.4 .4-8.8 .3 2.5 .3 6.3 .4-3.1 .3 .2 .3-7.4 .3 6.8 .4 1.5 .3-3.9 .3 11.2 .4-8.1 .3 5.2 .3-1.3 .4-3.1 .3-2.9 .3 6.6 .3-5 .4-7.2 .3 6.4 .3-1.8 .4-1.7 .3 7.1 .3-9.6 .4 12.3 .3-4.2 .3-6.5 .3 6 .4 5 .3-.9 .3 1.7 .4 5.2 .3-8.3 .3-7.3 .4 11.6 .3-5.6 .3 4.4 .3-7.8 .4-5.8 .3 8.9 .3 6.7 .4 3.6 .3-10.3 .3-1.9 .4 4.5 .3-11.8 .3 12.5 .3-5 .4-2.6 .3 6.5 .3-8.9 .4 1.1 .3 5.5 .3 5.3 .4-8.4 .3-4.9 .3 14 .3-21.2 .4 5.9 .3 13.1 .3-12.7 .4 20.1 .3-5.9 .3 2.6 .4-17 .3 1 .3 3.6 .3 4.3 .4-8.5 .3 3 .3 8.6 .4-6 .3 1.4 .3 3 .4-1.2 .3 .4 .3-1.6 .3 1.7 .4-1.9 .3 11.6 .3-18.7 .4 8.9 .3-3.6 .3 11.2 .4-13.2 .3 2.5 .3-3.7 .3 10 .4-2 .3-5.3 .3-3.1 .4 10.3 .3-9.4 .3 6.4 .4-8.4 .3 9.8 .3-14 .3 17.3 .4 7.7 .3-15.1 .3 5.8 .4 .9 .3-1 .3-10.7 .4-4.8 .3 12.4 .3-7.2 .3 .5 .4 8.3 .3-10.2 .3 3.8 .4 6.1 .3 2.7 .3 4.7 .4-13.5 .3-.1 .3 6.1 .3 1.3 .4 7.3 .3-14.3 .3-.1 .4 .4 .3-8.5 .3 10 .4-4.2 .3 8.4 .3-7 .3 4.6 .4 9.7 .3-7.8 .3-13.4 .4 5.3 .3 7.2 .3-.1 .4-9.9 .3 12.9 .3-8.5 .3-20.1 .4 24.7 .3-3.9 .3 8.6 .4-14.1 .3 8 .3 4.3 .4-10.9 .3 5.5 .3 4.4 .3-5.6 .4 .3 .3 6 .3 4.3 .4-2.8 .3-11.9 .3 13.9 .4-10.7 .3 3.4 .3-2.2 .3 1.7 .4 4.9 .3 7.3 .3-11.6 .4-3.6 .3 6.1 .3 5.5 .4 0 .3-9.3 .3 8.8 .3-6.2 .4-2.9 .3 6.7 .3-9.5 .4-4.2 .3 1.3 .3 1.1 .4 6.7 .3-1.6 .3-1.5 .3-.5 .4-7.5 .3 10.6 .3 8.3 .4-8.9 .3 6.1 .3 5.9 .4-14.1 .3-1.6 .3-.3 .3 2 .4 1.1 .3-1.7 .3 6.3 .4-6.8 .3 3.9 .3-3.2 .4 4.1 .3-5.4 .3 3.4 .3-3 .4 5.7 .3-4.1 .3 10.7 .4-14.4 .3 8.9 .3-4.2 .4 4.5 .3 7.5 .3 .4 .3-9.7 .4 5.6 .3-3.8 .3 4.8 .4-.2 .3-6.9 .3 .9 .4-6.4 .3 3.2 .3 2.3 .3 .7 .4-1.5 .3 1.3 .3 5.4 .4-.9 .3-.4 .3 1.5 .4-1 .3 2.2 .3-6.3 .3 2.7 .4-5.3 .3 5.3 .3-.4 .4 17.9 .3-10.8 .3 8.7 .4-12.7 .3-10.3 .3 8 .3-6.3 .4 13.9 .3-2.5 .3 .8 .4-8.7 .3-4.1 .3 6.7 .4 3.5 .3-4.1 .3 7.1 .3-7.5 .4 7.7 .3-9 .3 5 .4-8.9 .3 8.7 .3 4.2 .4-10 .3-12.5 .3 16.9 .3-10.2 .4 10.9 .3-5.2 .3 4.4 .4 3 .3-3.1 .3-2.6 .4-.1 .3 4.9 .3 2 .3-2.2 .4-9.4 .3 1.8 .3-1.6 .4 12.6 .3-4.9 .3 4.6 .4-12.3 .3-.4 .3 17 .3-13.7 .4-3.3 .3-5 .3 .5 .4 7 .3 4.1 .3 .3 .4-3.5 .3 13.1" fill="none" stroke="#ff0000" stroke-width="1.0" clip-path="url(#cr7)"/>
<path d="M668.7 679.1l.3 1.3 .4-.3 .3-1.1 .3 .2 .4 2.4 .3-2.5 .3-.5 .3 2.2 .4 .1 .3-.7 .3 0 .4-1.3 .3 .8 .3 1.4 .4-2.2 .3-.4 .3 .3 .3 .7 .4-3.4 .3 2.4 .3 3 .4-2.1 .3 2 .3-3.3 .4 1.9 .3-.5 .3-1.5 .3 1.8 .4 .3 .3-2.3 .3 1.4 .4 4.3 .3-1.9 .3 1.5 .4-2.1 .3-3 .3 .7 .3-.3 .4 .8 .3-.1 .3 .4 .4 1.9 .3-2.3 .3 .4 .4 .6 .3-.8 .3 1 .3-1.2 .4 1.6 .3 1.7 .3-3 .4-.8 .3 2 .3-.1 .4-1.2 .3 .9 .3-.5 .3 1.7 .4-3.3 .3 3.5 .3-1 .4-1.5 .3-.4 .3 1.6 .4 .6 .3-1.3 .3 .8 .3-5.1 .4 3 .3 3.8 .3 .7 .4-3.4 .3 .9 .3 .2 .4-2.7 .3 2.1 .3-2.4 .3 2.2 .4-.1 .3 3.9 .3-2.5 .4-3.2 .3 .7 .3 .5 .4 0 .3 6 .3 4 .3-8.7 .4 2 .3 3.8 .3-8.5 .4-3.3 .3 7.7 .3-5.5 .4-.3 .3-3.8 .3 5.2 .3 2.7 .4 1.6 .3-2.5 .3-4.2 .4 7.4 .3 0 .3-1.9 .4-4.9 .3 3.2 .3 1.3 .3-.3 .4 4 .3-2.4 .3-4.3 .4-.4 .3 2.3 .3-3.2 .4 2 .3 4.4 .3-.7 .3-3.3 .4 3.2 .3-.8 .3-4.4 .4 6.2 .3-2.8 .3-.8 .4-.5 .3 .2 .3-2.2 .3 3.8 .4-1 .3-.2 .3 3.1 .4-2.2 .3-.8 .3 2 .4-2 .3 2.2 .3-.5 .3 3.3 .4-4.5 .3-1.1 .3 3.5 .4-.3 .3-2.1 .3 4 .4-3.5 .3 1.8 .3-2.9 .3 .1 .4 2.8 .3 .6 .3-3.8 .4-1.1 .3 5.6 .3-4 .4 .2 .3 .2 .3-.2 .3 .6 .4 1.1 .3-1.4 .3 .3 .4-1.9 .3 2.9 .3-1.1 .4-.7 .3 1.6 .3-2.3 .3 3 .4-1.6 .3-1.6 .3 .9 .4 0 .3 2.7 .3-1.2 .4-2.1 .3-.1 .3 1.7 .3-.1 .4 3.2 .3-2.3 .3 .5 .4-1.2 .3 .5 .3-2.2 .4 1.7 .3-1.8 .3 1.3 .3 .9 .4-2.4 .3 1.6 .3-1.1 .4 4 .3-3.9 .3 .6 .4 1.9 .3-1.2 .3-3.4 .3 2.8 .4 1.5 .3-2 .3 .4 .4 2 .3-4.3 .3-1.5 .4 2.7 .3-.3 .3 0 .3-1.6 .4 2.7 .3 4.7 .3-2.1 .4-6.3 .3 3.6 .3 2.3 .4-4.8 .3 4.8 .3-6.5 .3 3.7 .4 3.2 .3-.7 .3-.1 .4-1.7 .3-2.9 .3 5.1 .4 2.8 .3-5.4 .3 .6 .3 7 .4-15.1 .3 3.3 .3 6.5 .4 2.4 .3-1.5 .3-6.3 .4 7.7 .3-6.9 .3 7 .3-8.6 .4 6.9 .3-4.5 .3 3.8 .4 8.3 .3-5.4 .3-1.8 .4-5.2 .3 0 .3-2 .3 .8 .4 3.8 .3-1 .3-6.5 .4 8.7 .3-7.5 .3 8.5 .4-4.3 .3 .4 .3 .8 .3 4.1 .4-8 .3 6 .3 3.7 .4-1.5 .3 2.6 .3-3 .4-24.9 .3 25.3 .3-.2 .3-3.8 .4 .2 .3-1.9 .3 0 .4 2.7 .3 1.2 .3-3.2 .4 .5 .3 1.8 .3-2.1 .3-2.9 .4 8.5 .3-9.3 .3 1.6 .4 10.2 .3-7.1 .3 3.8 .4-1.2 .3-10.1 .3 5.9 .3-11.5 .4 9.8 .3 4.2 .3 2.1 .4 1.1 .3-10.7 .3 6.8 .4-5.3 .3 11.5 .3-1.5 .3-8.1 .4 6.3 .3-4.7 .3 6.2 .4-2.6 .3 6.4 .3-26.5 .4 16.4 .3-.7 .3 1.4 .3-.5 .4 3.4 .3 1.8 .3 2.8 .4-7.8 .3 9.6 .3-8.2 .4 5.3 .3-12.6 .3 6.2 .3-6.1 .4 1.1 .3-.7 .3 3.7 .4 2.8 .3-4 .3 19 .4-18.1 .3-1 .3 8.6 .3-8.5 .4 5.8 .3 .8 .3-5.9 .4-5 .3 7.2 .3 2.3 .4 7.3 .3-4.3 .3 3.7 .3-10.4 .4 3.1 .3 .8 .3-3.8 .4 9.9 .3 7 .3-19.2 .4 .7 .3 10.1 .3-1.7 .3-1.4 .4-8 .3 9.4 .3-.5 .4-.2 .3 3 .3-8.9 .4-4.5 .3 3.7 .3-.7 .3 1.1 .4-1.9 .3 3.3 .3 .9 .4 6.6 .3 1.4 .3-9 .4 4.1 .3-7 .3 11.3 .3-9.4 .4 1.6 .3 3 .3-1.5 .4-3.3 .3 4.7 .3-4.8 .4 2.8 .3-5.3 .3 11.1 .3-.7 .4-4.2 .3-4.9 .3-4.4 .4 3.4 .3 8.4 .3-11.9 .4 2 .3 8.2 .3-5.3 .3-4.3 .4-.8 .3 3.3 .3 8.8 .4 1.2 .3-7.7 .3-.7 .4 14.7 .3-.4 .3-7.6 .3-6.2 .4 11.6 .3-22.1 .3 11.6 .4-1.8 .3 7.5 .3 5.5 .4-5.8 .3-2.8 .3 4.3 .3-5.2 .4 3.6 .3 7.3 .3-3.6 .4-6.5 .3 10 .3-10.9 .4-9.4 .3 17 .3-6.1 .3 6.1 .4-4.7 .3-7.8 .3 2 .4 14.2 .3-1.6 .3-11.6 .4 1.7 .3 6.3 .3-.2 .3-12.8 .4 7.8 .3-8.8 .3 1.1 .4 9.6 .3-.9 .3 8.7 .4-17.5 .3-17.6 .3 33.7 .3-7.2 .4-11.3 .3 6.9 .3-2.6 .4 .9 .3-3.6 .3 4 .4 2.4 .3 5.2 .3-12 .3 19 .4-8.8 .3 2.1 .3-37.6 .4 27.4 .3 2 .3 5.7 .4 23.6 .3-20.4 .3 5.6 .3-1.5 .4-8.9 .3 13.7 .3-13.6 .4-11.2 .3 21.1 .3 25.8 .4-39.6 .3 5.3 .3-12.1 .3-28.5 .4 40.4 .3-4.1 .3 20.1 .4-19.3 .3-6.9 .3 2.4 .4 12.6 .3-9.8 .3 11.3 .3-1.2 .4-1.8 .3-11.9 .3 9.9 .4-.2 .3-2.1 .3 4.3 .4 .9 .3-10.9 .3 7.1 .3 4.9 .4-5.9 .3 5.5 .3-11 .4 6 .3-5.4 .3 8.4 .4-2.9 .3-3 .3-2.5 .3 8.7 .4-4.9 .3-6.7 .3 6.2 .4 2.4 .3-2.7 .3-10.1 .4 .3 .3 10.4 .3 2.4 .3-3.2 .4 13.3 .3-18.6 .3 10.5 .4-4 .3 5.9 .3-.9 .4 3.2 .3-15 .3 .7 .3 5.1 .4-3.2 .3 12 .3-8.1 .4-2.1 .3-3.8 .3 9.2 .4-3.1 .3-7.9 .3 15.7 .3-5 .4-5.3 .3 2.4 .3 5.7 .4 5.1 .3-10.8 .3 6.7 .4-8.7 .3 6.6 .3-2.4 .3 6.1 .4-2.7 .3 1.2 .3-9.5 .4-3.5 .3 11.1 .3-6.3 .4 2.7 .3-.9 .3 15.7 .3-13.9 .4-.5 .3 2.2 .3-2.3 .4-6.8 .3 2.8 .3 11.3 .4-4.4 .3-5.3 .3 6.1 .3-3 .4-8.2 .3-40.6 .3 41.5 .4 10.2 .3-6.1 .3 0 .4 6.1 .3-3.4 .3-1.4 .3 4 .4 3.6 .3 8.5 .3-14.9 .4 1.9 .3-1 .3 4.4 .4-3 .3-15.5 .3 16.2 .3-8.8 .4 15.1 .3-9.4 .3-4.1 .4 7.8 .3 2.8 .3-8 .4-1.8 .3-.9 .3-.4 .3 9.6 .4-5.8 .3 15.8 .3-15.3 .4-9.8 .3 16 .3-5.9 .4 9.5 .3-15.7 .3 4.2 .3 15.6 .4-8.5 .3-2.2 .3-2.5 .4 2.5 .3-3.3 .3-5.1 .4 6.2 .3-2.8 .3 .1 .3 1.1 .4 6.7 .3 3.6 .3-8.7 .4 3.1 .3 .2 .3 2.7 .4-6.7 .3-11.7 .3 18.3 .3-9.2 .4 .8 .3 8.5 .3-32.6 .4 29.6 .3-2.1 .3 13.3 .4-10.9 .3-13.2 .3-4.2 .3 10.5 .4-1.7 .3 1.4 .3 2.7 .4 3.2 .3-7.4 .3 1.4 .4-4.1 .3 9.1 .3-1.6 .3-4.1 .4 9.7 .3-4.1 .3-2.7 .4-11.3 .3 13 .3-4.5 .4 .9 .3 4.9 .3 6 .3-6.1 .4-.5 .3-5.3 .3 3.4 .4 .6 .3-3.4 .3 8.4 .4-6.2 .3-6.1 .3 6.6 .3 .7 .4 1.9 .3-10.8 .3 2.3 .4 1.2 .3 14.2 .3 .5 .4-12.4 .3 .7 .3 .7 .3 2.2 .4-23.5 .3 14.1 .3 10.1 .4-1.6 .3-2.6 .3-1.8 .4 4.8 .3-2 .3-5.9 .3 10.9 .4-2.3 .3 13.8 .3-17.3 .4 7.8 .3-5 .3 8 .4-5.1 .3-6 .3 9.9 .3-4.3 .4-6 .3 6 .3-8.1 .4 8 .3-.2 .3 1.5 .4-8.6 .3 1.8 .3 4.3 .3-9.2 .4 6.9 .3-4.2 .3 2.8 .4 .5 .3 .2 .3-1.4 .4 12.5 .3-12.6 .3 2.5 .3 3.4 .4 1.7 .3-12.4 .3 3.4 .4 13.8 .3-2.3 .3-1.7 .4 2.1 .3-1.9 .3 4.6 .3-3.8 .4-2.8 .3 .1 .3-6.8 .4-.2 .3 1.4 .3 3.6 .4 4.2 .3-3.7 .3-3.1 .3-10.6 .4 9.1 .3 1.5 .3 5.2 .4-1.7 .3-4.1 .3 1.4 .4-9.6 .3 6 .3 3.9 .3-.5 .4 12.4 .3-15.3 .3-6 .4-1.7 .3 13.1 .3-7.3 .4-2.2 .3 9.2 .3 .4 .3-3.9 .4 1.4 .3-12.2 .3 17.6 .4-.9 .3-4.2 .3-.1 .4-1.1 .3-12.4 .3 23 .3-6.4 .4 2.8 .3-3.3 .3-1.8 .4 5.3 .3-5 .3-4.1 .4 4.6 .3-8 .3 3.2 .3 9.9 .4-9.2 .3 0 .3 1 .4 .8 .3 1.3 .3-2.4 .4 .8 .3 .7 .3 3.2 .3-8 .4 2.4 .3-3.9 .3 1 .4-11 .3 12.6 .3 6.7 .4-3.3 .3-4.2 .3 2.6 .3-.2 .4 2.1 .3 1.7 .3 4.4 .4-8 .3 7.8 .3-9.3 .4 6.5 .3-9.8 .3 9.2 .3 .5 .4 .8 .3 1.3 .3 10.2 .4-19.8 .3 .2 .3 7.3 .4-2.8 .3 2.9 .3-2.3 .3 2.7 .4-7.2 .3 10.4 .3-6.9 .4 .8 .3 1.4 .3-1.9 .4-3.1 .3 3.7 .3-1.2 .3-2.3 .4 2.7 .3 1.6 .3 1.4 .4-3.7 .3-1.5 .3 2.4 .4 1.6 .3-.6 .3-1.6 .3-1.1 .4 2.5 .3-.7 .3 .3 .4 .4 .3 1.3 .3-2.6 .4 1.8 .3-1.5 .3-.3 .3 .3 .4-.4 .3 .6 .3-1.6 .4 1.8 .3 0 .3 .3 .4 2.1 .3-2.3 .3-.6 .3 .9 .4-.5 .3-.1 .3 .9 .4-3.7 .3 3.2 .3-2.3 .4 3.4 .3-1.3 .3-.8 .3 1.9 .4 1.1 .3-3.4 .3-.8 .4 3.8 .3-1.8 .3-1.7 .4 2.2 .3-1.5 .3 1.4 .3 2 .4-.8 .3 .7 .3-1.7 .4 .5 .3-2.1 .3 1.2 .4-.6 .3-1 .3 1.7 .3 .4 .4-.2 .3 .1 .3 2 .4-4.9 .3 2.5 .3 4.3 .4-3.2 .3-2.8 .3 1.4 .3-1.2 .4-1.6 .3 5.5 .3-.4 .4-1.6 .3 1.3 .3-1.9 .4-.4 .3 2.4 .3-2.2 .3 3.2 .4 1.9 .3-4.3 .3 3 .4-2.6 .3-4.6 .3 7.2 .4-1.7 .3 9 .3-16.8 .3 9.5 .4 3.6 .3 1.6 .3-9.9 .4 1.1 .3 7.6 .3-7.7 .4 1.9 .3-5.1 .3-.7 .3-6.4 .4 1.4 .3 4.2 .3 7.5 .4-11.4 .3 12 .3 3.3 .4-4.1 .3 .8 .3 .2 .3 1.9 .4-7.5 .3 2.5 .3-1.1 .4-3.2 .3 10 .3-14.3 .4 6.6 .3 5.3 .3-4.2 .3 2.8 .4-6 .3-8.4 .3 9.3 .4-4.1 .3 7.5 .3 6.9 .4-7.9 .3 4.3 .3-3.8 .3-4.5 .4 4.9 .3 1.2 .3-2.2 .4 8.7 .3-8.5 .3-2.6 .4 2.2 .3-.7 .3-2.6 .3 3.4 .4 2.5 .3-7.3 .3 7.9 .4 5.6 .3-4.5 .3-3.5 .4 .1 .3 3.2 .3-5.1 .3-1.6 .4 4.8 .3-11 .3-1.7 .4 16.1 .3 2.7 .3-2.6 .4-.9 .3-5.6 .3-1.9 .3 1.5 .4-3.9 .3 9.3 .3 .8 .4-7.9 .3 .8 .3 6.2 .4-1.5 .3-6.2 .3-.6 .3 9.8 .4-14.4 .3 4.4 .3 3.4 .4 7.8 .3-5.2 .3 1.2 .4-.1 .3 7.7 .3-9.6 .3 2.4 .4-.3 .3-5.1 .3 1.9 .4-2.7 .3 5.4 .3 10 .4-19.4 .3 31.4 .3-17.9 .3-9.2 .4 6.4 .3-3.4 .3 3 .4-3.8 .3 1.6 .3-.6 .4-.3 .3 0 .3-.3 .3-3.7 .4 7.9 .3 6.7 .3-6 .4-11.1 .3 7.2 .3 2.4 .4 6.7 .3-8 .3 .7 .3-.8 .4-5.8 .3-.7 .3-5.3 .4 18.9 .3-11.9 .3 4.5 .4 .5 .3 6.7 .3-17 .3 19.6 .4-20 .3 9.5 .3-7.3 .4 4.6 .3-.8 .3 5.4 .4 3.6 .3-8.4 .3 4.4 .3-13.2 .4 16.3 .3-3.3 .3-1.9 .4 1.5 .3 1.5 .3 1.6 .4-12.7 .3 14.3 .3-12.8 .3 5.9 .4-4.3 .3 13.8 .3-16.7 .4 10.7 .3-1.6 .3 .1 .4-.2 .3-1.5 .3 2.9 .3-5.2 .4-.4 .3 1.8 .3 9.4 .4-8.4 .3 4.1 .3-4 .4-3.1 .3 9.3 .3-3.1 .3-3.3 .4-2 .3 3.7 .3 3.5 .4-5.1 .3-7.1 .3 8.7 .4-3.1 .3 8.2 .3-48.8 .3 43.5 .4 6.6 .3-3.1 .3-2.9 .4 0 .3-.8 .3-.5 .4 9 .3-16.7 .3 9.1 .3 .9 .4-.4 .3-6.3 .3 11 .4-2.1 .3-10.4 .3 3 .4 8.4 .3 3.2 .3-14.9 .3 8.4 .4-6.2 .3 6.4 .3-3.6 .4-2.7 .3 7.8 .3-5 .4 7.2 .3-8.5 .3-1.4 .3 3.5 .4 5.6 .3-7.5 .3-.9 .4 6.9 .3-.1 .3-1.9 .4-5.5 .3 2.8 .3 13.8 .3-8.4 .4-7.3 .3 14.8 .3-16.9 .4 3.8 .3-.2 .3-.8 .4 4.2 .3-7.5 .3 4.7 .3-10.5 .4 9.2 .3-.4 .3 .8 .4 .5 .3-2.4 .3 4.3 .4 2 .3 0 .3-1.8 .3 1.9 .4-4.4 .3-2.5 .3 3.1 .4-4.9 .3 7.2 .3-13.9 .4 12 .3-3.4 .3 10.4 .3-5.4 .4-7.5 .3 9.4 .3 6.4 .4-9.3 .3 6.7 .3-13.5 .4 3.8 .3-7.9 .3 8.4 .3 4.7 .4-2.3 .3 .3 .3 .7 .4-2.4 .3 4.1 .3-6.3 .4 10.8 .3-14.7 .3 5.7 .3-2.8 .4 9.9 .3-16.2 .3 9 .4-1.7 .3 20.8 .3-19.1 .4 5.3 .3-2 .3 4.7 .3-9.2 .4 .2 .3 4.3 .3-2.9 .4-4.5 .3 8.9 .3-5.5 .4 3.8 .3 .4 .3-4 .3 .6 .4-14.2 .3 17.4 .3 .8 .4 .8 .3 2.7 .3-6.4 .4-4.4 .3 6.3 .3 2.4 .3-8.5 .4 3.7 .3 5 .3 .9 .4-3.4 .3 7.7 .3-10.3 .4 4.6 .3-1.3 .3 6.8 .3-20.3 .4 9.5 .3 3.3 .3-2.5 .4-2.4 .3 2 .3-19.1 .4 23.2 .3-4.1 .3 2.8 .3 2.8 .4-5.1 .3-.3 .3-10.2 .4 13.6 .3-3.1 .3 3.2 .4-2.7 .3-12.5 .3 22.1 .3-5.9 .4-1.1 .3 5.2 .3-8.5 .4 5.8 .3-10.3 .3 5.7 .4 5.9 .3 0 .3-5.2 .3-.2 .4-1.4 .3 3.6 .3-7.2 .4 6.1 .3-7.8 .3 10.8 .4 1 .3-4.8 .3 1.8 .3-8.5 .4 10.2 .3 7.3 .3-13.7 .4-5.5 .3 12.5 .3-6.1 .4-1.1 .3-1.3 .3 2.9 .3 7.2 .4-5.7 .3-3.7 .3-1.7 .4 7.8 .3-.3 .3 1 .4-.3 .3-3.9 .3 4.2 .3-3.1 .4 5.6 .3-3.2 .3 2.7 .4-1.4 .3-8.6 .3 4.3 .4 4.5 .3-3.6 .3 4.6 .3-6.1 .4 3.7 .3-7.3 .3-.5 .4 2.1 .3 5.5 .3 1.2 .4-1.8 .3-.2 .3 .3 .3-5.5 .4 3 .3 1.5 .3-3.7 .4 .7 .3-3 .3 7.7 .4-3.7 .3 7.8 .3-5.8 .3-.8 .4-4.2 .3 7.4 .3-1.8 .4 .1 .3 .1 .3 2 .4 3.9 .3-6.8 .3-.8 .3 5.9 .4-6 .3-4.6 .3 2.6 .4 5.1 .3-6.4 .3-2 .4 5.6 .3-4.8 .3 7.4 .3-1.5 .4 2.9 .3-3.1 .3-3.5 .4 2.5 .3-4.1 .3 6.7 .4-4.9 .3-1.9 .3 6.1 .3 2.4 .4 11.6 .3-12.6 .3 4.4 .4-5 .3 24.9 .3-22.1 .4-19.1 .3-9 .3 29.2 .3 20.7 .4-47.5 .3 27.6 .3-3 .4-16.1 .3 26.5 .3-22.3 .4 9.8 .3-9.3 .3 0 .3 1.7 .4 1.4 .3-15.2 .3 12.8 .4-12.6 .3 49 .3-19.7 .4-7.8 .3-11.2 .3-1.8 .3 15 .4-36.7 .3 48.7 .3-17.8 .4-7 .3-3.7 .3 14.3 .4-3.1 .3-11.5" fill="none" stroke="#101010" stroke-width="1.15" clip-path="url(#cr8)"/>
<line x1="71.6" y1="103.7" x2="525.2" y2="103.7" stroke="#000" stroke-width="1" stroke-dasharray="5 3"/>
<line x1="71.6" y1="119" x2="525.2" y2="119" stroke="#4040ff" stroke-width="1" stroke-dasharray="5 3"/>
<line x1="71.6" y1="205" x2="525.2" y2="205" stroke="#333" stroke-width="1.6" stroke-dasharray="5 3"/>
<line x1="71.6" y1="410.5" x2="525.2" y2="410.5" stroke="#000" stroke-width="1.6" stroke-dasharray="5 3"/>
<line x1="668.6" y1="72.5" x2="1122.6" y2="72.5" stroke="#000" stroke-width="1" stroke-dasharray="5 3"/>
<line x1="668.6" y1="218.3" x2="1122.6" y2="218.3" stroke="#000" stroke-width="1" stroke-dasharray="5 3"/>
<line x1="668.6" y1="373.3" x2="1122.6" y2="373.3" stroke="#000" stroke-width="1" stroke-dasharray="5 3"/>
<line x1="668.6" y1="448.3" x2="1122.6" y2="448.3" stroke="#333" stroke-width="1.3" stroke-dasharray="5 3"/>
<line x1="668.6" y1="592" x2="1122.6" y2="592" stroke="#000" stroke-width="1.3" stroke-dasharray="5 3"/>
<line x1="524.3" y1="176.8" x2="524.3" y2="723.3" stroke="#0000ff" stroke-width="1" stroke-dasharray="1.5 2.5" opacity="0.8"/>
<line x1="1121.7" y1="42.2" x2="1121.7" y2="706.4" stroke="#0000ff" stroke-width="1" stroke-dasharray="1.5 2.5" opacity="0.8"/>
<path d="M101.4 33.6v10.5M101.4 168.2v-10.5M202.4 33.6v10.5M202.4 168.2v-10.5M303.3 33.6v10.5M303.3 168.2v-10.5M404.2 33.6v10.5M404.2 168.2v-10.5M505.2 33.6v10.5M505.2 168.2v-10.5M76.2 33.6v5M76.2 168.2v-5M126.6 33.6v5M126.6 168.2v-5M151.9 33.6v5M151.9 168.2v-5M177.1 33.6v5M177.1 168.2v-5M227.6 33.6v5M227.6 168.2v-5M252.8 33.6v5M252.8 168.2v-5M278.1 33.6v5M278.1 168.2v-5M328.5 33.6v5M328.5 168.2v-5M353.8 33.6v5M353.8 168.2v-5M379 33.6v5M379 168.2v-5M429.5 33.6v5M429.5 168.2v-5M454.7 33.6v5M454.7 168.2v-5M480 33.6v5M480 168.2v-5M101.4 176.8v10.5M101.4 244.8v-10.5M202.4 176.8v10.5M202.4 244.8v-10.5M303.3 176.8v10.5M303.3 244.8v-10.5M404.2 176.8v10.5M404.2 244.8v-10.5M505.2 176.8v10.5M505.2 244.8v-10.5M76.2 176.8v5M76.2 244.8v-5M126.6 176.8v5M126.6 244.8v-5M151.9 176.8v5M151.9 244.8v-5M177.1 176.8v5M177.1 244.8v-5M227.6 176.8v5M227.6 244.8v-5M252.8 176.8v5M252.8 244.8v-5M278.1 176.8v5M278.1 244.8v-5M328.5 176.8v5M328.5 244.8v-5M353.8 176.8v5M353.8 244.8v-5M379 176.8v5M379 244.8v-5M429.5 176.8v5M429.5 244.8v-5M454.7 176.8v5M454.7 244.8v-5M480 176.8v5M480 244.8v-5M101.4 244.8v10.5M101.4 313.2v-10.5M202.4 244.8v10.5M202.4 313.2v-10.5M303.3 244.8v10.5M303.3 313.2v-10.5M404.2 244.8v10.5M404.2 313.2v-10.5M505.2 244.8v10.5M505.2 313.2v-10.5M76.2 244.8v5M76.2 313.2v-5M126.6 244.8v5M126.6 313.2v-5M151.9 244.8v5M151.9 313.2v-5M177.1 244.8v5M177.1 313.2v-5M227.6 244.8v5M227.6 313.2v-5M252.8 244.8v5M252.8 313.2v-5M278.1 244.8v5M278.1 313.2v-5M328.5 244.8v5M328.5 313.2v-5M353.8 244.8v5M353.8 313.2v-5M379 244.8v5M379 313.2v-5M429.5 244.8v5M429.5 313.2v-5M454.7 244.8v5M454.7 313.2v-5M480 244.8v5M480 313.2v-5M101.4 313.2v10.5M101.4 381.3v-10.5M202.4 313.2v10.5M202.4 381.3v-10.5M303.3 313.2v10.5M303.3 381.3v-10.5M404.2 313.2v10.5M404.2 381.3v-10.5M505.2 313.2v10.5M505.2 381.3v-10.5M76.2 313.2v5M76.2 381.3v-5M126.6 313.2v5M126.6 381.3v-5M151.9 313.2v5M151.9 381.3v-5M177.1 313.2v5M177.1 381.3v-5M227.6 313.2v5M227.6 381.3v-5M252.8 313.2v5M252.8 381.3v-5M278.1 313.2v5M278.1 381.3v-5M328.5 313.2v5M328.5 381.3v-5M353.8 313.2v5M353.8 381.3v-5M379 313.2v5M379 381.3v-5M429.5 313.2v5M429.5 381.3v-5M454.7 313.2v5M454.7 381.3v-5M480 313.2v5M480 381.3v-5M101.4 381.3v10.5M101.4 449.7v-10.5M202.4 381.3v10.5M202.4 449.7v-10.5M303.3 381.3v10.5M303.3 449.7v-10.5M404.2 381.3v10.5M404.2 449.7v-10.5M505.2 381.3v10.5M505.2 449.7v-10.5M76.2 381.3v5M76.2 449.7v-5M126.6 381.3v5M126.6 449.7v-5M151.9 381.3v5M151.9 449.7v-5M177.1 381.3v5M177.1 449.7v-5M227.6 381.3v5M227.6 449.7v-5M252.8 381.3v5M252.8 449.7v-5M278.1 381.3v5M278.1 449.7v-5M328.5 381.3v5M328.5 449.7v-5M353.8 381.3v5M353.8 449.7v-5M379 381.3v5M379 449.7v-5M429.5 381.3v5M429.5 449.7v-5M454.7 381.3v5M454.7 449.7v-5M480 381.3v5M480 449.7v-5M101.4 449.7v10.5M101.4 518v-10.5M202.4 449.7v10.5M202.4 518v-10.5M303.3 449.7v10.5M303.3 518v-10.5M404.2 449.7v10.5M404.2 518v-10.5M505.2 449.7v10.5M505.2 518v-10.5M76.2 449.7v5M76.2 518v-5M126.6 449.7v5M126.6 518v-5M151.9 449.7v5M151.9 518v-5M177.1 449.7v5M177.1 518v-5M227.6 449.7v5M227.6 518v-5M252.8 449.7v5M252.8 518v-5M278.1 449.7v5M278.1 518v-5M328.5 449.7v5M328.5 518v-5M353.8 449.7v5M353.8 518v-5M379 449.7v5M379 518v-5M429.5 449.7v5M429.5 518v-5M454.7 449.7v5M454.7 518v-5M480 449.7v5M480 518v-5M101.4 518v10.5M101.4 586.7v-10.5M202.4 518v10.5M202.4 586.7v-10.5M303.3 518v10.5M303.3 586.7v-10.5M404.2 518v10.5M404.2 586.7v-10.5M505.2 518v10.5M505.2 586.7v-10.5M76.2 518v5M76.2 586.7v-5M126.6 518v5M126.6 586.7v-5M151.9 518v5M151.9 586.7v-5M177.1 518v5M177.1 586.7v-5M227.6 518v5M227.6 586.7v-5M252.8 518v5M252.8 586.7v-5M278.1 518v5M278.1 586.7v-5M328.5 518v5M328.5 586.7v-5M353.8 518v5M353.8 586.7v-5M379 518v5M379 586.7v-5M429.5 518v5M429.5 586.7v-5M454.7 518v5M454.7 586.7v-5M480 518v5M480 586.7v-5M101.4 586.7v10.5M101.4 655v-10.5M202.4 586.7v10.5M202.4 655v-10.5M303.3 586.7v10.5M303.3 655v-10.5M404.2 586.7v10.5M404.2 655v-10.5M505.2 586.7v10.5M505.2 655v-10.5M76.2 586.7v5M76.2 655v-5M126.6 586.7v5M126.6 655v-5M151.9 586.7v5M151.9 655v-5M177.1 586.7v5M177.1 655v-5M227.6 586.7v5M227.6 655v-5M252.8 586.7v5M252.8 655v-5M278.1 586.7v5M278.1 655v-5M328.5 586.7v5M328.5 655v-5M353.8 586.7v5M353.8 655v-5M379 586.7v5M379 655v-5M429.5 586.7v5M429.5 655v-5M454.7 586.7v5M454.7 655v-5M480 586.7v5M480 655v-5M101.4 655v10.5M101.4 723.3v-10.5M202.4 655v10.5M202.4 723.3v-10.5M303.3 655v10.5M303.3 723.3v-10.5M404.2 655v10.5M404.2 723.3v-10.5M505.2 655v10.5M505.2 723.3v-10.5M76.2 655v5M76.2 723.3v-5M126.6 655v5M126.6 723.3v-5M151.9 655v5M151.9 723.3v-5M177.1 655v5M177.1 723.3v-5M227.6 655v5M227.6 723.3v-5M252.8 655v5M252.8 723.3v-5M278.1 655v5M278.1 723.3v-5M328.5 655v5M328.5 723.3v-5M353.8 655v5M353.8 723.3v-5M379 655v5M379 723.3v-5M429.5 655v5M429.5 723.3v-5M454.7 655v5M454.7 723.3v-5M480 655v5M480 723.3v-5" stroke="#222" stroke-width="0.9" fill="none"/>
<path d="M71.6 39.7h5.5M525.2 39.7h-5.5M71.6 71.7h5.5M525.2 71.7h-5.5M71.6 103.7h5.5M525.2 103.7h-5.5M71.6 135.6h5.5M525.2 135.6h-5.5M71.6 167.6h5.5M525.2 167.6h-5.5M71.6 159.6h2.8M525.2 159.6h-2.8M71.6 151.6h2.8M525.2 151.6h-2.8M71.6 143.6h2.8M525.2 143.6h-2.8M71.6 127.6h2.8M525.2 127.6h-2.8M71.6 119.6h2.8M525.2 119.6h-2.8M71.6 111.6h2.8M525.2 111.6h-2.8M71.6 95.7h2.8M525.2 95.7h-2.8M71.6 87.7h2.8M525.2 87.7h-2.8M71.6 79.7h2.8M525.2 79.7h-2.8M71.6 63.7h2.8M525.2 63.7h-2.8M71.6 55.7h2.8M525.2 55.7h-2.8M71.6 47.7h2.8M525.2 47.7h-2.8M71.6 184.7h5.5M525.2 184.7h-5.5M71.6 205.5h5.5M525.2 205.5h-5.5M71.6 226.3h5.5M525.2 226.3h-5.5M71.6 241.9h2.8M525.2 241.9h-2.8M71.6 236.7h2.8M525.2 236.7h-2.8M71.6 231.5h2.8M525.2 231.5h-2.8M71.6 221.1h2.8M525.2 221.1h-2.8M71.6 215.9h2.8M525.2 215.9h-2.8M71.6 210.7h2.8M525.2 210.7h-2.8M71.6 200.3h2.8M525.2 200.3h-2.8M71.6 195.1h2.8M525.2 195.1h-2.8M71.6 189.9h2.8M525.2 189.9h-2.8M71.6 179.5h2.8M525.2 179.5h-2.8M71.6 308.4h2.8M525.2 308.4h-2.8M71.6 305h2.8M525.2 305h-2.8M71.6 302.5h2.8M525.2 302.5h-2.8M71.6 300.6h2.8M525.2 300.6h-2.8M71.6 299h2.8M525.2 299h-2.8M71.6 297.7h2.8M525.2 297.7h-2.8M71.6 296.5h2.8M525.2 296.5h-2.8M71.6 295.5h2.8M525.2 295.5h-2.8M71.6 294.6h5.5M525.2 294.6h-5.5M71.6 288.6h2.8M525.2 288.6h-2.8M71.6 285.2h2.8M525.2 285.2h-2.8M71.6 282.7h2.8M525.2 282.7h-2.8M71.6 280.8h2.8M525.2 280.8h-2.8M71.6 279.2h2.8M525.2 279.2h-2.8M71.6 277.9h2.8M525.2 277.9h-2.8M71.6 276.7h2.8M525.2 276.7h-2.8M71.6 275.7h2.8M525.2 275.7h-2.8M71.6 274.8h5.5M525.2 274.8h-5.5M71.6 268.8h2.8M525.2 268.8h-2.8M71.6 265.4h2.8M525.2 265.4h-2.8M71.6 262.9h2.8M525.2 262.9h-2.8M71.6 261h2.8M525.2 261h-2.8M71.6 259.4h2.8M525.2 259.4h-2.8M71.6 258.1h2.8M525.2 258.1h-2.8M71.6 256.9h2.8M525.2 256.9h-2.8M71.6 255.9h2.8M525.2 255.9h-2.8M71.6 255h5.5M525.2 255h-5.5M71.6 249h2.8M525.2 249h-2.8M71.6 245.6h2.8M525.2 245.6h-2.8M71.6 324.7h5.5M525.2 324.7h-5.5M71.6 339.1h5.5M525.2 339.1h-5.5M71.6 353.4h5.5M525.2 353.4h-5.5M71.6 367.8h5.5M525.2 367.8h-5.5M71.6 379.3h2.8M525.2 379.3h-2.8M71.6 376.4h2.8M525.2 376.4h-2.8M71.6 373.5h2.8M525.2 373.5h-2.8M71.6 370.7h2.8M525.2 370.7h-2.8M71.6 364.9h2.8M525.2 364.9h-2.8M71.6 362.1h2.8M525.2 362.1h-2.8M71.6 359.2h2.8M525.2 359.2h-2.8M71.6 356.3h2.8M525.2 356.3h-2.8M71.6 350.6h2.8M525.2 350.6h-2.8M71.6 347.7h2.8M525.2 347.7h-2.8M71.6 344.8h2.8M525.2 344.8h-2.8M71.6 341.9h2.8M525.2 341.9h-2.8M71.6 336.2h2.8M525.2 336.2h-2.8M71.6 333.3h2.8M525.2 333.3h-2.8M71.6 330.4h2.8M525.2 330.4h-2.8M71.6 327.6h2.8M525.2 327.6h-2.8M71.6 321.8h2.8M525.2 321.8h-2.8M71.6 319h2.8M525.2 319h-2.8M71.6 316.1h2.8M525.2 316.1h-2.8M71.6 382.5h5.5M525.2 382.5h-5.5M71.6 396.6h5.5M525.2 396.6h-5.5M71.6 410.6h5.5M525.2 410.6h-5.5M71.6 424.7h5.5M525.2 424.7h-5.5M71.6 438.8h5.5M525.2 438.8h-5.5M71.6 447.2h2.8M525.2 447.2h-2.8M71.6 444.4h2.8M525.2 444.4h-2.8M71.6 441.6h2.8M525.2 441.6h-2.8M71.6 436h2.8M525.2 436h-2.8M71.6 433.2h2.8M525.2 433.2h-2.8M71.6 430.4h2.8M525.2 430.4h-2.8M71.6 427.5h2.8M525.2 427.5h-2.8M71.6 421.9h2.8M525.2 421.9h-2.8M71.6 419.1h2.8M525.2 419.1h-2.8M71.6 416.3h2.8M525.2 416.3h-2.8M71.6 413.5h2.8M525.2 413.5h-2.8M71.6 407.8h2.8M525.2 407.8h-2.8M71.6 405h2.8M525.2 405h-2.8M71.6 402.2h2.8M525.2 402.2h-2.8M71.6 399.4h2.8M525.2 399.4h-2.8M71.6 393.8h2.8M525.2 393.8h-2.8M71.6 390.9h2.8M525.2 390.9h-2.8M71.6 388.1h2.8M525.2 388.1h-2.8M71.6 385.3h2.8M525.2 385.3h-2.8M71.6 457.8h5.5M525.2 457.8h-5.5M71.6 476.3h5.5M525.2 476.3h-5.5M71.6 494.8h5.5M525.2 494.8h-5.5M71.6 513.3h5.5M525.2 513.3h-5.5M71.6 508.7h2.8M525.2 508.7h-2.8M71.6 504h2.8M525.2 504h-2.8M71.6 499.4h2.8M525.2 499.4h-2.8M71.6 490.2h2.8M525.2 490.2h-2.8M71.6 485.5h2.8M525.2 485.5h-2.8M71.6 480.9h2.8M525.2 480.9h-2.8M71.6 471.7h2.8M525.2 471.7h-2.8M71.6 467.1h2.8M525.2 467.1h-2.8M71.6 462.4h2.8M525.2 462.4h-2.8M71.6 453.2h2.8M525.2 453.2h-2.8M71.6 518.3h5.5M525.2 518.3h-5.5M71.6 535.4h5.5M525.2 535.4h-5.5M71.6 552.5h5.5M525.2 552.5h-5.5M71.6 569.6h5.5M525.2 569.6h-5.5M71.6 586.7h5.5M525.2 586.7h-5.5M71.6 582.4h2.8M525.2 582.4h-2.8M71.6 578.2h2.8M525.2 578.2h-2.8M71.6 573.9h2.8M525.2 573.9h-2.8M71.6 565.3h2.8M525.2 565.3h-2.8M71.6 561h2.8M525.2 561h-2.8M71.6 556.8h2.8M525.2 556.8h-2.8M71.6 548.2h2.8M525.2 548.2h-2.8M71.6 544h2.8M525.2 544h-2.8M71.6 539.7h2.8M525.2 539.7h-2.8M71.6 531.1h2.8M525.2 531.1h-2.8M71.6 526.8h2.8M525.2 526.8h-2.8M71.6 522.6h2.8M525.2 522.6h-2.8M71.6 650.6h2.8M525.2 650.6h-2.8M71.6 636.9h2.8M525.2 636.9h-2.8M71.6 625.8h2.8M525.2 625.8h-2.8M71.6 616.3h2.8M525.2 616.3h-2.8M71.6 608.2h2.8M525.2 608.2h-2.8M71.6 601h2.8M525.2 601h-2.8M71.6 594.5h5.5M525.2 594.5h-5.5M71.6 662.5h5.5M525.2 662.5h-5.5M71.6 682.4h5.5M525.2 682.4h-5.5M71.6 702.4h5.5M525.2 702.4h-5.5M71.6 722.3h5.5M525.2 722.3h-5.5M71.6 718.3h2.8M525.2 718.3h-2.8M71.6 714.3h2.8M525.2 714.3h-2.8M71.6 710.3h2.8M525.2 710.3h-2.8M71.6 706.4h2.8M525.2 706.4h-2.8M71.6 698.4h2.8M525.2 698.4h-2.8M71.6 694.4h2.8M525.2 694.4h-2.8M71.6 690.4h2.8M525.2 690.4h-2.8M71.6 686.4h2.8M525.2 686.4h-2.8M71.6 678.4h2.8M525.2 678.4h-2.8M71.6 674.5h2.8M525.2 674.5h-2.8M71.6 670.5h2.8M525.2 670.5h-2.8M71.6 666.5h2.8M525.2 666.5h-2.8M71.6 658.5h2.8M525.2 658.5h-2.8" stroke="#222" stroke-width="0.9" fill="none"/>
<rect x="71.6" y="33.6" width="453.6" height="134.7" fill="none" stroke="#000" stroke-width="1.3"/>
<rect x="71.6" y="176.8" width="453.6" height="68.1" fill="none" stroke="#000" stroke-width="1.3"/>
<rect x="71.6" y="244.8" width="453.6" height="68.4" fill="none" stroke="#000" stroke-width="1.3"/>
<rect x="71.6" y="313.2" width="453.6" height="68.1" fill="none" stroke="#000" stroke-width="1.3"/>
<rect x="71.6" y="381.3" width="453.6" height="68.4" fill="none" stroke="#000" stroke-width="1.3"/>
<rect x="71.6" y="449.7" width="453.6" height="68.3" fill="none" stroke="#000" stroke-width="1.3"/>
<rect x="71.6" y="518" width="453.6" height="68.7" fill="none" stroke="#000" stroke-width="1.3"/>
<rect x="71.6" y="586.7" width="453.6" height="68.3" fill="none" stroke="#000" stroke-width="1.3"/>
<rect x="71.6" y="655" width="453.6" height="68.3" fill="none" stroke="#000" stroke-width="1.3"/>
<path d="M698.2 42.2v10.5M698.2 115.4v-10.5M799.3 42.2v10.5M799.3 115.4v-10.5M900.3 42.2v10.5M900.3 115.4v-10.5M1001.3 42.2v10.5M1001.3 115.4v-10.5M1102.3 42.2v10.5M1102.3 115.4v-10.5M673 42.2v5M673 115.4v-5M723.5 42.2v5M723.5 115.4v-5M748.8 42.2v5M748.8 115.4v-5M774 42.2v5M774 115.4v-5M824.5 42.2v5M824.5 115.4v-5M849.8 42.2v5M849.8 115.4v-5M875 42.2v5M875 115.4v-5M925.5 42.2v5M925.5 115.4v-5M950.8 42.2v5M950.8 115.4v-5M976.1 42.2v5M976.1 115.4v-5M1026.6 42.2v5M1026.6 115.4v-5M1051.8 42.2v5M1051.8 115.4v-5M1077.1 42.2v5M1077.1 115.4v-5M698.2 115.4v10.5M698.2 189.6v-10.5M799.3 115.4v10.5M799.3 189.6v-10.5M900.3 115.4v10.5M900.3 189.6v-10.5M1001.3 115.4v10.5M1001.3 189.6v-10.5M1102.3 115.4v10.5M1102.3 189.6v-10.5M673 115.4v5M673 189.6v-5M723.5 115.4v5M723.5 189.6v-5M748.8 115.4v5M748.8 189.6v-5M774 115.4v5M774 189.6v-5M824.5 115.4v5M824.5 189.6v-5M849.8 115.4v5M849.8 189.6v-5M875 115.4v5M875 189.6v-5M925.5 115.4v5M925.5 189.6v-5M950.8 115.4v5M950.8 189.6v-5M976.1 115.4v5M976.1 189.6v-5M1026.6 115.4v5M1026.6 189.6v-5M1051.8 115.4v5M1051.8 189.6v-5M1077.1 115.4v5M1077.1 189.6v-5M698.2 189.6v10.5M698.2 263.3v-10.5M799.3 189.6v10.5M799.3 263.3v-10.5M900.3 189.6v10.5M900.3 263.3v-10.5M1001.3 189.6v10.5M1001.3 263.3v-10.5M1102.3 189.6v10.5M1102.3 263.3v-10.5M673 189.6v5M673 263.3v-5M723.5 189.6v5M723.5 263.3v-5M748.8 189.6v5M748.8 263.3v-5M774 189.6v5M774 263.3v-5M824.5 189.6v5M824.5 263.3v-5M849.8 189.6v5M849.8 263.3v-5M875 189.6v5M875 263.3v-5M925.5 189.6v5M925.5 263.3v-5M950.8 189.6v5M950.8 263.3v-5M976.1 189.6v5M976.1 263.3v-5M1026.6 189.6v5M1026.6 263.3v-5M1051.8 189.6v5M1051.8 263.3v-5M1077.1 189.6v5M1077.1 263.3v-5M698.2 263.3v10.5M698.2 337v-10.5M799.3 263.3v10.5M799.3 337v-10.5M900.3 263.3v10.5M900.3 337v-10.5M1001.3 263.3v10.5M1001.3 337v-10.5M1102.3 263.3v10.5M1102.3 337v-10.5M673 263.3v5M673 337v-5M723.5 263.3v5M723.5 337v-5M748.8 263.3v5M748.8 337v-5M774 263.3v5M774 337v-5M824.5 263.3v5M824.5 337v-5M849.8 263.3v5M849.8 337v-5M875 263.3v5M875 337v-5M925.5 263.3v5M925.5 337v-5M950.8 263.3v5M950.8 337v-5M976.1 263.3v5M976.1 337v-5M1026.6 263.3v5M1026.6 337v-5M1051.8 263.3v5M1051.8 337v-5M1077.1 263.3v5M1077.1 337v-5M698.2 337v10.5M698.2 410.9v-10.5M799.3 337v10.5M799.3 410.9v-10.5M900.3 337v10.5M900.3 410.9v-10.5M1001.3 337v10.5M1001.3 410.9v-10.5M1102.3 337v10.5M1102.3 410.9v-10.5M673 337v5M673 410.9v-5M723.5 337v5M723.5 410.9v-5M748.8 337v5M748.8 410.9v-5M774 337v5M774 410.9v-5M824.5 337v5M824.5 410.9v-5M849.8 337v5M849.8 410.9v-5M875 337v5M875 410.9v-5M925.5 337v5M925.5 410.9v-5M950.8 337v5M950.8 410.9v-5M976.1 337v5M976.1 410.9v-5M1026.6 337v5M1026.6 410.9v-5M1051.8 337v5M1051.8 410.9v-5M1077.1 337v5M1077.1 410.9v-5M698.2 410.9v10.5M698.2 485.3v-10.5M799.3 410.9v10.5M799.3 485.3v-10.5M900.3 410.9v10.5M900.3 485.3v-10.5M1001.3 410.9v10.5M1001.3 485.3v-10.5M1102.3 410.9v10.5M1102.3 485.3v-10.5M673 410.9v5M673 485.3v-5M723.5 410.9v5M723.5 485.3v-5M748.8 410.9v5M748.8 485.3v-5M774 410.9v5M774 485.3v-5M824.5 410.9v5M824.5 485.3v-5M849.8 410.9v5M849.8 485.3v-5M875 410.9v5M875 485.3v-5M925.5 410.9v5M925.5 485.3v-5M950.8 410.9v5M950.8 485.3v-5M976.1 410.9v5M976.1 485.3v-5M1026.6 410.9v5M1026.6 485.3v-5M1051.8 410.9v5M1051.8 485.3v-5M1077.1 410.9v5M1077.1 485.3v-5M698.2 485.3v10.5M698.2 558.6v-10.5M799.3 485.3v10.5M799.3 558.6v-10.5M900.3 485.3v10.5M900.3 558.6v-10.5M1001.3 485.3v10.5M1001.3 558.6v-10.5M1102.3 485.3v10.5M1102.3 558.6v-10.5M673 485.3v5M673 558.6v-5M723.5 485.3v5M723.5 558.6v-5M748.8 485.3v5M748.8 558.6v-5M774 485.3v5M774 558.6v-5M824.5 485.3v5M824.5 558.6v-5M849.8 485.3v5M849.8 558.6v-5M875 485.3v5M875 558.6v-5M925.5 485.3v5M925.5 558.6v-5M950.8 485.3v5M950.8 558.6v-5M976.1 485.3v5M976.1 558.6v-5M1026.6 485.3v5M1026.6 558.6v-5M1051.8 485.3v5M1051.8 558.6v-5M1077.1 485.3v5M1077.1 558.6v-5M698.2 558.6v10.5M698.2 632.6v-10.5M799.3 558.6v10.5M799.3 632.6v-10.5M900.3 558.6v10.5M900.3 632.6v-10.5M1001.3 558.6v10.5M1001.3 632.6v-10.5M1102.3 558.6v10.5M1102.3 632.6v-10.5M673 558.6v5M673 632.6v-5M723.5 558.6v5M723.5 632.6v-5M748.8 558.6v5M748.8 632.6v-5M774 558.6v5M774 632.6v-5M824.5 558.6v5M824.5 632.6v-5M849.8 558.6v5M849.8 632.6v-5M875 558.6v5M875 632.6v-5M925.5 558.6v5M925.5 632.6v-5M950.8 558.6v5M950.8 632.6v-5M976.1 558.6v5M976.1 632.6v-5M1026.6 558.6v5M1026.6 632.6v-5M1051.8 558.6v5M1051.8 632.6v-5M1077.1 558.6v5M1077.1 632.6v-5M698.2 632.6v10.5M698.2 706.4v-10.5M799.3 632.6v10.5M799.3 706.4v-10.5M900.3 632.6v10.5M900.3 706.4v-10.5M1001.3 632.6v10.5M1001.3 706.4v-10.5M1102.3 632.6v10.5M1102.3 706.4v-10.5M673 632.6v5M673 706.4v-5M723.5 632.6v5M723.5 706.4v-5M748.8 632.6v5M748.8 706.4v-5M774 632.6v5M774 706.4v-5M824.5 632.6v5M824.5 706.4v-5M849.8 632.6v5M849.8 706.4v-5M875 632.6v5M875 706.4v-5M925.5 632.6v5M925.5 706.4v-5M950.8 632.6v5M950.8 706.4v-5M976.1 632.6v5M976.1 706.4v-5M1026.6 632.6v5M1026.6 706.4v-5M1051.8 632.6v5M1051.8 706.4v-5M1077.1 632.6v5M1077.1 706.4v-5" stroke="#222" stroke-width="0.9" fill="none"/>
<path d="M668.6 50.3h5.5M1122.6 50.3h-5.5M668.6 72.8h5.5M1122.6 72.8h-5.5M668.6 95.3h5.5M1122.6 95.3h-5.5M668.6 112.2h2.8M1122.6 112.2h-2.8M668.6 106.5h2.8M1122.6 106.5h-2.8M668.6 100.9h2.8M1122.6 100.9h-2.8M668.6 89.7h2.8M1122.6 89.7h-2.8M668.6 84h2.8M1122.6 84h-2.8M668.6 78.4h2.8M1122.6 78.4h-2.8M668.6 67.2h2.8M1122.6 67.2h-2.8M668.6 61.5h2.8M1122.6 61.5h-2.8M668.6 55.9h2.8M1122.6 55.9h-2.8M668.6 44.7h2.8M1122.6 44.7h-2.8M668.6 189.2h5.5M1122.6 189.2h-5.5M668.6 182.9h2.8M1122.6 182.9h-2.8M668.6 179.2h2.8M1122.6 179.2h-2.8M668.6 176.5h2.8M1122.6 176.5h-2.8M668.6 174.5h2.8M1122.6 174.5h-2.8M668.6 172.8h2.8M1122.6 172.8h-2.8M668.6 171.4h2.8M1122.6 171.4h-2.8M668.6 170.1h2.8M1122.6 170.1h-2.8M668.6 169.1h2.8M1122.6 169.1h-2.8M668.6 168.1h5.5M1122.6 168.1h-5.5M668.6 161.7h2.8M1122.6 161.7h-2.8M668.6 158h2.8M1122.6 158h-2.8M668.6 155.4h2.8M1122.6 155.4h-2.8M668.6 153.3h2.8M1122.6 153.3h-2.8M668.6 151.6h2.8M1122.6 151.6h-2.8M668.6 150.2h2.8M1122.6 150.2h-2.8M668.6 149h2.8M1122.6 149h-2.8M668.6 147.9h2.8M1122.6 147.9h-2.8M668.6 146.9h5.5M1122.6 146.9h-5.5M668.6 140.6h2.8M1122.6 140.6h-2.8M668.6 136.9h2.8M1122.6 136.9h-2.8M668.6 134.2h2.8M1122.6 134.2h-2.8M668.6 132.2h2.8M1122.6 132.2h-2.8M668.6 130.5h2.8M1122.6 130.5h-2.8M668.6 129.1h2.8M1122.6 129.1h-2.8M668.6 127.8h2.8M1122.6 127.8h-2.8M668.6 126.8h2.8M1122.6 126.8h-2.8M668.6 125.8h5.5M1122.6 125.8h-5.5M668.6 119.4h2.8M1122.6 119.4h-2.8M668.6 115.7h2.8M1122.6 115.7h-2.8M668.6 199.2h5.5M1122.6 199.2h-5.5M668.6 218.4h5.5M1122.6 218.4h-5.5M668.6 237.5h5.5M1122.6 237.5h-5.5M668.6 256.7h5.5M1122.6 256.7h-5.5M668.6 261.5h2.8M1122.6 261.5h-2.8M668.6 251.9h2.8M1122.6 251.9h-2.8M668.6 247.1h2.8M1122.6 247.1h-2.8M668.6 242.3h2.8M1122.6 242.3h-2.8M668.6 232.7h2.8M1122.6 232.7h-2.8M668.6 227.9h2.8M1122.6 227.9h-2.8M668.6 223.2h2.8M1122.6 223.2h-2.8M668.6 213.6h2.8M1122.6 213.6h-2.8M668.6 208.8h2.8M1122.6 208.8h-2.8M668.6 204h2.8M1122.6 204h-2.8M668.6 194.4h2.8M1122.6 194.4h-2.8M668.6 330.5h2.8M1122.6 330.5h-2.8M668.6 316h2.8M1122.6 316h-2.8M668.6 304.1h2.8M1122.6 304.1h-2.8M668.6 294h2.8M1122.6 294h-2.8M668.6 285.3h2.8M1122.6 285.3h-2.8M668.6 277.7h2.8M1122.6 277.7h-2.8M668.6 270.8h5.5M1122.6 270.8h-5.5M668.6 350.5h5.5M1122.6 350.5h-5.5M668.6 373.4h5.5M1122.6 373.4h-5.5M668.6 396.3h5.5M1122.6 396.3h-5.5M668.6 410h2.8M1122.6 410h-2.8M668.6 405.5h2.8M1122.6 405.5h-2.8M668.6 400.9h2.8M1122.6 400.9h-2.8M668.6 391.7h2.8M1122.6 391.7h-2.8M668.6 387.1h2.8M1122.6 387.1h-2.8M668.6 382.6h2.8M1122.6 382.6h-2.8M668.6 378h2.8M1122.6 378h-2.8M668.6 368.8h2.8M1122.6 368.8h-2.8M668.6 364.2h2.8M1122.6 364.2h-2.8M668.6 359.7h2.8M1122.6 359.7h-2.8M668.6 355.1h2.8M1122.6 355.1h-2.8M668.6 345.9h2.8M1122.6 345.9h-2.8M668.6 341.3h2.8M1122.6 341.3h-2.8M668.6 423.3h5.5M1122.6 423.3h-5.5M668.6 447.9h5.5M1122.6 447.9h-5.5M668.6 472.5h5.5M1122.6 472.5h-5.5M668.6 482.3h2.8M1122.6 482.3h-2.8M668.6 477.4h2.8M1122.6 477.4h-2.8M668.6 467.6h2.8M1122.6 467.6h-2.8M668.6 462.7h2.8M1122.6 462.7h-2.8M668.6 457.7h2.8M1122.6 457.7h-2.8M668.6 452.8h2.8M1122.6 452.8h-2.8M668.6 443h2.8M1122.6 443h-2.8M668.6 438.1h2.8M1122.6 438.1h-2.8M668.6 433.1h2.8M1122.6 433.1h-2.8M668.6 428.2h2.8M1122.6 428.2h-2.8M668.6 418.4h2.8M1122.6 418.4h-2.8M668.6 413.5h2.8M1122.6 413.5h-2.8M668.6 489.7h5.5M1122.6 489.7h-5.5M668.6 513h5.5M1122.6 513h-5.5M668.6 536.3h5.5M1122.6 536.3h-5.5M668.6 553.8h2.8M1122.6 553.8h-2.8M668.6 547.9h2.8M1122.6 547.9h-2.8M668.6 542.1h2.8M1122.6 542.1h-2.8M668.6 530.5h2.8M1122.6 530.5h-2.8M668.6 524.6h2.8M1122.6 524.6h-2.8M668.6 518.8h2.8M1122.6 518.8h-2.8M668.6 507.2h2.8M1122.6 507.2h-2.8M668.6 501.3h2.8M1122.6 501.3h-2.8M668.6 495.5h2.8M1122.6 495.5h-2.8M668.6 561.7h5.5M1122.6 561.7h-5.5M668.6 577.1h5.5M1122.6 577.1h-5.5M668.6 592.5h5.5M1122.6 592.5h-5.5M668.6 607.9h5.5M1122.6 607.9h-5.5M668.6 623.3h5.5M1122.6 623.3h-5.5M668.6 631h2.8M1122.6 631h-2.8M668.6 627.1h2.8M1122.6 627.1h-2.8M668.6 619.4h2.8M1122.6 619.4h-2.8M668.6 615.6h2.8M1122.6 615.6h-2.8M668.6 611.8h2.8M1122.6 611.8h-2.8M668.6 604h2.8M1122.6 604h-2.8M668.6 600.2h2.8M1122.6 600.2h-2.8M668.6 596.4h2.8M1122.6 596.4h-2.8M668.6 588.6h2.8M1122.6 588.6h-2.8M668.6 584.8h2.8M1122.6 584.8h-2.8M668.6 581h2.8M1122.6 581h-2.8M668.6 573.2h2.8M1122.6 573.2h-2.8M668.6 569.4h2.8M1122.6 569.4h-2.8M668.6 565.6h2.8M1122.6 565.6h-2.8M668.6 637.2h5.5M1122.6 637.2h-5.5M668.6 658.7h5.5M1122.6 658.7h-5.5M668.6 680.2h5.5M1122.6 680.2h-5.5M668.6 701.7h5.5M1122.6 701.7h-5.5M668.6 696.3h2.8M1122.6 696.3h-2.8M668.6 691h2.8M1122.6 691h-2.8M668.6 685.6h2.8M1122.6 685.6h-2.8M668.6 674.8h2.8M1122.6 674.8h-2.8M668.6 669.5h2.8M1122.6 669.5h-2.8M668.6 664.1h2.8M1122.6 664.1h-2.8M668.6 653.3h2.8M1122.6 653.3h-2.8M668.6 648h2.8M1122.6 648h-2.8M668.6 642.6h2.8M1122.6 642.6h-2.8" stroke="#222" stroke-width="0.9" fill="none"/>
<rect x="668.6" y="42.2" width="454" height="73.2" fill="none" stroke="#000" stroke-width="1.15"/>
<rect x="668.6" y="115.4" width="454" height="74.2" fill="none" stroke="#000" stroke-width="1.15"/>
<rect x="668.6" y="189.6" width="454" height="73.7" fill="none" stroke="#000" stroke-width="1.15"/>
<rect x="668.6" y="263.3" width="454" height="73.7" fill="none" stroke="#000" stroke-width="1.15"/>
<rect x="668.6" y="337" width="454" height="73.9" fill="none" stroke="#000" stroke-width="1.15"/>
<rect x="668.6" y="410.9" width="454" height="74.4" fill="none" stroke="#000" stroke-width="1.15"/>
<rect x="668.6" y="485.3" width="454" height="73.3" fill="none" stroke="#000" stroke-width="1.15"/>
<rect x="668.6" y="558.6" width="454" height="74" fill="none" stroke="#000" stroke-width="1.15"/>
<rect x="668.6" y="632.6" width="454" height="73.8" fill="none" stroke="#000" stroke-width="1.15"/>
<text x="69.2" y="43.4" font-size="10.5" text-anchor="end">40</text>
<text x="69.2" y="75.4" font-size="10.5" text-anchor="end">20</text>
<text x="69.2" y="107.4" font-size="10.5" text-anchor="end">0</text>
<text x="69.2" y="139.4" font-size="10.5" text-anchor="end">-20</text>
<text x="69.2" y="170.3" font-size="10.5" text-anchor="end">-40</text>
<text x="69.2" y="188.4" font-size="10.5" text-anchor="end">20</text>
<text x="69.2" y="208.7" font-size="10.5" text-anchor="end">0</text>
<text x="69.2" y="230" font-size="10.5" text-anchor="end">-20</text>
<text x="69.2" y="328.4" font-size="10.5" text-anchor="end">300</text>
<text x="69.2" y="342.4" font-size="10.5" text-anchor="end">250</text>
<text x="69.2" y="356.9" font-size="10.5" text-anchor="end">200</text>
<text x="69.2" y="371.5" font-size="10.5" text-anchor="end">150</text>
<text x="69.2" y="461.5" font-size="10.5" text-anchor="end">12</text>
<text x="69.2" y="480" font-size="10.5" text-anchor="end">10</text>
<text x="69.2" y="498.7" font-size="10.5" text-anchor="end">8</text>
<text x="69.2" y="517" font-size="10.5" text-anchor="end">6</text>
<text x="69.2" y="598.4" font-size="10.5" text-anchor="end">10<tspan dy="-4" font-size="8.6">3</tspan><tspan dy="4" font-size="1">&#8203;</tspan></text>
<text x="527.1" y="258.7" font-size="10.5">10<tspan dy="-4" font-size="8.6">4</tspan><tspan dy="4" font-size="1">&#8203;</tspan></text>
<text x="527.1" y="278.5" font-size="10.5">10<tspan dy="-4" font-size="8.6">3</tspan><tspan dy="4" font-size="1">&#8203;</tspan></text>
<text x="527.1" y="298.3" font-size="10.5">10<tspan dy="-4" font-size="8.6">2</tspan><tspan dy="4" font-size="1">&#8203;</tspan></text>
<text x="527.1" y="386.2" font-size="10.5">200</text>
<text x="527.1" y="400.1" font-size="10.5">100</text>
<text x="527.1" y="414.2" font-size="10.5">0</text>
<text x="527.1" y="428.4" font-size="10.5">-100</text>
<text x="527.1" y="442.5" font-size="10.5">-200</text>
<text x="527.1" y="523.1" font-size="10.5">0.8</text>
<text x="527.1" y="540" font-size="10.5">0.6</text>
<text x="527.1" y="557" font-size="10.5">0.4</text>
<text x="527.1" y="573.5" font-size="10.5">0.2</text>
<text x="527.1" y="590.2" font-size="10.5">0.0</text>
<text x="527.1" y="666.2" font-size="10.5">1.5</text>
<text x="527.1" y="686.2" font-size="10.5">1.0</text>
<text x="527.1" y="706.2" font-size="10.5">0.5</text>
<text x="527.1" y="725.7" font-size="10.5">0.0</text>
<text x="665.2" y="54" font-size="10.5" text-anchor="end">20</text>
<text x="665.2" y="76.2" font-size="10.5" text-anchor="end">0</text>
<text x="665.2" y="99" font-size="10.5" text-anchor="end">-20</text>
<text x="665.2" y="202.9" font-size="10.5" text-anchor="end">200</text>
<text x="665.2" y="222" font-size="10.5" text-anchor="end">0</text>
<text x="665.2" y="241.2" font-size="10.5" text-anchor="end">-200</text>
<text x="665.2" y="260.4" font-size="10.5" text-anchor="end">-400</text>
<text x="665.2" y="354.2" font-size="10.5" text-anchor="end">5</text>
<text x="665.2" y="377" font-size="10.5" text-anchor="end">0</text>
<text x="665.2" y="400" font-size="10.5" text-anchor="end">-5</text>
<text x="665.2" y="493.4" font-size="10.5" text-anchor="end">0.6</text>
<text x="665.2" y="516.2" font-size="10.5" text-anchor="end">0.4</text>
<text x="665.2" y="540" font-size="10.5" text-anchor="end">0.2</text>
<text x="665.2" y="640.9" font-size="10.5" text-anchor="end">0.4</text>
<text x="665.2" y="662.4" font-size="10.5" text-anchor="end">0.2</text>
<text x="665.2" y="683.7" font-size="10.5" text-anchor="end">0.0</text>
<text x="665.2" y="705.4" font-size="10.5" text-anchor="end">-0.2</text>
<text x="1124.5" y="129.5" font-size="10.5">10<tspan dy="-4" font-size="8.6">4</tspan><tspan dy="4" font-size="1">&#8203;</tspan></text>
<text x="1124.5" y="150.9" font-size="10.5">10<tspan dy="-4" font-size="8.6">3</tspan><tspan dy="4" font-size="1">&#8203;</tspan></text>
<text x="1124.5" y="171.9" font-size="10.5">10<tspan dy="-4" font-size="8.6">2</tspan><tspan dy="4" font-size="1">&#8203;</tspan></text>
<text x="1124.5" y="192.9" font-size="10.5">10<tspan dy="-4" font-size="8.6">1</tspan><tspan dy="4" font-size="1">&#8203;</tspan></text>
<text x="1124.5" y="274.5" font-size="10.5">10<tspan dy="-4" font-size="8.6">2</tspan><tspan dy="4" font-size="1">&#8203;</tspan></text>
<text x="1124.5" y="427" font-size="10.5">10</text>
<text x="1124.5" y="452" font-size="10.5">0</text>
<text x="1124.5" y="476.2" font-size="10.5">-10</text>
<text x="1124.5" y="565.4" font-size="10.5">0.4</text>
<text x="1124.5" y="580.4" font-size="10.5">0.2</text>
<text x="1124.5" y="595.7" font-size="10.5">0.0</text>
<text x="1124.5" y="611.2" font-size="10.5">-0.2</text>
<text x="1124.5" y="627" font-size="10.5">-0.4</text>
<text transform="translate(47.5 101.3) rotate(-90)" font-size="11" text-anchor="middle">B<tspan dy="3" font-size="8">L</tspan><tspan dy="-3" font-size="1">&#8203;</tspan>,|B| [nT]</text>
<text transform="translate(42.5 211) rotate(-90)" font-size="11" text-anchor="middle">B<tspan dy="3" font-size="8">LMN</tspan><tspan dy="-3" font-size="1">&#8203;</tspan> [nT]</text>
<text transform="translate(557.7 279) rotate(-90)" font-size="11" text-anchor="middle">Energy (eV)</text>
<text transform="translate(42.5 347.5) rotate(-90)" font-size="11" text-anchor="middle">| V<tspan dy="3" font-size="8">i</tspan><tspan dy="-3" font-size="1">&#8203;</tspan> | [km/s]</text>
<text transform="translate(562.5 417) rotate(-90)" font-size="11" text-anchor="middle">V<tspan dy="3" font-size="8">i LMN</tspan><tspan dy="-3" font-size="1">&#8203;</tspan> [km/s]</text>
<text transform="translate(45 484.6) rotate(-90)" font-size="11" text-anchor="middle">N [cm<tspan dy="-4" font-size="8.6">-3</tspan><tspan dy="4" font-size="1">&#8203;</tspan>]</text>
<text transform="translate(557.5 552.5) rotate(-90)" font-size="11" text-anchor="middle">N<tspan dy="3" font-size="8">i</tspan><tspan dy="-3" font-size="1">&#8203;</tspan> [cm<tspan dy="-4" font-size="8.6">-3</tspan><tspan dy="4" font-size="1">&#8203;</tspan>]</text>
<text transform="translate(38.3 621) rotate(-90)" font-size="11" text-anchor="middle">T<tspan dy="3" font-size="8">i</tspan><tspan dy="-3" font-size="1">&#8203;</tspan> [eV]</text>
<text transform="translate(562.5 690) rotate(-90)" font-size="11" text-anchor="middle">P [nPa]</text>
<text transform="translate(639.2 79.6) rotate(-90)" font-size="11" text-anchor="middle">B<tspan dy="3" font-size="8">LMN</tspan><tspan dy="-3" font-size="1">&#8203;</tspan> [nT]</text>
<text transform="translate(1154.7 153.3) rotate(-90)" font-size="11" text-anchor="middle">Energy (eV)</text>
<text transform="translate(637.5 227.5) rotate(-90)" font-size="11" text-anchor="middle">V<tspan dy="3" font-size="8">e LMN</tspan><tspan dy="-3" font-size="1">&#8203;</tspan> [km/s]</text>
<text transform="translate(1159.2 300.8) rotate(-90)" font-size="11" text-anchor="middle">T<tspan dy="3" font-size="8">e</tspan><tspan dy="-3" font-size="1">&#8203;</tspan> [eV]</text>
<text transform="translate(641.7 375) rotate(-90)" font-size="11" text-anchor="middle">E<tspan dy="3" font-size="8">LMN</tspan><tspan dy="-3" font-size="1">&#8203;</tspan>  [mV m<tspan dy="-4" font-size="8.6">-1</tspan><tspan dy="4" font-size="1">&#8203;</tspan>]</text>
<text transform="translate(1154.2 448.3) rotate(-90)" font-size="11" text-anchor="middle">E<tspan dy="3" font-size="8">M</tspan><tspan dy="-3" font-size="1">&#8203;</tspan> [mW m<tspan dy="-4" font-size="8.6">-2</tspan><tspan dy="4" font-size="1">&#8203;</tspan>]</text>
<text transform="translate(645 522) rotate(-90)" font-size="11" text-anchor="middle">|J| [&#181;A m<tspan dy="-4" font-size="8.6">-2</tspan><tspan dy="4" font-size="1">&#8203;</tspan>]</text>
<text transform="translate(1160 595) rotate(-90)" font-size="11" text-anchor="middle">J [&#181;A m<tspan dy="-4" font-size="8.6">-2</tspan><tspan dy="4" font-size="1">&#8203;</tspan>]</text>
<text transform="translate(641.7 670) rotate(-90)" font-size="11" text-anchor="middle">J*E' [nW m<tspan dy="-4" font-size="8.6">-3</tspan><tspan dy="4" font-size="1">&#8203;</tspan>]</text>
<text x="101.4" y="740" font-size="11" text-anchor="middle">00:51:20</text>
<text x="100.6" y="760.5" font-size="11" text-anchor="middle">4.79</text>
<text x="100.6" y="779.2" font-size="11" text-anchor="middle">-10.3</text>
<text x="100.6" y="796.6" font-size="11" text-anchor="middle">-1.07</text>
<text x="202.4" y="740" font-size="11" text-anchor="middle">00:51:40</text>
<text x="201.6" y="760.5" font-size="11" text-anchor="middle">4.8</text>
<text x="201.6" y="779.2" font-size="11" text-anchor="middle">-10.3</text>
<text x="201.6" y="796.6" font-size="11" text-anchor="middle">-1.07</text>
<text x="303.3" y="740" font-size="11" text-anchor="middle">00:52:00</text>
<text x="302.5" y="760.5" font-size="11" text-anchor="middle">4.8</text>
<text x="302.5" y="779.2" font-size="11" text-anchor="middle">-10.3</text>
<text x="302.5" y="796.6" font-size="11" text-anchor="middle">-1.07</text>
<text x="404.2" y="740" font-size="11" text-anchor="middle">00:52:20</text>
<text x="403.4" y="760.5" font-size="11" text-anchor="middle">4.8</text>
<text x="403.4" y="779.2" font-size="11" text-anchor="middle">-10.3</text>
<text x="403.4" y="796.6" font-size="11" text-anchor="middle">-1.07</text>
<text x="505.2" y="740" font-size="11" text-anchor="middle">00:52:40</text>
<text x="504.4" y="760.5" font-size="11" text-anchor="middle">4.8</text>
<text x="504.4" y="779.2" font-size="11" text-anchor="middle">-10.3</text>
<text x="504.4" y="796.6" font-size="11" text-anchor="middle">-1.07</text>
<text x="54" y="760.5" font-size="11" text-anchor="middle">X</text>
<text x="538.7" y="760.5" font-size="11">Re</text>
<text x="54" y="779.2" font-size="11" text-anchor="middle">Y</text>
<text x="538.7" y="779.2" font-size="11">Re</text>
<text x="54" y="796.6" font-size="11" text-anchor="middle">Z</text>
<text x="538.7" y="796.6" font-size="11">Re</text>
<text x="698.2" y="723.7" font-size="11" text-anchor="middle">00:51:20</text>
<text x="697.5" y="746" font-size="11" text-anchor="middle">4.79</text>
<text x="697.5" y="764" font-size="11" text-anchor="middle">-10.3</text>
<text x="697.5" y="780.7" font-size="11" text-anchor="middle">-1.07</text>
<text x="799.3" y="723.7" font-size="11" text-anchor="middle">00:51:40</text>
<text x="798.5" y="746" font-size="11" text-anchor="middle">4.8</text>
<text x="798.5" y="764" font-size="11" text-anchor="middle">-10.3</text>
<text x="798.5" y="780.7" font-size="11" text-anchor="middle">-1.07</text>
<text x="900.3" y="723.7" font-size="11" text-anchor="middle">00:52:00</text>
<text x="899.5" y="746" font-size="11" text-anchor="middle">4.8</text>
<text x="899.5" y="764" font-size="11" text-anchor="middle">-10.3</text>
<text x="899.5" y="780.7" font-size="11" text-anchor="middle">-1.07</text>
<text x="1001.3" y="723.7" font-size="11" text-anchor="middle">00:52:20</text>
<text x="1000.5" y="746" font-size="11" text-anchor="middle">4.8</text>
<text x="1000.5" y="764" font-size="11" text-anchor="middle">-10.3</text>
<text x="1000.5" y="780.7" font-size="11" text-anchor="middle">-1.07</text>
<text x="1102.3" y="723.7" font-size="11" text-anchor="middle">00:52:40</text>
<text x="1101.5" y="746" font-size="11" text-anchor="middle">4.8</text>
<text x="1101.5" y="764" font-size="11" text-anchor="middle">-10.3</text>
<text x="1101.5" y="780.7" font-size="11" text-anchor="middle">-1.07</text>
<text x="650.5" y="746" font-size="11" text-anchor="middle">X</text>
<text x="1136.1" y="746" font-size="11">Re</text>
<text x="650.5" y="764" font-size="11" text-anchor="middle">Y</text>
<text x="1136.1" y="764" font-size="11">Re</text>
<text x="650.5" y="780.7" font-size="11" text-anchor="middle">Z</text>
<text x="1136.1" y="780.7" font-size="11">Re</text>
<line x1="77.8" y1="37.7" x2="95.8" y2="37.7" stroke="#ff0000" stroke-width="1.2" stroke-dasharray="5 2"/>
<text x="96.3" y="40.8" font-size="8.9" fill="#ff0000">t&#160; cs</text>
<line x1="77.8" y1="45.1" x2="95.8" y2="45.1" stroke="#1ea01e" stroke-width="1.2" stroke-dasharray="5 2"/>
<text x="96.3" y="48.2" font-size="8.9" fill="#1e8c1e">t&#160; HT</text>
<text x="96.3" y="56.3" font-size="8.9" fill="#00ff00">t&#160; MVAB</text>
<line x1="77.8" y1="60.9" x2="95.8" y2="60.9" stroke="#aaa" stroke-width="2.6" stroke-dasharray="8 2"/>
<text x="96.3" y="64" font-size="8.9" fill="#a8a8a8">t&#160; BLminmax</text>
<line x1="77.8" y1="68.4" x2="95.8" y2="68.4" stroke="#4040ff" stroke-width="1" stroke-dasharray="5 2"/>
<text x="96.3" y="71.5" font-size="8.9" fill="#0000ff">BL, 50% of BL</text>
<line x1="77.8" y1="76.4" x2="95.8" y2="76.4" stroke="#3030ff" stroke-width="1"/>
<text x="96.3" y="79.5" font-size="8.9" fill="#0000ff">BL&#160; brst</text>
<line x1="79.3" y1="83.7" x2="97.3" y2="83.7" stroke="#999" stroke-width="1"/>
<text x="97.8" y="86.8" font-size="8.9" fill="#555">|B|</text>
<line x1="78" y1="186.3" x2="96" y2="186.3" stroke="#3030ff" stroke-width="1"/>
<text x="96.5" y="189.4" font-size="8.9" fill="#0000ff">B<tspan dy="2.5" font-size="6.5">L</tspan><tspan dy="-2.5" font-size="1">&#8203;</tspan></text>
<line x1="78" y1="209" x2="96" y2="209" stroke="#40ff40" stroke-width="1"/>
<text x="96.5" y="212.1" font-size="8.9" fill="#00ff00">B<tspan dy="2.5" font-size="6.5">M</tspan><tspan dy="-2.5" font-size="1">&#8203;</tspan></text>
<line x1="78" y1="231.3" x2="96" y2="231.3" stroke="#ff4040" stroke-width="1"/>
<text x="96.5" y="234.4" font-size="8.9" fill="#ff0000">B<tspan dy="2.5" font-size="6.5">N</tspan><tspan dy="-2.5" font-size="1">&#8203;</tspan></text>
<line x1="77.8" y1="317.3" x2="95.8" y2="317.3" stroke="#1ec01e" stroke-width="1.2" stroke-dasharray="5 2"/>
<text x="96.3" y="320.4" font-size="8.9" fill="#1e8c1e">t&#160; HT</text>
<line x1="77.8" y1="324" x2="93" y2="324" stroke="#20c0ff" stroke-width="1.2" stroke-dasharray="1.5 1.5"/>
<text x="93.5" y="327.1" font-size="8.9" fill="#20b0ff">t&#160; vmax</text>
<line x1="77.8" y1="331" x2="95.8" y2="331" stroke="#ff0000" stroke-width="1.2" stroke-dasharray="5 2"/>
<text x="96.3" y="334.1" font-size="8.9" fill="#ff0000">t&#160; cs</text>
<line x1="77.8" y1="338.2" x2="93" y2="338.2" stroke="#0000ff" stroke-width="1.2" stroke-dasharray="1.5 1.5"/>
<text x="93.5" y="341.3" font-size="8.9" fill="#0000ff">t&#160; dvmax</text>
<line x1="77.8" y1="345" x2="95.8" y2="345" stroke="#333" stroke-width="1"/>
<text x="96.3" y="348.1" font-size="8.9" fill="#333">|V<tspan dy="2.5" font-size="6.5">i</tspan><tspan dy="-2.5" font-size="1">&#8203;</tspan>|</text>
<line x1="78" y1="389.3" x2="96" y2="389.3" stroke="#3030ff" stroke-width="1"/>
<text x="96.5" y="392.4" font-size="8.9" fill="#0000ff">V<tspan dy="2.5" font-size="6.5">L</tspan><tspan dy="-2.5" font-size="1">&#8203;</tspan></text>
<line x1="78" y1="404.6" x2="96" y2="404.6" stroke="#40ff40" stroke-width="1"/>
<text x="96.5" y="407.7" font-size="8.9" fill="#00ff00">V<tspan dy="2.5" font-size="6.5">M</tspan><tspan dy="-2.5" font-size="1">&#8203;</tspan></text>
<line x1="78" y1="419.2" x2="96" y2="419.2" stroke="#ff4040" stroke-width="1"/>
<text x="96.5" y="422.3" font-size="8.9" fill="#ff0000">V<tspan dy="2.5" font-size="6.5">N</tspan><tspan dy="-2.5" font-size="1">&#8203;</tspan></text>
<line x1="78" y1="457" x2="96" y2="457" stroke="#ff4040" stroke-width="1"/>
<text x="96.5" y="460.1" font-size="8.9" fill="#ff0000">N<tspan dy="2.5" font-size="6.5">e</tspan><tspan dy="-2.5" font-size="1">&#8203;</tspan></text>
<line x1="78" y1="470.8" x2="96" y2="470.8" stroke="#444" stroke-width="1"/>
<text x="96.5" y="473.9" font-size="8.9" fill="#224">N<tspan dy="2.5" font-size="6.5">i</tspan><tspan dy="-2.5" font-size="1">&#8203;</tspan></text>
<line x1="78" y1="523.3" x2="96" y2="523.3" stroke="#00ff00" stroke-width="1.2"/>
<circle cx="87.2" cy="523.3" r="2" fill="#00ff00"/>
<text x="96.5" y="526.4" font-size="8.9" fill="#00ff00">N&#160; He+</text>
<line x1="78" y1="532.5" x2="96" y2="532.5" stroke="#ff0000" stroke-width="1.2"/>
<circle cx="87.2" cy="532.5" r="2" fill="#ff0000"/>
<text x="96.5" y="535.6" font-size="8.9" fill="#ff0000">N&#160; He++</text>
<line x1="78" y1="541.7" x2="96" y2="541.7" stroke="#0000ff" stroke-width="1.2"/>
<circle cx="87.2" cy="541.7" r="2" fill="#0000ff"/>
<text x="96.5" y="544.8" font-size="8.9" fill="#0000ff">N&#160; O+</text>
<line x1="78" y1="596" x2="96" y2="596" stroke="#ff4040" stroke-width="1"/>
<text x="96.5" y="599.1" font-size="8.9" fill="#ff0000">T<tspan dy="2.5" font-size="6.5">||</tspan><tspan dy="-2.5" font-size="1">&#8203;</tspan></text>
<line x1="78" y1="615.2" x2="96" y2="615.2" stroke="#444" stroke-width="1"/>
<text x="96.5" y="618.3" font-size="8.9" fill="#222">T</text>
<line x1="78.3" y1="660.3" x2="96.3" y2="660.3" stroke="#40ff40" stroke-width="1"/>
<text x="96.8" y="663.4" font-size="10" fill="#00ff00">P<tspan dy="2.5" font-size="6.5">h</tspan><tspan dy="-2.5" font-size="1">&#8203;</tspan></text>
<line x1="78.3" y1="672" x2="96.3" y2="672" stroke="#ff4040" stroke-width="1"/>
<text x="96.8" y="675.1" font-size="10" fill="#ff0000">P<tspan dy="2.5" font-size="6.5">e</tspan><tspan dy="-2.5" font-size="1">&#8203;</tspan></text>
<line x1="78.3" y1="683" x2="96.3" y2="683" stroke="#444" stroke-width="1"/>
<text x="96.8" y="686.1" font-size="10" fill="#222">P<tspan dy="2.5" font-size="6.5">b</tspan><tspan dy="-2.5" font-size="1">&#8203;</tspan></text>
<line x1="78.3" y1="694" x2="96.3" y2="694" stroke="#3030ff" stroke-width="1"/>
<text x="96.8" y="697.1" font-size="10" fill="#0000ff">P<tspan dy="2.5" font-size="6.5">tot</tspan><tspan dy="-2.5" font-size="1">&#8203;</tspan></text>
<line x1="674.4" y1="54.5" x2="692.4" y2="54.5" stroke="#3030ff" stroke-width="1"/>
<text x="692.9" y="57.6" font-size="8.9" fill="#0000ff">B<tspan dy="2.5" font-size="6.5">L</tspan><tspan dy="-2.5" font-size="1">&#8203;</tspan></text>
<line x1="674.4" y1="79.5" x2="692.4" y2="79.5" stroke="#40ff40" stroke-width="1"/>
<text x="692.9" y="82.6" font-size="8.9" fill="#00ff00">B<tspan dy="2.5" font-size="6.5">M</tspan><tspan dy="-2.5" font-size="1">&#8203;</tspan></text>
<line x1="674.4" y1="104" x2="692.4" y2="104" stroke="#ff4040" stroke-width="1"/>
<text x="692.9" y="107.1" font-size="8.9" fill="#ff0000">B<tspan dy="2.5" font-size="6.5">N</tspan><tspan dy="-2.5" font-size="1">&#8203;</tspan></text>
<line x1="674.4" y1="198" x2="692.4" y2="198" stroke="#3030ff" stroke-width="1"/>
<text x="692.9" y="201.1" font-size="8.9" fill="#0000ff">V<tspan dy="2.5" font-size="6.5">L</tspan><tspan dy="-2.5" font-size="1">&#8203;</tspan></text>
<line x1="674.4" y1="213.5" x2="692.4" y2="213.5" stroke="#40ff40" stroke-width="1"/>
<text x="692.9" y="216.6" font-size="8.9" fill="#00ff00">V<tspan dy="2.5" font-size="6.5">M</tspan><tspan dy="-2.5" font-size="1">&#8203;</tspan></text>
<line x1="674.4" y1="229.5" x2="692.4" y2="229.5" stroke="#ff4040" stroke-width="1"/>
<text x="692.9" y="232.6" font-size="8.9" fill="#ff0000">V<tspan dy="2.5" font-size="6.5">N</tspan><tspan dy="-2.5" font-size="1">&#8203;</tspan></text>
<line x1="674.4" y1="271" x2="692.4" y2="271" stroke="#ff4040" stroke-width="1"/>
<text x="692.9" y="274.1" font-size="8.9" fill="#ff0000">T<tspan dy="2.5" font-size="6.5">||</tspan><tspan dy="-2.5" font-size="1">&#8203;</tspan></text>
<line x1="674.4" y1="285.8" x2="692.4" y2="285.8" stroke="#333" stroke-width="1"/>
<text x="692.9" y="288.9" font-size="8.9" fill="#111">T</text>
<line x1="674.5" y1="342.7" x2="694.7" y2="342.7" stroke="#3030ff" stroke-width="1"/>
<text x="695.2" y="345.8" font-size="8.9" fill="#0000ff">E<tspan dy="2.5" font-size="6.5">L</tspan><tspan dy="-2.5" font-size="1">&#8203;</tspan></text>
<line x1="674.5" y1="352.5" x2="694.7" y2="352.5" stroke="#40ff40" stroke-width="1"/>
<text x="695.2" y="355.6" font-size="8.9" fill="#00ff00">E<tspan dy="2.5" font-size="6.5">M</tspan><tspan dy="-2.5" font-size="1">&#8203;</tspan></text>
<line x1="674.5" y1="362.3" x2="694.7" y2="362.3" stroke="#ff4040" stroke-width="1"/>
<text x="695.2" y="365.4" font-size="8.9" fill="#ff0000">E<tspan dy="2.5" font-size="6.5">N</tspan><tspan dy="-2.5" font-size="1">&#8203;</tspan></text>
<line x1="674.4" y1="416.5" x2="692.4" y2="416.5" stroke="#444" stroke-width="1"/>
<text x="692.9" y="419.6" font-size="8.9" fill="#222">-(VexB)<tspan dy="2.5" font-size="6">M</tspan><tspan dy="-2.5" font-size="1">&#8203;</tspan></text>
<line x1="674.4" y1="428.3" x2="692.4" y2="428.3" stroke="#40ff40" stroke-width="1"/>
<text x="692.9" y="431.4" font-size="8.9" fill="#00ff00">E<tspan dy="2.5" font-size="6.5">M</tspan><tspan dy="-2.5" font-size="1">&#8203;</tspan></text>
<line x1="674.4" y1="500.3" x2="692.4" y2="500.3" stroke="#555" stroke-width="1"/>
<text x="692.9" y="503.4" font-size="8.9" fill="#235">|J|</text>
<line x1="674.4" y1="563.2" x2="692.4" y2="563.2" stroke="#ff00ff" stroke-width="1.3" stroke-dasharray="1.5 1"/>
<text x="692.9" y="566.3" font-size="8.9" fill="#ff00ff">t&#160; maxJ</text>
<line x1="674.4" y1="570.8" x2="692.4" y2="570.8" stroke="#3030ff" stroke-width="1"/>
<text x="692.9" y="573.9" font-size="8.9" fill="#0000ff">J<tspan dy="2.5" font-size="6.5">L</tspan><tspan dy="-2.5" font-size="1">&#8203;</tspan></text>
<line x1="674.4" y1="577.7" x2="692.4" y2="577.7" stroke="#40ff40" stroke-width="1"/>
<text x="692.9" y="580.8" font-size="8.9" fill="#00ff00">J<tspan dy="2.5" font-size="6.5">M</tspan><tspan dy="-2.5" font-size="1">&#8203;</tspan></text>
<line x1="674.4" y1="585.3" x2="692.4" y2="585.3" stroke="#ff4040" stroke-width="1"/>
<text x="692.9" y="588.4" font-size="8.9" fill="#ff0000">J<tspan dy="2.5" font-size="6.5">N</tspan><tspan dy="-2.5" font-size="1">&#8203;</tspan></text>
<line x1="674.5" y1="647.7" x2="694.7" y2="647.7" stroke="#444" stroke-width="1"/>
<text x="695.2" y="650.8" font-size="8.9" fill="#222">J*E'</text>
</svg>
<pre>:
 Event ID         : 20160219_005114
 FlagStr          : ot,udef,nmon,bf,mult,part,keep
 GSEpos [Re]      : [ 4.79, -10.30, -1.07 ]
                  :
 LMN coords       :
    L             : [  0.019, -0.469,  0.883 ]
    M             : [  0.880,  0.426,  0.208 ]
    N             : [  0.474, -0.773, -0.421 ]
                  :
  Times           : (as indicated by red, green lines in plots)
    t_0           : 00:52:08  (red dotted line)
    t_MVAB1       : 00:50:39  (leftmost green line)
    t_MVAB2       : 00:53:17  (rightmost green line)
                  :
|Bmin|, |Vmax|    :
    Bmin          : 6.52 [nT]  at 00:52:09
    Vmax_tht      : 323.01 [km/s]  at 00:52:43
    Vmax_tburst   : 323.01 [km/s]  at 00:52:37
                  :
 Normals          :
    N MVAB        : [  0.473, -0.775, -0.418 ]   (L2/L1 = 1.57)
    N MVAB0       : [  0.168,  0.910,  0.379 ]   (L3/L2 = 2.23)
    N MFR         : [  0.375,  0.820,  0.433 ]   (L2/L1 = 1.61)
                  :
 Durations [s]    : (between red, resp green lines)
    T_CS          : 118.69
    T_MFR/HT      : 237.38
                  :
 Velocity [km/s]  : (based on FPI ion data)
    VnMFR         : -145.1
    VHT.Nmvab     : 122.0  (HTcc = 0.964)
    VHT.Nmvab0    : 157.8
                  :
 CS thickness [km]: (D=T_CS * Vs from above)
    D1=TCS*Vnmfr  : 17,225
    D2=TCS*VHTn   : 14,477
    D3=TCS*VHTn0  : 18,729
                  :
 Currents [uA/m2] :
    Jave_CS       : 0.017
    Jmax_THT      : 0.632  at 00:51:44
    Jmax_brst     : 0.632  at 00:51:44
                  :
 HPCA mom [1/cm3] :   Min   -  Max    (  Ave   )  within full brst int
    H+            :  13.253 - 19.628  ( 16.503 )
    He+           :   0.000 -  0.000  (  0.000 )
    He++          :   0.451 -  0.810  (  0.539 )
    O+            :   0.001 -  0.007  (  0.001 )
                  :
 SEH date         : 2019-11-29 09:48:18
                  :</pre>
</body></html>
